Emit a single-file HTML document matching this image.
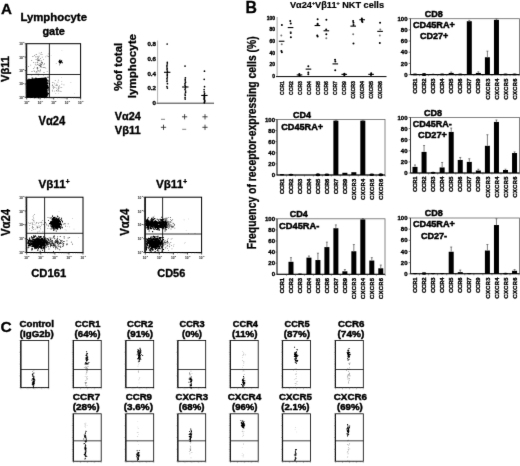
<!DOCTYPE html>
<html><head><meta charset="utf-8"><title>Figure</title>
<style>
html,body{margin:0;padding:0;background:#fff;}
body{width:520px;height:466px;overflow:hidden;font-family:"Liberation Sans",sans-serif;}
svg{display:block;}
svg text{font-family:"Liberation Sans",sans-serif;}
</style></head><body>
<svg width="520" height="466" viewBox="0 0 520 466">
<rect width="520" height="466" fill="#fff"/>
<defs><filter id="soft" x="0" y="0" width="520" height="466" filterUnits="userSpaceOnUse"><feConvolveMatrix order="3" kernelMatrix="0.0052 0.0619 0.0052 0.0619 0.7314 0.0619 0.0052 0.0619 0.0052" divisor="1" edgeMode="duplicate" preserveAlpha="false"/></filter></defs>
<g id="fig" filter="url(#soft)">
<text x="0.9" y="13.6" font-size="15.2"   fill="#000" font-weight="bold"  stroke="#000" stroke-width="0.3">A</text>
<text x="20.4" y="20.5" font-size="11"  textLength="66.6" lengthAdjust="spacingAndGlyphs" fill="#000" font-weight="bold"  stroke="#000" stroke-width="0.35">Lymphocyte</text>
<text x="42.4" y="34.5" font-size="11"  textLength="22.6" lengthAdjust="spacingAndGlyphs" fill="#000" font-weight="bold"  stroke="#000" stroke-width="0.35">gate</text>
<text transform="translate(9.3 82) rotate(-90)" font-size="11.2"  textLength="26" lengthAdjust="spacingAndGlyphs" fill="#000" font-weight="bold"  stroke="#000" stroke-width="0.35">Vβ11</text>
<text x="38.5" y="125.2" font-size="12.4"  textLength="26.8" lengthAdjust="spacingAndGlyphs" fill="#000" font-weight="bold"  stroke="#000" stroke-width="0.3">Vα24</text>
<rect x="26.70" y="43.70" width="53.90" height="53.70" fill="none" stroke="#000" stroke-width="1.0" />
<line x1="49.4" y1="43.7" x2="49.4" y2="97.4" stroke="#111" stroke-width="0.9" />
<line x1="26.7" y1="74.5" x2="80.6" y2="74.5" stroke="#111" stroke-width="0.9" />
<line x1="26.3" y1="43.7" x2="26.3" y2="97.4" stroke="#111" stroke-width="1.3" />
<line x1="24.7" y1="43.7" x2="26.7" y2="43.7" stroke="#222" stroke-width="0.8" />
<line x1="26.7" y1="97.4" x2="26.7" y2="99.4" stroke="#222" stroke-width="0.8" />
<text x="19.2" y="45.2" font-size="3.2"   fill="#444" font-weight="bold"  stroke="#444" stroke-width="0.1">10</text>
<text x="23.099999999999998" y="43.400000000000006" font-size="2.4"   fill="#444" font-weight="bold"  stroke="#444" stroke-width="0.1">4</text>
<text x="24.2" y="103.7" font-size="3.2"   fill="#444" font-weight="bold"  stroke="#444" stroke-width="0.1">10</text>
<text x="28.099999999999998" y="101.9" font-size="2.4"   fill="#444" font-weight="bold"  stroke="#444" stroke-width="0.1">0</text>
<line x1="24.7" y1="57.125" x2="26.7" y2="57.125" stroke="#222" stroke-width="0.8" />
<line x1="40.175" y1="97.4" x2="40.175" y2="99.4" stroke="#222" stroke-width="0.8" />
<text x="19.2" y="58.625" font-size="3.2"   fill="#444" font-weight="bold"  stroke="#444" stroke-width="0.1">10</text>
<text x="23.099999999999998" y="56.825" font-size="2.4"   fill="#444" font-weight="bold"  stroke="#444" stroke-width="0.1">3</text>
<text x="37.675" y="103.7" font-size="3.2"   fill="#444" font-weight="bold"  stroke="#444" stroke-width="0.1">10</text>
<text x="41.574999999999996" y="101.9" font-size="2.4"   fill="#444" font-weight="bold"  stroke="#444" stroke-width="0.1">1</text>
<line x1="24.7" y1="70.55000000000001" x2="26.7" y2="70.55000000000001" stroke="#222" stroke-width="0.8" />
<line x1="53.64999999999999" y1="97.4" x2="53.64999999999999" y2="99.4" stroke="#222" stroke-width="0.8" />
<text x="19.2" y="72.05000000000001" font-size="3.2"   fill="#444" font-weight="bold"  stroke="#444" stroke-width="0.1">10</text>
<text x="23.099999999999998" y="70.25000000000001" font-size="2.4"   fill="#444" font-weight="bold"  stroke="#444" stroke-width="0.1">2</text>
<text x="51.14999999999999" y="103.7" font-size="3.2"   fill="#444" font-weight="bold"  stroke="#444" stroke-width="0.1">10</text>
<text x="55.04999999999999" y="101.9" font-size="2.4"   fill="#444" font-weight="bold"  stroke="#444" stroke-width="0.1">2</text>
<line x1="24.7" y1="83.97500000000001" x2="26.7" y2="83.97500000000001" stroke="#222" stroke-width="0.8" />
<line x1="67.125" y1="97.4" x2="67.125" y2="99.4" stroke="#222" stroke-width="0.8" />
<text x="19.2" y="85.47500000000001" font-size="3.2"   fill="#444" font-weight="bold"  stroke="#444" stroke-width="0.1">10</text>
<text x="23.099999999999998" y="83.67500000000001" font-size="2.4"   fill="#444" font-weight="bold"  stroke="#444" stroke-width="0.1">1</text>
<text x="64.625" y="103.7" font-size="3.2"   fill="#444" font-weight="bold"  stroke="#444" stroke-width="0.1">10</text>
<text x="68.525" y="101.9" font-size="2.4"   fill="#444" font-weight="bold"  stroke="#444" stroke-width="0.1">3</text>
<line x1="24.7" y1="97.4" x2="26.7" y2="97.4" stroke="#222" stroke-width="0.8" />
<line x1="80.6" y1="97.4" x2="80.6" y2="99.4" stroke="#222" stroke-width="0.8" />
<text x="19.2" y="98.9" font-size="3.2"   fill="#444" font-weight="bold"  stroke="#444" stroke-width="0.1">10</text>
<text x="23.099999999999998" y="97.10000000000001" font-size="2.4"   fill="#444" font-weight="bold"  stroke="#444" stroke-width="0.1">0</text>
<text x="78.1" y="103.7" font-size="3.2"   fill="#444" font-weight="bold"  stroke="#444" stroke-width="0.1">10</text>
<text x="82.0" y="101.9" font-size="2.4"   fill="#444" font-weight="bold"  stroke="#444" stroke-width="0.1">4</text>
<line x1="25.5" y1="93.3725" x2="26.7" y2="93.3725" stroke="#444" stroke-width="0.4" />
<line x1="30.7425" y1="97.4" x2="30.7425" y2="98.60000000000001" stroke="#444" stroke-width="0.4" />
<line x1="25.5" y1="90.956" x2="26.7" y2="90.956" stroke="#444" stroke-width="0.4" />
<line x1="33.168" y1="97.4" x2="33.168" y2="98.60000000000001" stroke="#444" stroke-width="0.4" />
<line x1="25.5" y1="89.345" x2="26.7" y2="89.345" stroke="#444" stroke-width="0.4" />
<line x1="34.785" y1="97.4" x2="34.785" y2="98.60000000000001" stroke="#444" stroke-width="0.4" />
<line x1="25.5" y1="88.00250000000001" x2="26.7" y2="88.00250000000001" stroke="#444" stroke-width="0.4" />
<line x1="36.13249999999999" y1="97.4" x2="36.13249999999999" y2="98.60000000000001" stroke="#444" stroke-width="0.4" />
<line x1="25.5" y1="86.9285" x2="26.7" y2="86.9285" stroke="#444" stroke-width="0.4" />
<line x1="37.210499999999996" y1="97.4" x2="37.210499999999996" y2="98.60000000000001" stroke="#444" stroke-width="0.4" />
<line x1="25.5" y1="85.98875000000001" x2="26.7" y2="85.98875000000001" stroke="#444" stroke-width="0.4" />
<line x1="38.153749999999995" y1="97.4" x2="38.153749999999995" y2="98.60000000000001" stroke="#444" stroke-width="0.4" />
<line x1="25.5" y1="85.31750000000001" x2="26.7" y2="85.31750000000001" stroke="#444" stroke-width="0.4" />
<line x1="38.8275" y1="97.4" x2="38.8275" y2="98.60000000000001" stroke="#444" stroke-width="0.4" />
<line x1="25.5" y1="84.64625000000001" x2="26.7" y2="84.64625000000001" stroke="#444" stroke-width="0.4" />
<line x1="39.50125" y1="97.4" x2="39.50125" y2="98.60000000000001" stroke="#444" stroke-width="0.4" />
<line x1="25.5" y1="79.9475" x2="26.7" y2="79.9475" stroke="#444" stroke-width="0.4" />
<line x1="44.2175" y1="97.4" x2="44.2175" y2="98.60000000000001" stroke="#444" stroke-width="0.4" />
<line x1="25.5" y1="77.531" x2="26.7" y2="77.531" stroke="#444" stroke-width="0.4" />
<line x1="46.643" y1="97.4" x2="46.643" y2="98.60000000000001" stroke="#444" stroke-width="0.4" />
<line x1="25.5" y1="75.92" x2="26.7" y2="75.92" stroke="#444" stroke-width="0.4" />
<line x1="48.26" y1="97.4" x2="48.26" y2="98.60000000000001" stroke="#444" stroke-width="0.4" />
<line x1="25.5" y1="74.5775" x2="26.7" y2="74.5775" stroke="#444" stroke-width="0.4" />
<line x1="49.607499999999995" y1="97.4" x2="49.607499999999995" y2="98.60000000000001" stroke="#444" stroke-width="0.4" />
<line x1="25.5" y1="73.5035" x2="26.7" y2="73.5035" stroke="#444" stroke-width="0.4" />
<line x1="50.6855" y1="97.4" x2="50.6855" y2="98.60000000000001" stroke="#444" stroke-width="0.4" />
<line x1="25.5" y1="72.56375" x2="26.7" y2="72.56375" stroke="#444" stroke-width="0.4" />
<line x1="51.62875" y1="97.4" x2="51.62875" y2="98.60000000000001" stroke="#444" stroke-width="0.4" />
<line x1="25.5" y1="71.89250000000001" x2="26.7" y2="71.89250000000001" stroke="#444" stroke-width="0.4" />
<line x1="52.302499999999995" y1="97.4" x2="52.302499999999995" y2="98.60000000000001" stroke="#444" stroke-width="0.4" />
<line x1="25.5" y1="71.22125" x2="26.7" y2="71.22125" stroke="#444" stroke-width="0.4" />
<line x1="52.97624999999999" y1="97.4" x2="52.97624999999999" y2="98.60000000000001" stroke="#444" stroke-width="0.4" />
<line x1="25.5" y1="66.52250000000001" x2="26.7" y2="66.52250000000001" stroke="#444" stroke-width="0.4" />
<line x1="57.692499999999995" y1="97.4" x2="57.692499999999995" y2="98.60000000000001" stroke="#444" stroke-width="0.4" />
<line x1="25.5" y1="64.106" x2="26.7" y2="64.106" stroke="#444" stroke-width="0.4" />
<line x1="60.117999999999995" y1="97.4" x2="60.117999999999995" y2="98.60000000000001" stroke="#444" stroke-width="0.4" />
<line x1="25.5" y1="62.495000000000005" x2="26.7" y2="62.495000000000005" stroke="#444" stroke-width="0.4" />
<line x1="61.735" y1="97.4" x2="61.735" y2="98.60000000000001" stroke="#444" stroke-width="0.4" />
<line x1="25.5" y1="61.1525" x2="26.7" y2="61.1525" stroke="#444" stroke-width="0.4" />
<line x1="63.082499999999996" y1="97.4" x2="63.082499999999996" y2="98.60000000000001" stroke="#444" stroke-width="0.4" />
<line x1="25.5" y1="60.0785" x2="26.7" y2="60.0785" stroke="#444" stroke-width="0.4" />
<line x1="64.1605" y1="97.4" x2="64.1605" y2="98.60000000000001" stroke="#444" stroke-width="0.4" />
<line x1="25.5" y1="59.13875" x2="26.7" y2="59.13875" stroke="#444" stroke-width="0.4" />
<line x1="65.10374999999999" y1="97.4" x2="65.10374999999999" y2="98.60000000000001" stroke="#444" stroke-width="0.4" />
<line x1="25.5" y1="58.46750000000001" x2="26.7" y2="58.46750000000001" stroke="#444" stroke-width="0.4" />
<line x1="65.77749999999999" y1="97.4" x2="65.77749999999999" y2="98.60000000000001" stroke="#444" stroke-width="0.4" />
<line x1="25.5" y1="57.79625" x2="26.7" y2="57.79625" stroke="#444" stroke-width="0.4" />
<line x1="66.45125" y1="97.4" x2="66.45125" y2="98.60000000000001" stroke="#444" stroke-width="0.4" />
<line x1="25.5" y1="53.097500000000004" x2="26.7" y2="53.097500000000004" stroke="#444" stroke-width="0.4" />
<line x1="71.16749999999999" y1="97.4" x2="71.16749999999999" y2="98.60000000000001" stroke="#444" stroke-width="0.4" />
<line x1="25.5" y1="50.681000000000004" x2="26.7" y2="50.681000000000004" stroke="#444" stroke-width="0.4" />
<line x1="73.59299999999999" y1="97.4" x2="73.59299999999999" y2="98.60000000000001" stroke="#444" stroke-width="0.4" />
<line x1="25.5" y1="49.07" x2="26.7" y2="49.07" stroke="#444" stroke-width="0.4" />
<line x1="75.21" y1="97.4" x2="75.21" y2="98.60000000000001" stroke="#444" stroke-width="0.4" />
<line x1="25.5" y1="47.7275" x2="26.7" y2="47.7275" stroke="#444" stroke-width="0.4" />
<line x1="76.55749999999999" y1="97.4" x2="76.55749999999999" y2="98.60000000000001" stroke="#444" stroke-width="0.4" />
<line x1="25.5" y1="46.6535" x2="26.7" y2="46.6535" stroke="#444" stroke-width="0.4" />
<line x1="77.6355" y1="97.4" x2="77.6355" y2="98.60000000000001" stroke="#444" stroke-width="0.4" />
<line x1="25.5" y1="45.713750000000005" x2="26.7" y2="45.713750000000005" stroke="#444" stroke-width="0.4" />
<line x1="78.57874999999999" y1="97.4" x2="78.57874999999999" y2="98.60000000000001" stroke="#444" stroke-width="0.4" />
<line x1="25.5" y1="45.042500000000004" x2="26.7" y2="45.042500000000004" stroke="#444" stroke-width="0.4" />
<line x1="79.25249999999998" y1="97.4" x2="79.25249999999998" y2="98.60000000000001" stroke="#444" stroke-width="0.4" />
<line x1="25.5" y1="44.37125" x2="26.7" y2="44.37125" stroke="#444" stroke-width="0.4" />
<line x1="79.92625" y1="97.4" x2="79.92625" y2="98.60000000000001" stroke="#444" stroke-width="0.4" />
<path d="M26.7 79.6 L33 78.6 L42 77.8 L46.6 77.6 L47.2 81 L47.0 97 L26.7 97.3 Z" fill="#000"/>
<path d="M28.4 89.5h1.0v1.0h-1.0zM44.0 83.7h1.0v1.0h-1.0zM27.7 86.6h1.0v1.0h-1.0zM40.3 94.1h1.0v1.0h-1.0zM28.5 78.6h1.0v1.0h-1.0zM41.9 90.1h1.0v1.0h-1.0zM47.7 93.4h1.0v1.0h-1.0zM36.3 85.2h1.0v1.0h-1.0zM31.5 79.6h1.0v1.0h-1.0zM37.7 87.9h1.0v1.0h-1.0zM34.6 86.6h1.0v1.0h-1.0zM38.9 91.5h1.0v1.0h-1.0zM44.7 88.4h1.0v1.0h-1.0zM27.1 85.9h1.0v1.0h-1.0zM31.6 88.4h1.0v1.0h-1.0zM42.9 78.4h1.0v1.0h-1.0zM35.0 91.3h1.0v1.0h-1.0zM36.4 89.4h1.0v1.0h-1.0zM37.7 80.5h1.0v1.0h-1.0zM40.9 81.7h1.0v1.0h-1.0zM41.8 87.0h1.0v1.0h-1.0zM43.7 83.1h1.0v1.0h-1.0zM44.0 86.2h1.0v1.0h-1.0zM45.8 91.1h1.0v1.0h-1.0zM38.0 81.9h1.0v1.0h-1.0zM42.4 90.0h1.0v1.0h-1.0zM40.9 90.3h1.0v1.0h-1.0zM39.0 88.4h1.0v1.0h-1.0zM38.3 83.1h1.0v1.0h-1.0zM29.9 84.4h1.0v1.0h-1.0zM41.1 96.8h1.0v1.0h-1.0zM43.8 93.8h1.0v1.0h-1.0zM42.4 91.5h1.0v1.0h-1.0zM38.3 92.0h1.0v1.0h-1.0zM38.7 93.3h1.0v1.0h-1.0zM43.1 79.6h1.0v1.0h-1.0zM38.2 91.9h1.0v1.0h-1.0zM37.9 81.3h1.0v1.0h-1.0zM36.2 89.4h1.0v1.0h-1.0zM44.8 91.6h1.0v1.0h-1.0zM37.4 95.8h1.0v1.0h-1.0zM31.7 92.2h1.0v1.0h-1.0zM44.8 85.1h1.0v1.0h-1.0zM38.7 90.4h1.0v1.0h-1.0zM47.8 80.5h1.0v1.0h-1.0zM37.0 91.2h1.0v1.0h-1.0zM44.0 81.0h1.0v1.0h-1.0zM34.1 88.4h1.0v1.0h-1.0zM37.8 97.1h1.0v1.0h-1.0zM32.2 83.9h1.0v1.0h-1.0zM42.0 96.3h1.0v1.0h-1.0zM41.6 89.0h1.0v1.0h-1.0zM32.7 83.5h1.0v1.0h-1.0zM41.1 84.8h1.0v1.0h-1.0zM42.5 87.5h1.0v1.0h-1.0zM34.7 87.8h1.0v1.0h-1.0zM40.0 92.6h1.0v1.0h-1.0zM33.7 85.5h1.0v1.0h-1.0zM47.2 85.8h1.0v1.0h-1.0zM33.7 79.0h1.0v1.0h-1.0zM38.2 88.3h1.0v1.0h-1.0zM46.9 88.2h1.0v1.0h-1.0zM44.8 90.7h1.0v1.0h-1.0zM30.6 94.9h1.0v1.0h-1.0zM43.0 80.6h1.0v1.0h-1.0zM32.1 82.5h1.0v1.0h-1.0zM28.7 82.6h1.0v1.0h-1.0zM45.8 91.5h1.0v1.0h-1.0zM36.1 80.6h1.0v1.0h-1.0zM36.1 78.5h1.0v1.0h-1.0zM47.1 92.4h1.0v1.0h-1.0zM46.3 88.6h1.0v1.0h-1.0zM32.0 87.6h1.0v1.0h-1.0zM34.4 79.8h1.0v1.0h-1.0zM37.0 88.0h1.0v1.0h-1.0zM33.7 96.3h1.0v1.0h-1.0zM38.3 90.8h1.0v1.0h-1.0zM45.5 81.7h1.0v1.0h-1.0zM32.2 95.5h1.0v1.0h-1.0zM39.4 93.5h1.0v1.0h-1.0zM42.0 82.6h1.0v1.0h-1.0zM31.7 84.2h1.0v1.0h-1.0zM42.4 92.7h1.0v1.0h-1.0zM36.3 90.9h1.0v1.0h-1.0zM31.7 88.6h1.0v1.0h-1.0zM38.6 93.5h1.0v1.0h-1.0zM31.3 81.6h1.0v1.0h-1.0zM44.6 86.2h1.0v1.0h-1.0zM38.6 87.7h1.0v1.0h-1.0zM38.4 85.6h1.0v1.0h-1.0zM34.7 78.8h1.0v1.0h-1.0zM40.8 87.4h1.0v1.0h-1.0zM35.5 87.4h1.0v1.0h-1.0zM39.5 82.8h1.0v1.0h-1.0zM38.4 88.6h1.0v1.0h-1.0zM31.8 81.9h1.0v1.0h-1.0zM30.0 80.1h1.0v1.0h-1.0zM35.1 83.0h1.0v1.0h-1.0zM32.7 87.6h1.0v1.0h-1.0zM44.9 87.5h1.0v1.0h-1.0zM36.0 83.0h1.0v1.0h-1.0zM36.1 92.9h1.0v1.0h-1.0zM34.2 79.5h1.0v1.0h-1.0zM28.2 79.8h1.0v1.0h-1.0zM27.3 94.1h1.0v1.0h-1.0zM39.5 85.5h1.0v1.0h-1.0zM47.2 82.7h1.0v1.0h-1.0zM42.3 92.2h1.0v1.0h-1.0zM30.5 92.9h1.0v1.0h-1.0zM46.1 79.0h1.0v1.0h-1.0zM44.3 84.5h1.0v1.0h-1.0zM34.2 83.4h1.0v1.0h-1.0zM30.0 79.0h1.0v1.0h-1.0zM41.0 82.3h1.0v1.0h-1.0zM43.6 90.5h1.0v1.0h-1.0zM35.3 87.1h1.0v1.0h-1.0zM37.9 84.8h1.0v1.0h-1.0zM38.3 83.2h1.0v1.0h-1.0zM30.7 96.9h1.0v1.0h-1.0zM39.5 89.8h1.0v1.0h-1.0zM42.7 78.6h1.0v1.0h-1.0zM44.7 84.5h1.0v1.0h-1.0zM39.8 86.1h1.0v1.0h-1.0zM38.5 94.8h1.0v1.0h-1.0zM34.2 97.2h1.0v1.0h-1.0zM31.5 80.9h1.0v1.0h-1.0zM42.0 80.1h1.0v1.0h-1.0zM34.4 92.9h1.0v1.0h-1.0zM45.4 85.4h1.0v1.0h-1.0zM32.8 85.1h1.0v1.0h-1.0zM28.9 85.3h1.0v1.0h-1.0zM35.7 86.1h1.0v1.0h-1.0zM45.3 85.5h1.0v1.0h-1.0zM26.8 93.8h1.0v1.0h-1.0zM29.5 84.1h1.0v1.0h-1.0zM36.1 84.8h1.0v1.0h-1.0zM30.0 85.4h1.0v1.0h-1.0zM36.0 94.3h1.0v1.0h-1.0zM42.2 92.0h1.0v1.0h-1.0zM31.0 87.8h1.0v1.0h-1.0zM40.5 95.4h1.0v1.0h-1.0zM40.3 85.5h1.0v1.0h-1.0zM37.3 85.6h1.0v1.0h-1.0zM38.7 91.4h1.0v1.0h-1.0zM34.6 81.7h1.0v1.0h-1.0zM31.0 94.1h1.0v1.0h-1.0zM46.0 93.4h1.0v1.0h-1.0zM43.0 92.4h1.0v1.0h-1.0zM37.0 91.3h1.0v1.0h-1.0zM29.6 85.7h1.0v1.0h-1.0zM31.9 91.7h1.0v1.0h-1.0zM32.9 86.3h1.0v1.0h-1.0zM39.8 95.8h1.0v1.0h-1.0zM31.5 80.9h1.0v1.0h-1.0zM42.7 79.8h1.0v1.0h-1.0zM40.2 83.3h1.0v1.0h-1.0zM42.0 83.7h1.0v1.0h-1.0zM39.9 84.7h1.0v1.0h-1.0zM36.8 89.9h1.0v1.0h-1.0zM40.6 81.1h1.0v1.0h-1.0zM37.9 83.7h1.0v1.0h-1.0zM28.3 92.7h1.0v1.0h-1.0zM41.7 87.5h1.0v1.0h-1.0zM40.4 86.4h1.0v1.0h-1.0zM38.0 89.3h1.0v1.0h-1.0zM38.5 88.1h1.0v1.0h-1.0zM29.0 84.5h1.0v1.0h-1.0zM33.4 85.5h1.0v1.0h-1.0zM38.9 91.0h1.0v1.0h-1.0zM39.8 85.7h1.0v1.0h-1.0zM33.4 93.5h1.0v1.0h-1.0zM29.6 86.3h1.0v1.0h-1.0zM36.1 86.4h1.0v1.0h-1.0zM40.2 93.5h1.0v1.0h-1.0zM36.5 80.4h1.0v1.0h-1.0zM38.4 90.7h1.0v1.0h-1.0zM35.8 86.9h1.0v1.0h-1.0zM46.9 79.7h1.0v1.0h-1.0zM32.1 82.2h1.0v1.0h-1.0zM30.3 82.5h1.0v1.0h-1.0zM39.8 80.9h1.0v1.0h-1.0zM37.7 80.4h1.0v1.0h-1.0zM36.5 84.6h1.0v1.0h-1.0zM32.7 93.1h1.0v1.0h-1.0zM43.5 87.4h1.0v1.0h-1.0zM30.7 80.0h1.0v1.0h-1.0zM33.8 81.9h1.0v1.0h-1.0zM32.1 79.9h1.0v1.0h-1.0zM30.2 85.7h1.0v1.0h-1.0zM47.0 87.0h1.0v1.0h-1.0zM38.5 86.8h1.0v1.0h-1.0zM28.4 79.9h1.0v1.0h-1.0zM36.7 93.6h1.0v1.0h-1.0zM41.4 88.3h1.0v1.0h-1.0zM34.7 89.1h1.0v1.0h-1.0zM29.1 84.6h1.0v1.0h-1.0zM45.9 85.3h1.0v1.0h-1.0zM47.0 86.7h1.0v1.0h-1.0zM38.0 84.6h1.0v1.0h-1.0zM27.3 80.7h1.0v1.0h-1.0zM41.2 93.2h1.0v1.0h-1.0zM41.0 93.6h1.0v1.0h-1.0zM35.1 85.5h1.0v1.0h-1.0zM43.9 84.7h1.0v1.0h-1.0zM27.7 85.5h1.0v1.0h-1.0zM33.2 91.0h1.0v1.0h-1.0zM32.0 80.1h1.0v1.0h-1.0zM34.7 97.1h1.0v1.0h-1.0zM36.7 88.0h1.0v1.0h-1.0zM37.1 88.9h1.0v1.0h-1.0zM43.5 96.1h1.0v1.0h-1.0zM37.0 84.9h1.0v1.0h-1.0zM29.8 90.2h1.0v1.0h-1.0zM42.2 86.2h1.0v1.0h-1.0zM35.7 79.8h1.0v1.0h-1.0zM34.2 85.1h1.0v1.0h-1.0zM31.5 82.0h1.0v1.0h-1.0zM37.7 89.0h1.0v1.0h-1.0zM33.4 86.4h1.0v1.0h-1.0zM27.3 90.4h1.0v1.0h-1.0zM31.8 88.4h1.0v1.0h-1.0zM30.7 83.7h1.0v1.0h-1.0zM38.5 79.1h1.0v1.0h-1.0zM36.5 82.2h1.0v1.0h-1.0zM39.1 78.1h1.0v1.0h-1.0zM33.5 91.0h1.0v1.0h-1.0zM33.4 79.3h1.0v1.0h-1.0zM28.7 82.0h1.0v1.0h-1.0zM37.1 82.8h1.0v1.0h-1.0zM39.4 87.6h1.0v1.0h-1.0zM36.0 93.8h1.0v1.0h-1.0zM34.7 84.9h1.0v1.0h-1.0zM34.4 86.3h1.0v1.0h-1.0zM46.0 92.0h1.0v1.0h-1.0zM27.6 84.1h1.0v1.0h-1.0zM31.4 92.3h1.0v1.0h-1.0zM38.6 92.8h1.0v1.0h-1.0zM40.2 88.5h1.0v1.0h-1.0zM40.6 78.5h1.0v1.0h-1.0zM37.6 82.5h1.0v1.0h-1.0zM32.2 89.3h1.0v1.0h-1.0zM39.5 81.2h1.0v1.0h-1.0zM33.0 94.3h1.0v1.0h-1.0zM31.0 89.7h1.0v1.0h-1.0zM39.6 88.3h1.0v1.0h-1.0zM29.6 84.1h1.0v1.0h-1.0zM34.7 82.0h1.0v1.0h-1.0zM37.4 84.4h1.0v1.0h-1.0zM39.4 96.3h1.0v1.0h-1.0zM42.2 89.7h1.0v1.0h-1.0zM36.2 90.5h1.0v1.0h-1.0zM29.9 95.2h1.0v1.0h-1.0zM34.7 89.4h1.0v1.0h-1.0zM34.7 78.8h1.0v1.0h-1.0zM43.4 83.4h1.0v1.0h-1.0zM39.0 81.8h1.0v1.0h-1.0zM34.1 93.0h1.0v1.0h-1.0zM37.1 93.2h1.0v1.0h-1.0zM32.6 91.6h1.0v1.0h-1.0zM31.5 90.9h1.0v1.0h-1.0zM40.1 94.9h1.0v1.0h-1.0zM39.5 79.2h1.0v1.0h-1.0zM41.7 79.8h1.0v1.0h-1.0zM42.3 96.8h1.0v1.0h-1.0zM41.2 83.4h1.0v1.0h-1.0zM45.3 88.1h1.0v1.0h-1.0zM28.3 84.7h1.0v1.0h-1.0zM46.9 85.0h1.0v1.0h-1.0zM37.9 84.8h1.0v1.0h-1.0zM39.5 88.4h1.0v1.0h-1.0zM45.6 91.7h1.0v1.0h-1.0zM44.2 95.5h1.0v1.0h-1.0zM33.9 83.1h1.0v1.0h-1.0zM32.0 90.6h1.0v1.0h-1.0zM47.3 85.1h1.0v1.0h-1.0zM28.3 87.3h1.0v1.0h-1.0zM43.2 83.6h1.0v1.0h-1.0zM41.8 78.4h1.0v1.0h-1.0zM44.7 77.6h1.0v1.0h-1.0zM46.7 84.6h1.0v1.0h-1.0zM39.4 80.6h1.0v1.0h-1.0zM33.5 88.8h1.0v1.0h-1.0zM34.0 89.8h1.0v1.0h-1.0zM39.1 93.6h1.0v1.0h-1.0zM42.6 89.0h1.0v1.0h-1.0zM44.6 93.2h1.0v1.0h-1.0zM37.7 83.0h1.0v1.0h-1.0zM44.2 89.7h1.0v1.0h-1.0zM40.3 87.7h1.0v1.0h-1.0zM39.0 91.2h1.0v1.0h-1.0zM38.0 97.3h1.0v1.0h-1.0zM32.9 84.4h1.0v1.0h-1.0zM39.3 91.8h1.0v1.0h-1.0zM42.5 96.7h1.0v1.0h-1.0zM33.7 94.6h1.0v1.0h-1.0zM40.3 80.2h1.0v1.0h-1.0zM42.5 83.9h1.0v1.0h-1.0zM32.1 87.5h1.0v1.0h-1.0zM39.2 80.9h1.0v1.0h-1.0zM28.7 85.6h1.0v1.0h-1.0zM34.2 83.0h1.0v1.0h-1.0zM44.9 87.5h1.0v1.0h-1.0zM28.4 95.4h1.0v1.0h-1.0zM34.8 78.4h1.0v1.0h-1.0zM39.2 90.2h1.0v1.0h-1.0zM34.6 91.5h1.0v1.0h-1.0zM42.7 81.3h1.0v1.0h-1.0zM36.1 95.0h1.0v1.0h-1.0zM44.0 96.0h1.0v1.0h-1.0zM41.8 89.6h1.0v1.0h-1.0zM36.3 84.1h1.0v1.0h-1.0zM29.2 87.9h1.0v1.0h-1.0zM45.9 84.6h1.0v1.0h-1.0zM40.7 82.7h1.0v1.0h-1.0zM38.8 80.5h1.0v1.0h-1.0zM39.6 85.6h1.0v1.0h-1.0zM39.2 83.1h1.0v1.0h-1.0zM28.8 84.9h1.0v1.0h-1.0zM44.3 97.3h1.0v1.0h-1.0zM34.7 92.2h1.0v1.0h-1.0zM42.3 89.6h1.0v1.0h-1.0zM30.2 94.6h1.0v1.0h-1.0zM42.5 91.0h1.0v1.0h-1.0zM41.9 78.7h1.0v1.0h-1.0zM43.8 87.5h1.0v1.0h-1.0zM35.7 82.4h1.0v1.0h-1.0zM29.9 84.2h1.0v1.0h-1.0zM38.5 82.8h1.0v1.0h-1.0zM32.7 83.4h1.0v1.0h-1.0zM30.8 92.7h1.0v1.0h-1.0zM35.1 92.6h1.0v1.0h-1.0zM28.9 93.0h1.0v1.0h-1.0zM36.8 91.3h1.0v1.0h-1.0zM36.3 81.2h1.0v1.0h-1.0zM45.5 84.2h1.0v1.0h-1.0zM36.0 81.2h1.0v1.0h-1.0zM38.4 84.5h1.0v1.0h-1.0zM39.0 89.2h1.0v1.0h-1.0zM32.2 77.8h1.0v1.0h-1.0zM40.0 93.0h1.0v1.0h-1.0zM41.9 79.6h1.0v1.0h-1.0zM41.2 89.5h1.0v1.0h-1.0zM39.0 89.8h1.0v1.0h-1.0zM34.7 88.4h1.0v1.0h-1.0zM43.5 83.7h1.0v1.0h-1.0zM26.9 86.3h1.0v1.0h-1.0zM32.3 90.8h1.0v1.0h-1.0zM35.9 87.6h1.0v1.0h-1.0zM28.2 92.9h1.0v1.0h-1.0zM31.9 79.5h1.0v1.0h-1.0zM43.2 87.7h1.0v1.0h-1.0zM31.4 94.9h1.0v1.0h-1.0zM42.4 90.9h1.0v1.0h-1.0zM41.4 79.0h1.0v1.0h-1.0zM43.5 96.3h1.0v1.0h-1.0zM44.2 82.3h1.0v1.0h-1.0zM32.0 93.1h1.0v1.0h-1.0zM44.0 95.0h1.0v1.0h-1.0zM45.4 86.4h1.0v1.0h-1.0zM33.8 83.9h1.0v1.0h-1.0zM41.5 89.4h1.0v1.0h-1.0zM27.4 82.4h1.0v1.0h-1.0zM32.0 92.6h1.0v1.0h-1.0zM28.4 84.8h1.0v1.0h-1.0zM31.9 85.1h1.0v1.0h-1.0zM40.9 79.0h1.0v1.0h-1.0zM46.4 95.4h1.0v1.0h-1.0zM37.5 95.5h1.0v1.0h-1.0zM39.2 83.4h1.0v1.0h-1.0zM34.3 86.2h1.0v1.0h-1.0zM41.3 87.8h1.0v1.0h-1.0zM33.7 82.3h1.0v1.0h-1.0zM31.6 77.6h1.0v1.0h-1.0zM30.1 92.9h1.0v1.0h-1.0zM37.4 85.9h1.0v1.0h-1.0zM39.5 93.9h1.0v1.0h-1.0zM41.3 92.0h1.0v1.0h-1.0zM33.1 85.3h1.0v1.0h-1.0zM31.6 86.4h1.0v1.0h-1.0zM31.3 84.6h1.0v1.0h-1.0zM35.8 85.6h1.0v1.0h-1.0zM35.1 83.8h1.0v1.0h-1.0zM46.2 84.8h1.0v1.0h-1.0zM29.9 88.3h1.0v1.0h-1.0zM29.4 80.0h1.0v1.0h-1.0zM30.7 90.8h1.0v1.0h-1.0zM28.6 85.7h1.0v1.0h-1.0zM36.0 89.0h1.0v1.0h-1.0zM35.9 78.3h1.0v1.0h-1.0zM37.1 81.5h1.0v1.0h-1.0zM34.8 85.6h1.0v1.0h-1.0zM42.4 92.0h1.0v1.0h-1.0zM30.0 86.9h1.0v1.0h-1.0zM47.2 90.2h1.0v1.0h-1.0zM31.9 86.2h1.0v1.0h-1.0zM34.6 93.1h1.0v1.0h-1.0zM37.2 89.4h1.0v1.0h-1.0zM47.1 93.7h1.0v1.0h-1.0zM43.2 92.7h1.0v1.0h-1.0zM37.2 86.9h1.0v1.0h-1.0zM37.2 92.5h1.0v1.0h-1.0zM35.9 89.1h1.0v1.0h-1.0zM47.2 79.7h1.0v1.0h-1.0zM31.7 90.7h1.0v1.0h-1.0zM35.2 86.0h1.0v1.0h-1.0zM34.1 94.1h1.0v1.0h-1.0zM32.3 87.8h1.0v1.0h-1.0zM40.7 84.4h1.0v1.0h-1.0zM40.4 81.8h1.0v1.0h-1.0zM32.8 87.7h1.0v1.0h-1.0zM39.9 95.8h1.0v1.0h-1.0zM40.2 88.0h1.0v1.0h-1.0zM36.1 81.4h1.0v1.0h-1.0zM36.1 83.6h1.0v1.0h-1.0zM34.3 87.9h1.0v1.0h-1.0zM38.0 92.5h1.0v1.0h-1.0zM35.9 82.8h1.0v1.0h-1.0zM39.2 91.3h1.0v1.0h-1.0zM29.8 93.9h1.0v1.0h-1.0zM44.0 81.2h1.0v1.0h-1.0zM37.8 92.5h1.0v1.0h-1.0zM46.3 82.7h1.0v1.0h-1.0zM35.3 96.2h1.0v1.0h-1.0zM29.0 89.9h1.0v1.0h-1.0zM34.9 86.6h1.0v1.0h-1.0zM32.4 83.9h1.0v1.0h-1.0zM41.9 89.8h1.0v1.0h-1.0zM37.2 82.1h1.0v1.0h-1.0zM35.4 95.1h1.0v1.0h-1.0zM38.8 86.9h1.0v1.0h-1.0zM32.6 87.0h1.0v1.0h-1.0zM27.5 83.8h1.0v1.0h-1.0zM30.5 94.4h1.0v1.0h-1.0zM38.7 79.3h1.0v1.0h-1.0zM33.6 79.8h1.0v1.0h-1.0zM41.1 85.8h1.0v1.0h-1.0zM37.8 83.2h1.0v1.0h-1.0zM33.0 84.0h1.0v1.0h-1.0zM37.7 94.5h1.0v1.0h-1.0zM38.7 95.4h1.0v1.0h-1.0zM35.1 87.0h1.0v1.0h-1.0zM27.9 81.1h1.0v1.0h-1.0zM38.7 90.4h1.0v1.0h-1.0zM45.1 87.8h1.0v1.0h-1.0zM30.1 89.8h1.0v1.0h-1.0zM29.0 83.6h1.0v1.0h-1.0zM38.3 82.4h1.0v1.0h-1.0zM40.7 91.5h1.0v1.0h-1.0zM42.9 88.5h1.0v1.0h-1.0zM30.8 81.5h1.0v1.0h-1.0zM36.1 95.6h1.0v1.0h-1.0zM39.5 91.4h1.0v1.0h-1.0zM42.8 95.4h1.0v1.0h-1.0zM43.7 89.5h1.0v1.0h-1.0zM33.8 90.4h1.0v1.0h-1.0zM39.0 86.6h1.0v1.0h-1.0zM40.9 86.7h1.0v1.0h-1.0zM42.0 88.2h1.0v1.0h-1.0zM40.0 84.7h1.0v1.0h-1.0zM32.4 90.4h1.0v1.0h-1.0zM34.5 88.2h1.0v1.0h-1.0zM37.7 91.9h1.0v1.0h-1.0zM32.1 85.5h1.0v1.0h-1.0zM32.8 91.4h1.0v1.0h-1.0zM46.6 86.0h1.0v1.0h-1.0zM43.9 88.6h1.0v1.0h-1.0zM35.6 85.2h1.0v1.0h-1.0zM31.0 95.3h1.0v1.0h-1.0zM43.2 80.5h1.0v1.0h-1.0zM42.9 82.3h1.0v1.0h-1.0zM28.0 94.7h1.0v1.0h-1.0zM38.4 92.9h1.0v1.0h-1.0zM40.6 94.5h1.0v1.0h-1.0zM39.4 90.8h1.0v1.0h-1.0zM38.7 94.1h1.0v1.0h-1.0zM34.3 93.6h1.0v1.0h-1.0zM47.5 86.6h1.0v1.0h-1.0zM40.1 83.7h1.0v1.0h-1.0zM35.0 88.7h1.0v1.0h-1.0zM34.6 81.2h1.0v1.0h-1.0zM36.8 88.2h1.0v1.0h-1.0zM39.3 91.6h1.0v1.0h-1.0zM35.8 82.0h1.0v1.0h-1.0zM34.4 89.9h1.0v1.0h-1.0zM43.1 84.6h1.0v1.0h-1.0zM38.2 86.3h1.0v1.0h-1.0zM34.0 92.8h1.0v1.0h-1.0zM31.5 96.9h1.0v1.0h-1.0zM34.7 86.7h1.0v1.0h-1.0zM32.9 90.0h1.0v1.0h-1.0zM40.9 87.9h1.0v1.0h-1.0zM35.5 86.1h1.0v1.0h-1.0zM34.2 93.3h1.0v1.0h-1.0zM33.4 86.0h1.0v1.0h-1.0zM35.5 82.1h1.0v1.0h-1.0zM35.4 77.5h1.0v1.0h-1.0zM39.9 90.5h1.0v1.0h-1.0zM34.9 97.1h1.0v1.0h-1.0zM31.3 90.6h1.0v1.0h-1.0zM40.3 83.5h1.0v1.0h-1.0z" fill="#000" fill-opacity="1.0"/>
<path d="M45.6 92.8h0.9v0.9h-0.9zM46.1 88.8h0.9v0.9h-0.9zM48.2 88.4h0.9v0.9h-0.9zM43.3 82.2h0.9v0.9h-0.9zM47.3 86.2h0.9v0.9h-0.9zM46.5 96.7h0.9v0.9h-0.9zM46.8 83.5h0.9v0.9h-0.9zM45.5 84.9h0.9v0.9h-0.9zM44.6 89.8h0.9v0.9h-0.9zM47.5 89.4h0.9v0.9h-0.9zM45.1 93.7h0.9v0.9h-0.9zM45.8 90.8h0.9v0.9h-0.9zM44.5 91.2h0.9v0.9h-0.9zM47.2 95.3h0.9v0.9h-0.9zM46.0 89.9h0.9v0.9h-0.9zM45.1 92.7h0.9v0.9h-0.9zM47.2 94.0h0.9v0.9h-0.9zM45.4 79.1h0.9v0.9h-0.9zM45.9 85.7h0.9v0.9h-0.9zM44.8 90.9h0.9v0.9h-0.9zM47.5 89.5h0.9v0.9h-0.9zM47.8 89.6h0.9v0.9h-0.9zM44.5 83.2h0.9v0.9h-0.9zM45.4 91.4h0.9v0.9h-0.9zM47.5 87.9h0.9v0.9h-0.9zM47.6 81.7h0.9v0.9h-0.9zM45.8 96.6h0.9v0.9h-0.9zM46.7 93.7h0.9v0.9h-0.9zM44.6 93.5h0.9v0.9h-0.9zM48.6 83.0h0.9v0.9h-0.9zM44.4 80.5h0.9v0.9h-0.9zM44.6 90.6h0.9v0.9h-0.9zM47.1 82.6h0.9v0.9h-0.9zM46.4 86.0h0.9v0.9h-0.9zM47.3 92.8h0.9v0.9h-0.9zM45.5 92.7h0.9v0.9h-0.9zM46.9 86.5h0.9v0.9h-0.9zM46.4 91.4h0.9v0.9h-0.9zM45.5 82.7h0.9v0.9h-0.9zM48.0 87.0h0.9v0.9h-0.9zM45.1 90.0h0.9v0.9h-0.9zM43.7 87.4h0.9v0.9h-0.9zM43.9 84.3h0.9v0.9h-0.9zM43.2 82.4h0.9v0.9h-0.9zM47.4 85.9h0.9v0.9h-0.9zM45.0 96.5h0.9v0.9h-0.9zM45.2 77.7h0.9v0.9h-0.9zM48.9 84.3h0.9v0.9h-0.9zM47.2 94.6h0.9v0.9h-0.9zM43.9 87.5h0.9v0.9h-0.9zM45.1 90.9h0.9v0.9h-0.9zM46.0 79.0h0.9v0.9h-0.9zM46.1 91.9h0.9v0.9h-0.9zM45.5 90.6h0.9v0.9h-0.9zM45.2 86.7h0.9v0.9h-0.9zM46.6 87.9h0.9v0.9h-0.9zM48.0 93.1h0.9v0.9h-0.9zM47.3 91.6h0.9v0.9h-0.9zM46.3 79.6h0.9v0.9h-0.9zM46.4 85.4h0.9v0.9h-0.9zM46.0 94.7h0.9v0.9h-0.9zM46.5 80.8h0.9v0.9h-0.9zM45.7 82.2h0.9v0.9h-0.9zM45.7 81.4h0.9v0.9h-0.9zM44.6 96.5h0.9v0.9h-0.9zM47.7 76.8h0.9v0.9h-0.9zM44.5 84.2h0.9v0.9h-0.9zM45.4 78.3h0.9v0.9h-0.9zM47.4 76.8h0.9v0.9h-0.9zM47.1 91.5h0.9v0.9h-0.9z" fill="#000" fill-opacity="1.0"/>
<path d="M37.9 59.9h0.8v0.8h-0.8zM39.2 65.0h0.8v0.8h-0.8zM32.5 56.1h0.8v0.8h-0.8zM40.7 63.4h0.8v0.8h-0.8zM37.7 57.7h0.8v0.8h-0.8zM36.8 59.2h0.8v0.8h-0.8zM47.8 56.1h0.8v0.8h-0.8zM43.8 67.1h0.8v0.8h-0.8zM39.7 65.3h0.8v0.8h-0.8zM37.8 74.3h0.8v0.8h-0.8zM40.6 63.9h0.8v0.8h-0.8zM38.6 65.3h0.8v0.8h-0.8zM35.5 62.0h0.8v0.8h-0.8zM37.1 68.0h0.8v0.8h-0.8zM40.9 52.2h0.8v0.8h-0.8zM38.3 70.3h0.8v0.8h-0.8zM35.0 56.5h0.8v0.8h-0.8zM42.2 63.2h0.8v0.8h-0.8zM37.6 56.3h0.8v0.8h-0.8zM39.6 60.5h0.8v0.8h-0.8zM39.7 66.8h0.8v0.8h-0.8zM41.2 62.0h0.8v0.8h-0.8zM37.4 64.2h0.8v0.8h-0.8zM38.7 65.1h0.8v0.8h-0.8zM37.4 62.5h0.8v0.8h-0.8zM37.2 60.3h0.8v0.8h-0.8zM39.5 71.4h0.8v0.8h-0.8zM37.3 67.8h0.8v0.8h-0.8zM40.1 64.8h0.8v0.8h-0.8zM41.2 60.5h0.8v0.8h-0.8zM40.8 66.0h0.8v0.8h-0.8zM28.1 66.3h0.8v0.8h-0.8zM35.7 64.7h0.8v0.8h-0.8zM40.1 57.9h0.8v0.8h-0.8zM42.8 66.9h0.8v0.8h-0.8zM36.5 56.4h0.8v0.8h-0.8zM33.3 68.3h0.8v0.8h-0.8zM38.7 60.0h0.8v0.8h-0.8zM40.9 64.7h0.8v0.8h-0.8zM39.9 65.7h0.8v0.8h-0.8zM35.6 72.4h0.8v0.8h-0.8zM37.6 71.3h0.8v0.8h-0.8zM41.2 64.3h0.8v0.8h-0.8zM39.5 63.8h0.8v0.8h-0.8zM33.3 62.0h0.8v0.8h-0.8zM40.4 53.8h0.8v0.8h-0.8zM34.3 70.9h0.8v0.8h-0.8zM41.6 54.2h0.8v0.8h-0.8zM40.5 63.7h0.8v0.8h-0.8zM42.1 62.0h0.8v0.8h-0.8zM38.3 59.3h0.8v0.8h-0.8zM39.6 63.2h0.8v0.8h-0.8zM37.0 61.8h0.8v0.8h-0.8zM36.7 68.0h0.8v0.8h-0.8zM35.8 54.1h0.8v0.8h-0.8zM36.0 71.0h0.8v0.8h-0.8zM37.4 68.2h0.8v0.8h-0.8zM41.3 60.8h0.8v0.8h-0.8zM41.4 67.3h0.8v0.8h-0.8zM38.9 59.5h0.8v0.8h-0.8zM38.8 55.8h0.8v0.8h-0.8zM38.2 60.3h0.8v0.8h-0.8zM40.4 66.2h0.8v0.8h-0.8zM37.0 69.6h0.8v0.8h-0.8zM42.8 64.5h0.8v0.8h-0.8zM36.7 67.3h0.8v0.8h-0.8zM31.3 60.3h0.8v0.8h-0.8zM36.7 73.8h0.8v0.8h-0.8zM31.6 71.1h0.8v0.8h-0.8zM39.6 70.5h0.8v0.8h-0.8zM38.5 60.1h0.8v0.8h-0.8zM38.3 73.7h0.8v0.8h-0.8zM41.7 62.1h0.8v0.8h-0.8zM40.2 69.6h0.8v0.8h-0.8zM40.8 63.8h0.8v0.8h-0.8zM36.9 59.3h0.8v0.8h-0.8zM37.6 60.5h0.8v0.8h-0.8zM34.0 54.9h0.8v0.8h-0.8zM41.8 56.8h0.8v0.8h-0.8zM34.9 63.7h0.8v0.8h-0.8zM43.6 72.1h0.8v0.8h-0.8zM37.7 57.4h0.8v0.8h-0.8zM37.3 58.2h0.8v0.8h-0.8zM37.3 67.1h0.8v0.8h-0.8zM35.6 59.0h0.8v0.8h-0.8z" fill="#000" fill-opacity="0.6"/>
<path d="M38.8 52.7h0.7v0.7h-0.7zM40.9 62.3h0.7v0.7h-0.7zM40.3 65.7h0.7v0.7h-0.7zM46.7 55.5h0.7v0.7h-0.7zM37.9 74.8h0.7v0.7h-0.7zM43.0 59.2h0.7v0.7h-0.7zM43.0 74.8h0.7v0.7h-0.7zM36.6 72.0h0.7v0.7h-0.7zM31.4 74.8h0.7v0.7h-0.7zM38.3 57.4h0.7v0.7h-0.7zM45.0 66.9h0.7v0.7h-0.7zM46.8 71.1h0.7v0.7h-0.7zM44.2 63.8h0.7v0.7h-0.7zM47.9 53.5h0.7v0.7h-0.7zM45.5 68.4h0.7v0.7h-0.7zM33.8 70.6h0.7v0.7h-0.7zM37.6 64.3h0.7v0.7h-0.7zM45.4 56.5h0.7v0.7h-0.7zM34.3 66.8h0.7v0.7h-0.7zM30.4 64.8h0.7v0.7h-0.7zM44.0 63.3h0.7v0.7h-0.7zM33.6 70.4h0.7v0.7h-0.7z" fill="#000" fill-opacity="0.55"/>
<path d="M60.8 60.2h0.9v0.9h-0.9zM58.7 60.8h0.9v0.9h-0.9zM60.2 60.9h0.9v0.9h-0.9zM59.9 61.6h0.9v0.9h-0.9zM60.7 61.5h0.9v0.9h-0.9zM61.0 60.2h0.9v0.9h-0.9zM60.4 61.6h0.9v0.9h-0.9zM59.1 62.3h0.9v0.9h-0.9zM59.0 60.1h0.9v0.9h-0.9zM62.0 62.3h0.9v0.9h-0.9zM60.4 62.4h0.9v0.9h-0.9zM60.9 60.4h0.9v0.9h-0.9zM60.4 62.4h0.9v0.9h-0.9zM60.0 61.4h0.9v0.9h-0.9zM59.8 61.9h0.9v0.9h-0.9zM59.7 60.8h0.9v0.9h-0.9zM59.2 60.6h0.9v0.9h-0.9zM60.3 61.7h0.9v0.9h-0.9zM59.8 60.5h0.9v0.9h-0.9zM60.3 61.6h0.9v0.9h-0.9zM61.0 60.9h0.9v0.9h-0.9zM59.8 61.7h0.9v0.9h-0.9zM61.2 61.3h0.9v0.9h-0.9zM60.0 60.5h0.9v0.9h-0.9zM59.8 62.1h0.9v0.9h-0.9zM60.7 62.2h0.9v0.9h-0.9zM58.9 62.0h0.9v0.9h-0.9zM59.4 61.8h0.9v0.9h-0.9zM58.4 61.2h0.9v0.9h-0.9zM59.5 62.3h0.9v0.9h-0.9zM60.2 62.3h0.9v0.9h-0.9zM59.8 62.9h0.9v0.9h-0.9z" fill="#000" fill-opacity="1.0"/>
<path d="M59.3 64.7h0.7v0.7h-0.7zM59.2 59.5h0.7v0.7h-0.7zM61.7 60.6h0.7v0.7h-0.7zM60.0 58.9h0.7v0.7h-0.7zM59.5 61.5h0.7v0.7h-0.7zM58.8 62.0h0.7v0.7h-0.7zM55.9 62.9h0.7v0.7h-0.7zM59.4 64.0h0.7v0.7h-0.7zM59.5 60.1h0.7v0.7h-0.7zM59.3 61.8h0.7v0.7h-0.7z" fill="#000" fill-opacity="0.6"/>
<path d="M57.3 84.7h0.7v0.7h-0.7zM53.1 88.2h0.7v0.7h-0.7zM58.0 79.8h0.7v0.7h-0.7zM52.3 83.9h0.7v0.7h-0.7zM60.7 91.2h0.7v0.7h-0.7zM57.9 88.4h0.7v0.7h-0.7zM52.1 90.8h0.7v0.7h-0.7zM54.2 83.5h0.7v0.7h-0.7zM61.4 80.9h0.7v0.7h-0.7zM59.7 87.3h0.7v0.7h-0.7zM52.7 87.2h0.7v0.7h-0.7zM52.9 87.2h0.7v0.7h-0.7zM53.5 81.9h0.7v0.7h-0.7zM63.6 84.6h0.7v0.7h-0.7zM58.5 86.3h0.7v0.7h-0.7zM57.6 81.7h0.7v0.7h-0.7zM58.6 88.2h0.7v0.7h-0.7zM51.9 89.7h0.7v0.7h-0.7zM56.2 90.0h0.7v0.7h-0.7zM57.4 89.5h0.7v0.7h-0.7zM55.4 84.9h0.7v0.7h-0.7zM57.7 91.3h0.7v0.7h-0.7zM52.0 82.1h0.7v0.7h-0.7zM55.4 93.4h0.7v0.7h-0.7zM54.9 80.0h0.7v0.7h-0.7zM58.0 89.4h0.7v0.7h-0.7zM61.4 87.2h0.7v0.7h-0.7zM61.5 83.7h0.7v0.7h-0.7zM58.3 87.0h0.7v0.7h-0.7zM51.9 85.5h0.7v0.7h-0.7zM59.6 90.8h0.7v0.7h-0.7zM54.4 90.8h0.7v0.7h-0.7zM58.3 90.0h0.7v0.7h-0.7zM56.4 87.7h0.7v0.7h-0.7zM53.0 86.3h0.7v0.7h-0.7zM55.9 83.7h0.7v0.7h-0.7zM54.6 87.2h0.7v0.7h-0.7zM56.2 90.6h0.7v0.7h-0.7zM52.4 85.0h0.7v0.7h-0.7zM56.3 85.1h0.7v0.7h-0.7zM56.5 84.7h0.7v0.7h-0.7zM59.1 85.6h0.7v0.7h-0.7z" fill="#000" fill-opacity="0.6"/>
<path d="M61.4 77.5h0.6v0.6h-0.6zM74.2 93.4h0.6v0.6h-0.6zM61.6 50.5h0.6v0.6h-0.6zM54.3 86.8h0.6v0.6h-0.6zM70.6 82.1h0.6v0.6h-0.6zM54.4 73.9h0.6v0.6h-0.6zM50.8 55.0h0.6v0.6h-0.6zM58.4 93.5h0.6v0.6h-0.6z" fill="#000" fill-opacity="0.4"/>
<text transform="translate(122.0 91.0) rotate(-90)" font-size="11"  textLength="48.2" lengthAdjust="spacingAndGlyphs" fill="#000" font-weight="bold"  stroke="#000" stroke-width="0.3">%of total</text>
<text transform="translate(135.8 98.2) rotate(-90)" font-size="11"  textLength="64.2" lengthAdjust="spacingAndGlyphs" fill="#000" font-weight="bold"  stroke="#000" stroke-width="0.3">lymphocyte</text>
<text x="156" y="46.2" font-size="6.2" text-anchor="end"  fill="#000" font-weight="bold"  stroke="#000" stroke-width="0.35">0.8</text>
<text x="156" y="60.90000000000001" font-size="6.2" text-anchor="end"  fill="#000" font-weight="bold"  stroke="#000" stroke-width="0.35">0.6</text>
<text x="156" y="75.60000000000001" font-size="6.2" text-anchor="end"  fill="#000" font-weight="bold"  stroke="#000" stroke-width="0.35">0.4</text>
<text x="156" y="90.3" font-size="6.2" text-anchor="end"  fill="#000" font-weight="bold"  stroke="#000" stroke-width="0.35">0.2</text>
<text x="156" y="105.0" font-size="6.2" text-anchor="end"  fill="#000" font-weight="bold"  stroke="#000" stroke-width="0.35">0</text>
<line x1="156.5" y1="103.2" x2="214" y2="103.2" stroke="#222" stroke-width="0.9" />
<line x1="157.6" y1="40.5" x2="157.6" y2="103.5" stroke="#666" stroke-width="0.5" />
<circle cx="167.18" cy="44.00" r="0.85" fill="#000"/>
<circle cx="167.29" cy="62.37" r="0.85" fill="#000"/>
<circle cx="167.30" cy="63.84" r="0.85" fill="#000"/>
<circle cx="166.99" cy="65.31" r="0.85" fill="#000"/>
<circle cx="166.91" cy="66.78" r="0.85" fill="#000"/>
<circle cx="167.12" cy="68.25" r="0.85" fill="#000"/>
<circle cx="167.06" cy="69.72" r="0.85" fill="#000"/>
<circle cx="167.39" cy="71.19" r="0.85" fill="#000"/>
<circle cx="167.31" cy="72.67" r="0.85" fill="#000"/>
<circle cx="167.26" cy="74.14" r="0.85" fill="#000"/>
<circle cx="167.23" cy="75.60" r="0.85" fill="#000"/>
<circle cx="167.30" cy="77.08" r="0.85" fill="#000"/>
<circle cx="166.99" cy="78.55" r="0.85" fill="#000"/>
<circle cx="167.16" cy="80.02" r="0.85" fill="#000"/>
<circle cx="167.00" cy="81.48" r="0.85" fill="#000"/>
<circle cx="167.44" cy="83.69" r="0.85" fill="#000"/>
<circle cx="166.94" cy="86.63" r="0.85" fill="#000"/>
<circle cx="167.39" cy="88.10" r="0.85" fill="#000"/>
<line x1="164.0" y1="72.2975" x2="170.39999999999998" y2="72.2975" stroke="#000" stroke-width="1.1" />
<circle cx="185.04" cy="66.05" r="0.85" fill="#000"/>
<circle cx="185.41" cy="77.81" r="0.85" fill="#000"/>
<circle cx="185.20" cy="79.28" r="0.85" fill="#000"/>
<circle cx="185.24" cy="80.75" r="0.85" fill="#000"/>
<circle cx="185.51" cy="82.22" r="0.85" fill="#000"/>
<circle cx="185.01" cy="83.69" r="0.85" fill="#000"/>
<circle cx="185.04" cy="85.16" r="0.85" fill="#000"/>
<circle cx="185.55" cy="86.63" r="0.85" fill="#000"/>
<circle cx="185.31" cy="88.10" r="0.85" fill="#000"/>
<circle cx="185.05" cy="89.57" r="0.85" fill="#000"/>
<circle cx="185.59" cy="91.04" r="0.85" fill="#000"/>
<circle cx="185.57" cy="92.51" r="0.85" fill="#000"/>
<circle cx="185.07" cy="93.98" r="0.85" fill="#000"/>
<circle cx="185.25" cy="95.45" r="0.85" fill="#000"/>
<circle cx="185.08" cy="97.66" r="0.85" fill="#000"/>
<circle cx="185.19" cy="99.12" r="0.85" fill="#000"/>
<line x1="182.10000000000002" y1="86.9975" x2="188.5" y2="86.9975" stroke="#000" stroke-width="1.1" />
<circle cx="204.47" cy="71.19" r="0.85" fill="#000"/>
<circle cx="204.20" cy="79.28" r="0.85" fill="#000"/>
<circle cx="204.52" cy="86.63" r="0.85" fill="#000"/>
<circle cx="204.13" cy="89.57" r="0.85" fill="#000"/>
<circle cx="204.20" cy="91.78" r="0.85" fill="#000"/>
<circle cx="204.59" cy="93.25" r="0.85" fill="#000"/>
<circle cx="204.34" cy="94.72" r="0.85" fill="#000"/>
<circle cx="204.35" cy="96.19" r="0.85" fill="#000"/>
<circle cx="204.46" cy="96.92" r="0.85" fill="#000"/>
<circle cx="204.39" cy="97.66" r="0.85" fill="#000"/>
<circle cx="204.33" cy="98.39" r="0.85" fill="#000"/>
<circle cx="204.12" cy="99.12" r="0.85" fill="#000"/>
<circle cx="204.54" cy="99.86" r="0.85" fill="#000"/>
<circle cx="204.68" cy="100.59" r="0.85" fill="#000"/>
<circle cx="204.69" cy="101.33" r="0.85" fill="#000"/>
<circle cx="204.50" cy="102.06" r="0.85" fill="#000"/>
<circle cx="204.31" cy="102.80" r="0.85" fill="#000"/>
<line x1="201.20000000000002" y1="95.45" x2="207.6" y2="95.45" stroke="#000" stroke-width="1.1" />
<text x="114.8" y="119.9" font-size="11.5"  textLength="26" lengthAdjust="spacingAndGlyphs" fill="#000" font-weight="bold"  stroke="#000" stroke-width="0.35">Vα24</text>
<text x="114.8" y="133.5" font-size="11.5"  textLength="26" lengthAdjust="spacingAndGlyphs" fill="#000" font-weight="bold"  stroke="#000" stroke-width="0.35">Vβ11</text>
<line x1="161" y1="119.3" x2="165" y2="119.3" stroke="#666" stroke-width="0.8" />
<line x1="182.0" y1="116.8" x2="187.2" y2="116.8" stroke="#333" stroke-width="0.9" />
<line x1="184.6" y1="114.2" x2="184.6" y2="119.39999999999999" stroke="#333" stroke-width="0.9" />
<line x1="202.4" y1="116.8" x2="207.6" y2="116.8" stroke="#333" stroke-width="0.9" />
<line x1="205" y1="114.2" x2="205" y2="119.39999999999999" stroke="#333" stroke-width="0.9" />
<line x1="160.9" y1="127.3" x2="166.1" y2="127.3" stroke="#333" stroke-width="0.9" />
<line x1="163.5" y1="124.7" x2="163.5" y2="129.9" stroke="#333" stroke-width="0.9" />
<line x1="182.2" y1="129.3" x2="186.2" y2="129.3" stroke="#666" stroke-width="0.8" />
<line x1="202.4" y1="127.3" x2="207.6" y2="127.3" stroke="#333" stroke-width="0.9" />
<line x1="205" y1="124.7" x2="205" y2="129.9" stroke="#333" stroke-width="0.9" />
<text x="38.5" y="187.8" font-size="11.5" font-weight="bold" stroke="#000" stroke-width="0.3" textLength="31" lengthAdjust="spacingAndGlyphs">Vβ11<tspan font-size="6.5" dy="-4.2" stroke="#000" stroke-width="0.4">+</tspan></text>
<text x="156" y="187.8" font-size="11.5" font-weight="bold" stroke="#000" stroke-width="0.3" textLength="31" lengthAdjust="spacingAndGlyphs">Vβ11<tspan font-size="6.5" dy="-4.2" stroke="#000" stroke-width="0.4">+</tspan></text>
<rect x="26.70" y="197.20" width="56.30" height="55.30" fill="none" stroke="#000" stroke-width="1.0" />
<line x1="44.6" y1="197.2" x2="44.6" y2="252.5" stroke="#111" stroke-width="0.9" />
<line x1="26.7" y1="233.3" x2="83" y2="233.3" stroke="#111" stroke-width="0.9" />
<line x1="26.3" y1="197.2" x2="26.3" y2="252.5" stroke="#111" stroke-width="1.3" />
<line x1="24.7" y1="197.2" x2="26.7" y2="197.2" stroke="#222" stroke-width="0.8" />
<line x1="26.7" y1="252.5" x2="26.7" y2="254.5" stroke="#222" stroke-width="0.8" />
<text x="19.2" y="198.7" font-size="3.2"   fill="#444" font-weight="bold"  stroke="#444" stroke-width="0.1">10</text>
<text x="23.099999999999998" y="196.89999999999998" font-size="2.4"   fill="#444" font-weight="bold"  stroke="#444" stroke-width="0.1">4</text>
<text x="24.2" y="258.8" font-size="3.2"   fill="#444" font-weight="bold"  stroke="#444" stroke-width="0.1">10</text>
<text x="28.099999999999998" y="257.0" font-size="2.4"   fill="#444" font-weight="bold"  stroke="#444" stroke-width="0.1">0</text>
<line x1="24.7" y1="211.02499999999998" x2="26.7" y2="211.02499999999998" stroke="#222" stroke-width="0.8" />
<line x1="40.775" y1="252.5" x2="40.775" y2="254.5" stroke="#222" stroke-width="0.8" />
<text x="19.2" y="212.52499999999998" font-size="3.2"   fill="#444" font-weight="bold"  stroke="#444" stroke-width="0.1">10</text>
<text x="23.099999999999998" y="210.72499999999997" font-size="2.4"   fill="#444" font-weight="bold"  stroke="#444" stroke-width="0.1">3</text>
<text x="38.275" y="258.8" font-size="3.2"   fill="#444" font-weight="bold"  stroke="#444" stroke-width="0.1">10</text>
<text x="42.175" y="257.0" font-size="2.4"   fill="#444" font-weight="bold"  stroke="#444" stroke-width="0.1">1</text>
<line x1="24.7" y1="224.85" x2="26.7" y2="224.85" stroke="#222" stroke-width="0.8" />
<line x1="54.849999999999994" y1="252.5" x2="54.849999999999994" y2="254.5" stroke="#222" stroke-width="0.8" />
<text x="19.2" y="226.35" font-size="3.2"   fill="#444" font-weight="bold"  stroke="#444" stroke-width="0.1">10</text>
<text x="23.099999999999998" y="224.54999999999998" font-size="2.4"   fill="#444" font-weight="bold"  stroke="#444" stroke-width="0.1">2</text>
<text x="52.349999999999994" y="258.8" font-size="3.2"   fill="#444" font-weight="bold"  stroke="#444" stroke-width="0.1">10</text>
<text x="56.24999999999999" y="257.0" font-size="2.4"   fill="#444" font-weight="bold"  stroke="#444" stroke-width="0.1">2</text>
<line x1="24.7" y1="238.675" x2="26.7" y2="238.675" stroke="#222" stroke-width="0.8" />
<line x1="68.925" y1="252.5" x2="68.925" y2="254.5" stroke="#222" stroke-width="0.8" />
<text x="19.2" y="240.175" font-size="3.2"   fill="#444" font-weight="bold"  stroke="#444" stroke-width="0.1">10</text>
<text x="23.099999999999998" y="238.375" font-size="2.4"   fill="#444" font-weight="bold"  stroke="#444" stroke-width="0.1">1</text>
<text x="66.425" y="258.8" font-size="3.2"   fill="#444" font-weight="bold"  stroke="#444" stroke-width="0.1">10</text>
<text x="70.325" y="257.0" font-size="2.4"   fill="#444" font-weight="bold"  stroke="#444" stroke-width="0.1">3</text>
<line x1="24.7" y1="252.5" x2="26.7" y2="252.5" stroke="#222" stroke-width="0.8" />
<line x1="83.0" y1="252.5" x2="83.0" y2="254.5" stroke="#222" stroke-width="0.8" />
<text x="19.2" y="254.0" font-size="3.2"   fill="#444" font-weight="bold"  stroke="#444" stroke-width="0.1">10</text>
<text x="23.099999999999998" y="252.2" font-size="2.4"   fill="#444" font-weight="bold"  stroke="#444" stroke-width="0.1">0</text>
<text x="80.5" y="258.8" font-size="3.2"   fill="#444" font-weight="bold"  stroke="#444" stroke-width="0.1">10</text>
<text x="84.4" y="257.0" font-size="2.4"   fill="#444" font-weight="bold"  stroke="#444" stroke-width="0.1">4</text>
<line x1="25.5" y1="248.3525" x2="26.7" y2="248.3525" stroke="#444" stroke-width="0.4" />
<line x1="30.9225" y1="252.5" x2="30.9225" y2="253.7" stroke="#444" stroke-width="0.4" />
<line x1="25.5" y1="245.864" x2="26.7" y2="245.864" stroke="#444" stroke-width="0.4" />
<line x1="33.455999999999996" y1="252.5" x2="33.455999999999996" y2="253.7" stroke="#444" stroke-width="0.4" />
<line x1="25.5" y1="244.20499999999998" x2="26.7" y2="244.20499999999998" stroke="#444" stroke-width="0.4" />
<line x1="35.144999999999996" y1="252.5" x2="35.144999999999996" y2="253.7" stroke="#444" stroke-width="0.4" />
<line x1="25.5" y1="242.8225" x2="26.7" y2="242.8225" stroke="#444" stroke-width="0.4" />
<line x1="36.552499999999995" y1="252.5" x2="36.552499999999995" y2="253.7" stroke="#444" stroke-width="0.4" />
<line x1="25.5" y1="241.7165" x2="26.7" y2="241.7165" stroke="#444" stroke-width="0.4" />
<line x1="37.6785" y1="252.5" x2="37.6785" y2="253.7" stroke="#444" stroke-width="0.4" />
<line x1="25.5" y1="240.74875" x2="26.7" y2="240.74875" stroke="#444" stroke-width="0.4" />
<line x1="38.66375" y1="252.5" x2="38.66375" y2="253.7" stroke="#444" stroke-width="0.4" />
<line x1="25.5" y1="240.0575" x2="26.7" y2="240.0575" stroke="#444" stroke-width="0.4" />
<line x1="39.3675" y1="252.5" x2="39.3675" y2="253.7" stroke="#444" stroke-width="0.4" />
<line x1="25.5" y1="239.36625" x2="26.7" y2="239.36625" stroke="#444" stroke-width="0.4" />
<line x1="40.07125" y1="252.5" x2="40.07125" y2="253.7" stroke="#444" stroke-width="0.4" />
<line x1="25.5" y1="234.5275" x2="26.7" y2="234.5275" stroke="#444" stroke-width="0.4" />
<line x1="44.9975" y1="252.5" x2="44.9975" y2="253.7" stroke="#444" stroke-width="0.4" />
<line x1="25.5" y1="232.039" x2="26.7" y2="232.039" stroke="#444" stroke-width="0.4" />
<line x1="47.531" y1="252.5" x2="47.531" y2="253.7" stroke="#444" stroke-width="0.4" />
<line x1="25.5" y1="230.38" x2="26.7" y2="230.38" stroke="#444" stroke-width="0.4" />
<line x1="49.22" y1="252.5" x2="49.22" y2="253.7" stroke="#444" stroke-width="0.4" />
<line x1="25.5" y1="228.9975" x2="26.7" y2="228.9975" stroke="#444" stroke-width="0.4" />
<line x1="50.6275" y1="252.5" x2="50.6275" y2="253.7" stroke="#444" stroke-width="0.4" />
<line x1="25.5" y1="227.8915" x2="26.7" y2="227.8915" stroke="#444" stroke-width="0.4" />
<line x1="51.7535" y1="252.5" x2="51.7535" y2="253.7" stroke="#444" stroke-width="0.4" />
<line x1="25.5" y1="226.92374999999998" x2="26.7" y2="226.92374999999998" stroke="#444" stroke-width="0.4" />
<line x1="52.738749999999996" y1="252.5" x2="52.738749999999996" y2="253.7" stroke="#444" stroke-width="0.4" />
<line x1="25.5" y1="226.2325" x2="26.7" y2="226.2325" stroke="#444" stroke-width="0.4" />
<line x1="53.442499999999995" y1="252.5" x2="53.442499999999995" y2="253.7" stroke="#444" stroke-width="0.4" />
<line x1="25.5" y1="225.54125" x2="26.7" y2="225.54125" stroke="#444" stroke-width="0.4" />
<line x1="54.146249999999995" y1="252.5" x2="54.146249999999995" y2="253.7" stroke="#444" stroke-width="0.4" />
<line x1="25.5" y1="220.7025" x2="26.7" y2="220.7025" stroke="#444" stroke-width="0.4" />
<line x1="59.07249999999999" y1="252.5" x2="59.07249999999999" y2="253.7" stroke="#444" stroke-width="0.4" />
<line x1="25.5" y1="218.214" x2="26.7" y2="218.214" stroke="#444" stroke-width="0.4" />
<line x1="61.605999999999995" y1="252.5" x2="61.605999999999995" y2="253.7" stroke="#444" stroke-width="0.4" />
<line x1="25.5" y1="216.555" x2="26.7" y2="216.555" stroke="#444" stroke-width="0.4" />
<line x1="63.295" y1="252.5" x2="63.295" y2="253.7" stroke="#444" stroke-width="0.4" />
<line x1="25.5" y1="215.17249999999999" x2="26.7" y2="215.17249999999999" stroke="#444" stroke-width="0.4" />
<line x1="64.7025" y1="252.5" x2="64.7025" y2="253.7" stroke="#444" stroke-width="0.4" />
<line x1="25.5" y1="214.0665" x2="26.7" y2="214.0665" stroke="#444" stroke-width="0.4" />
<line x1="65.8285" y1="252.5" x2="65.8285" y2="253.7" stroke="#444" stroke-width="0.4" />
<line x1="25.5" y1="213.09875" x2="26.7" y2="213.09875" stroke="#444" stroke-width="0.4" />
<line x1="66.81375" y1="252.5" x2="66.81375" y2="253.7" stroke="#444" stroke-width="0.4" />
<line x1="25.5" y1="212.4075" x2="26.7" y2="212.4075" stroke="#444" stroke-width="0.4" />
<line x1="67.5175" y1="252.5" x2="67.5175" y2="253.7" stroke="#444" stroke-width="0.4" />
<line x1="25.5" y1="211.71625" x2="26.7" y2="211.71625" stroke="#444" stroke-width="0.4" />
<line x1="68.22125" y1="252.5" x2="68.22125" y2="253.7" stroke="#444" stroke-width="0.4" />
<line x1="25.5" y1="206.8775" x2="26.7" y2="206.8775" stroke="#444" stroke-width="0.4" />
<line x1="73.1475" y1="252.5" x2="73.1475" y2="253.7" stroke="#444" stroke-width="0.4" />
<line x1="25.5" y1="204.38899999999998" x2="26.7" y2="204.38899999999998" stroke="#444" stroke-width="0.4" />
<line x1="75.681" y1="252.5" x2="75.681" y2="253.7" stroke="#444" stroke-width="0.4" />
<line x1="25.5" y1="202.73" x2="26.7" y2="202.73" stroke="#444" stroke-width="0.4" />
<line x1="77.37" y1="252.5" x2="77.37" y2="253.7" stroke="#444" stroke-width="0.4" />
<line x1="25.5" y1="201.3475" x2="26.7" y2="201.3475" stroke="#444" stroke-width="0.4" />
<line x1="78.7775" y1="252.5" x2="78.7775" y2="253.7" stroke="#444" stroke-width="0.4" />
<line x1="25.5" y1="200.24149999999997" x2="26.7" y2="200.24149999999997" stroke="#444" stroke-width="0.4" />
<line x1="79.9035" y1="252.5" x2="79.9035" y2="253.7" stroke="#444" stroke-width="0.4" />
<line x1="25.5" y1="199.27374999999998" x2="26.7" y2="199.27374999999998" stroke="#444" stroke-width="0.4" />
<line x1="80.88875" y1="252.5" x2="80.88875" y2="253.7" stroke="#444" stroke-width="0.4" />
<line x1="25.5" y1="198.58249999999998" x2="26.7" y2="198.58249999999998" stroke="#444" stroke-width="0.4" />
<line x1="81.5925" y1="252.5" x2="81.5925" y2="253.7" stroke="#444" stroke-width="0.4" />
<line x1="25.5" y1="197.89124999999999" x2="26.7" y2="197.89124999999999" stroke="#444" stroke-width="0.4" />
<line x1="82.29625" y1="252.5" x2="82.29625" y2="253.7" stroke="#444" stroke-width="0.4" />
<path d="M55.4 226.8h1.05v1.05h-1.05zM53.6 218.5h1.05v1.05h-1.05zM56.3 224.7h1.05v1.05h-1.05zM56.7 224.4h1.05v1.05h-1.05zM55.5 221.7h1.05v1.05h-1.05zM53.9 222.7h1.05v1.05h-1.05zM54.9 225.6h1.05v1.05h-1.05zM57.4 220.1h1.05v1.05h-1.05zM57.6 223.2h1.05v1.05h-1.05zM58.7 227.0h1.05v1.05h-1.05zM57.3 218.8h1.05v1.05h-1.05zM57.5 219.3h1.05v1.05h-1.05zM59.8 221.6h1.05v1.05h-1.05zM55.4 227.9h1.05v1.05h-1.05zM51.4 223.3h1.05v1.05h-1.05zM53.2 222.0h1.05v1.05h-1.05zM53.9 225.0h1.05v1.05h-1.05zM55.1 224.2h1.05v1.05h-1.05zM57.5 218.9h1.05v1.05h-1.05zM59.4 222.7h1.05v1.05h-1.05zM51.7 221.6h1.05v1.05h-1.05zM58.1 225.8h1.05v1.05h-1.05zM54.1 223.5h1.05v1.05h-1.05zM56.5 225.9h1.05v1.05h-1.05zM55.5 225.8h1.05v1.05h-1.05zM53.6 221.5h1.05v1.05h-1.05zM57.6 225.1h1.05v1.05h-1.05zM55.8 224.8h1.05v1.05h-1.05zM56.4 225.2h1.05v1.05h-1.05zM58.9 224.6h1.05v1.05h-1.05zM58.0 222.3h1.05v1.05h-1.05zM54.5 217.3h1.05v1.05h-1.05zM56.9 223.4h1.05v1.05h-1.05zM57.2 218.5h1.05v1.05h-1.05zM54.7 221.9h1.05v1.05h-1.05zM51.3 225.6h1.05v1.05h-1.05zM59.0 220.0h1.05v1.05h-1.05zM57.0 227.7h1.05v1.05h-1.05zM52.8 225.8h1.05v1.05h-1.05zM59.9 228.1h1.05v1.05h-1.05zM52.4 220.6h1.05v1.05h-1.05zM56.4 226.4h1.05v1.05h-1.05zM52.7 221.4h1.05v1.05h-1.05zM53.0 226.1h1.05v1.05h-1.05zM54.5 224.8h1.05v1.05h-1.05zM57.5 226.3h1.05v1.05h-1.05zM57.0 224.2h1.05v1.05h-1.05zM58.9 224.5h1.05v1.05h-1.05zM52.7 221.9h1.05v1.05h-1.05zM58.2 223.6h1.05v1.05h-1.05zM55.0 223.9h1.05v1.05h-1.05zM64.4 223.2h1.05v1.05h-1.05zM57.1 224.5h1.05v1.05h-1.05zM55.2 226.3h1.05v1.05h-1.05zM58.1 224.3h1.05v1.05h-1.05zM52.4 226.5h1.05v1.05h-1.05zM57.9 223.1h1.05v1.05h-1.05zM49.0 223.1h1.05v1.05h-1.05zM52.8 222.7h1.05v1.05h-1.05zM54.6 221.2h1.05v1.05h-1.05zM58.5 223.6h1.05v1.05h-1.05zM59.1 220.8h1.05v1.05h-1.05zM55.4 226.8h1.05v1.05h-1.05zM56.7 221.4h1.05v1.05h-1.05zM53.6 221.8h1.05v1.05h-1.05zM55.7 225.1h1.05v1.05h-1.05zM56.3 225.2h1.05v1.05h-1.05zM58.0 223.6h1.05v1.05h-1.05zM59.2 225.2h1.05v1.05h-1.05zM55.4 222.9h1.05v1.05h-1.05zM55.8 221.4h1.05v1.05h-1.05zM52.4 223.4h1.05v1.05h-1.05zM54.6 224.8h1.05v1.05h-1.05zM54.4 223.5h1.05v1.05h-1.05zM56.4 222.1h1.05v1.05h-1.05zM56.4 221.4h1.05v1.05h-1.05zM54.8 225.3h1.05v1.05h-1.05zM56.9 223.3h1.05v1.05h-1.05zM53.9 225.1h1.05v1.05h-1.05zM61.0 217.7h1.05v1.05h-1.05zM58.6 223.8h1.05v1.05h-1.05zM58.7 226.3h1.05v1.05h-1.05zM53.3 227.7h1.05v1.05h-1.05zM54.4 222.6h1.05v1.05h-1.05zM57.5 223.1h1.05v1.05h-1.05zM56.6 222.0h1.05v1.05h-1.05zM53.2 223.3h1.05v1.05h-1.05zM53.1 226.7h1.05v1.05h-1.05zM56.5 226.9h1.05v1.05h-1.05zM52.7 217.9h1.05v1.05h-1.05zM50.0 222.3h1.05v1.05h-1.05zM52.6 224.2h1.05v1.05h-1.05zM52.1 219.7h1.05v1.05h-1.05zM56.6 222.3h1.05v1.05h-1.05zM57.6 225.3h1.05v1.05h-1.05zM56.8 220.1h1.05v1.05h-1.05zM53.6 229.1h1.05v1.05h-1.05zM55.3 224.0h1.05v1.05h-1.05zM56.2 223.2h1.05v1.05h-1.05zM55.4 221.8h1.05v1.05h-1.05zM54.5 218.1h1.05v1.05h-1.05zM60.1 223.0h1.05v1.05h-1.05zM52.5 224.6h1.05v1.05h-1.05zM57.6 219.6h1.05v1.05h-1.05zM54.5 227.1h1.05v1.05h-1.05zM57.3 224.4h1.05v1.05h-1.05zM58.4 222.9h1.05v1.05h-1.05zM55.1 227.4h1.05v1.05h-1.05zM55.4 223.1h1.05v1.05h-1.05zM57.5 223.4h1.05v1.05h-1.05zM52.7 228.1h1.05v1.05h-1.05zM55.7 227.9h1.05v1.05h-1.05zM57.2 220.9h1.05v1.05h-1.05zM59.8 222.8h1.05v1.05h-1.05zM53.7 223.2h1.05v1.05h-1.05zM50.4 224.3h1.05v1.05h-1.05zM54.0 222.6h1.05v1.05h-1.05zM53.6 225.0h1.05v1.05h-1.05zM56.8 226.0h1.05v1.05h-1.05zM60.1 224.0h1.05v1.05h-1.05zM56.1 224.1h1.05v1.05h-1.05zM53.8 221.9h1.05v1.05h-1.05zM57.8 221.1h1.05v1.05h-1.05zM50.9 222.4h1.05v1.05h-1.05zM56.5 227.0h1.05v1.05h-1.05zM54.0 220.9h1.05v1.05h-1.05zM56.1 222.9h1.05v1.05h-1.05zM56.5 221.9h1.05v1.05h-1.05zM56.4 221.8h1.05v1.05h-1.05zM58.4 224.0h1.05v1.05h-1.05zM57.3 222.1h1.05v1.05h-1.05zM52.2 223.3h1.05v1.05h-1.05zM55.7 226.1h1.05v1.05h-1.05zM58.3 223.2h1.05v1.05h-1.05zM55.7 220.7h1.05v1.05h-1.05zM55.7 223.8h1.05v1.05h-1.05zM54.8 220.5h1.05v1.05h-1.05zM59.1 220.9h1.05v1.05h-1.05zM60.1 226.3h1.05v1.05h-1.05zM59.8 221.1h1.05v1.05h-1.05zM57.4 219.7h1.05v1.05h-1.05zM54.9 219.4h1.05v1.05h-1.05zM54.0 222.0h1.05v1.05h-1.05zM58.3 226.0h1.05v1.05h-1.05zM54.9 222.5h1.05v1.05h-1.05zM53.4 220.3h1.05v1.05h-1.05zM51.3 222.7h1.05v1.05h-1.05zM57.3 221.3h1.05v1.05h-1.05zM56.8 220.3h1.05v1.05h-1.05zM53.3 221.9h1.05v1.05h-1.05zM58.1 221.9h1.05v1.05h-1.05zM57.8 222.3h1.05v1.05h-1.05zM53.0 218.1h1.05v1.05h-1.05zM54.6 220.8h1.05v1.05h-1.05zM58.1 224.3h1.05v1.05h-1.05zM51.7 225.4h1.05v1.05h-1.05zM57.2 215.9h1.05v1.05h-1.05zM53.2 223.8h1.05v1.05h-1.05zM51.8 221.4h1.05v1.05h-1.05zM57.1 223.8h1.05v1.05h-1.05zM56.9 224.8h1.05v1.05h-1.05zM53.6 229.2h1.05v1.05h-1.05zM57.1 228.6h1.05v1.05h-1.05zM55.1 224.6h1.05v1.05h-1.05zM56.7 222.8h1.05v1.05h-1.05zM56.6 223.9h1.05v1.05h-1.05zM57.9 224.0h1.05v1.05h-1.05zM55.9 224.4h1.05v1.05h-1.05zM59.5 223.4h1.05v1.05h-1.05zM57.3 223.6h1.05v1.05h-1.05zM50.8 220.9h1.05v1.05h-1.05zM53.5 219.7h1.05v1.05h-1.05zM54.2 218.7h1.05v1.05h-1.05zM56.5 221.8h1.05v1.05h-1.05zM58.9 224.2h1.05v1.05h-1.05zM52.6 222.6h1.05v1.05h-1.05zM55.9 221.5h1.05v1.05h-1.05zM54.9 220.5h1.05v1.05h-1.05zM53.9 223.9h1.05v1.05h-1.05zM55.0 226.2h1.05v1.05h-1.05zM50.5 221.2h1.05v1.05h-1.05zM54.9 226.9h1.05v1.05h-1.05zM58.6 225.1h1.05v1.05h-1.05zM58.2 227.2h1.05v1.05h-1.05zM57.5 222.6h1.05v1.05h-1.05zM56.2 221.4h1.05v1.05h-1.05zM55.2 224.1h1.05v1.05h-1.05zM54.5 223.4h1.05v1.05h-1.05zM54.7 219.9h1.05v1.05h-1.05zM52.2 224.9h1.05v1.05h-1.05zM55.8 225.2h1.05v1.05h-1.05zM55.5 223.1h1.05v1.05h-1.05zM56.4 222.3h1.05v1.05h-1.05zM59.2 225.7h1.05v1.05h-1.05zM56.7 220.5h1.05v1.05h-1.05zM54.4 223.6h1.05v1.05h-1.05zM58.6 223.0h1.05v1.05h-1.05zM55.7 224.4h1.05v1.05h-1.05zM56.0 222.7h1.05v1.05h-1.05zM52.9 226.2h1.05v1.05h-1.05zM55.6 221.8h1.05v1.05h-1.05zM55.4 219.8h1.05v1.05h-1.05zM51.5 218.6h1.05v1.05h-1.05zM56.6 219.8h1.05v1.05h-1.05zM56.0 220.1h1.05v1.05h-1.05zM51.2 221.5h1.05v1.05h-1.05zM53.8 221.3h1.05v1.05h-1.05zM60.0 223.6h1.05v1.05h-1.05zM54.2 225.2h1.05v1.05h-1.05zM54.9 226.1h1.05v1.05h-1.05zM51.8 225.8h1.05v1.05h-1.05zM52.9 221.2h1.05v1.05h-1.05zM56.2 220.4h1.05v1.05h-1.05zM51.5 222.1h1.05v1.05h-1.05zM54.9 218.9h1.05v1.05h-1.05zM58.1 221.0h1.05v1.05h-1.05zM54.1 222.5h1.05v1.05h-1.05zM55.7 225.7h1.05v1.05h-1.05zM50.2 223.0h1.05v1.05h-1.05zM57.8 223.6h1.05v1.05h-1.05zM55.4 220.2h1.05v1.05h-1.05zM56.5 221.8h1.05v1.05h-1.05zM56.0 220.4h1.05v1.05h-1.05zM54.8 222.6h1.05v1.05h-1.05zM51.9 225.6h1.05v1.05h-1.05zM55.3 219.8h1.05v1.05h-1.05zM55.0 223.3h1.05v1.05h-1.05zM54.7 220.4h1.05v1.05h-1.05zM55.0 219.6h1.05v1.05h-1.05zM51.4 225.9h1.05v1.05h-1.05zM59.9 227.7h1.05v1.05h-1.05zM61.3 226.4h1.05v1.05h-1.05zM53.3 221.6h1.05v1.05h-1.05zM58.4 221.8h1.05v1.05h-1.05zM54.7 223.0h1.05v1.05h-1.05zM56.7 219.6h1.05v1.05h-1.05zM55.7 224.2h1.05v1.05h-1.05zM50.5 225.8h1.05v1.05h-1.05zM57.5 221.0h1.05v1.05h-1.05zM60.2 224.0h1.05v1.05h-1.05zM56.8 226.9h1.05v1.05h-1.05zM49.2 223.0h1.05v1.05h-1.05zM58.3 226.6h1.05v1.05h-1.05zM55.5 222.5h1.05v1.05h-1.05zM53.7 222.2h1.05v1.05h-1.05zM53.5 217.0h1.05v1.05h-1.05zM54.1 220.5h1.05v1.05h-1.05zM54.1 221.9h1.05v1.05h-1.05zM54.4 223.3h1.05v1.05h-1.05zM55.4 222.1h1.05v1.05h-1.05zM54.0 222.7h1.05v1.05h-1.05zM54.8 222.7h1.05v1.05h-1.05zM59.0 223.6h1.05v1.05h-1.05zM54.6 217.9h1.05v1.05h-1.05zM52.0 215.6h1.05v1.05h-1.05zM57.8 225.7h1.05v1.05h-1.05zM54.6 221.8h1.05v1.05h-1.05zM56.8 224.4h1.05v1.05h-1.05zM51.2 222.4h1.05v1.05h-1.05zM54.8 219.8h1.05v1.05h-1.05zM59.1 224.9h1.05v1.05h-1.05zM54.1 222.9h1.05v1.05h-1.05zM54.2 221.7h1.05v1.05h-1.05zM54.6 225.6h1.05v1.05h-1.05zM55.6 221.8h1.05v1.05h-1.05zM53.9 223.6h1.05v1.05h-1.05zM53.4 219.0h1.05v1.05h-1.05zM55.2 227.0h1.05v1.05h-1.05zM53.9 223.4h1.05v1.05h-1.05zM55.1 226.1h1.05v1.05h-1.05zM56.8 219.8h1.05v1.05h-1.05zM60.0 223.0h1.05v1.05h-1.05zM53.3 221.7h1.05v1.05h-1.05zM55.8 225.7h1.05v1.05h-1.05zM54.9 221.1h1.05v1.05h-1.05zM58.9 226.9h1.05v1.05h-1.05zM54.7 223.3h1.05v1.05h-1.05zM56.5 222.2h1.05v1.05h-1.05zM53.3 225.6h1.05v1.05h-1.05zM52.9 218.4h1.05v1.05h-1.05zM57.1 225.9h1.05v1.05h-1.05zM57.6 221.1h1.05v1.05h-1.05zM55.0 220.3h1.05v1.05h-1.05zM54.3 216.8h1.05v1.05h-1.05zM53.4 226.5h1.05v1.05h-1.05zM52.7 227.3h1.05v1.05h-1.05zM56.0 218.1h1.05v1.05h-1.05zM58.0 220.6h1.05v1.05h-1.05zM57.0 222.6h1.05v1.05h-1.05zM54.7 222.6h1.05v1.05h-1.05zM52.3 221.1h1.05v1.05h-1.05zM54.6 227.5h1.05v1.05h-1.05zM54.2 223.8h1.05v1.05h-1.05zM56.7 226.1h1.05v1.05h-1.05zM55.0 223.5h1.05v1.05h-1.05zM53.3 229.4h1.05v1.05h-1.05zM51.9 223.7h1.05v1.05h-1.05zM54.7 223.4h1.05v1.05h-1.05zM54.3 221.9h1.05v1.05h-1.05zM58.1 225.4h1.05v1.05h-1.05zM55.4 222.7h1.05v1.05h-1.05zM56.1 222.8h1.05v1.05h-1.05zM56.7 224.9h1.05v1.05h-1.05zM56.8 219.1h1.05v1.05h-1.05zM55.5 220.4h1.05v1.05h-1.05zM56.7 222.3h1.05v1.05h-1.05zM56.4 222.8h1.05v1.05h-1.05zM58.0 226.4h1.05v1.05h-1.05zM56.1 219.3h1.05v1.05h-1.05zM55.6 228.0h1.05v1.05h-1.05zM53.9 222.8h1.05v1.05h-1.05zM61.8 227.3h1.05v1.05h-1.05zM57.3 223.6h1.05v1.05h-1.05zM52.3 227.2h1.05v1.05h-1.05zM57.9 218.8h1.05v1.05h-1.05zM55.3 222.7h1.05v1.05h-1.05zM55.5 221.4h1.05v1.05h-1.05zM61.9 220.8h1.05v1.05h-1.05zM59.3 224.6h1.05v1.05h-1.05zM55.7 224.2h1.05v1.05h-1.05zM57.5 221.1h1.05v1.05h-1.05zM54.7 226.1h1.05v1.05h-1.05zM58.0 224.0h1.05v1.05h-1.05zM52.6 219.0h1.05v1.05h-1.05zM59.4 226.7h1.05v1.05h-1.05zM56.9 224.0h1.05v1.05h-1.05zM54.8 224.3h1.05v1.05h-1.05zM58.7 225.0h1.05v1.05h-1.05zM54.3 224.0h1.05v1.05h-1.05zM54.3 222.9h1.05v1.05h-1.05zM52.9 217.1h1.05v1.05h-1.05zM53.0 223.5h1.05v1.05h-1.05zM53.7 224.4h1.05v1.05h-1.05zM54.3 223.8h1.05v1.05h-1.05zM54.5 226.7h1.05v1.05h-1.05zM54.7 223.1h1.05v1.05h-1.05zM58.5 226.8h1.05v1.05h-1.05zM52.8 226.8h1.05v1.05h-1.05zM53.0 220.6h1.05v1.05h-1.05zM53.6 225.6h1.05v1.05h-1.05zM53.0 224.5h1.05v1.05h-1.05zM56.7 222.6h1.05v1.05h-1.05zM56.8 228.3h1.05v1.05h-1.05zM59.7 221.0h1.05v1.05h-1.05zM56.3 222.1h1.05v1.05h-1.05zM55.3 221.7h1.05v1.05h-1.05zM57.0 221.0h1.05v1.05h-1.05zM52.6 223.2h1.05v1.05h-1.05zM56.5 226.1h1.05v1.05h-1.05zM57.4 220.9h1.05v1.05h-1.05zM53.4 223.9h1.05v1.05h-1.05zM56.3 224.9h1.05v1.05h-1.05zM59.0 217.5h1.05v1.05h-1.05zM54.1 224.5h1.05v1.05h-1.05zM53.0 227.3h1.05v1.05h-1.05zM55.5 224.6h1.05v1.05h-1.05zM55.2 224.0h1.05v1.05h-1.05zM56.7 224.4h1.05v1.05h-1.05zM52.3 218.3h1.05v1.05h-1.05zM55.5 225.1h1.05v1.05h-1.05zM55.1 222.7h1.05v1.05h-1.05zM58.4 224.7h1.05v1.05h-1.05zM53.3 223.5h1.05v1.05h-1.05zM55.2 223.3h1.05v1.05h-1.05zM55.5 224.6h1.05v1.05h-1.05zM55.7 223.9h1.05v1.05h-1.05zM55.8 222.6h1.05v1.05h-1.05zM54.3 223.8h1.05v1.05h-1.05zM56.8 227.0h1.05v1.05h-1.05zM61.9 221.4h1.05v1.05h-1.05zM54.1 225.7h1.05v1.05h-1.05zM54.7 223.4h1.05v1.05h-1.05zM52.6 224.6h1.05v1.05h-1.05zM52.1 225.6h1.05v1.05h-1.05zM53.6 223.7h1.05v1.05h-1.05zM58.2 221.0h1.05v1.05h-1.05zM55.4 228.4h1.05v1.05h-1.05zM52.2 223.4h1.05v1.05h-1.05zM50.8 224.0h1.05v1.05h-1.05zM55.3 220.3h1.05v1.05h-1.05zM52.7 226.2h1.05v1.05h-1.05zM57.4 220.1h1.05v1.05h-1.05zM57.7 220.8h1.05v1.05h-1.05zM53.7 224.1h1.05v1.05h-1.05zM55.4 224.4h1.05v1.05h-1.05zM58.4 221.5h1.05v1.05h-1.05zM57.1 223.9h1.05v1.05h-1.05zM51.6 225.1h1.05v1.05h-1.05zM58.2 219.7h1.05v1.05h-1.05zM54.9 225.5h1.05v1.05h-1.05zM57.9 222.2h1.05v1.05h-1.05zM55.1 222.4h1.05v1.05h-1.05zM52.7 223.4h1.05v1.05h-1.05zM61.0 219.6h1.05v1.05h-1.05zM55.6 220.8h1.05v1.05h-1.05zM59.5 219.0h1.05v1.05h-1.05zM57.9 224.2h1.05v1.05h-1.05zM53.6 222.3h1.05v1.05h-1.05zM55.9 227.4h1.05v1.05h-1.05zM56.4 226.1h1.05v1.05h-1.05zM58.4 223.3h1.05v1.05h-1.05zM55.8 223.0h1.05v1.05h-1.05zM59.8 226.4h1.05v1.05h-1.05zM58.2 221.5h1.05v1.05h-1.05zM55.0 225.0h1.05v1.05h-1.05zM55.3 219.7h1.05v1.05h-1.05zM52.0 224.3h1.05v1.05h-1.05zM57.6 224.4h1.05v1.05h-1.05zM59.6 219.2h1.05v1.05h-1.05zM51.3 223.4h1.05v1.05h-1.05zM57.9 221.0h1.05v1.05h-1.05zM56.3 223.9h1.05v1.05h-1.05zM54.5 221.0h1.05v1.05h-1.05zM54.9 222.9h1.05v1.05h-1.05zM57.5 222.3h1.05v1.05h-1.05zM53.3 220.4h1.05v1.05h-1.05zM54.5 224.3h1.05v1.05h-1.05zM53.5 222.2h1.05v1.05h-1.05zM57.0 223.7h1.05v1.05h-1.05zM60.8 224.3h1.05v1.05h-1.05z" fill="#000" fill-opacity="1.0"/>
<path d="M56.3 225.2h1.1v1.1h-1.1zM52.3 219.1h1.1v1.1h-1.1zM54.0 222.0h1.1v1.1h-1.1zM57.1 222.9h1.1v1.1h-1.1zM54.4 219.5h1.1v1.1h-1.1zM55.8 221.4h1.1v1.1h-1.1zM53.7 219.8h1.1v1.1h-1.1zM56.3 221.4h1.1v1.1h-1.1zM55.5 221.6h1.1v1.1h-1.1zM54.0 221.0h1.1v1.1h-1.1zM54.2 221.7h1.1v1.1h-1.1zM54.1 222.8h1.1v1.1h-1.1zM53.6 222.2h1.1v1.1h-1.1zM55.4 222.8h1.1v1.1h-1.1zM50.4 222.8h1.1v1.1h-1.1zM55.7 221.1h1.1v1.1h-1.1zM54.6 221.1h1.1v1.1h-1.1zM52.8 226.5h1.1v1.1h-1.1zM54.8 222.4h1.1v1.1h-1.1zM53.2 221.0h1.1v1.1h-1.1zM51.3 221.5h1.1v1.1h-1.1zM53.7 221.7h1.1v1.1h-1.1zM55.7 223.8h1.1v1.1h-1.1zM55.1 219.9h1.1v1.1h-1.1zM54.3 222.6h1.1v1.1h-1.1zM58.0 217.7h1.1v1.1h-1.1zM53.0 220.5h1.1v1.1h-1.1zM54.8 222.6h1.1v1.1h-1.1zM57.3 222.6h1.1v1.1h-1.1zM57.3 220.6h1.1v1.1h-1.1zM53.7 219.0h1.1v1.1h-1.1zM53.8 222.7h1.1v1.1h-1.1zM55.0 224.8h1.1v1.1h-1.1zM54.5 220.0h1.1v1.1h-1.1zM55.8 218.3h1.1v1.1h-1.1zM56.3 222.1h1.1v1.1h-1.1zM52.7 222.3h1.1v1.1h-1.1zM55.3 223.5h1.1v1.1h-1.1zM54.5 220.7h1.1v1.1h-1.1zM54.9 221.3h1.1v1.1h-1.1zM53.3 223.0h1.1v1.1h-1.1zM56.5 220.4h1.1v1.1h-1.1zM54.0 219.8h1.1v1.1h-1.1zM54.1 220.4h1.1v1.1h-1.1zM54.9 222.6h1.1v1.1h-1.1zM57.3 220.0h1.1v1.1h-1.1zM53.6 219.6h1.1v1.1h-1.1zM54.8 222.7h1.1v1.1h-1.1zM53.4 221.4h1.1v1.1h-1.1zM53.3 219.2h1.1v1.1h-1.1zM54.0 222.8h1.1v1.1h-1.1zM54.3 218.6h1.1v1.1h-1.1zM53.2 220.9h1.1v1.1h-1.1zM58.0 219.5h1.1v1.1h-1.1zM59.3 223.0h1.1v1.1h-1.1zM56.9 222.9h1.1v1.1h-1.1zM50.8 221.8h1.1v1.1h-1.1zM55.2 222.3h1.1v1.1h-1.1zM56.9 221.3h1.1v1.1h-1.1zM53.6 222.2h1.1v1.1h-1.1zM55.1 222.2h1.1v1.1h-1.1zM54.2 221.4h1.1v1.1h-1.1zM49.9 221.8h1.1v1.1h-1.1zM56.6 221.7h1.1v1.1h-1.1zM54.8 222.5h1.1v1.1h-1.1zM54.4 221.2h1.1v1.1h-1.1zM57.7 224.3h1.1v1.1h-1.1zM52.1 220.6h1.1v1.1h-1.1zM55.4 222.8h1.1v1.1h-1.1zM53.0 220.6h1.1v1.1h-1.1zM56.0 223.5h1.1v1.1h-1.1zM53.5 221.1h1.1v1.1h-1.1zM54.5 223.4h1.1v1.1h-1.1zM55.8 222.3h1.1v1.1h-1.1zM58.0 222.9h1.1v1.1h-1.1zM55.2 224.2h1.1v1.1h-1.1zM57.7 224.0h1.1v1.1h-1.1zM58.0 222.3h1.1v1.1h-1.1zM51.8 221.1h1.1v1.1h-1.1zM55.4 221.6h1.1v1.1h-1.1zM56.4 222.2h1.1v1.1h-1.1zM58.3 222.7h1.1v1.1h-1.1zM56.7 223.7h1.1v1.1h-1.1zM57.5 221.0h1.1v1.1h-1.1zM57.5 221.7h1.1v1.1h-1.1zM51.9 224.6h1.1v1.1h-1.1zM55.6 223.8h1.1v1.1h-1.1zM53.5 222.8h1.1v1.1h-1.1zM54.0 225.7h1.1v1.1h-1.1zM57.7 221.7h1.1v1.1h-1.1zM51.3 221.9h1.1v1.1h-1.1zM55.7 221.6h1.1v1.1h-1.1zM55.8 221.3h1.1v1.1h-1.1zM56.2 222.5h1.1v1.1h-1.1zM53.9 223.1h1.1v1.1h-1.1zM56.1 221.5h1.1v1.1h-1.1zM54.1 220.3h1.1v1.1h-1.1zM58.9 225.6h1.1v1.1h-1.1zM56.5 221.1h1.1v1.1h-1.1zM56.4 220.5h1.1v1.1h-1.1zM53.5 218.5h1.1v1.1h-1.1zM54.2 220.6h1.1v1.1h-1.1zM56.9 222.4h1.1v1.1h-1.1zM54.1 221.2h1.1v1.1h-1.1zM54.9 221.7h1.1v1.1h-1.1zM55.2 223.6h1.1v1.1h-1.1zM52.7 222.1h1.1v1.1h-1.1zM55.3 223.1h1.1v1.1h-1.1zM55.1 220.5h1.1v1.1h-1.1zM56.5 223.6h1.1v1.1h-1.1zM53.9 223.5h1.1v1.1h-1.1zM59.4 221.0h1.1v1.1h-1.1zM56.3 217.6h1.1v1.1h-1.1zM55.6 220.3h1.1v1.1h-1.1zM56.0 221.5h1.1v1.1h-1.1zM55.7 223.6h1.1v1.1h-1.1zM56.8 223.3h1.1v1.1h-1.1zM54.1 221.5h1.1v1.1h-1.1zM55.2 221.1h1.1v1.1h-1.1zM53.9 221.9h1.1v1.1h-1.1z" fill="#000" fill-opacity="1.0"/>
<path d="M57.9 222.6h0.8v0.8h-0.8zM51.2 227.5h0.8v0.8h-0.8zM53.3 230.1h0.8v0.8h-0.8zM57.0 224.4h0.8v0.8h-0.8zM60.9 223.8h0.8v0.8h-0.8zM50.9 224.0h0.8v0.8h-0.8zM47.7 224.8h0.8v0.8h-0.8zM56.3 225.5h0.8v0.8h-0.8zM55.9 230.6h0.8v0.8h-0.8zM56.5 221.7h0.8v0.8h-0.8zM67.8 223.5h0.8v0.8h-0.8zM59.0 222.8h0.8v0.8h-0.8zM54.6 223.2h0.8v0.8h-0.8zM53.3 223.3h0.8v0.8h-0.8zM54.8 221.4h0.8v0.8h-0.8zM52.5 222.1h0.8v0.8h-0.8zM46.1 224.5h0.8v0.8h-0.8zM45.1 221.9h0.8v0.8h-0.8zM55.3 220.7h0.8v0.8h-0.8zM55.7 230.4h0.8v0.8h-0.8zM56.2 221.3h0.8v0.8h-0.8zM57.0 220.4h0.8v0.8h-0.8zM48.1 220.1h0.8v0.8h-0.8zM58.0 222.2h0.8v0.8h-0.8zM57.8 225.7h0.8v0.8h-0.8zM47.6 217.3h0.8v0.8h-0.8zM51.9 218.1h0.8v0.8h-0.8zM57.8 219.5h0.8v0.8h-0.8zM50.7 228.2h0.8v0.8h-0.8zM49.8 218.0h0.8v0.8h-0.8zM60.3 223.3h0.8v0.8h-0.8zM54.6 225.1h0.8v0.8h-0.8zM52.8 221.7h0.8v0.8h-0.8zM53.9 227.5h0.8v0.8h-0.8zM55.0 217.7h0.8v0.8h-0.8zM50.2 224.8h0.8v0.8h-0.8zM49.7 217.3h0.8v0.8h-0.8zM52.6 216.7h0.8v0.8h-0.8zM56.2 230.8h0.8v0.8h-0.8zM63.1 223.7h0.8v0.8h-0.8zM61.3 223.9h0.8v0.8h-0.8zM55.4 225.6h0.8v0.8h-0.8zM55.7 221.3h0.8v0.8h-0.8zM55.1 222.0h0.8v0.8h-0.8zM56.8 227.1h0.8v0.8h-0.8zM50.5 221.0h0.8v0.8h-0.8zM50.7 229.3h0.8v0.8h-0.8zM58.4 223.8h0.8v0.8h-0.8zM51.5 226.7h0.8v0.8h-0.8zM51.1 216.9h0.8v0.8h-0.8zM52.4 227.8h0.8v0.8h-0.8zM54.9 221.3h0.8v0.8h-0.8zM52.9 226.4h0.8v0.8h-0.8zM51.8 220.7h0.8v0.8h-0.8zM57.5 225.4h0.8v0.8h-0.8zM55.0 224.8h0.8v0.8h-0.8zM56.9 215.4h0.8v0.8h-0.8zM55.5 220.7h0.8v0.8h-0.8zM54.9 222.9h0.8v0.8h-0.8zM56.5 226.2h0.8v0.8h-0.8zM51.5 220.5h0.8v0.8h-0.8zM53.5 222.8h0.8v0.8h-0.8zM49.2 223.3h0.8v0.8h-0.8zM58.5 220.8h0.8v0.8h-0.8zM48.1 225.8h0.8v0.8h-0.8zM61.0 224.9h0.8v0.8h-0.8zM61.6 227.5h0.8v0.8h-0.8zM55.1 222.1h0.8v0.8h-0.8zM65.0 225.8h0.8v0.8h-0.8zM54.0 228.1h0.8v0.8h-0.8z" fill="#000" fill-opacity="0.8"/>
<path d="M33.2 241.2h1.05v1.05h-1.05zM42.7 244.8h1.05v1.05h-1.05zM34.6 244.8h1.05v1.05h-1.05zM40.3 236.6h1.05v1.05h-1.05zM36.1 244.7h1.05v1.05h-1.05zM37.8 239.6h1.05v1.05h-1.05zM40.3 240.8h1.05v1.05h-1.05zM40.4 243.1h1.05v1.05h-1.05zM41.6 240.4h1.05v1.05h-1.05zM45.1 241.6h1.05v1.05h-1.05zM35.8 240.9h1.05v1.05h-1.05zM36.2 242.7h1.05v1.05h-1.05zM35.4 244.0h1.05v1.05h-1.05zM39.4 241.8h1.05v1.05h-1.05zM36.5 242.9h1.05v1.05h-1.05zM40.9 245.7h1.05v1.05h-1.05zM32.7 244.2h1.05v1.05h-1.05zM39.9 238.8h1.05v1.05h-1.05zM38.7 246.6h1.05v1.05h-1.05zM34.6 239.2h1.05v1.05h-1.05zM27.2 242.4h1.05v1.05h-1.05zM35.7 241.9h1.05v1.05h-1.05zM40.4 239.2h1.05v1.05h-1.05zM36.2 246.9h1.05v1.05h-1.05zM43.5 240.6h1.05v1.05h-1.05zM28.8 243.1h1.05v1.05h-1.05zM38.3 242.8h1.05v1.05h-1.05zM32.6 244.2h1.05v1.05h-1.05zM33.0 239.4h1.05v1.05h-1.05zM32.8 242.1h1.05v1.05h-1.05zM36.4 239.1h1.05v1.05h-1.05zM38.5 245.7h1.05v1.05h-1.05zM29.4 243.6h1.05v1.05h-1.05zM33.2 235.2h1.05v1.05h-1.05zM37.5 239.3h1.05v1.05h-1.05zM35.2 240.5h1.05v1.05h-1.05zM40.4 244.3h1.05v1.05h-1.05zM30.7 244.1h1.05v1.05h-1.05zM39.5 246.1h1.05v1.05h-1.05zM45.6 246.7h1.05v1.05h-1.05zM42.5 244.2h1.05v1.05h-1.05zM37.0 239.1h1.05v1.05h-1.05zM36.5 244.8h1.05v1.05h-1.05zM40.8 240.6h1.05v1.05h-1.05zM29.0 242.9h1.05v1.05h-1.05zM30.3 239.5h1.05v1.05h-1.05zM35.3 241.4h1.05v1.05h-1.05zM37.5 244.5h1.05v1.05h-1.05zM38.1 245.8h1.05v1.05h-1.05zM33.3 243.6h1.05v1.05h-1.05zM49.8 243.4h1.05v1.05h-1.05zM34.0 242.6h1.05v1.05h-1.05zM36.0 241.4h1.05v1.05h-1.05zM43.4 247.3h1.05v1.05h-1.05zM34.9 240.3h1.05v1.05h-1.05zM41.7 245.5h1.05v1.05h-1.05zM37.2 244.7h1.05v1.05h-1.05zM35.8 246.0h1.05v1.05h-1.05zM37.1 243.3h1.05v1.05h-1.05zM40.1 239.8h1.05v1.05h-1.05zM38.1 243.1h1.05v1.05h-1.05zM41.5 240.8h1.05v1.05h-1.05zM28.0 240.7h1.05v1.05h-1.05zM39.1 242.6h1.05v1.05h-1.05zM38.8 246.3h1.05v1.05h-1.05zM41.3 244.6h1.05v1.05h-1.05zM38.2 239.9h1.05v1.05h-1.05zM36.3 241.7h1.05v1.05h-1.05zM32.8 242.7h1.05v1.05h-1.05zM35.0 240.1h1.05v1.05h-1.05zM32.0 237.7h1.05v1.05h-1.05zM44.3 240.4h1.05v1.05h-1.05zM33.9 236.0h1.05v1.05h-1.05zM36.2 242.6h1.05v1.05h-1.05zM38.4 240.1h1.05v1.05h-1.05zM31.5 247.8h1.05v1.05h-1.05zM35.1 243.2h1.05v1.05h-1.05zM37.3 242.3h1.05v1.05h-1.05zM43.5 243.7h1.05v1.05h-1.05zM40.3 246.1h1.05v1.05h-1.05zM40.7 242.4h1.05v1.05h-1.05zM32.1 244.6h1.05v1.05h-1.05zM36.8 238.5h1.05v1.05h-1.05zM40.0 247.2h1.05v1.05h-1.05zM41.5 243.3h1.05v1.05h-1.05zM44.2 243.8h1.05v1.05h-1.05zM32.3 242.9h1.05v1.05h-1.05zM40.0 241.6h1.05v1.05h-1.05zM33.1 239.1h1.05v1.05h-1.05zM43.8 244.3h1.05v1.05h-1.05zM33.1 245.9h1.05v1.05h-1.05zM37.1 240.1h1.05v1.05h-1.05zM33.4 244.0h1.05v1.05h-1.05zM41.6 244.4h1.05v1.05h-1.05zM35.3 235.9h1.05v1.05h-1.05zM31.8 243.5h1.05v1.05h-1.05zM32.2 239.0h1.05v1.05h-1.05zM31.3 236.8h1.05v1.05h-1.05zM43.2 236.8h1.05v1.05h-1.05zM31.8 243.6h1.05v1.05h-1.05zM39.6 245.1h1.05v1.05h-1.05zM32.9 242.2h1.05v1.05h-1.05zM45.2 240.2h1.05v1.05h-1.05zM38.6 240.4h1.05v1.05h-1.05zM29.4 239.9h1.05v1.05h-1.05zM32.5 244.6h1.05v1.05h-1.05zM40.7 248.2h1.05v1.05h-1.05zM32.7 241.1h1.05v1.05h-1.05zM39.2 240.8h1.05v1.05h-1.05zM32.6 241.9h1.05v1.05h-1.05zM41.1 240.6h1.05v1.05h-1.05zM44.7 240.8h1.05v1.05h-1.05zM41.5 244.6h1.05v1.05h-1.05zM34.5 242.5h1.05v1.05h-1.05zM42.8 239.0h1.05v1.05h-1.05zM42.0 241.9h1.05v1.05h-1.05zM41.0 245.4h1.05v1.05h-1.05zM38.8 240.6h1.05v1.05h-1.05zM37.3 239.4h1.05v1.05h-1.05zM27.5 247.3h1.05v1.05h-1.05zM33.3 235.9h1.05v1.05h-1.05zM38.3 237.6h1.05v1.05h-1.05zM38.7 246.6h1.05v1.05h-1.05zM43.1 245.0h1.05v1.05h-1.05zM35.3 240.0h1.05v1.05h-1.05zM27.2 239.1h1.05v1.05h-1.05zM35.5 240.4h1.05v1.05h-1.05zM44.5 241.4h1.05v1.05h-1.05zM35.5 245.0h1.05v1.05h-1.05zM34.3 244.7h1.05v1.05h-1.05zM39.3 240.2h1.05v1.05h-1.05zM40.5 241.6h1.05v1.05h-1.05zM34.8 244.1h1.05v1.05h-1.05zM37.5 241.2h1.05v1.05h-1.05zM41.4 246.4h1.05v1.05h-1.05zM36.9 240.9h1.05v1.05h-1.05zM35.6 242.8h1.05v1.05h-1.05zM42.1 238.0h1.05v1.05h-1.05zM44.5 243.5h1.05v1.05h-1.05zM37.2 249.8h1.05v1.05h-1.05zM43.1 247.5h1.05v1.05h-1.05zM35.4 245.6h1.05v1.05h-1.05zM29.5 241.0h1.05v1.05h-1.05zM32.4 246.0h1.05v1.05h-1.05zM39.0 238.8h1.05v1.05h-1.05zM41.6 243.3h1.05v1.05h-1.05zM39.7 250.8h1.05v1.05h-1.05zM29.0 245.0h1.05v1.05h-1.05zM34.0 243.4h1.05v1.05h-1.05zM39.6 246.2h1.05v1.05h-1.05zM41.0 244.2h1.05v1.05h-1.05zM37.8 241.5h1.05v1.05h-1.05zM34.1 244.5h1.05v1.05h-1.05zM37.3 241.2h1.05v1.05h-1.05zM35.7 240.4h1.05v1.05h-1.05zM33.7 240.9h1.05v1.05h-1.05zM41.1 246.9h1.05v1.05h-1.05zM39.2 240.3h1.05v1.05h-1.05zM34.9 243.7h1.05v1.05h-1.05zM34.3 244.6h1.05v1.05h-1.05zM44.1 246.4h1.05v1.05h-1.05zM33.8 243.1h1.05v1.05h-1.05zM36.8 243.9h1.05v1.05h-1.05zM32.5 242.8h1.05v1.05h-1.05zM38.0 240.2h1.05v1.05h-1.05zM37.6 243.9h1.05v1.05h-1.05zM36.3 240.9h1.05v1.05h-1.05zM38.1 243.3h1.05v1.05h-1.05zM33.2 241.8h1.05v1.05h-1.05zM36.9 239.9h1.05v1.05h-1.05zM38.8 240.8h1.05v1.05h-1.05zM31.5 245.5h1.05v1.05h-1.05zM42.4 238.9h1.05v1.05h-1.05zM34.8 239.7h1.05v1.05h-1.05zM28.0 245.1h1.05v1.05h-1.05zM34.7 244.7h1.05v1.05h-1.05zM34.8 239.4h1.05v1.05h-1.05zM40.3 241.1h1.05v1.05h-1.05zM40.4 238.6h1.05v1.05h-1.05zM43.4 246.8h1.05v1.05h-1.05zM33.8 236.7h1.05v1.05h-1.05zM28.1 241.6h1.05v1.05h-1.05zM27.8 241.2h1.05v1.05h-1.05zM37.9 240.8h1.05v1.05h-1.05zM39.0 241.4h1.05v1.05h-1.05zM33.0 242.3h1.05v1.05h-1.05zM33.6 243.2h1.05v1.05h-1.05zM34.6 246.4h1.05v1.05h-1.05zM32.7 244.3h1.05v1.05h-1.05zM38.5 243.6h1.05v1.05h-1.05zM35.4 239.9h1.05v1.05h-1.05zM28.2 240.1h1.05v1.05h-1.05zM39.9 243.5h1.05v1.05h-1.05zM40.7 239.1h1.05v1.05h-1.05zM37.8 241.0h1.05v1.05h-1.05zM29.2 244.6h1.05v1.05h-1.05zM43.8 241.6h1.05v1.05h-1.05zM41.0 241.9h1.05v1.05h-1.05zM31.9 237.2h1.05v1.05h-1.05zM40.1 245.5h1.05v1.05h-1.05zM34.9 245.3h1.05v1.05h-1.05zM40.4 240.5h1.05v1.05h-1.05zM40.8 244.5h1.05v1.05h-1.05zM34.0 241.3h1.05v1.05h-1.05zM38.2 240.3h1.05v1.05h-1.05zM31.4 242.9h1.05v1.05h-1.05zM46.3 243.3h1.05v1.05h-1.05zM34.5 240.9h1.05v1.05h-1.05zM43.4 240.1h1.05v1.05h-1.05zM32.7 240.7h1.05v1.05h-1.05zM35.9 240.7h1.05v1.05h-1.05zM36.1 242.6h1.05v1.05h-1.05zM42.6 243.6h1.05v1.05h-1.05zM28.6 241.5h1.05v1.05h-1.05zM32.3 239.1h1.05v1.05h-1.05zM34.9 240.1h1.05v1.05h-1.05zM36.6 240.8h1.05v1.05h-1.05zM43.0 241.7h1.05v1.05h-1.05zM30.9 243.9h1.05v1.05h-1.05zM33.5 243.2h1.05v1.05h-1.05zM29.2 237.4h1.05v1.05h-1.05zM29.2 239.5h1.05v1.05h-1.05zM28.4 246.5h1.05v1.05h-1.05zM43.7 240.5h1.05v1.05h-1.05zM45.3 245.3h1.05v1.05h-1.05zM32.5 241.3h1.05v1.05h-1.05zM39.4 239.3h1.05v1.05h-1.05zM39.8 239.5h1.05v1.05h-1.05zM41.7 247.8h1.05v1.05h-1.05zM38.0 245.5h1.05v1.05h-1.05zM37.2 243.4h1.05v1.05h-1.05zM32.5 242.5h1.05v1.05h-1.05zM43.5 245.5h1.05v1.05h-1.05zM31.5 241.1h1.05v1.05h-1.05zM39.3 244.4h1.05v1.05h-1.05zM36.6 238.8h1.05v1.05h-1.05zM33.9 243.9h1.05v1.05h-1.05zM41.2 240.7h1.05v1.05h-1.05zM38.6 246.2h1.05v1.05h-1.05zM32.6 239.3h1.05v1.05h-1.05zM36.4 245.3h1.05v1.05h-1.05zM36.3 243.0h1.05v1.05h-1.05zM30.7 242.9h1.05v1.05h-1.05zM27.5 242.4h1.05v1.05h-1.05zM34.8 246.2h1.05v1.05h-1.05zM40.0 238.6h1.05v1.05h-1.05zM43.4 248.2h1.05v1.05h-1.05zM37.5 243.0h1.05v1.05h-1.05zM33.9 241.2h1.05v1.05h-1.05zM35.7 243.7h1.05v1.05h-1.05zM37.4 241.7h1.05v1.05h-1.05zM31.3 249.5h1.05v1.05h-1.05zM41.8 245.3h1.05v1.05h-1.05zM34.2 240.6h1.05v1.05h-1.05zM35.1 241.3h1.05v1.05h-1.05zM41.1 238.0h1.05v1.05h-1.05zM36.6 241.7h1.05v1.05h-1.05zM35.8 243.8h1.05v1.05h-1.05zM37.8 242.3h1.05v1.05h-1.05zM38.2 236.2h1.05v1.05h-1.05zM39.8 241.6h1.05v1.05h-1.05zM38.6 241.5h1.05v1.05h-1.05zM30.3 244.2h1.05v1.05h-1.05zM34.0 243.1h1.05v1.05h-1.05zM33.6 240.7h1.05v1.05h-1.05zM41.6 238.4h1.05v1.05h-1.05zM44.1 244.8h1.05v1.05h-1.05zM37.7 244.2h1.05v1.05h-1.05zM47.6 241.9h1.05v1.05h-1.05zM28.8 240.0h1.05v1.05h-1.05zM34.2 241.3h1.05v1.05h-1.05zM30.5 242.1h1.05v1.05h-1.05zM40.0 243.9h1.05v1.05h-1.05zM37.5 238.7h1.05v1.05h-1.05zM39.1 243.0h1.05v1.05h-1.05zM39.3 242.2h1.05v1.05h-1.05zM42.3 239.5h1.05v1.05h-1.05zM36.1 244.4h1.05v1.05h-1.05zM35.3 243.3h1.05v1.05h-1.05zM42.0 249.7h1.05v1.05h-1.05zM28.6 242.5h1.05v1.05h-1.05zM37.9 240.7h1.05v1.05h-1.05zM36.8 237.7h1.05v1.05h-1.05zM40.6 243.6h1.05v1.05h-1.05zM32.7 244.5h1.05v1.05h-1.05zM32.5 241.3h1.05v1.05h-1.05zM46.7 238.0h1.05v1.05h-1.05zM27.9 243.3h1.05v1.05h-1.05zM37.8 248.1h1.05v1.05h-1.05zM43.8 243.6h1.05v1.05h-1.05zM31.2 240.3h1.05v1.05h-1.05zM35.2 246.0h1.05v1.05h-1.05zM34.0 242.9h1.05v1.05h-1.05zM31.0 243.9h1.05v1.05h-1.05zM45.9 242.1h1.05v1.05h-1.05zM35.3 239.6h1.05v1.05h-1.05zM35.9 240.6h1.05v1.05h-1.05zM31.5 246.0h1.05v1.05h-1.05zM36.3 243.2h1.05v1.05h-1.05zM38.1 242.6h1.05v1.05h-1.05zM36.7 241.5h1.05v1.05h-1.05zM39.0 239.8h1.05v1.05h-1.05zM32.8 242.2h1.05v1.05h-1.05zM36.9 238.2h1.05v1.05h-1.05zM33.9 239.7h1.05v1.05h-1.05zM36.3 245.7h1.05v1.05h-1.05zM32.1 243.5h1.05v1.05h-1.05zM42.5 241.8h1.05v1.05h-1.05zM39.0 239.7h1.05v1.05h-1.05zM29.0 244.7h1.05v1.05h-1.05zM37.3 246.8h1.05v1.05h-1.05zM36.5 240.5h1.05v1.05h-1.05zM41.0 247.1h1.05v1.05h-1.05zM41.0 240.8h1.05v1.05h-1.05zM38.2 244.0h1.05v1.05h-1.05zM34.1 241.7h1.05v1.05h-1.05zM43.0 243.7h1.05v1.05h-1.05zM38.3 241.7h1.05v1.05h-1.05zM38.1 242.1h1.05v1.05h-1.05zM37.7 243.7h1.05v1.05h-1.05zM33.4 242.9h1.05v1.05h-1.05zM33.9 242.6h1.05v1.05h-1.05zM30.1 242.1h1.05v1.05h-1.05zM35.0 243.7h1.05v1.05h-1.05zM35.2 238.5h1.05v1.05h-1.05zM33.5 245.2h1.05v1.05h-1.05zM33.1 241.0h1.05v1.05h-1.05zM32.5 243.3h1.05v1.05h-1.05zM33.3 244.1h1.05v1.05h-1.05zM38.5 238.8h1.05v1.05h-1.05zM44.4 239.0h1.05v1.05h-1.05zM35.7 244.2h1.05v1.05h-1.05zM27.5 241.5h1.05v1.05h-1.05zM39.8 244.3h1.05v1.05h-1.05zM35.0 242.4h1.05v1.05h-1.05zM42.8 238.6h1.05v1.05h-1.05zM33.6 246.5h1.05v1.05h-1.05zM37.5 243.6h1.05v1.05h-1.05zM34.5 240.6h1.05v1.05h-1.05zM31.3 245.8h1.05v1.05h-1.05zM37.2 238.7h1.05v1.05h-1.05zM39.6 240.7h1.05v1.05h-1.05zM41.7 238.5h1.05v1.05h-1.05zM33.9 241.6h1.05v1.05h-1.05zM29.7 243.6h1.05v1.05h-1.05zM40.5 241.5h1.05v1.05h-1.05zM31.5 237.8h1.05v1.05h-1.05zM39.5 241.8h1.05v1.05h-1.05zM34.2 242.6h1.05v1.05h-1.05zM38.2 238.0h1.05v1.05h-1.05zM41.2 241.3h1.05v1.05h-1.05zM36.8 241.8h1.05v1.05h-1.05zM37.9 245.3h1.05v1.05h-1.05zM31.9 241.6h1.05v1.05h-1.05zM31.8 241.1h1.05v1.05h-1.05zM36.3 241.7h1.05v1.05h-1.05zM37.4 241.7h1.05v1.05h-1.05zM42.9 242.7h1.05v1.05h-1.05zM44.3 242.4h1.05v1.05h-1.05zM33.1 244.7h1.05v1.05h-1.05zM42.2 240.2h1.05v1.05h-1.05zM37.4 240.6h1.05v1.05h-1.05zM33.2 243.6h1.05v1.05h-1.05zM37.9 245.2h1.05v1.05h-1.05zM34.3 244.4h1.05v1.05h-1.05zM42.2 242.8h1.05v1.05h-1.05zM34.7 243.8h1.05v1.05h-1.05zM41.2 239.3h1.05v1.05h-1.05zM37.9 247.6h1.05v1.05h-1.05zM37.5 241.5h1.05v1.05h-1.05zM38.5 242.9h1.05v1.05h-1.05zM43.1 240.3h1.05v1.05h-1.05zM31.1 241.2h1.05v1.05h-1.05zM42.2 241.9h1.05v1.05h-1.05zM39.9 242.8h1.05v1.05h-1.05zM37.2 246.0h1.05v1.05h-1.05zM36.1 246.1h1.05v1.05h-1.05zM44.0 243.8h1.05v1.05h-1.05zM38.8 243.5h1.05v1.05h-1.05zM37.0 242.0h1.05v1.05h-1.05zM41.7 244.6h1.05v1.05h-1.05zM37.2 242.3h1.05v1.05h-1.05zM40.9 245.1h1.05v1.05h-1.05zM34.8 246.8h1.05v1.05h-1.05zM35.5 244.3h1.05v1.05h-1.05zM36.4 241.9h1.05v1.05h-1.05zM39.2 241.4h1.05v1.05h-1.05zM36.2 237.4h1.05v1.05h-1.05zM40.2 239.4h1.05v1.05h-1.05zM40.7 244.0h1.05v1.05h-1.05zM39.7 246.2h1.05v1.05h-1.05zM39.7 242.5h1.05v1.05h-1.05zM34.8 239.0h1.05v1.05h-1.05zM41.4 238.8h1.05v1.05h-1.05zM40.6 240.0h1.05v1.05h-1.05zM29.7 245.2h1.05v1.05h-1.05zM37.8 243.0h1.05v1.05h-1.05zM35.7 247.9h1.05v1.05h-1.05zM34.3 243.9h1.05v1.05h-1.05zM40.3 246.3h1.05v1.05h-1.05zM37.0 244.1h1.05v1.05h-1.05zM35.2 238.4h1.05v1.05h-1.05zM35.2 246.8h1.05v1.05h-1.05zM34.6 239.9h1.05v1.05h-1.05zM42.8 240.7h1.05v1.05h-1.05zM38.0 242.7h1.05v1.05h-1.05zM35.5 238.9h1.05v1.05h-1.05zM43.9 245.7h1.05v1.05h-1.05zM38.8 243.4h1.05v1.05h-1.05zM35.7 246.0h1.05v1.05h-1.05zM33.2 236.9h1.05v1.05h-1.05zM36.9 243.1h1.05v1.05h-1.05zM38.1 243.9h1.05v1.05h-1.05zM39.6 240.2h1.05v1.05h-1.05zM32.5 244.0h1.05v1.05h-1.05zM38.7 241.7h1.05v1.05h-1.05zM34.8 243.6h1.05v1.05h-1.05zM37.8 248.1h1.05v1.05h-1.05zM40.3 243.9h1.05v1.05h-1.05zM44.1 238.3h1.05v1.05h-1.05zM35.5 239.9h1.05v1.05h-1.05zM30.4 242.5h1.05v1.05h-1.05zM46.8 242.4h1.05v1.05h-1.05zM28.9 238.4h1.05v1.05h-1.05zM32.6 243.8h1.05v1.05h-1.05zM42.3 238.3h1.05v1.05h-1.05zM39.4 239.2h1.05v1.05h-1.05zM42.1 243.4h1.05v1.05h-1.05zM37.5 239.5h1.05v1.05h-1.05zM30.4 239.6h1.05v1.05h-1.05zM36.7 245.6h1.05v1.05h-1.05zM45.1 237.5h1.05v1.05h-1.05zM37.6 242.1h1.05v1.05h-1.05zM32.1 239.7h1.05v1.05h-1.05zM41.4 237.7h1.05v1.05h-1.05zM32.5 242.7h1.05v1.05h-1.05zM43.9 245.1h1.05v1.05h-1.05zM36.9 237.2h1.05v1.05h-1.05zM34.9 244.0h1.05v1.05h-1.05zM33.7 245.7h1.05v1.05h-1.05zM37.0 242.5h1.05v1.05h-1.05zM33.3 243.3h1.05v1.05h-1.05zM32.3 241.1h1.05v1.05h-1.05zM39.4 242.3h1.05v1.05h-1.05zM48.0 238.7h1.05v1.05h-1.05zM34.2 239.8h1.05v1.05h-1.05zM31.9 248.4h1.05v1.05h-1.05zM27.5 242.9h1.05v1.05h-1.05zM35.4 241.5h1.05v1.05h-1.05zM32.8 242.6h1.05v1.05h-1.05zM35.2 243.2h1.05v1.05h-1.05zM33.5 243.1h1.05v1.05h-1.05zM36.9 247.1h1.05v1.05h-1.05zM35.2 245.0h1.05v1.05h-1.05zM38.7 243.5h1.05v1.05h-1.05zM38.3 242.2h1.05v1.05h-1.05zM35.0 241.4h1.05v1.05h-1.05zM29.8 241.0h1.05v1.05h-1.05zM31.2 240.2h1.05v1.05h-1.05zM33.7 243.1h1.05v1.05h-1.05zM34.2 247.8h1.05v1.05h-1.05zM35.6 238.2h1.05v1.05h-1.05zM33.7 239.1h1.05v1.05h-1.05zM35.1 247.8h1.05v1.05h-1.05zM40.7 239.4h1.05v1.05h-1.05zM44.3 241.6h1.05v1.05h-1.05zM42.8 247.2h1.05v1.05h-1.05zM33.4 237.4h1.05v1.05h-1.05zM36.0 242.5h1.05v1.05h-1.05zM34.5 245.8h1.05v1.05h-1.05zM37.8 243.0h1.05v1.05h-1.05zM40.6 241.7h1.05v1.05h-1.05zM35.3 240.9h1.05v1.05h-1.05zM39.2 246.9h1.05v1.05h-1.05zM37.4 245.7h1.05v1.05h-1.05zM33.3 243.1h1.05v1.05h-1.05zM43.4 236.0h1.05v1.05h-1.05zM33.8 241.0h1.05v1.05h-1.05zM44.0 244.3h1.05v1.05h-1.05zM47.4 239.3h1.05v1.05h-1.05zM43.7 244.0h1.05v1.05h-1.05zM39.3 244.2h1.05v1.05h-1.05zM38.1 238.1h1.05v1.05h-1.05zM39.0 245.8h1.05v1.05h-1.05zM33.4 241.6h1.05v1.05h-1.05zM43.5 240.4h1.05v1.05h-1.05zM38.3 242.9h1.05v1.05h-1.05zM33.8 241.0h1.05v1.05h-1.05zM30.6 240.1h1.05v1.05h-1.05zM30.6 242.3h1.05v1.05h-1.05zM43.7 240.6h1.05v1.05h-1.05zM30.5 243.9h1.05v1.05h-1.05zM42.1 242.2h1.05v1.05h-1.05zM38.3 239.3h1.05v1.05h-1.05zM43.1 244.5h1.05v1.05h-1.05zM43.0 247.0h1.05v1.05h-1.05zM40.5 239.2h1.05v1.05h-1.05zM38.2 242.2h1.05v1.05h-1.05zM39.3 236.6h1.05v1.05h-1.05zM36.1 244.9h1.05v1.05h-1.05zM43.6 243.9h1.05v1.05h-1.05zM43.3 242.8h1.05v1.05h-1.05zM30.5 241.8h1.05v1.05h-1.05zM34.8 235.3h1.05v1.05h-1.05zM33.0 237.5h1.05v1.05h-1.05zM41.5 244.0h1.05v1.05h-1.05zM31.0 236.3h1.05v1.05h-1.05zM35.1 247.6h1.05v1.05h-1.05zM28.0 240.2h1.05v1.05h-1.05zM34.4 244.1h1.05v1.05h-1.05zM40.7 239.6h1.05v1.05h-1.05zM33.5 239.5h1.05v1.05h-1.05zM38.8 240.2h1.05v1.05h-1.05zM45.4 244.4h1.05v1.05h-1.05zM35.8 241.7h1.05v1.05h-1.05zM46.7 240.9h1.05v1.05h-1.05zM33.4 241.7h1.05v1.05h-1.05zM36.8 237.7h1.05v1.05h-1.05zM40.4 239.6h1.05v1.05h-1.05zM39.7 236.0h1.05v1.05h-1.05zM35.7 239.8h1.05v1.05h-1.05zM39.1 244.0h1.05v1.05h-1.05zM41.7 244.7h1.05v1.05h-1.05zM39.6 240.4h1.05v1.05h-1.05zM30.1 244.2h1.05v1.05h-1.05zM36.7 242.6h1.05v1.05h-1.05zM36.3 243.1h1.05v1.05h-1.05zM41.3 241.4h1.05v1.05h-1.05zM38.7 241.4h1.05v1.05h-1.05zM32.7 245.5h1.05v1.05h-1.05zM40.2 244.4h1.05v1.05h-1.05zM36.2 242.6h1.05v1.05h-1.05zM31.5 248.6h1.05v1.05h-1.05zM35.4 242.7h1.05v1.05h-1.05zM35.4 240.2h1.05v1.05h-1.05zM28.4 243.6h1.05v1.05h-1.05zM37.9 243.5h1.05v1.05h-1.05zM33.5 244.7h1.05v1.05h-1.05zM32.3 242.4h1.05v1.05h-1.05zM42.8 239.5h1.05v1.05h-1.05zM38.5 238.2h1.05v1.05h-1.05zM33.4 244.6h1.05v1.05h-1.05zM33.0 243.4h1.05v1.05h-1.05zM37.3 240.1h1.05v1.05h-1.05zM35.1 243.1h1.05v1.05h-1.05zM38.0 245.0h1.05v1.05h-1.05zM39.5 241.1h1.05v1.05h-1.05zM33.8 239.9h1.05v1.05h-1.05zM38.1 242.5h1.05v1.05h-1.05zM33.8 245.8h1.05v1.05h-1.05zM38.7 243.4h1.05v1.05h-1.05zM37.7 245.2h1.05v1.05h-1.05zM43.9 244.3h1.05v1.05h-1.05zM29.1 244.4h1.05v1.05h-1.05zM40.6 236.1h1.05v1.05h-1.05zM44.1 245.6h1.05v1.05h-1.05zM32.2 243.1h1.05v1.05h-1.05zM37.2 241.9h1.05v1.05h-1.05zM34.0 246.8h1.05v1.05h-1.05zM44.6 243.0h1.05v1.05h-1.05z" fill="#000" fill-opacity="1.0"/>
<path d="M48.9 242.2h0.85v0.85h-0.85zM56.9 243.4h0.85v0.85h-0.85zM39.7 236.6h0.85v0.85h-0.85zM50.0 241.5h0.85v0.85h-0.85zM42.0 239.8h0.85v0.85h-0.85zM42.2 243.1h0.85v0.85h-0.85zM56.8 238.7h0.85v0.85h-0.85zM55.6 241.9h0.85v0.85h-0.85zM46.8 243.6h0.85v0.85h-0.85zM50.7 244.1h0.85v0.85h-0.85zM45.5 240.1h0.85v0.85h-0.85zM54.4 238.3h0.85v0.85h-0.85zM54.9 244.7h0.85v0.85h-0.85zM57.2 237.9h0.85v0.85h-0.85zM72.0 243.7h0.85v0.85h-0.85zM30.2 245.4h0.85v0.85h-0.85zM38.8 239.5h0.85v0.85h-0.85zM47.6 243.9h0.85v0.85h-0.85zM49.8 239.3h0.85v0.85h-0.85zM37.9 243.5h0.85v0.85h-0.85zM53.8 241.4h0.85v0.85h-0.85zM53.3 235.9h0.85v0.85h-0.85zM53.4 243.3h0.85v0.85h-0.85zM67.7 237.6h0.85v0.85h-0.85zM38.5 238.6h0.85v0.85h-0.85zM60.1 243.2h0.85v0.85h-0.85zM54.7 241.8h0.85v0.85h-0.85zM45.8 243.1h0.85v0.85h-0.85zM49.4 242.5h0.85v0.85h-0.85zM52.1 240.5h0.85v0.85h-0.85zM55.9 241.8h0.85v0.85h-0.85zM41.9 242.1h0.85v0.85h-0.85zM48.1 243.5h0.85v0.85h-0.85zM46.1 241.1h0.85v0.85h-0.85zM57.2 242.0h0.85v0.85h-0.85zM43.5 240.3h0.85v0.85h-0.85zM51.7 245.4h0.85v0.85h-0.85zM58.4 243.9h0.85v0.85h-0.85zM58.9 243.1h0.85v0.85h-0.85zM61.9 245.9h0.85v0.85h-0.85zM49.7 243.6h0.85v0.85h-0.85zM63.8 237.7h0.85v0.85h-0.85zM46.8 242.6h0.85v0.85h-0.85zM47.8 241.8h0.85v0.85h-0.85zM59.3 249.3h0.85v0.85h-0.85zM39.4 242.7h0.85v0.85h-0.85zM38.9 241.1h0.85v0.85h-0.85zM43.1 240.2h0.85v0.85h-0.85zM58.9 242.7h0.85v0.85h-0.85zM40.5 246.6h0.85v0.85h-0.85zM34.5 248.5h0.85v0.85h-0.85zM56.8 245.4h0.85v0.85h-0.85zM62.8 241.0h0.85v0.85h-0.85zM59.6 242.6h0.85v0.85h-0.85zM55.0 241.3h0.85v0.85h-0.85zM48.6 248.4h0.85v0.85h-0.85zM51.9 239.9h0.85v0.85h-0.85zM45.6 239.1h0.85v0.85h-0.85zM51.7 241.7h0.85v0.85h-0.85zM66.3 244.3h0.85v0.85h-0.85zM56.1 239.7h0.85v0.85h-0.85zM49.0 241.8h0.85v0.85h-0.85zM46.1 243.8h0.85v0.85h-0.85zM53.9 245.6h0.85v0.85h-0.85zM52.1 241.4h0.85v0.85h-0.85zM48.8 240.6h0.85v0.85h-0.85zM42.1 239.4h0.85v0.85h-0.85zM47.7 242.7h0.85v0.85h-0.85zM35.4 245.8h0.85v0.85h-0.85zM56.1 246.6h0.85v0.85h-0.85zM55.2 240.1h0.85v0.85h-0.85zM56.7 243.5h0.85v0.85h-0.85zM45.5 238.8h0.85v0.85h-0.85zM45.8 241.3h0.85v0.85h-0.85zM41.4 246.0h0.85v0.85h-0.85zM45.3 239.9h0.85v0.85h-0.85zM49.3 243.1h0.85v0.85h-0.85zM54.2 245.6h0.85v0.85h-0.85zM47.9 244.2h0.85v0.85h-0.85zM57.1 240.2h0.85v0.85h-0.85zM51.6 244.9h0.85v0.85h-0.85zM56.9 240.8h0.85v0.85h-0.85zM59.1 242.4h0.85v0.85h-0.85zM43.2 240.0h0.85v0.85h-0.85zM52.8 245.7h0.85v0.85h-0.85zM46.5 244.5h0.85v0.85h-0.85zM54.6 243.5h0.85v0.85h-0.85zM58.6 246.1h0.85v0.85h-0.85zM43.3 246.2h0.85v0.85h-0.85zM66.6 243.3h0.85v0.85h-0.85zM44.9 245.5h0.85v0.85h-0.85zM50.4 237.6h0.85v0.85h-0.85zM58.1 242.2h0.85v0.85h-0.85zM36.8 243.6h0.85v0.85h-0.85zM55.0 247.0h0.85v0.85h-0.85zM57.4 240.0h0.85v0.85h-0.85zM52.9 245.1h0.85v0.85h-0.85zM46.2 240.1h0.85v0.85h-0.85zM50.6 240.5h0.85v0.85h-0.85zM46.8 245.7h0.85v0.85h-0.85zM44.0 240.1h0.85v0.85h-0.85zM50.4 238.5h0.85v0.85h-0.85zM51.2 241.4h0.85v0.85h-0.85zM41.2 242.9h0.85v0.85h-0.85zM36.7 246.0h0.85v0.85h-0.85zM46.5 240.3h0.85v0.85h-0.85zM44.5 241.4h0.85v0.85h-0.85zM55.3 242.1h0.85v0.85h-0.85zM52.3 243.2h0.85v0.85h-0.85zM53.1 244.2h0.85v0.85h-0.85zM60.7 243.1h0.85v0.85h-0.85zM55.2 248.4h0.85v0.85h-0.85zM45.2 242.1h0.85v0.85h-0.85zM34.4 246.3h0.85v0.85h-0.85zM60.9 241.3h0.85v0.85h-0.85zM59.3 239.0h0.85v0.85h-0.85zM69.2 236.9h0.85v0.85h-0.85zM45.1 242.0h0.85v0.85h-0.85zM47.5 244.5h0.85v0.85h-0.85zM48.8 237.5h0.85v0.85h-0.85zM50.5 239.5h0.85v0.85h-0.85zM44.4 245.6h0.85v0.85h-0.85zM47.6 241.4h0.85v0.85h-0.85zM59.8 236.1h0.85v0.85h-0.85zM54.6 244.6h0.85v0.85h-0.85zM36.4 244.3h0.85v0.85h-0.85zM57.0 238.9h0.85v0.85h-0.85zM48.5 248.7h0.85v0.85h-0.85zM51.4 241.4h0.85v0.85h-0.85zM60.3 240.7h0.85v0.85h-0.85zM45.1 240.3h0.85v0.85h-0.85zM28.6 244.6h0.85v0.85h-0.85zM50.0 238.9h0.85v0.85h-0.85zM57.5 248.5h0.85v0.85h-0.85zM63.7 236.3h0.85v0.85h-0.85zM58.4 245.9h0.85v0.85h-0.85zM60.1 242.1h0.85v0.85h-0.85zM60.2 240.0h0.85v0.85h-0.85zM45.6 239.3h0.85v0.85h-0.85zM34.1 243.1h0.85v0.85h-0.85zM38.2 238.4h0.85v0.85h-0.85zM50.8 243.8h0.85v0.85h-0.85zM52.0 241.7h0.85v0.85h-0.85zM54.3 245.3h0.85v0.85h-0.85zM50.9 241.4h0.85v0.85h-0.85zM48.1 246.3h0.85v0.85h-0.85zM57.8 241.1h0.85v0.85h-0.85zM54.8 245.2h0.85v0.85h-0.85zM51.3 245.1h0.85v0.85h-0.85zM56.9 241.4h0.85v0.85h-0.85zM51.8 242.5h0.85v0.85h-0.85zM46.0 242.7h0.85v0.85h-0.85zM52.5 237.7h0.85v0.85h-0.85zM33.6 240.8h0.85v0.85h-0.85zM43.1 241.8h0.85v0.85h-0.85zM41.8 238.7h0.85v0.85h-0.85zM53.4 235.7h0.85v0.85h-0.85zM52.8 243.6h0.85v0.85h-0.85zM49.2 243.1h0.85v0.85h-0.85zM36.1 243.4h0.85v0.85h-0.85zM50.5 241.5h0.85v0.85h-0.85zM57.3 240.8h0.85v0.85h-0.85zM56.0 240.8h0.85v0.85h-0.85zM47.5 244.5h0.85v0.85h-0.85zM49.2 242.6h0.85v0.85h-0.85zM58.3 244.6h0.85v0.85h-0.85zM48.2 240.1h0.85v0.85h-0.85zM57.3 242.3h0.85v0.85h-0.85zM53.1 251.1h0.85v0.85h-0.85zM48.6 240.0h0.85v0.85h-0.85zM52.0 241.7h0.85v0.85h-0.85zM54.7 242.3h0.85v0.85h-0.85zM39.5 245.4h0.85v0.85h-0.85zM41.4 240.7h0.85v0.85h-0.85zM54.1 238.2h0.85v0.85h-0.85zM62.6 243.9h0.85v0.85h-0.85zM62.5 243.5h0.85v0.85h-0.85zM39.6 243.5h0.85v0.85h-0.85zM39.3 241.1h0.85v0.85h-0.85zM53.6 244.9h0.85v0.85h-0.85zM49.5 242.9h0.85v0.85h-0.85zM38.8 237.7h0.85v0.85h-0.85zM51.8 240.3h0.85v0.85h-0.85zM38.5 239.0h0.85v0.85h-0.85zM44.6 241.6h0.85v0.85h-0.85zM47.8 241.7h0.85v0.85h-0.85zM39.1 240.3h0.85v0.85h-0.85zM55.4 246.8h0.85v0.85h-0.85zM61.2 239.9h0.85v0.85h-0.85zM57.0 243.1h0.85v0.85h-0.85zM44.2 242.3h0.85v0.85h-0.85zM38.1 235.8h0.85v0.85h-0.85zM53.2 247.0h0.85v0.85h-0.85zM44.6 238.6h0.85v0.85h-0.85zM63.9 240.9h0.85v0.85h-0.85zM40.8 247.5h0.85v0.85h-0.85zM43.5 243.8h0.85v0.85h-0.85zM54.1 235.6h0.85v0.85h-0.85zM66.5 240.5h0.85v0.85h-0.85zM47.4 244.0h0.85v0.85h-0.85zM60.0 245.8h0.85v0.85h-0.85zM40.3 241.7h0.85v0.85h-0.85zM42.3 241.6h0.85v0.85h-0.85zM43.8 239.0h0.85v0.85h-0.85zM61.7 239.9h0.85v0.85h-0.85zM41.5 240.0h0.85v0.85h-0.85zM50.1 245.1h0.85v0.85h-0.85zM49.4 243.3h0.85v0.85h-0.85zM44.3 248.3h0.85v0.85h-0.85zM47.3 244.7h0.85v0.85h-0.85zM53.7 243.8h0.85v0.85h-0.85zM46.8 241.4h0.85v0.85h-0.85zM63.2 244.7h0.85v0.85h-0.85zM39.4 241.1h0.85v0.85h-0.85zM46.9 244.5h0.85v0.85h-0.85zM51.7 243.5h0.85v0.85h-0.85zM44.7 240.2h0.85v0.85h-0.85zM37.4 249.4h0.85v0.85h-0.85zM50.3 243.9h0.85v0.85h-0.85zM53.7 236.7h0.85v0.85h-0.85zM52.0 243.5h0.85v0.85h-0.85zM51.3 242.8h0.85v0.85h-0.85zM49.9 246.0h0.85v0.85h-0.85zM57.1 236.4h0.85v0.85h-0.85zM57.6 242.8h0.85v0.85h-0.85zM42.5 245.4h0.85v0.85h-0.85zM56.6 239.0h0.85v0.85h-0.85zM42.1 241.6h0.85v0.85h-0.85zM50.4 241.2h0.85v0.85h-0.85zM41.8 239.0h0.85v0.85h-0.85zM52.7 242.7h0.85v0.85h-0.85zM56.8 247.6h0.85v0.85h-0.85zM46.1 241.7h0.85v0.85h-0.85zM55.8 241.1h0.85v0.85h-0.85zM66.8 244.0h0.85v0.85h-0.85zM56.5 241.9h0.85v0.85h-0.85zM53.3 236.8h0.85v0.85h-0.85zM70.9 241.7h0.85v0.85h-0.85zM57.3 243.2h0.85v0.85h-0.85zM50.5 244.0h0.85v0.85h-0.85zM62.2 242.2h0.85v0.85h-0.85zM50.6 244.3h0.85v0.85h-0.85zM62.7 245.6h0.85v0.85h-0.85zM50.7 240.3h0.85v0.85h-0.85zM50.4 245.1h0.85v0.85h-0.85zM55.0 246.3h0.85v0.85h-0.85zM38.5 243.4h0.85v0.85h-0.85zM56.4 241.6h0.85v0.85h-0.85zM53.8 245.3h0.85v0.85h-0.85zM45.9 239.8h0.85v0.85h-0.85zM42.8 240.7h0.85v0.85h-0.85zM47.1 242.4h0.85v0.85h-0.85zM39.0 241.6h0.85v0.85h-0.85zM63.3 243.1h0.85v0.85h-0.85zM55.5 242.0h0.85v0.85h-0.85zM49.9 246.4h0.85v0.85h-0.85zM63.4 241.0h0.85v0.85h-0.85zM41.5 242.8h0.85v0.85h-0.85zM39.2 241.7h0.85v0.85h-0.85zM60.3 247.1h0.85v0.85h-0.85z" fill="#000" fill-opacity="0.85"/>
<path d="M38.7 222.2h0.7v0.7h-0.7zM34.3 214.0h0.7v0.7h-0.7zM33.6 220.6h0.7v0.7h-0.7zM36.3 222.1h0.7v0.7h-0.7zM36.6 227.6h0.7v0.7h-0.7zM29.4 225.0h0.7v0.7h-0.7zM35.8 223.1h0.7v0.7h-0.7zM29.4 223.3h0.7v0.7h-0.7zM32.3 228.2h0.7v0.7h-0.7zM43.7 224.0h0.7v0.7h-0.7zM38.7 225.5h0.7v0.7h-0.7zM41.2 225.4h0.7v0.7h-0.7zM30.7 221.9h0.7v0.7h-0.7zM41.6 222.6h0.7v0.7h-0.7zM32.7 224.3h0.7v0.7h-0.7zM34.8 228.7h0.7v0.7h-0.7zM33.4 218.5h0.7v0.7h-0.7zM39.4 230.8h0.7v0.7h-0.7zM41.5 224.1h0.7v0.7h-0.7zM37.3 227.5h0.7v0.7h-0.7zM37.0 226.8h0.7v0.7h-0.7zM31.9 219.1h0.7v0.7h-0.7zM40.1 228.6h0.7v0.7h-0.7zM43.2 224.0h0.7v0.7h-0.7zM49.7 227.9h0.7v0.7h-0.7zM32.9 220.1h0.7v0.7h-0.7zM39.9 225.9h0.7v0.7h-0.7zM38.8 227.0h0.7v0.7h-0.7zM37.2 232.5h0.7v0.7h-0.7zM29.0 228.6h0.7v0.7h-0.7zM30.4 223.1h0.7v0.7h-0.7zM41.2 221.7h0.7v0.7h-0.7zM37.6 231.4h0.7v0.7h-0.7zM31.9 223.7h0.7v0.7h-0.7zM28.2 222.5h0.7v0.7h-0.7zM39.8 232.9h0.7v0.7h-0.7zM33.2 216.7h0.7v0.7h-0.7zM37.4 226.5h0.7v0.7h-0.7zM34.6 224.6h0.7v0.7h-0.7zM47.5 228.1h0.7v0.7h-0.7zM33.0 215.4h0.7v0.7h-0.7zM42.4 220.0h0.7v0.7h-0.7zM42.5 231.5h0.7v0.7h-0.7zM32.2 226.5h0.7v0.7h-0.7zM33.8 221.7h0.7v0.7h-0.7zM32.2 222.7h0.7v0.7h-0.7zM40.4 222.1h0.7v0.7h-0.7zM31.8 227.3h0.7v0.7h-0.7zM32.0 225.7h0.7v0.7h-0.7zM38.6 227.4h0.7v0.7h-0.7zM38.2 223.1h0.7v0.7h-0.7zM36.5 225.8h0.7v0.7h-0.7zM51.3 220.8h0.7v0.7h-0.7zM31.5 230.1h0.7v0.7h-0.7zM33.1 229.0h0.7v0.7h-0.7zM45.7 223.2h0.7v0.7h-0.7zM36.6 222.4h0.7v0.7h-0.7zM37.0 227.1h0.7v0.7h-0.7zM39.8 226.5h0.7v0.7h-0.7zM33.0 227.1h0.7v0.7h-0.7z" fill="#000" fill-opacity="0.6"/>
<path d="M58.7 210.9h0.6v0.6h-0.6zM35.0 246.4h0.6v0.6h-0.6zM32.0 215.9h0.6v0.6h-0.6zM62.7 243.9h0.6v0.6h-0.6zM72.0 218.3h0.6v0.6h-0.6zM69.2 226.6h0.6v0.6h-0.6zM73.7 228.8h0.6v0.6h-0.6zM34.6 245.2h0.6v0.6h-0.6zM65.8 229.8h0.6v0.6h-0.6zM44.6 222.3h0.6v0.6h-0.6zM35.0 233.1h0.6v0.6h-0.6zM32.3 222.0h0.6v0.6h-0.6zM32.0 240.5h0.6v0.6h-0.6zM39.9 237.6h0.6v0.6h-0.6zM67.0 226.0h0.6v0.6h-0.6zM64.7 229.2h0.6v0.6h-0.6zM53.4 221.6h0.6v0.6h-0.6zM45.1 226.7h0.6v0.6h-0.6zM55.0 248.8h0.6v0.6h-0.6zM78.2 237.4h0.6v0.6h-0.6z" fill="#000" fill-opacity="0.4"/>
<text transform="translate(10 236.0) rotate(-90)" font-size="12.3"  textLength="27" lengthAdjust="spacingAndGlyphs" fill="#000" font-weight="bold"  stroke="#000" stroke-width="0.3">Vα24</text>
<text x="31.2" y="277.0" font-size="11.7"  textLength="35.0" lengthAdjust="spacingAndGlyphs" fill="#000" font-weight="bold"  stroke="#000" stroke-width="0.35">CD161</text>
<rect x="145.30" y="197.20" width="56.30" height="55.30" fill="none" stroke="#000" stroke-width="1.0" />
<line x1="162.6" y1="197.2" x2="162.6" y2="252.5" stroke="#111" stroke-width="0.9" />
<line x1="145.3" y1="234.0" x2="201.6" y2="234.0" stroke="#111" stroke-width="0.9" />
<line x1="144.9" y1="197.2" x2="144.9" y2="252.5" stroke="#111" stroke-width="1.3" />
<line x1="143.3" y1="197.2" x2="145.3" y2="197.2" stroke="#222" stroke-width="0.8" />
<line x1="145.3" y1="252.5" x2="145.3" y2="254.5" stroke="#222" stroke-width="0.8" />
<text x="137.8" y="198.7" font-size="3.2"   fill="#444" font-weight="bold"  stroke="#444" stroke-width="0.1">10</text>
<text x="141.70000000000002" y="196.89999999999998" font-size="2.4"   fill="#444" font-weight="bold"  stroke="#444" stroke-width="0.1">4</text>
<text x="142.8" y="258.8" font-size="3.2"   fill="#444" font-weight="bold"  stroke="#444" stroke-width="0.1">10</text>
<text x="146.70000000000002" y="257.0" font-size="2.4"   fill="#444" font-weight="bold"  stroke="#444" stroke-width="0.1">0</text>
<line x1="143.3" y1="211.02499999999998" x2="145.3" y2="211.02499999999998" stroke="#222" stroke-width="0.8" />
<line x1="159.375" y1="252.5" x2="159.375" y2="254.5" stroke="#222" stroke-width="0.8" />
<text x="137.8" y="212.52499999999998" font-size="3.2"   fill="#444" font-weight="bold"  stroke="#444" stroke-width="0.1">10</text>
<text x="141.70000000000002" y="210.72499999999997" font-size="2.4"   fill="#444" font-weight="bold"  stroke="#444" stroke-width="0.1">3</text>
<text x="156.875" y="258.8" font-size="3.2"   fill="#444" font-weight="bold"  stroke="#444" stroke-width="0.1">10</text>
<text x="160.775" y="257.0" font-size="2.4"   fill="#444" font-weight="bold"  stroke="#444" stroke-width="0.1">1</text>
<line x1="143.3" y1="224.85" x2="145.3" y2="224.85" stroke="#222" stroke-width="0.8" />
<line x1="173.45" y1="252.5" x2="173.45" y2="254.5" stroke="#222" stroke-width="0.8" />
<text x="137.8" y="226.35" font-size="3.2"   fill="#444" font-weight="bold"  stroke="#444" stroke-width="0.1">10</text>
<text x="141.70000000000002" y="224.54999999999998" font-size="2.4"   fill="#444" font-weight="bold"  stroke="#444" stroke-width="0.1">2</text>
<text x="170.95" y="258.8" font-size="3.2"   fill="#444" font-weight="bold"  stroke="#444" stroke-width="0.1">10</text>
<text x="174.85" y="257.0" font-size="2.4"   fill="#444" font-weight="bold"  stroke="#444" stroke-width="0.1">2</text>
<line x1="143.3" y1="238.675" x2="145.3" y2="238.675" stroke="#222" stroke-width="0.8" />
<line x1="187.525" y1="252.5" x2="187.525" y2="254.5" stroke="#222" stroke-width="0.8" />
<text x="137.8" y="240.175" font-size="3.2"   fill="#444" font-weight="bold"  stroke="#444" stroke-width="0.1">10</text>
<text x="141.70000000000002" y="238.375" font-size="2.4"   fill="#444" font-weight="bold"  stroke="#444" stroke-width="0.1">1</text>
<text x="185.025" y="258.8" font-size="3.2"   fill="#444" font-weight="bold"  stroke="#444" stroke-width="0.1">10</text>
<text x="188.925" y="257.0" font-size="2.4"   fill="#444" font-weight="bold"  stroke="#444" stroke-width="0.1">3</text>
<line x1="143.3" y1="252.5" x2="145.3" y2="252.5" stroke="#222" stroke-width="0.8" />
<line x1="201.6" y1="252.5" x2="201.6" y2="254.5" stroke="#222" stroke-width="0.8" />
<text x="137.8" y="254.0" font-size="3.2"   fill="#444" font-weight="bold"  stroke="#444" stroke-width="0.1">10</text>
<text x="141.70000000000002" y="252.2" font-size="2.4"   fill="#444" font-weight="bold"  stroke="#444" stroke-width="0.1">0</text>
<text x="199.1" y="258.8" font-size="3.2"   fill="#444" font-weight="bold"  stroke="#444" stroke-width="0.1">10</text>
<text x="203.0" y="257.0" font-size="2.4"   fill="#444" font-weight="bold"  stroke="#444" stroke-width="0.1">4</text>
<line x1="144.10000000000002" y1="248.3525" x2="145.3" y2="248.3525" stroke="#444" stroke-width="0.4" />
<line x1="149.5225" y1="252.5" x2="149.5225" y2="253.7" stroke="#444" stroke-width="0.4" />
<line x1="144.10000000000002" y1="245.864" x2="145.3" y2="245.864" stroke="#444" stroke-width="0.4" />
<line x1="152.056" y1="252.5" x2="152.056" y2="253.7" stroke="#444" stroke-width="0.4" />
<line x1="144.10000000000002" y1="244.20499999999998" x2="145.3" y2="244.20499999999998" stroke="#444" stroke-width="0.4" />
<line x1="153.745" y1="252.5" x2="153.745" y2="253.7" stroke="#444" stroke-width="0.4" />
<line x1="144.10000000000002" y1="242.8225" x2="145.3" y2="242.8225" stroke="#444" stroke-width="0.4" />
<line x1="155.1525" y1="252.5" x2="155.1525" y2="253.7" stroke="#444" stroke-width="0.4" />
<line x1="144.10000000000002" y1="241.7165" x2="145.3" y2="241.7165" stroke="#444" stroke-width="0.4" />
<line x1="156.2785" y1="252.5" x2="156.2785" y2="253.7" stroke="#444" stroke-width="0.4" />
<line x1="144.10000000000002" y1="240.74875" x2="145.3" y2="240.74875" stroke="#444" stroke-width="0.4" />
<line x1="157.26375000000002" y1="252.5" x2="157.26375000000002" y2="253.7" stroke="#444" stroke-width="0.4" />
<line x1="144.10000000000002" y1="240.0575" x2="145.3" y2="240.0575" stroke="#444" stroke-width="0.4" />
<line x1="157.9675" y1="252.5" x2="157.9675" y2="253.7" stroke="#444" stroke-width="0.4" />
<line x1="144.10000000000002" y1="239.36625" x2="145.3" y2="239.36625" stroke="#444" stroke-width="0.4" />
<line x1="158.67125000000001" y1="252.5" x2="158.67125000000001" y2="253.7" stroke="#444" stroke-width="0.4" />
<line x1="144.10000000000002" y1="234.5275" x2="145.3" y2="234.5275" stroke="#444" stroke-width="0.4" />
<line x1="163.5975" y1="252.5" x2="163.5975" y2="253.7" stroke="#444" stroke-width="0.4" />
<line x1="144.10000000000002" y1="232.039" x2="145.3" y2="232.039" stroke="#444" stroke-width="0.4" />
<line x1="166.131" y1="252.5" x2="166.131" y2="253.7" stroke="#444" stroke-width="0.4" />
<line x1="144.10000000000002" y1="230.38" x2="145.3" y2="230.38" stroke="#444" stroke-width="0.4" />
<line x1="167.82" y1="252.5" x2="167.82" y2="253.7" stroke="#444" stroke-width="0.4" />
<line x1="144.10000000000002" y1="228.9975" x2="145.3" y2="228.9975" stroke="#444" stroke-width="0.4" />
<line x1="169.2275" y1="252.5" x2="169.2275" y2="253.7" stroke="#444" stroke-width="0.4" />
<line x1="144.10000000000002" y1="227.8915" x2="145.3" y2="227.8915" stroke="#444" stroke-width="0.4" />
<line x1="170.3535" y1="252.5" x2="170.3535" y2="253.7" stroke="#444" stroke-width="0.4" />
<line x1="144.10000000000002" y1="226.92374999999998" x2="145.3" y2="226.92374999999998" stroke="#444" stroke-width="0.4" />
<line x1="171.33875" y1="252.5" x2="171.33875" y2="253.7" stroke="#444" stroke-width="0.4" />
<line x1="144.10000000000002" y1="226.2325" x2="145.3" y2="226.2325" stroke="#444" stroke-width="0.4" />
<line x1="172.0425" y1="252.5" x2="172.0425" y2="253.7" stroke="#444" stroke-width="0.4" />
<line x1="144.10000000000002" y1="225.54125" x2="145.3" y2="225.54125" stroke="#444" stroke-width="0.4" />
<line x1="172.74625" y1="252.5" x2="172.74625" y2="253.7" stroke="#444" stroke-width="0.4" />
<line x1="144.10000000000002" y1="220.7025" x2="145.3" y2="220.7025" stroke="#444" stroke-width="0.4" />
<line x1="177.6725" y1="252.5" x2="177.6725" y2="253.7" stroke="#444" stroke-width="0.4" />
<line x1="144.10000000000002" y1="218.214" x2="145.3" y2="218.214" stroke="#444" stroke-width="0.4" />
<line x1="180.20600000000002" y1="252.5" x2="180.20600000000002" y2="253.7" stroke="#444" stroke-width="0.4" />
<line x1="144.10000000000002" y1="216.555" x2="145.3" y2="216.555" stroke="#444" stroke-width="0.4" />
<line x1="181.895" y1="252.5" x2="181.895" y2="253.7" stroke="#444" stroke-width="0.4" />
<line x1="144.10000000000002" y1="215.17249999999999" x2="145.3" y2="215.17249999999999" stroke="#444" stroke-width="0.4" />
<line x1="183.3025" y1="252.5" x2="183.3025" y2="253.7" stroke="#444" stroke-width="0.4" />
<line x1="144.10000000000002" y1="214.0665" x2="145.3" y2="214.0665" stroke="#444" stroke-width="0.4" />
<line x1="184.42849999999999" y1="252.5" x2="184.42849999999999" y2="253.7" stroke="#444" stroke-width="0.4" />
<line x1="144.10000000000002" y1="213.09875" x2="145.3" y2="213.09875" stroke="#444" stroke-width="0.4" />
<line x1="185.41375" y1="252.5" x2="185.41375" y2="253.7" stroke="#444" stroke-width="0.4" />
<line x1="144.10000000000002" y1="212.4075" x2="145.3" y2="212.4075" stroke="#444" stroke-width="0.4" />
<line x1="186.1175" y1="252.5" x2="186.1175" y2="253.7" stroke="#444" stroke-width="0.4" />
<line x1="144.10000000000002" y1="211.71625" x2="145.3" y2="211.71625" stroke="#444" stroke-width="0.4" />
<line x1="186.82125" y1="252.5" x2="186.82125" y2="253.7" stroke="#444" stroke-width="0.4" />
<line x1="144.10000000000002" y1="206.8775" x2="145.3" y2="206.8775" stroke="#444" stroke-width="0.4" />
<line x1="191.7475" y1="252.5" x2="191.7475" y2="253.7" stroke="#444" stroke-width="0.4" />
<line x1="144.10000000000002" y1="204.38899999999998" x2="145.3" y2="204.38899999999998" stroke="#444" stroke-width="0.4" />
<line x1="194.281" y1="252.5" x2="194.281" y2="253.7" stroke="#444" stroke-width="0.4" />
<line x1="144.10000000000002" y1="202.73" x2="145.3" y2="202.73" stroke="#444" stroke-width="0.4" />
<line x1="195.97" y1="252.5" x2="195.97" y2="253.7" stroke="#444" stroke-width="0.4" />
<line x1="144.10000000000002" y1="201.3475" x2="145.3" y2="201.3475" stroke="#444" stroke-width="0.4" />
<line x1="197.3775" y1="252.5" x2="197.3775" y2="253.7" stroke="#444" stroke-width="0.4" />
<line x1="144.10000000000002" y1="200.24149999999997" x2="145.3" y2="200.24149999999997" stroke="#444" stroke-width="0.4" />
<line x1="198.5035" y1="252.5" x2="198.5035" y2="253.7" stroke="#444" stroke-width="0.4" />
<line x1="144.10000000000002" y1="199.27374999999998" x2="145.3" y2="199.27374999999998" stroke="#444" stroke-width="0.4" />
<line x1="199.48874999999998" y1="252.5" x2="199.48874999999998" y2="253.7" stroke="#444" stroke-width="0.4" />
<line x1="144.10000000000002" y1="198.58249999999998" x2="145.3" y2="198.58249999999998" stroke="#444" stroke-width="0.4" />
<line x1="200.1925" y1="252.5" x2="200.1925" y2="253.7" stroke="#444" stroke-width="0.4" />
<line x1="144.10000000000002" y1="197.89124999999999" x2="145.3" y2="197.89124999999999" stroke="#444" stroke-width="0.4" />
<line x1="200.89625" y1="252.5" x2="200.89625" y2="253.7" stroke="#444" stroke-width="0.4" />
<path d="M147.9 222.6h1.05v1.05h-1.05zM164.8 220.4h1.05v1.05h-1.05zM151.2 223.5h1.05v1.05h-1.05zM159.1 227.3h1.05v1.05h-1.05zM151.9 222.7h1.05v1.05h-1.05zM161.5 221.5h1.05v1.05h-1.05zM148.1 224.4h1.05v1.05h-1.05zM153.0 228.5h1.05v1.05h-1.05zM151.0 224.7h1.05v1.05h-1.05zM148.7 220.5h1.05v1.05h-1.05zM156.9 222.9h1.05v1.05h-1.05zM158.9 222.4h1.05v1.05h-1.05zM148.2 223.1h1.05v1.05h-1.05zM149.8 224.4h1.05v1.05h-1.05zM165.6 217.8h1.05v1.05h-1.05zM154.6 227.6h1.05v1.05h-1.05zM158.0 226.0h1.05v1.05h-1.05zM148.0 221.1h1.05v1.05h-1.05zM157.7 222.6h1.05v1.05h-1.05zM147.6 222.5h1.05v1.05h-1.05zM163.5 222.1h1.05v1.05h-1.05zM154.9 223.5h1.05v1.05h-1.05zM150.1 224.4h1.05v1.05h-1.05zM147.8 221.0h1.05v1.05h-1.05zM162.3 225.2h1.05v1.05h-1.05zM146.3 224.6h1.05v1.05h-1.05zM160.7 225.7h1.05v1.05h-1.05zM147.6 225.4h1.05v1.05h-1.05zM155.5 222.5h1.05v1.05h-1.05zM154.9 221.0h1.05v1.05h-1.05zM155.5 220.7h1.05v1.05h-1.05zM147.6 224.8h1.05v1.05h-1.05zM155.3 224.0h1.05v1.05h-1.05zM164.8 228.2h1.05v1.05h-1.05zM147.0 225.8h1.05v1.05h-1.05zM157.3 226.4h1.05v1.05h-1.05zM146.1 222.1h1.05v1.05h-1.05zM154.3 218.3h1.05v1.05h-1.05zM152.8 218.7h1.05v1.05h-1.05zM151.0 221.3h1.05v1.05h-1.05zM151.8 224.8h1.05v1.05h-1.05zM155.2 226.6h1.05v1.05h-1.05zM150.9 223.1h1.05v1.05h-1.05zM152.0 224.0h1.05v1.05h-1.05zM165.7 222.0h1.05v1.05h-1.05zM164.7 222.6h1.05v1.05h-1.05zM153.0 223.6h1.05v1.05h-1.05zM148.7 224.2h1.05v1.05h-1.05zM149.7 224.2h1.05v1.05h-1.05zM151.1 228.2h1.05v1.05h-1.05zM150.7 219.5h1.05v1.05h-1.05zM151.6 220.5h1.05v1.05h-1.05zM161.2 221.6h1.05v1.05h-1.05zM157.8 225.8h1.05v1.05h-1.05zM164.8 223.7h1.05v1.05h-1.05zM162.8 220.9h1.05v1.05h-1.05zM153.1 219.2h1.05v1.05h-1.05zM156.8 227.5h1.05v1.05h-1.05zM161.4 221.6h1.05v1.05h-1.05zM158.1 228.3h1.05v1.05h-1.05zM150.7 226.0h1.05v1.05h-1.05zM152.6 222.6h1.05v1.05h-1.05zM151.0 224.8h1.05v1.05h-1.05zM159.8 224.5h1.05v1.05h-1.05zM148.6 223.5h1.05v1.05h-1.05zM156.8 226.1h1.05v1.05h-1.05zM153.4 224.0h1.05v1.05h-1.05zM153.2 221.9h1.05v1.05h-1.05zM154.3 224.7h1.05v1.05h-1.05zM148.7 224.8h1.05v1.05h-1.05zM160.4 225.7h1.05v1.05h-1.05zM150.2 226.3h1.05v1.05h-1.05zM158.8 222.4h1.05v1.05h-1.05zM164.6 221.8h1.05v1.05h-1.05zM159.0 222.9h1.05v1.05h-1.05zM154.0 223.4h1.05v1.05h-1.05zM151.1 218.3h1.05v1.05h-1.05zM163.2 224.6h1.05v1.05h-1.05zM147.0 221.3h1.05v1.05h-1.05zM156.7 218.7h1.05v1.05h-1.05zM147.7 225.2h1.05v1.05h-1.05zM165.6 221.8h1.05v1.05h-1.05zM163.5 226.1h1.05v1.05h-1.05zM147.1 218.9h1.05v1.05h-1.05zM161.8 223.2h1.05v1.05h-1.05zM153.4 224.8h1.05v1.05h-1.05zM157.7 226.1h1.05v1.05h-1.05zM161.6 223.7h1.05v1.05h-1.05zM155.8 221.7h1.05v1.05h-1.05zM165.4 223.3h1.05v1.05h-1.05zM150.7 222.2h1.05v1.05h-1.05zM145.7 220.6h1.05v1.05h-1.05zM165.9 224.2h1.05v1.05h-1.05zM164.5 230.5h1.05v1.05h-1.05zM164.0 225.0h1.05v1.05h-1.05zM154.7 221.8h1.05v1.05h-1.05zM152.7 224.1h1.05v1.05h-1.05zM148.5 223.4h1.05v1.05h-1.05zM165.1 224.9h1.05v1.05h-1.05zM165.3 220.2h1.05v1.05h-1.05zM156.3 224.9h1.05v1.05h-1.05zM164.0 221.5h1.05v1.05h-1.05zM147.1 220.8h1.05v1.05h-1.05zM161.8 224.7h1.05v1.05h-1.05zM154.3 221.1h1.05v1.05h-1.05zM154.2 218.1h1.05v1.05h-1.05zM149.8 228.1h1.05v1.05h-1.05zM155.4 224.5h1.05v1.05h-1.05zM153.6 222.4h1.05v1.05h-1.05zM150.2 223.5h1.05v1.05h-1.05zM150.5 223.5h1.05v1.05h-1.05zM150.7 228.2h1.05v1.05h-1.05zM147.5 225.6h1.05v1.05h-1.05zM146.3 221.4h1.05v1.05h-1.05zM159.4 222.3h1.05v1.05h-1.05zM161.4 220.5h1.05v1.05h-1.05zM154.3 224.2h1.05v1.05h-1.05zM158.4 227.4h1.05v1.05h-1.05zM160.0 224.5h1.05v1.05h-1.05zM159.7 225.6h1.05v1.05h-1.05zM153.5 221.5h1.05v1.05h-1.05zM161.0 222.0h1.05v1.05h-1.05zM152.8 219.3h1.05v1.05h-1.05zM152.0 223.7h1.05v1.05h-1.05zM149.3 222.8h1.05v1.05h-1.05zM163.1 222.7h1.05v1.05h-1.05zM151.3 225.9h1.05v1.05h-1.05zM148.8 222.0h1.05v1.05h-1.05zM156.3 222.5h1.05v1.05h-1.05zM158.6 221.2h1.05v1.05h-1.05zM153.2 225.0h1.05v1.05h-1.05zM161.9 223.2h1.05v1.05h-1.05zM146.2 222.7h1.05v1.05h-1.05zM148.4 223.6h1.05v1.05h-1.05zM157.6 225.2h1.05v1.05h-1.05zM153.9 222.5h1.05v1.05h-1.05zM155.4 221.9h1.05v1.05h-1.05zM152.8 222.3h1.05v1.05h-1.05zM163.0 221.6h1.05v1.05h-1.05zM162.3 222.9h1.05v1.05h-1.05zM166.0 223.2h1.05v1.05h-1.05zM151.9 223.8h1.05v1.05h-1.05zM163.9 224.3h1.05v1.05h-1.05zM161.8 225.0h1.05v1.05h-1.05zM148.0 224.6h1.05v1.05h-1.05zM153.6 222.3h1.05v1.05h-1.05zM157.8 226.6h1.05v1.05h-1.05zM154.6 226.2h1.05v1.05h-1.05zM161.3 223.7h1.05v1.05h-1.05zM162.4 222.7h1.05v1.05h-1.05zM162.4 223.8h1.05v1.05h-1.05zM149.9 226.7h1.05v1.05h-1.05zM156.6 223.6h1.05v1.05h-1.05zM156.5 221.4h1.05v1.05h-1.05zM148.4 225.7h1.05v1.05h-1.05zM162.6 221.2h1.05v1.05h-1.05zM147.3 223.6h1.05v1.05h-1.05zM157.0 222.6h1.05v1.05h-1.05zM150.4 224.5h1.05v1.05h-1.05zM155.3 223.0h1.05v1.05h-1.05zM155.3 223.0h1.05v1.05h-1.05zM159.2 224.2h1.05v1.05h-1.05zM165.4 220.4h1.05v1.05h-1.05zM152.6 227.4h1.05v1.05h-1.05zM151.2 217.7h1.05v1.05h-1.05zM161.5 225.3h1.05v1.05h-1.05zM158.5 226.0h1.05v1.05h-1.05zM146.0 224.2h1.05v1.05h-1.05zM147.0 222.4h1.05v1.05h-1.05zM147.8 224.8h1.05v1.05h-1.05zM156.1 224.7h1.05v1.05h-1.05zM164.3 218.5h1.05v1.05h-1.05zM154.3 226.2h1.05v1.05h-1.05zM154.3 228.9h1.05v1.05h-1.05zM152.7 224.9h1.05v1.05h-1.05zM165.0 221.0h1.05v1.05h-1.05zM159.9 224.9h1.05v1.05h-1.05zM164.8 223.2h1.05v1.05h-1.05zM156.7 223.0h1.05v1.05h-1.05zM150.7 221.8h1.05v1.05h-1.05zM151.7 226.4h1.05v1.05h-1.05zM148.1 228.7h1.05v1.05h-1.05zM150.6 222.6h1.05v1.05h-1.05zM150.0 222.4h1.05v1.05h-1.05zM150.8 223.6h1.05v1.05h-1.05zM160.7 223.9h1.05v1.05h-1.05zM159.1 221.8h1.05v1.05h-1.05zM157.1 228.2h1.05v1.05h-1.05zM150.2 225.2h1.05v1.05h-1.05zM162.1 223.2h1.05v1.05h-1.05zM162.3 228.1h1.05v1.05h-1.05zM154.2 223.7h1.05v1.05h-1.05zM155.9 226.0h1.05v1.05h-1.05zM150.6 222.8h1.05v1.05h-1.05zM146.7 225.5h1.05v1.05h-1.05zM160.1 221.9h1.05v1.05h-1.05zM158.7 229.0h1.05v1.05h-1.05zM164.7 222.9h1.05v1.05h-1.05zM155.9 225.3h1.05v1.05h-1.05zM148.2 222.5h1.05v1.05h-1.05zM158.7 229.7h1.05v1.05h-1.05zM152.3 224.7h1.05v1.05h-1.05zM154.3 223.1h1.05v1.05h-1.05zM156.6 225.6h1.05v1.05h-1.05zM162.0 225.7h1.05v1.05h-1.05zM150.7 223.8h1.05v1.05h-1.05zM165.2 221.3h1.05v1.05h-1.05zM164.7 224.5h1.05v1.05h-1.05zM153.6 221.9h1.05v1.05h-1.05zM150.5 225.1h1.05v1.05h-1.05zM160.0 223.0h1.05v1.05h-1.05zM157.3 226.3h1.05v1.05h-1.05zM161.3 223.4h1.05v1.05h-1.05zM165.0 221.0h1.05v1.05h-1.05zM164.9 227.0h1.05v1.05h-1.05zM154.9 222.2h1.05v1.05h-1.05zM153.0 225.3h1.05v1.05h-1.05zM160.9 221.6h1.05v1.05h-1.05zM153.6 223.3h1.05v1.05h-1.05zM160.5 223.9h1.05v1.05h-1.05zM151.6 219.9h1.05v1.05h-1.05zM162.6 223.7h1.05v1.05h-1.05zM164.9 222.7h1.05v1.05h-1.05zM164.6 222.2h1.05v1.05h-1.05zM146.8 219.1h1.05v1.05h-1.05zM162.9 226.3h1.05v1.05h-1.05zM157.8 224.6h1.05v1.05h-1.05zM146.5 222.5h1.05v1.05h-1.05zM151.7 224.2h1.05v1.05h-1.05zM152.3 223.3h1.05v1.05h-1.05zM156.0 224.9h1.05v1.05h-1.05zM147.9 228.1h1.05v1.05h-1.05zM147.4 224.0h1.05v1.05h-1.05zM150.2 223.6h1.05v1.05h-1.05zM154.0 225.1h1.05v1.05h-1.05zM157.3 222.2h1.05v1.05h-1.05zM162.0 220.4h1.05v1.05h-1.05zM146.0 220.7h1.05v1.05h-1.05zM156.7 228.1h1.05v1.05h-1.05zM146.2 224.2h1.05v1.05h-1.05zM147.6 220.7h1.05v1.05h-1.05zM146.0 225.0h1.05v1.05h-1.05zM158.7 225.2h1.05v1.05h-1.05zM146.6 224.8h1.05v1.05h-1.05zM160.5 225.5h1.05v1.05h-1.05zM152.2 220.2h1.05v1.05h-1.05zM150.8 227.7h1.05v1.05h-1.05zM165.4 222.6h1.05v1.05h-1.05zM154.1 226.1h1.05v1.05h-1.05zM161.7 221.2h1.05v1.05h-1.05zM156.1 224.2h1.05v1.05h-1.05zM151.2 221.0h1.05v1.05h-1.05zM155.4 226.9h1.05v1.05h-1.05zM152.5 224.5h1.05v1.05h-1.05zM149.4 224.3h1.05v1.05h-1.05zM152.1 220.9h1.05v1.05h-1.05zM164.4 225.8h1.05v1.05h-1.05zM156.8 222.7h1.05v1.05h-1.05zM145.7 219.4h1.05v1.05h-1.05zM156.1 228.9h1.05v1.05h-1.05zM165.9 224.0h1.05v1.05h-1.05zM146.9 223.7h1.05v1.05h-1.05zM147.2 223.8h1.05v1.05h-1.05zM161.2 216.8h1.05v1.05h-1.05zM158.0 221.9h1.05v1.05h-1.05zM148.3 225.1h1.05v1.05h-1.05zM153.8 226.6h1.05v1.05h-1.05zM156.6 226.5h1.05v1.05h-1.05zM153.4 224.8h1.05v1.05h-1.05zM163.4 222.0h1.05v1.05h-1.05zM160.3 221.5h1.05v1.05h-1.05zM158.5 221.4h1.05v1.05h-1.05zM164.0 226.5h1.05v1.05h-1.05zM165.2 223.5h1.05v1.05h-1.05zM150.7 227.9h1.05v1.05h-1.05zM158.6 221.5h1.05v1.05h-1.05zM147.9 225.3h1.05v1.05h-1.05zM152.5 222.1h1.05v1.05h-1.05zM165.0 226.4h1.05v1.05h-1.05zM150.3 225.3h1.05v1.05h-1.05zM163.3 223.8h1.05v1.05h-1.05zM155.6 224.7h1.05v1.05h-1.05zM155.0 223.6h1.05v1.05h-1.05zM151.6 221.7h1.05v1.05h-1.05zM151.7 222.4h1.05v1.05h-1.05zM157.1 223.2h1.05v1.05h-1.05zM162.4 222.9h1.05v1.05h-1.05zM155.5 222.0h1.05v1.05h-1.05zM147.6 219.8h1.05v1.05h-1.05zM145.7 224.3h1.05v1.05h-1.05zM158.8 225.2h1.05v1.05h-1.05zM152.2 222.7h1.05v1.05h-1.05zM159.5 224.6h1.05v1.05h-1.05zM158.2 225.1h1.05v1.05h-1.05zM156.2 224.4h1.05v1.05h-1.05zM155.7 224.9h1.05v1.05h-1.05zM163.3 224.7h1.05v1.05h-1.05zM156.5 226.9h1.05v1.05h-1.05zM151.3 219.9h1.05v1.05h-1.05zM147.8 225.8h1.05v1.05h-1.05zM156.8 222.5h1.05v1.05h-1.05zM154.1 223.7h1.05v1.05h-1.05zM149.2 223.1h1.05v1.05h-1.05zM157.2 223.9h1.05v1.05h-1.05zM162.0 227.4h1.05v1.05h-1.05zM150.8 219.8h1.05v1.05h-1.05zM161.9 221.3h1.05v1.05h-1.05zM155.3 226.4h1.05v1.05h-1.05zM160.8 218.9h1.05v1.05h-1.05zM155.2 227.0h1.05v1.05h-1.05zM161.9 225.2h1.05v1.05h-1.05zM150.0 227.0h1.05v1.05h-1.05zM154.0 221.1h1.05v1.05h-1.05zM157.4 225.9h1.05v1.05h-1.05zM151.3 224.2h1.05v1.05h-1.05zM155.4 223.3h1.05v1.05h-1.05zM148.3 224.9h1.05v1.05h-1.05zM164.9 224.6h1.05v1.05h-1.05zM146.1 223.0h1.05v1.05h-1.05zM162.7 220.6h1.05v1.05h-1.05zM163.0 227.3h1.05v1.05h-1.05zM148.6 227.2h1.05v1.05h-1.05zM148.1 223.9h1.05v1.05h-1.05zM157.4 227.2h1.05v1.05h-1.05zM159.7 224.2h1.05v1.05h-1.05zM152.3 226.1h1.05v1.05h-1.05zM165.2 220.4h1.05v1.05h-1.05zM154.8 222.1h1.05v1.05h-1.05zM148.1 225.0h1.05v1.05h-1.05zM160.7 224.5h1.05v1.05h-1.05zM149.8 221.5h1.05v1.05h-1.05zM148.4 223.9h1.05v1.05h-1.05zM153.2 218.5h1.05v1.05h-1.05zM161.5 223.9h1.05v1.05h-1.05zM154.5 223.1h1.05v1.05h-1.05zM152.8 225.2h1.05v1.05h-1.05zM156.5 224.5h1.05v1.05h-1.05zM149.6 223.4h1.05v1.05h-1.05zM153.8 222.8h1.05v1.05h-1.05zM146.1 223.3h1.05v1.05h-1.05zM156.9 227.9h1.05v1.05h-1.05zM159.3 224.1h1.05v1.05h-1.05zM155.2 226.2h1.05v1.05h-1.05zM164.9 223.6h1.05v1.05h-1.05zM150.1 225.7h1.05v1.05h-1.05zM156.5 224.7h1.05v1.05h-1.05zM159.2 226.1h1.05v1.05h-1.05zM151.6 226.2h1.05v1.05h-1.05zM164.9 224.8h1.05v1.05h-1.05zM146.6 219.8h1.05v1.05h-1.05zM146.9 226.0h1.05v1.05h-1.05zM146.4 224.1h1.05v1.05h-1.05zM148.6 230.5h1.05v1.05h-1.05zM155.2 226.2h1.05v1.05h-1.05zM151.0 224.7h1.05v1.05h-1.05zM147.9 225.1h1.05v1.05h-1.05zM161.9 227.4h1.05v1.05h-1.05zM147.2 221.7h1.05v1.05h-1.05zM158.0 225.0h1.05v1.05h-1.05zM161.5 221.8h1.05v1.05h-1.05zM146.0 219.8h1.05v1.05h-1.05zM154.4 223.2h1.05v1.05h-1.05zM147.7 227.7h1.05v1.05h-1.05zM151.5 222.8h1.05v1.05h-1.05zM160.5 225.2h1.05v1.05h-1.05zM160.1 226.4h1.05v1.05h-1.05zM157.9 219.6h1.05v1.05h-1.05zM154.1 225.2h1.05v1.05h-1.05zM147.1 224.3h1.05v1.05h-1.05zM161.5 224.7h1.05v1.05h-1.05zM147.0 226.5h1.05v1.05h-1.05zM147.1 223.0h1.05v1.05h-1.05zM164.9 225.3h1.05v1.05h-1.05zM157.1 223.5h1.05v1.05h-1.05zM150.4 224.2h1.05v1.05h-1.05zM163.7 224.3h1.05v1.05h-1.05zM150.2 224.0h1.05v1.05h-1.05zM151.5 225.0h1.05v1.05h-1.05zM164.9 224.0h1.05v1.05h-1.05zM146.9 225.0h1.05v1.05h-1.05zM160.1 227.0h1.05v1.05h-1.05zM164.8 226.2h1.05v1.05h-1.05zM151.3 219.5h1.05v1.05h-1.05zM155.6 224.4h1.05v1.05h-1.05zM152.1 231.1h1.05v1.05h-1.05zM150.5 219.2h1.05v1.05h-1.05zM162.8 227.8h1.05v1.05h-1.05zM152.7 224.6h1.05v1.05h-1.05zM165.7 225.2h1.05v1.05h-1.05zM153.9 223.9h1.05v1.05h-1.05zM155.9 223.8h1.05v1.05h-1.05zM146.9 222.4h1.05v1.05h-1.05zM150.6 228.1h1.05v1.05h-1.05zM156.2 226.9h1.05v1.05h-1.05zM149.8 222.8h1.05v1.05h-1.05zM154.9 225.2h1.05v1.05h-1.05zM152.2 222.5h1.05v1.05h-1.05zM159.6 222.5h1.05v1.05h-1.05zM164.3 223.6h1.05v1.05h-1.05zM155.5 222.7h1.05v1.05h-1.05zM162.3 228.5h1.05v1.05h-1.05zM147.9 225.9h1.05v1.05h-1.05zM147.9 228.1h1.05v1.05h-1.05zM146.3 223.8h1.05v1.05h-1.05zM155.2 221.4h1.05v1.05h-1.05zM165.9 222.2h1.05v1.05h-1.05zM157.8 225.9h1.05v1.05h-1.05zM148.9 223.7h1.05v1.05h-1.05zM163.8 224.1h1.05v1.05h-1.05zM154.7 227.0h1.05v1.05h-1.05zM154.6 221.9h1.05v1.05h-1.05zM158.8 223.2h1.05v1.05h-1.05zM157.9 225.2h1.05v1.05h-1.05zM147.7 219.7h1.05v1.05h-1.05zM162.3 220.9h1.05v1.05h-1.05zM157.3 229.2h1.05v1.05h-1.05zM149.7 220.7h1.05v1.05h-1.05zM156.1 223.2h1.05v1.05h-1.05zM153.5 221.1h1.05v1.05h-1.05zM161.9 222.1h1.05v1.05h-1.05zM152.7 223.3h1.05v1.05h-1.05zM160.8 223.7h1.05v1.05h-1.05zM146.9 225.6h1.05v1.05h-1.05zM157.3 221.6h1.05v1.05h-1.05zM153.6 222.6h1.05v1.05h-1.05zM148.9 223.3h1.05v1.05h-1.05zM156.6 222.8h1.05v1.05h-1.05zM155.7 226.2h1.05v1.05h-1.05zM165.6 223.3h1.05v1.05h-1.05zM159.2 223.2h1.05v1.05h-1.05zM152.2 224.5h1.05v1.05h-1.05zM163.9 225.6h1.05v1.05h-1.05zM161.8 219.2h1.05v1.05h-1.05zM156.2 224.8h1.05v1.05h-1.05zM148.7 222.4h1.05v1.05h-1.05zM159.5 219.2h1.05v1.05h-1.05zM151.7 222.4h1.05v1.05h-1.05zM150.7 223.8h1.05v1.05h-1.05zM147.0 227.2h1.05v1.05h-1.05zM155.5 222.8h1.05v1.05h-1.05zM159.6 222.7h1.05v1.05h-1.05zM150.8 221.2h1.05v1.05h-1.05zM155.7 221.4h1.05v1.05h-1.05zM150.3 223.0h1.05v1.05h-1.05zM157.5 222.6h1.05v1.05h-1.05zM148.3 222.3h1.05v1.05h-1.05zM161.0 227.3h1.05v1.05h-1.05zM162.4 223.3h1.05v1.05h-1.05zM160.4 221.3h1.05v1.05h-1.05zM155.0 225.5h1.05v1.05h-1.05zM165.5 229.3h1.05v1.05h-1.05zM148.3 228.4h1.05v1.05h-1.05zM151.9 218.6h1.05v1.05h-1.05zM163.6 221.2h1.05v1.05h-1.05zM161.1 221.2h1.05v1.05h-1.05zM151.9 220.6h1.05v1.05h-1.05zM146.6 222.2h1.05v1.05h-1.05zM154.9 222.7h1.05v1.05h-1.05zM161.3 224.8h1.05v1.05h-1.05zM164.4 223.4h1.05v1.05h-1.05zM150.4 219.5h1.05v1.05h-1.05zM159.5 223.2h1.05v1.05h-1.05zM153.4 224.7h1.05v1.05h-1.05zM162.4 222.7h1.05v1.05h-1.05zM165.7 224.2h1.05v1.05h-1.05zM153.6 222.6h1.05v1.05h-1.05zM147.7 222.3h1.05v1.05h-1.05zM148.9 225.5h1.05v1.05h-1.05zM155.1 225.3h1.05v1.05h-1.05zM151.8 220.7h1.05v1.05h-1.05zM148.1 226.8h1.05v1.05h-1.05zM151.0 226.3h1.05v1.05h-1.05zM157.0 224.8h1.05v1.05h-1.05zM147.4 226.9h1.05v1.05h-1.05zM155.3 221.0h1.05v1.05h-1.05zM150.0 224.6h1.05v1.05h-1.05zM159.6 225.1h1.05v1.05h-1.05zM147.2 223.2h1.05v1.05h-1.05zM151.3 221.2h1.05v1.05h-1.05zM146.4 227.5h1.05v1.05h-1.05zM146.6 221.1h1.05v1.05h-1.05zM150.0 223.1h1.05v1.05h-1.05zM159.6 218.8h1.05v1.05h-1.05zM150.1 227.3h1.05v1.05h-1.05zM156.4 224.3h1.05v1.05h-1.05zM165.1 224.4h1.05v1.05h-1.05zM163.7 223.5h1.05v1.05h-1.05zM159.3 220.9h1.05v1.05h-1.05zM150.3 224.3h1.05v1.05h-1.05zM151.1 225.1h1.05v1.05h-1.05zM153.8 221.8h1.05v1.05h-1.05zM152.8 223.6h1.05v1.05h-1.05zM161.9 224.1h1.05v1.05h-1.05zM157.1 221.9h1.05v1.05h-1.05zM147.9 221.4h1.05v1.05h-1.05zM149.3 221.3h1.05v1.05h-1.05zM162.8 219.0h1.05v1.05h-1.05zM151.1 219.7h1.05v1.05h-1.05zM148.8 224.3h1.05v1.05h-1.05zM150.4 219.8h1.05v1.05h-1.05zM154.7 224.8h1.05v1.05h-1.05zM165.6 225.9h1.05v1.05h-1.05zM151.1 220.7h1.05v1.05h-1.05zM165.7 227.2h1.05v1.05h-1.05zM156.1 221.0h1.05v1.05h-1.05zM160.0 222.7h1.05v1.05h-1.05zM164.2 226.2h1.05v1.05h-1.05zM155.1 222.1h1.05v1.05h-1.05zM163.0 220.4h1.05v1.05h-1.05zM147.8 217.3h1.05v1.05h-1.05zM160.7 224.3h1.05v1.05h-1.05zM145.9 221.6h1.05v1.05h-1.05zM152.5 227.4h1.05v1.05h-1.05zM152.6 222.9h1.05v1.05h-1.05zM163.0 226.8h1.05v1.05h-1.05zM156.9 225.5h1.05v1.05h-1.05zM165.7 223.0h1.05v1.05h-1.05zM152.9 225.6h1.05v1.05h-1.05zM154.6 222.1h1.05v1.05h-1.05zM154.8 224.0h1.05v1.05h-1.05zM146.8 220.5h1.05v1.05h-1.05zM152.3 220.5h1.05v1.05h-1.05zM154.8 227.9h1.05v1.05h-1.05zM159.7 222.7h1.05v1.05h-1.05zM157.4 226.1h1.05v1.05h-1.05zM158.3 223.0h1.05v1.05h-1.05zM163.6 222.1h1.05v1.05h-1.05zM159.1 225.5h1.05v1.05h-1.05zM160.2 222.9h1.05v1.05h-1.05zM151.4 221.4h1.05v1.05h-1.05zM161.3 223.1h1.05v1.05h-1.05zM150.9 220.9h1.05v1.05h-1.05zM147.1 218.6h1.05v1.05h-1.05zM163.3 223.1h1.05v1.05h-1.05zM160.8 219.5h1.05v1.05h-1.05zM163.6 225.7h1.05v1.05h-1.05zM151.9 221.5h1.05v1.05h-1.05zM149.6 223.1h1.05v1.05h-1.05zM155.6 224.5h1.05v1.05h-1.05zM165.6 229.1h1.05v1.05h-1.05zM150.9 224.4h1.05v1.05h-1.05zM164.3 224.9h1.05v1.05h-1.05zM152.4 227.0h1.05v1.05h-1.05zM152.7 216.8h1.05v1.05h-1.05zM162.8 224.1h1.05v1.05h-1.05zM159.4 224.0h1.05v1.05h-1.05zM152.0 223.9h1.05v1.05h-1.05zM161.8 226.3h1.05v1.05h-1.05zM154.7 219.9h1.05v1.05h-1.05zM147.6 222.4h1.05v1.05h-1.05zM156.0 225.1h1.05v1.05h-1.05zM148.2 224.0h1.05v1.05h-1.05zM149.3 224.0h1.05v1.05h-1.05zM155.5 223.4h1.05v1.05h-1.05zM147.2 228.8h1.05v1.05h-1.05zM155.9 223.9h1.05v1.05h-1.05zM163.1 221.5h1.05v1.05h-1.05zM161.3 221.4h1.05v1.05h-1.05zM145.8 224.5h1.05v1.05h-1.05zM165.9 227.0h1.05v1.05h-1.05zM149.6 220.8h1.05v1.05h-1.05zM157.3 225.7h1.05v1.05h-1.05zM160.6 225.2h1.05v1.05h-1.05zM159.4 224.1h1.05v1.05h-1.05zM160.8 221.4h1.05v1.05h-1.05zM162.0 220.0h1.05v1.05h-1.05zM145.7 223.3h1.05v1.05h-1.05zM148.2 224.4h1.05v1.05h-1.05zM160.4 220.0h1.05v1.05h-1.05zM146.3 226.7h1.05v1.05h-1.05zM154.9 225.8h1.05v1.05h-1.05zM159.6 223.3h1.05v1.05h-1.05zM163.3 224.3h1.05v1.05h-1.05zM154.8 221.7h1.05v1.05h-1.05zM161.4 221.2h1.05v1.05h-1.05zM164.9 223.1h1.05v1.05h-1.05zM150.9 222.9h1.05v1.05h-1.05zM158.4 221.6h1.05v1.05h-1.05zM161.1 226.8h1.05v1.05h-1.05zM155.9 220.9h1.05v1.05h-1.05z" fill="#000" fill-opacity="1.0"/>
<path d="M167.2 217.7h0.8v0.8h-0.8zM167.9 223.7h0.8v0.8h-0.8zM172.5 222.7h0.8v0.8h-0.8zM169.8 224.8h0.8v0.8h-0.8zM169.2 225.3h0.8v0.8h-0.8zM171.1 226.8h0.8v0.8h-0.8zM169.6 225.9h0.8v0.8h-0.8zM170.8 224.5h0.8v0.8h-0.8zM166.7 226.8h0.8v0.8h-0.8zM166.7 225.4h0.8v0.8h-0.8zM169.3 223.5h0.8v0.8h-0.8zM166.9 222.7h0.8v0.8h-0.8zM164.3 227.8h0.8v0.8h-0.8zM166.1 219.6h0.8v0.8h-0.8zM172.6 224.8h0.8v0.8h-0.8zM164.5 221.7h0.8v0.8h-0.8zM168.9 225.2h0.8v0.8h-0.8zM167.6 222.5h0.8v0.8h-0.8zM167.0 221.1h0.8v0.8h-0.8zM165.9 221.9h0.8v0.8h-0.8zM166.2 227.3h0.8v0.8h-0.8zM170.7 225.6h0.8v0.8h-0.8zM166.6 222.9h0.8v0.8h-0.8zM174.0 224.9h0.8v0.8h-0.8zM170.0 217.1h0.8v0.8h-0.8zM172.9 226.8h0.8v0.8h-0.8zM168.6 225.8h0.8v0.8h-0.8zM167.3 224.1h0.8v0.8h-0.8zM166.5 222.5h0.8v0.8h-0.8zM173.0 226.0h0.8v0.8h-0.8zM167.9 222.5h0.8v0.8h-0.8zM164.8 224.1h0.8v0.8h-0.8zM164.6 226.0h0.8v0.8h-0.8zM166.2 225.9h0.8v0.8h-0.8zM167.7 225.1h0.8v0.8h-0.8zM163.8 224.1h0.8v0.8h-0.8zM167.2 225.1h0.8v0.8h-0.8zM170.0 219.3h0.8v0.8h-0.8zM171.3 226.1h0.8v0.8h-0.8zM165.6 223.9h0.8v0.8h-0.8zM170.8 225.5h0.8v0.8h-0.8zM165.0 219.5h0.8v0.8h-0.8zM166.6 222.6h0.8v0.8h-0.8zM165.6 224.5h0.8v0.8h-0.8zM165.7 219.1h0.8v0.8h-0.8zM167.6 227.0h0.8v0.8h-0.8zM167.0 226.1h0.8v0.8h-0.8zM168.4 225.7h0.8v0.8h-0.8zM167.4 224.0h0.8v0.8h-0.8zM164.6 223.9h0.8v0.8h-0.8zM166.9 224.8h0.8v0.8h-0.8zM165.1 222.7h0.8v0.8h-0.8zM166.5 223.1h0.8v0.8h-0.8zM166.6 221.7h0.8v0.8h-0.8zM169.3 226.0h0.8v0.8h-0.8zM168.3 228.1h0.8v0.8h-0.8zM164.5 221.2h0.8v0.8h-0.8zM164.6 221.4h0.8v0.8h-0.8zM168.3 217.2h0.8v0.8h-0.8zM168.5 223.7h0.8v0.8h-0.8zM174.4 227.8h0.8v0.8h-0.8zM163.7 225.8h0.8v0.8h-0.8zM164.3 220.4h0.8v0.8h-0.8zM168.2 226.5h0.8v0.8h-0.8zM169.6 221.3h0.8v0.8h-0.8zM163.8 224.1h0.8v0.8h-0.8zM163.7 225.0h0.8v0.8h-0.8zM169.1 226.9h0.8v0.8h-0.8zM169.7 224.4h0.8v0.8h-0.8zM174.2 224.1h0.8v0.8h-0.8zM163.5 224.7h0.8v0.8h-0.8zM171.5 220.4h0.8v0.8h-0.8zM167.1 227.3h0.8v0.8h-0.8zM166.4 226.0h0.8v0.8h-0.8zM170.9 225.4h0.8v0.8h-0.8zM165.0 222.1h0.8v0.8h-0.8zM165.1 225.1h0.8v0.8h-0.8zM163.3 218.2h0.8v0.8h-0.8zM171.2 220.1h0.8v0.8h-0.8zM168.3 221.1h0.8v0.8h-0.8zM163.9 228.7h0.8v0.8h-0.8zM173.3 223.0h0.8v0.8h-0.8zM167.0 224.5h0.8v0.8h-0.8zM166.0 222.8h0.8v0.8h-0.8zM168.5 222.3h0.8v0.8h-0.8zM166.7 224.8h0.8v0.8h-0.8zM167.4 222.0h0.8v0.8h-0.8zM168.8 225.7h0.8v0.8h-0.8zM168.1 224.3h0.8v0.8h-0.8zM170.6 222.3h0.8v0.8h-0.8zM167.0 225.2h0.8v0.8h-0.8zM166.9 222.9h0.8v0.8h-0.8zM163.4 223.0h0.8v0.8h-0.8zM168.2 223.2h0.8v0.8h-0.8zM167.1 222.1h0.8v0.8h-0.8zM168.7 224.0h0.8v0.8h-0.8zM166.3 226.6h0.8v0.8h-0.8zM167.2 225.2h0.8v0.8h-0.8zM171.9 227.1h0.8v0.8h-0.8zM169.7 222.3h0.8v0.8h-0.8zM167.4 219.8h0.8v0.8h-0.8zM172.3 218.9h0.8v0.8h-0.8zM164.4 222.7h0.8v0.8h-0.8zM163.1 225.4h0.8v0.8h-0.8zM170.1 224.5h0.8v0.8h-0.8zM172.1 226.1h0.8v0.8h-0.8zM167.2 225.1h0.8v0.8h-0.8zM165.9 227.1h0.8v0.8h-0.8zM165.8 221.2h0.8v0.8h-0.8zM166.2 224.1h0.8v0.8h-0.8zM170.1 221.3h0.8v0.8h-0.8zM168.5 222.4h0.8v0.8h-0.8zM170.6 228.6h0.8v0.8h-0.8zM165.2 225.8h0.8v0.8h-0.8zM170.9 225.9h0.8v0.8h-0.8zM166.7 222.6h0.8v0.8h-0.8zM166.7 224.4h0.8v0.8h-0.8zM164.4 224.5h0.8v0.8h-0.8zM172.9 223.0h0.8v0.8h-0.8zM172.6 226.3h0.8v0.8h-0.8z" fill="#000" fill-opacity="0.65"/>
<path d="M156.6 245.7h1.05v1.05h-1.05zM161.2 242.2h1.05v1.05h-1.05zM158.5 237.3h1.05v1.05h-1.05zM157.8 239.6h1.05v1.05h-1.05zM160.2 244.7h1.05v1.05h-1.05zM151.7 243.0h1.05v1.05h-1.05zM160.2 248.2h1.05v1.05h-1.05zM156.6 243.1h1.05v1.05h-1.05zM157.5 235.7h1.05v1.05h-1.05zM154.6 251.0h1.05v1.05h-1.05zM149.8 240.9h1.05v1.05h-1.05zM148.6 243.1h1.05v1.05h-1.05zM151.4 242.4h1.05v1.05h-1.05zM155.4 240.3h1.05v1.05h-1.05zM151.6 244.5h1.05v1.05h-1.05zM155.5 246.8h1.05v1.05h-1.05zM155.9 242.1h1.05v1.05h-1.05zM153.5 237.0h1.05v1.05h-1.05zM158.6 240.5h1.05v1.05h-1.05zM154.3 239.8h1.05v1.05h-1.05zM156.9 245.2h1.05v1.05h-1.05zM150.3 243.5h1.05v1.05h-1.05zM154.6 246.0h1.05v1.05h-1.05zM166.9 240.8h1.05v1.05h-1.05zM157.7 248.0h1.05v1.05h-1.05zM152.3 245.9h1.05v1.05h-1.05zM158.4 240.0h1.05v1.05h-1.05zM154.9 242.0h1.05v1.05h-1.05zM150.4 243.2h1.05v1.05h-1.05zM153.4 242.2h1.05v1.05h-1.05zM147.2 245.0h1.05v1.05h-1.05zM150.2 239.7h1.05v1.05h-1.05zM156.3 243.0h1.05v1.05h-1.05zM150.8 242.4h1.05v1.05h-1.05zM152.4 247.2h1.05v1.05h-1.05zM149.6 241.3h1.05v1.05h-1.05zM157.7 244.8h1.05v1.05h-1.05zM147.5 241.5h1.05v1.05h-1.05zM151.0 241.3h1.05v1.05h-1.05zM147.8 240.8h1.05v1.05h-1.05zM151.0 248.5h1.05v1.05h-1.05zM161.4 250.6h1.05v1.05h-1.05zM158.0 243.2h1.05v1.05h-1.05zM159.4 245.6h1.05v1.05h-1.05zM147.4 240.6h1.05v1.05h-1.05zM153.4 242.5h1.05v1.05h-1.05zM160.0 237.1h1.05v1.05h-1.05zM150.8 241.4h1.05v1.05h-1.05zM158.7 241.8h1.05v1.05h-1.05zM158.5 240.6h1.05v1.05h-1.05zM158.9 242.6h1.05v1.05h-1.05zM153.5 243.5h1.05v1.05h-1.05zM156.0 244.5h1.05v1.05h-1.05zM150.4 249.3h1.05v1.05h-1.05zM155.9 244.8h1.05v1.05h-1.05zM149.0 241.5h1.05v1.05h-1.05zM152.5 243.2h1.05v1.05h-1.05zM156.0 244.8h1.05v1.05h-1.05zM157.5 239.7h1.05v1.05h-1.05zM154.0 241.3h1.05v1.05h-1.05zM161.6 241.9h1.05v1.05h-1.05zM149.6 243.4h1.05v1.05h-1.05zM153.1 241.3h1.05v1.05h-1.05zM152.7 241.2h1.05v1.05h-1.05zM159.1 241.1h1.05v1.05h-1.05zM159.8 238.4h1.05v1.05h-1.05zM150.7 239.5h1.05v1.05h-1.05zM154.7 248.1h1.05v1.05h-1.05zM155.3 240.0h1.05v1.05h-1.05zM157.0 243.4h1.05v1.05h-1.05zM148.2 240.6h1.05v1.05h-1.05zM153.9 242.6h1.05v1.05h-1.05zM151.5 241.0h1.05v1.05h-1.05zM151.7 247.8h1.05v1.05h-1.05zM149.2 244.6h1.05v1.05h-1.05zM148.9 238.1h1.05v1.05h-1.05zM157.3 242.4h1.05v1.05h-1.05zM151.2 243.3h1.05v1.05h-1.05zM152.2 246.9h1.05v1.05h-1.05zM149.7 243.5h1.05v1.05h-1.05zM148.5 238.3h1.05v1.05h-1.05zM151.9 245.8h1.05v1.05h-1.05zM151.3 241.7h1.05v1.05h-1.05zM150.5 244.1h1.05v1.05h-1.05zM149.2 245.4h1.05v1.05h-1.05zM150.4 244.4h1.05v1.05h-1.05zM154.6 244.9h1.05v1.05h-1.05zM151.3 243.0h1.05v1.05h-1.05zM154.9 248.9h1.05v1.05h-1.05zM157.5 248.3h1.05v1.05h-1.05zM149.9 242.1h1.05v1.05h-1.05zM151.7 244.1h1.05v1.05h-1.05zM154.2 240.7h1.05v1.05h-1.05zM149.8 241.4h1.05v1.05h-1.05zM150.0 237.6h1.05v1.05h-1.05zM148.7 242.8h1.05v1.05h-1.05zM151.3 242.3h1.05v1.05h-1.05zM154.7 239.1h1.05v1.05h-1.05zM154.9 244.5h1.05v1.05h-1.05zM157.0 236.4h1.05v1.05h-1.05zM153.0 243.3h1.05v1.05h-1.05zM154.8 242.8h1.05v1.05h-1.05zM158.7 242.4h1.05v1.05h-1.05zM155.8 241.7h1.05v1.05h-1.05zM148.0 242.2h1.05v1.05h-1.05zM162.7 236.9h1.05v1.05h-1.05zM158.3 246.5h1.05v1.05h-1.05zM161.5 246.6h1.05v1.05h-1.05zM158.3 242.4h1.05v1.05h-1.05zM149.3 243.1h1.05v1.05h-1.05zM149.9 242.2h1.05v1.05h-1.05zM152.5 244.5h1.05v1.05h-1.05zM153.4 242.1h1.05v1.05h-1.05zM154.8 243.7h1.05v1.05h-1.05zM152.0 242.4h1.05v1.05h-1.05zM156.7 246.3h1.05v1.05h-1.05zM156.2 238.0h1.05v1.05h-1.05zM155.4 237.8h1.05v1.05h-1.05zM157.2 240.2h1.05v1.05h-1.05zM151.7 241.8h1.05v1.05h-1.05zM161.5 244.2h1.05v1.05h-1.05zM146.9 243.6h1.05v1.05h-1.05zM154.0 240.6h1.05v1.05h-1.05zM153.3 241.2h1.05v1.05h-1.05zM160.9 242.0h1.05v1.05h-1.05zM155.3 244.1h1.05v1.05h-1.05zM150.9 240.9h1.05v1.05h-1.05zM155.5 238.7h1.05v1.05h-1.05zM156.3 242.2h1.05v1.05h-1.05zM161.7 245.7h1.05v1.05h-1.05zM151.0 241.3h1.05v1.05h-1.05zM152.8 244.5h1.05v1.05h-1.05zM150.2 241.0h1.05v1.05h-1.05zM152.5 246.7h1.05v1.05h-1.05zM150.8 240.2h1.05v1.05h-1.05zM147.8 247.7h1.05v1.05h-1.05zM147.9 239.7h1.05v1.05h-1.05zM153.2 242.0h1.05v1.05h-1.05zM155.4 241.2h1.05v1.05h-1.05zM147.2 242.2h1.05v1.05h-1.05zM160.8 242.8h1.05v1.05h-1.05zM151.2 241.8h1.05v1.05h-1.05zM152.2 247.0h1.05v1.05h-1.05zM147.1 238.9h1.05v1.05h-1.05zM159.1 236.9h1.05v1.05h-1.05zM150.5 236.4h1.05v1.05h-1.05zM155.0 240.2h1.05v1.05h-1.05zM148.4 240.3h1.05v1.05h-1.05zM152.6 239.1h1.05v1.05h-1.05zM155.8 246.6h1.05v1.05h-1.05zM152.9 244.7h1.05v1.05h-1.05zM154.7 240.3h1.05v1.05h-1.05zM161.9 240.6h1.05v1.05h-1.05zM152.9 241.3h1.05v1.05h-1.05zM153.7 243.5h1.05v1.05h-1.05zM159.7 242.3h1.05v1.05h-1.05zM151.0 246.7h1.05v1.05h-1.05zM156.2 238.1h1.05v1.05h-1.05zM152.0 238.3h1.05v1.05h-1.05zM154.7 243.6h1.05v1.05h-1.05zM157.0 245.5h1.05v1.05h-1.05zM155.3 246.8h1.05v1.05h-1.05zM153.7 240.9h1.05v1.05h-1.05zM156.5 245.3h1.05v1.05h-1.05zM153.7 242.1h1.05v1.05h-1.05zM152.0 243.2h1.05v1.05h-1.05zM152.2 242.6h1.05v1.05h-1.05zM152.4 243.2h1.05v1.05h-1.05zM147.2 240.1h1.05v1.05h-1.05zM153.2 245.4h1.05v1.05h-1.05zM149.0 243.0h1.05v1.05h-1.05zM154.2 244.4h1.05v1.05h-1.05zM146.0 248.6h1.05v1.05h-1.05zM151.4 246.0h1.05v1.05h-1.05zM156.9 246.7h1.05v1.05h-1.05zM154.2 236.1h1.05v1.05h-1.05zM154.6 244.8h1.05v1.05h-1.05zM153.8 244.2h1.05v1.05h-1.05zM151.3 239.9h1.05v1.05h-1.05zM155.9 242.6h1.05v1.05h-1.05zM152.3 244.6h1.05v1.05h-1.05zM151.9 243.6h1.05v1.05h-1.05zM150.2 245.5h1.05v1.05h-1.05zM157.7 243.7h1.05v1.05h-1.05zM153.8 244.3h1.05v1.05h-1.05zM151.9 245.1h1.05v1.05h-1.05zM157.7 240.5h1.05v1.05h-1.05zM156.4 242.2h1.05v1.05h-1.05zM158.6 243.5h1.05v1.05h-1.05zM150.1 242.1h1.05v1.05h-1.05zM153.8 243.3h1.05v1.05h-1.05zM149.5 238.8h1.05v1.05h-1.05zM159.9 244.4h1.05v1.05h-1.05zM156.4 241.2h1.05v1.05h-1.05zM163.7 241.6h1.05v1.05h-1.05zM155.1 241.1h1.05v1.05h-1.05zM157.5 244.2h1.05v1.05h-1.05zM161.4 247.1h1.05v1.05h-1.05zM149.0 242.4h1.05v1.05h-1.05zM152.3 243.2h1.05v1.05h-1.05zM156.0 238.5h1.05v1.05h-1.05zM156.7 244.2h1.05v1.05h-1.05zM160.2 237.3h1.05v1.05h-1.05zM158.9 240.3h1.05v1.05h-1.05zM149.7 244.9h1.05v1.05h-1.05zM160.9 246.4h1.05v1.05h-1.05zM145.7 246.1h1.05v1.05h-1.05zM155.4 240.7h1.05v1.05h-1.05zM148.2 241.7h1.05v1.05h-1.05zM156.2 245.7h1.05v1.05h-1.05zM150.9 248.2h1.05v1.05h-1.05zM152.3 244.7h1.05v1.05h-1.05zM162.9 238.9h1.05v1.05h-1.05zM155.0 241.5h1.05v1.05h-1.05zM153.5 244.2h1.05v1.05h-1.05zM149.6 248.7h1.05v1.05h-1.05zM153.6 240.3h1.05v1.05h-1.05zM159.6 237.9h1.05v1.05h-1.05zM155.0 243.5h1.05v1.05h-1.05zM160.7 241.4h1.05v1.05h-1.05zM156.3 242.5h1.05v1.05h-1.05zM155.9 238.0h1.05v1.05h-1.05zM146.7 242.2h1.05v1.05h-1.05zM156.4 243.6h1.05v1.05h-1.05zM154.9 244.6h1.05v1.05h-1.05zM153.3 240.3h1.05v1.05h-1.05zM157.2 238.0h1.05v1.05h-1.05zM154.0 246.1h1.05v1.05h-1.05zM155.7 243.9h1.05v1.05h-1.05zM153.7 247.5h1.05v1.05h-1.05zM160.6 243.1h1.05v1.05h-1.05zM157.6 247.8h1.05v1.05h-1.05zM161.6 242.3h1.05v1.05h-1.05zM147.5 238.8h1.05v1.05h-1.05zM149.7 244.3h1.05v1.05h-1.05zM150.5 246.2h1.05v1.05h-1.05zM152.7 243.2h1.05v1.05h-1.05zM152.2 241.5h1.05v1.05h-1.05zM153.4 241.7h1.05v1.05h-1.05zM153.5 242.6h1.05v1.05h-1.05zM155.3 244.2h1.05v1.05h-1.05zM152.1 239.6h1.05v1.05h-1.05zM156.0 247.9h1.05v1.05h-1.05zM155.2 245.6h1.05v1.05h-1.05zM150.6 240.8h1.05v1.05h-1.05zM148.2 240.7h1.05v1.05h-1.05zM155.2 241.8h1.05v1.05h-1.05zM149.2 244.3h1.05v1.05h-1.05zM157.3 241.7h1.05v1.05h-1.05zM156.3 243.0h1.05v1.05h-1.05zM158.9 248.0h1.05v1.05h-1.05zM158.0 238.4h1.05v1.05h-1.05zM151.4 245.5h1.05v1.05h-1.05zM151.5 248.4h1.05v1.05h-1.05zM157.4 244.8h1.05v1.05h-1.05zM155.1 239.5h1.05v1.05h-1.05zM153.0 243.2h1.05v1.05h-1.05zM146.8 242.2h1.05v1.05h-1.05zM149.6 244.0h1.05v1.05h-1.05zM163.0 248.9h1.05v1.05h-1.05zM156.8 250.1h1.05v1.05h-1.05zM150.8 245.6h1.05v1.05h-1.05zM159.3 241.7h1.05v1.05h-1.05zM159.4 246.2h1.05v1.05h-1.05zM154.2 243.9h1.05v1.05h-1.05zM152.2 245.2h1.05v1.05h-1.05zM157.7 239.2h1.05v1.05h-1.05zM158.3 243.0h1.05v1.05h-1.05zM158.8 241.3h1.05v1.05h-1.05zM155.6 243.4h1.05v1.05h-1.05zM159.0 237.9h1.05v1.05h-1.05zM155.6 243.1h1.05v1.05h-1.05zM154.6 239.6h1.05v1.05h-1.05zM153.4 243.9h1.05v1.05h-1.05zM149.1 241.1h1.05v1.05h-1.05zM150.9 241.9h1.05v1.05h-1.05zM160.5 242.4h1.05v1.05h-1.05zM156.7 243.6h1.05v1.05h-1.05zM153.7 243.6h1.05v1.05h-1.05zM146.4 241.6h1.05v1.05h-1.05zM149.8 244.7h1.05v1.05h-1.05zM150.9 246.3h1.05v1.05h-1.05zM151.4 240.2h1.05v1.05h-1.05zM156.8 241.0h1.05v1.05h-1.05zM152.9 241.3h1.05v1.05h-1.05zM151.0 247.7h1.05v1.05h-1.05zM160.9 240.9h1.05v1.05h-1.05zM159.5 244.1h1.05v1.05h-1.05zM151.9 244.2h1.05v1.05h-1.05zM147.4 240.0h1.05v1.05h-1.05zM149.5 243.2h1.05v1.05h-1.05zM150.9 241.9h1.05v1.05h-1.05zM152.0 247.8h1.05v1.05h-1.05zM154.9 240.5h1.05v1.05h-1.05zM153.3 240.2h1.05v1.05h-1.05zM153.3 245.6h1.05v1.05h-1.05zM148.9 243.0h1.05v1.05h-1.05zM156.4 243.2h1.05v1.05h-1.05zM159.6 244.7h1.05v1.05h-1.05zM157.8 241.6h1.05v1.05h-1.05zM155.8 239.5h1.05v1.05h-1.05zM146.5 243.7h1.05v1.05h-1.05zM150.8 244.2h1.05v1.05h-1.05zM152.5 242.4h1.05v1.05h-1.05zM159.3 244.0h1.05v1.05h-1.05zM152.7 245.0h1.05v1.05h-1.05zM156.1 241.2h1.05v1.05h-1.05zM150.1 240.5h1.05v1.05h-1.05zM150.0 240.1h1.05v1.05h-1.05zM154.1 243.5h1.05v1.05h-1.05zM155.5 241.6h1.05v1.05h-1.05zM149.8 240.5h1.05v1.05h-1.05zM155.7 241.6h1.05v1.05h-1.05zM155.7 236.2h1.05v1.05h-1.05zM157.4 241.2h1.05v1.05h-1.05zM147.9 240.5h1.05v1.05h-1.05zM154.2 243.4h1.05v1.05h-1.05zM161.1 246.5h1.05v1.05h-1.05zM151.3 241.3h1.05v1.05h-1.05zM152.1 246.4h1.05v1.05h-1.05zM151.6 236.6h1.05v1.05h-1.05zM155.1 244.8h1.05v1.05h-1.05zM157.0 242.6h1.05v1.05h-1.05zM157.9 245.0h1.05v1.05h-1.05zM149.1 245.1h1.05v1.05h-1.05zM152.2 245.0h1.05v1.05h-1.05zM153.0 235.7h1.05v1.05h-1.05zM150.8 243.0h1.05v1.05h-1.05zM148.8 238.0h1.05v1.05h-1.05zM158.6 242.3h1.05v1.05h-1.05zM153.8 238.6h1.05v1.05h-1.05zM159.0 243.3h1.05v1.05h-1.05zM157.6 244.5h1.05v1.05h-1.05zM150.4 244.0h1.05v1.05h-1.05zM150.2 237.9h1.05v1.05h-1.05zM149.9 250.1h1.05v1.05h-1.05zM149.5 243.4h1.05v1.05h-1.05zM150.7 238.8h1.05v1.05h-1.05zM150.3 243.1h1.05v1.05h-1.05zM152.6 249.1h1.05v1.05h-1.05zM149.6 238.3h1.05v1.05h-1.05zM155.0 238.6h1.05v1.05h-1.05zM153.9 244.6h1.05v1.05h-1.05zM148.1 242.6h1.05v1.05h-1.05zM153.7 240.3h1.05v1.05h-1.05zM151.9 245.9h1.05v1.05h-1.05zM155.1 245.4h1.05v1.05h-1.05zM151.0 242.3h1.05v1.05h-1.05zM151.1 245.4h1.05v1.05h-1.05zM148.7 241.6h1.05v1.05h-1.05zM148.0 237.8h1.05v1.05h-1.05zM151.3 245.5h1.05v1.05h-1.05zM158.0 241.9h1.05v1.05h-1.05zM159.8 243.4h1.05v1.05h-1.05zM152.1 242.8h1.05v1.05h-1.05zM152.8 242.9h1.05v1.05h-1.05zM157.7 239.4h1.05v1.05h-1.05zM150.5 241.2h1.05v1.05h-1.05zM157.2 243.8h1.05v1.05h-1.05zM146.6 242.3h1.05v1.05h-1.05zM149.1 239.7h1.05v1.05h-1.05zM161.5 243.4h1.05v1.05h-1.05zM151.4 246.3h1.05v1.05h-1.05zM151.0 246.0h1.05v1.05h-1.05zM150.8 245.2h1.05v1.05h-1.05zM145.9 241.3h1.05v1.05h-1.05zM151.8 243.8h1.05v1.05h-1.05zM149.1 243.9h1.05v1.05h-1.05zM155.0 243.4h1.05v1.05h-1.05zM152.7 244.7h1.05v1.05h-1.05zM152.7 244.6h1.05v1.05h-1.05zM149.0 246.7h1.05v1.05h-1.05zM153.4 239.0h1.05v1.05h-1.05zM150.3 242.8h1.05v1.05h-1.05zM157.5 242.4h1.05v1.05h-1.05zM146.8 239.8h1.05v1.05h-1.05zM152.8 241.1h1.05v1.05h-1.05zM153.8 247.3h1.05v1.05h-1.05zM153.2 242.5h1.05v1.05h-1.05zM153.3 240.2h1.05v1.05h-1.05zM154.3 243.2h1.05v1.05h-1.05zM153.2 244.4h1.05v1.05h-1.05zM158.2 250.4h1.05v1.05h-1.05zM159.8 243.6h1.05v1.05h-1.05zM155.7 239.9h1.05v1.05h-1.05zM156.3 241.7h1.05v1.05h-1.05zM150.5 242.3h1.05v1.05h-1.05zM148.8 245.6h1.05v1.05h-1.05zM155.5 241.9h1.05v1.05h-1.05zM158.0 240.4h1.05v1.05h-1.05zM156.0 243.3h1.05v1.05h-1.05zM149.1 243.3h1.05v1.05h-1.05zM146.3 238.3h1.05v1.05h-1.05zM146.5 238.8h1.05v1.05h-1.05zM155.2 239.0h1.05v1.05h-1.05zM160.4 239.5h1.05v1.05h-1.05zM150.2 247.7h1.05v1.05h-1.05zM154.3 240.9h1.05v1.05h-1.05zM146.9 241.9h1.05v1.05h-1.05zM158.8 242.4h1.05v1.05h-1.05zM157.5 248.4h1.05v1.05h-1.05zM159.4 242.9h1.05v1.05h-1.05zM159.1 242.8h1.05v1.05h-1.05zM154.2 242.7h1.05v1.05h-1.05zM155.2 240.3h1.05v1.05h-1.05zM162.6 243.8h1.05v1.05h-1.05zM149.4 243.1h1.05v1.05h-1.05zM154.8 240.8h1.05v1.05h-1.05zM154.1 238.9h1.05v1.05h-1.05zM150.9 244.7h1.05v1.05h-1.05zM153.5 241.4h1.05v1.05h-1.05zM149.7 244.8h1.05v1.05h-1.05zM158.6 248.3h1.05v1.05h-1.05zM162.6 245.2h1.05v1.05h-1.05zM155.0 247.5h1.05v1.05h-1.05zM153.3 241.1h1.05v1.05h-1.05zM150.5 242.7h1.05v1.05h-1.05zM156.2 242.5h1.05v1.05h-1.05zM152.7 244.4h1.05v1.05h-1.05zM158.4 241.7h1.05v1.05h-1.05zM152.3 249.7h1.05v1.05h-1.05zM152.3 244.1h1.05v1.05h-1.05zM156.1 239.3h1.05v1.05h-1.05zM154.5 241.7h1.05v1.05h-1.05zM159.2 246.0h1.05v1.05h-1.05zM154.8 244.3h1.05v1.05h-1.05zM153.0 242.5h1.05v1.05h-1.05zM154.8 239.1h1.05v1.05h-1.05zM149.1 246.0h1.05v1.05h-1.05zM147.5 246.5h1.05v1.05h-1.05zM152.8 243.8h1.05v1.05h-1.05zM151.9 241.5h1.05v1.05h-1.05zM150.3 239.8h1.05v1.05h-1.05zM153.3 243.9h1.05v1.05h-1.05zM156.3 241.5h1.05v1.05h-1.05zM149.9 245.6h1.05v1.05h-1.05zM158.3 245.6h1.05v1.05h-1.05zM153.2 243.9h1.05v1.05h-1.05zM158.4 242.0h1.05v1.05h-1.05zM159.7 244.5h1.05v1.05h-1.05zM149.5 242.4h1.05v1.05h-1.05zM151.1 240.3h1.05v1.05h-1.05zM159.5 237.3h1.05v1.05h-1.05zM154.4 247.3h1.05v1.05h-1.05zM153.0 244.2h1.05v1.05h-1.05zM147.8 239.5h1.05v1.05h-1.05zM152.0 239.1h1.05v1.05h-1.05zM151.2 239.3h1.05v1.05h-1.05zM151.7 241.7h1.05v1.05h-1.05zM151.4 238.4h1.05v1.05h-1.05zM151.9 249.5h1.05v1.05h-1.05zM145.9 247.1h1.05v1.05h-1.05zM149.9 243.1h1.05v1.05h-1.05zM153.4 247.2h1.05v1.05h-1.05zM155.6 239.5h1.05v1.05h-1.05zM156.0 244.7h1.05v1.05h-1.05zM159.4 239.6h1.05v1.05h-1.05zM158.8 247.0h1.05v1.05h-1.05zM154.8 244.8h1.05v1.05h-1.05zM156.8 238.6h1.05v1.05h-1.05zM153.4 244.7h1.05v1.05h-1.05zM151.8 246.1h1.05v1.05h-1.05zM162.6 242.9h1.05v1.05h-1.05zM149.6 244.1h1.05v1.05h-1.05zM145.8 247.8h1.05v1.05h-1.05zM162.2 239.8h1.05v1.05h-1.05zM146.2 246.8h1.05v1.05h-1.05zM156.6 241.8h1.05v1.05h-1.05zM148.6 242.3h1.05v1.05h-1.05zM154.4 245.4h1.05v1.05h-1.05zM149.7 243.5h1.05v1.05h-1.05zM157.8 239.0h1.05v1.05h-1.05zM151.2 239.6h1.05v1.05h-1.05zM149.3 242.5h1.05v1.05h-1.05zM157.6 242.7h1.05v1.05h-1.05zM150.7 250.8h1.05v1.05h-1.05zM159.4 238.6h1.05v1.05h-1.05zM150.3 242.8h1.05v1.05h-1.05zM155.5 246.1h1.05v1.05h-1.05zM149.3 241.4h1.05v1.05h-1.05zM149.6 250.5h1.05v1.05h-1.05zM157.2 244.2h1.05v1.05h-1.05zM155.4 239.2h1.05v1.05h-1.05zM158.8 237.2h1.05v1.05h-1.05zM151.3 240.7h1.05v1.05h-1.05zM151.0 238.3h1.05v1.05h-1.05zM154.2 237.4h1.05v1.05h-1.05zM158.1 240.2h1.05v1.05h-1.05zM150.5 240.9h1.05v1.05h-1.05zM147.8 247.3h1.05v1.05h-1.05zM145.6 240.5h1.05v1.05h-1.05zM149.7 245.1h1.05v1.05h-1.05zM154.4 246.1h1.05v1.05h-1.05zM152.2 238.9h1.05v1.05h-1.05zM145.7 243.0h1.05v1.05h-1.05zM154.7 239.8h1.05v1.05h-1.05zM153.0 243.7h1.05v1.05h-1.05zM155.0 244.0h1.05v1.05h-1.05zM146.0 244.2h1.05v1.05h-1.05zM157.8 240.9h1.05v1.05h-1.05zM152.6 249.3h1.05v1.05h-1.05zM154.6 240.1h1.05v1.05h-1.05zM150.7 243.0h1.05v1.05h-1.05zM145.7 246.0h1.05v1.05h-1.05zM156.9 242.1h1.05v1.05h-1.05zM161.3 237.3h1.05v1.05h-1.05zM159.1 242.9h1.05v1.05h-1.05zM150.2 241.6h1.05v1.05h-1.05zM151.1 243.2h1.05v1.05h-1.05zM157.9 242.4h1.05v1.05h-1.05zM154.0 242.3h1.05v1.05h-1.05zM151.7 247.1h1.05v1.05h-1.05zM151.0 244.0h1.05v1.05h-1.05zM154.6 244.5h1.05v1.05h-1.05zM152.2 239.2h1.05v1.05h-1.05zM158.5 237.3h1.05v1.05h-1.05zM156.1 245.1h1.05v1.05h-1.05zM160.6 242.1h1.05v1.05h-1.05zM147.3 242.8h1.05v1.05h-1.05zM149.0 243.8h1.05v1.05h-1.05zM152.2 244.3h1.05v1.05h-1.05zM153.7 236.6h1.05v1.05h-1.05zM155.7 239.1h1.05v1.05h-1.05zM153.8 241.4h1.05v1.05h-1.05zM149.4 242.9h1.05v1.05h-1.05zM146.6 243.5h1.05v1.05h-1.05zM156.7 242.1h1.05v1.05h-1.05zM152.2 240.8h1.05v1.05h-1.05zM151.1 247.4h1.05v1.05h-1.05zM153.6 242.2h1.05v1.05h-1.05zM157.1 238.7h1.05v1.05h-1.05zM148.6 243.1h1.05v1.05h-1.05zM154.9 245.9h1.05v1.05h-1.05zM150.8 240.7h1.05v1.05h-1.05zM157.2 244.4h1.05v1.05h-1.05zM150.7 245.2h1.05v1.05h-1.05zM157.9 246.3h1.05v1.05h-1.05zM146.4 239.1h1.05v1.05h-1.05zM155.3 243.0h1.05v1.05h-1.05zM154.3 244.1h1.05v1.05h-1.05zM156.0 239.6h1.05v1.05h-1.05zM150.0 243.4h1.05v1.05h-1.05zM157.2 239.5h1.05v1.05h-1.05zM152.6 242.8h1.05v1.05h-1.05zM156.6 244.0h1.05v1.05h-1.05zM152.1 240.4h1.05v1.05h-1.05zM146.2 238.7h1.05v1.05h-1.05zM151.0 247.1h1.05v1.05h-1.05zM150.9 239.1h1.05v1.05h-1.05zM155.9 245.3h1.05v1.05h-1.05zM148.7 245.7h1.05v1.05h-1.05zM160.4 244.5h1.05v1.05h-1.05zM151.9 242.1h1.05v1.05h-1.05zM155.0 240.1h1.05v1.05h-1.05zM149.2 238.8h1.05v1.05h-1.05zM159.1 243.2h1.05v1.05h-1.05zM153.1 246.5h1.05v1.05h-1.05zM156.5 245.1h1.05v1.05h-1.05zM148.0 240.9h1.05v1.05h-1.05zM150.8 245.7h1.05v1.05h-1.05zM160.3 241.3h1.05v1.05h-1.05zM156.6 246.4h1.05v1.05h-1.05zM153.0 238.1h1.05v1.05h-1.05zM161.5 246.3h1.05v1.05h-1.05zM147.5 242.9h1.05v1.05h-1.05zM152.2 246.2h1.05v1.05h-1.05zM151.8 241.8h1.05v1.05h-1.05zM153.1 238.7h1.05v1.05h-1.05zM156.0 238.5h1.05v1.05h-1.05zM151.0 245.9h1.05v1.05h-1.05zM150.0 243.2h1.05v1.05h-1.05zM154.6 244.5h1.05v1.05h-1.05zM153.0 243.8h1.05v1.05h-1.05zM147.5 239.2h1.05v1.05h-1.05zM156.5 240.6h1.05v1.05h-1.05zM151.9 242.4h1.05v1.05h-1.05zM148.7 240.5h1.05v1.05h-1.05zM148.8 242.4h1.05v1.05h-1.05zM159.9 242.6h1.05v1.05h-1.05zM147.6 239.9h1.05v1.05h-1.05zM155.4 241.4h1.05v1.05h-1.05zM156.4 240.6h1.05v1.05h-1.05zM151.3 241.5h1.05v1.05h-1.05zM148.8 241.8h1.05v1.05h-1.05zM156.2 243.2h1.05v1.05h-1.05zM158.1 240.3h1.05v1.05h-1.05zM156.5 241.5h1.05v1.05h-1.05zM153.2 246.4h1.05v1.05h-1.05zM152.4 242.1h1.05v1.05h-1.05zM155.1 241.5h1.05v1.05h-1.05zM152.9 247.2h1.05v1.05h-1.05zM149.7 244.2h1.05v1.05h-1.05zM157.3 245.7h1.05v1.05h-1.05zM155.7 247.6h1.05v1.05h-1.05zM150.4 241.3h1.05v1.05h-1.05zM155.7 240.9h1.05v1.05h-1.05zM155.4 245.5h1.05v1.05h-1.05zM154.3 236.6h1.05v1.05h-1.05zM150.8 247.9h1.05v1.05h-1.05zM158.1 243.9h1.05v1.05h-1.05zM157.1 248.8h1.05v1.05h-1.05zM154.7 246.3h1.05v1.05h-1.05zM146.0 249.5h1.05v1.05h-1.05zM149.8 245.1h1.05v1.05h-1.05zM152.9 235.9h1.05v1.05h-1.05zM159.0 245.7h1.05v1.05h-1.05zM152.6 246.2h1.05v1.05h-1.05zM147.4 244.6h1.05v1.05h-1.05zM160.8 240.3h1.05v1.05h-1.05zM146.1 244.7h1.05v1.05h-1.05zM165.3 242.2h1.05v1.05h-1.05zM157.7 243.4h1.05v1.05h-1.05zM149.5 248.2h1.05v1.05h-1.05zM160.3 241.8h1.05v1.05h-1.05zM148.8 249.4h1.05v1.05h-1.05zM157.2 244.9h1.05v1.05h-1.05zM149.9 241.8h1.05v1.05h-1.05zM146.7 244.7h1.05v1.05h-1.05zM152.7 245.3h1.05v1.05h-1.05zM150.6 245.9h1.05v1.05h-1.05z" fill="#000" fill-opacity="1.0"/>
<path d="M162.4 241.4h0.7v0.7h-0.7zM170.3 242.0h0.7v0.7h-0.7zM164.6 242.7h0.7v0.7h-0.7zM164.5 240.9h0.7v0.7h-0.7zM162.2 248.7h0.7v0.7h-0.7zM167.1 245.9h0.7v0.7h-0.7zM165.6 243.7h0.7v0.7h-0.7zM166.7 241.0h0.7v0.7h-0.7zM161.3 246.2h0.7v0.7h-0.7zM165.2 247.7h0.7v0.7h-0.7zM167.4 242.2h0.7v0.7h-0.7zM168.0 242.3h0.7v0.7h-0.7zM171.3 245.2h0.7v0.7h-0.7zM165.3 240.3h0.7v0.7h-0.7zM159.8 242.9h0.7v0.7h-0.7zM167.2 242.9h0.7v0.7h-0.7zM159.2 242.5h0.7v0.7h-0.7zM161.6 248.7h0.7v0.7h-0.7zM169.0 243.4h0.7v0.7h-0.7zM163.5 238.7h0.7v0.7h-0.7zM167.3 240.8h0.7v0.7h-0.7zM159.6 243.8h0.7v0.7h-0.7zM169.4 244.3h0.7v0.7h-0.7zM167.8 238.0h0.7v0.7h-0.7zM171.8 238.4h0.7v0.7h-0.7zM163.7 240.2h0.7v0.7h-0.7zM161.6 241.5h0.7v0.7h-0.7zM164.2 244.5h0.7v0.7h-0.7zM171.6 248.6h0.7v0.7h-0.7zM168.2 250.1h0.7v0.7h-0.7zM164.4 243.1h0.7v0.7h-0.7zM164.8 244.3h0.7v0.7h-0.7zM163.5 242.3h0.7v0.7h-0.7zM165.8 246.6h0.7v0.7h-0.7zM169.2 246.5h0.7v0.7h-0.7zM165.8 241.8h0.7v0.7h-0.7zM173.6 243.9h0.7v0.7h-0.7zM164.6 242.4h0.7v0.7h-0.7zM166.8 242.4h0.7v0.7h-0.7zM168.9 245.8h0.7v0.7h-0.7zM167.1 239.1h0.7v0.7h-0.7zM167.6 243.5h0.7v0.7h-0.7zM166.6 242.4h0.7v0.7h-0.7zM170.8 238.7h0.7v0.7h-0.7zM173.2 245.8h0.7v0.7h-0.7zM167.3 245.2h0.7v0.7h-0.7zM164.8 246.9h0.7v0.7h-0.7zM167.0 248.2h0.7v0.7h-0.7zM165.3 241.9h0.7v0.7h-0.7zM166.9 245.2h0.7v0.7h-0.7z" fill="#000" fill-opacity="0.6"/>
<path d="M157.5 236.8h0.6v0.6h-0.6zM194.7 233.2h0.6v0.6h-0.6zM150.0 219.3h0.6v0.6h-0.6zM162.1 225.8h0.6v0.6h-0.6zM185.9 230.0h0.6v0.6h-0.6zM153.5 224.2h0.6v0.6h-0.6zM184.1 243.2h0.6v0.6h-0.6zM184.8 242.3h0.6v0.6h-0.6zM152.7 243.4h0.6v0.6h-0.6zM164.5 219.2h0.6v0.6h-0.6zM188.1 233.5h0.6v0.6h-0.6zM188.2 218.7h0.6v0.6h-0.6zM170.9 241.9h0.6v0.6h-0.6zM183.8 219.6h0.6v0.6h-0.6zM154.2 215.8h0.6v0.6h-0.6z" fill="#000" fill-opacity="0.4"/>
<text transform="translate(129.2 235.8) rotate(-90)" font-size="12.3"  textLength="27" lengthAdjust="spacingAndGlyphs" fill="#000" font-weight="bold"  stroke="#000" stroke-width="0.3">Vα24</text>
<text x="157.3" y="277.0" font-size="11.7"  textLength="28" lengthAdjust="spacingAndGlyphs" fill="#000" font-weight="bold"  stroke="#000" stroke-width="0.35">CD56</text>
<text x="245.5" y="12.9" font-size="15.8"   fill="#000" font-weight="bold"  stroke="#000" stroke-width="0.3">B</text>
<text x="290" y="8.0" font-size="9.5" stroke="#000" stroke-width="0.2" font-weight="bold" textLength="94" lengthAdjust="spacingAndGlyphs">Vα24<tspan font-size="5.5" dy="-3">+</tspan><tspan dy="3">Vβ11</tspan><tspan font-size="5.5" dy="-3">+</tspan><tspan dy="3"> NKT cells</tspan></text>
<text transform="translate(255.6 249.3) rotate(-90)" font-size="13"  textLength="213" lengthAdjust="spacingAndGlyphs" fill="#000" font-weight="bold"  stroke="#000" stroke-width="0.3">Frequency of receptor-expressing cells (%)</text>
<text x="275" y="19.8" font-size="5" text-anchor="end"  fill="#000" font-weight="bold"  stroke="#000" stroke-width="0.35">100</text>
<text x="275" y="31.419999999999998" font-size="5" text-anchor="end"  fill="#000" font-weight="bold"  stroke="#000" stroke-width="0.35">80</text>
<text x="275" y="43.04" font-size="5" text-anchor="end"  fill="#000" font-weight="bold"  stroke="#000" stroke-width="0.35">60</text>
<text x="275" y="54.66" font-size="5" text-anchor="end"  fill="#000" font-weight="bold"  stroke="#000" stroke-width="0.35">40</text>
<text x="275" y="66.27999999999999" font-size="5" text-anchor="end"  fill="#000" font-weight="bold"  stroke="#000" stroke-width="0.35">20</text>
<text x="275" y="77.89999999999999" font-size="5" text-anchor="end"  fill="#000" font-weight="bold"  stroke="#000" stroke-width="0.35">0</text>
<line x1="277.1" y1="17.0" x2="277.1" y2="76.6" stroke="#666" stroke-width="0.6" />
<line x1="276" y1="76.6" x2="386.5" y2="76.6" stroke="#000" stroke-width="1.0" />
<circle cx="281.88" cy="24.97" r="1.0" fill="#000"/>
<circle cx="281.31" cy="35.43" r="1.0" fill="#777"/>
<circle cx="281.74" cy="44.14" r="1.0" fill="#777"/>
<circle cx="281.39" cy="51.12" r="1.0" fill="#000"/>
<circle cx="281.89" cy="52.28" r="1.0" fill="#000"/>
<line x1="278.8" y1="41.24" x2="284.40000000000003" y2="41.24" stroke="#000" stroke-width="1.1" />
<circle cx="290.26" cy="20.91" r="1.0" fill="#000"/>
<circle cx="290.78" cy="23.52" r="1.0" fill="#000"/>
<circle cx="290.66" cy="31.94" r="1.0" fill="#777"/>
<circle cx="290.76" cy="33.11" r="1.0" fill="#000"/>
<circle cx="290.85" cy="37.17" r="1.0" fill="#000"/>
<line x1="287.75" y1="27.5865" x2="293.35" y2="27.5865" stroke="#000" stroke-width="1.1" />
<circle cx="299.34" cy="74.07" r="1.0" fill="#000"/>
<circle cx="299.40" cy="74.94" r="1.0" fill="#000"/>
<circle cx="299.62" cy="75.64" r="1.0" fill="#000"/>
<line x1="296.7" y1="74.93799999999999" x2="302.3" y2="74.93799999999999" stroke="#000" stroke-width="1.1" />
<circle cx="308.32" cy="66.22" r="1.0" fill="#000"/>
<circle cx="308.31" cy="72.61" r="1.0" fill="#000"/>
<circle cx="308.29" cy="74.36" r="1.0" fill="#000"/>
<line x1="305.65000000000003" y1="69.128" x2="311.25000000000006" y2="69.128" stroke="#000" stroke-width="1.1" />
<circle cx="317.61" cy="19.16" r="1.0" fill="#000"/>
<circle cx="317.62" cy="23.81" r="1.0" fill="#000"/>
<circle cx="317.58" cy="24.68" r="1.0" fill="#000"/>
<circle cx="317.23" cy="35.43" r="1.0" fill="#000"/>
<circle cx="317.65" cy="36.59" r="1.0" fill="#000"/>
<line x1="314.6" y1="25.552999999999997" x2="320.20000000000005" y2="25.552999999999997" stroke="#000" stroke-width="1.1" />
<circle cx="326.36" cy="19.74" r="1.0" fill="#000"/>
<circle cx="326.19" cy="29.62" r="1.0" fill="#000"/>
<circle cx="326.32" cy="34.27" r="1.0" fill="#000"/>
<circle cx="326.30" cy="38.34" r="1.0" fill="#777"/>
<line x1="323.55" y1="30.782000000000004" x2="329.15000000000003" y2="30.782000000000004" stroke="#000" stroke-width="1.1" />
<circle cx="335.05" cy="59.83" r="1.0" fill="#000"/>
<circle cx="335.34" cy="61.57" r="1.0" fill="#000"/>
<circle cx="335.22" cy="70.29" r="1.0" fill="#000"/>
<line x1="332.5" y1="63.898999999999994" x2="338.1" y2="63.898999999999994" stroke="#000" stroke-width="1.1" />
<circle cx="344.29" cy="73.66" r="1.0" fill="#000"/>
<circle cx="344.51" cy="74.36" r="1.0" fill="#000"/>
<circle cx="344.34" cy="75.23" r="1.0" fill="#000"/>
<line x1="341.45" y1="74.357" x2="347.05" y2="74.357" stroke="#000" stroke-width="1.1" />
<circle cx="353.14" cy="20.91" r="1.0" fill="#000"/>
<circle cx="353.42" cy="22.65" r="1.0" fill="#000"/>
<circle cx="353.50" cy="24.97" r="1.0" fill="#000"/>
<circle cx="353.19" cy="34.27" r="1.0" fill="#777"/>
<circle cx="353.47" cy="43.56" r="1.0" fill="#000"/>
<line x1="350.40000000000003" y1="26.134" x2="356.00000000000006" y2="26.134" stroke="#000" stroke-width="1.1" />
<circle cx="361.86" cy="18.58" r="1.0" fill="#000"/>
<circle cx="361.93" cy="19.74" r="1.0" fill="#000"/>
<circle cx="361.95" cy="20.91" r="1.0" fill="#000"/>
<circle cx="362.41" cy="22.07" r="1.0" fill="#000"/>
<line x1="359.35" y1="19.742999999999995" x2="364.95000000000005" y2="19.742999999999995" stroke="#000" stroke-width="1.1" />
<circle cx="371.21" cy="73.31" r="1.0" fill="#000"/>
<circle cx="371.23" cy="74.24" r="1.0" fill="#000"/>
<circle cx="370.97" cy="74.94" r="1.0" fill="#000"/>
<line x1="368.3" y1="74.357" x2="373.90000000000003" y2="74.357" stroke="#000" stroke-width="1.1" />
<circle cx="380.05" cy="22.65" r="1.0" fill="#000"/>
<circle cx="380.28" cy="29.62" r="1.0" fill="#777"/>
<circle cx="379.81" cy="35.43" r="1.0" fill="#777"/>
<circle cx="379.82" cy="42.98" r="1.0" fill="#000"/>
<line x1="377.25" y1="31.363" x2="382.85" y2="31.363" stroke="#000" stroke-width="1.1" />
<text transform="translate(283.70000000000005 94.89999999999999) rotate(-90)" font-size="6.0"  textLength="13.8" lengthAdjust="spacingAndGlyphs" fill="#000" font-weight="bold"  stroke="#000" stroke-width="0.35">CCR1</text>
<text transform="translate(292.65000000000003 94.89999999999999) rotate(-90)" font-size="6.0"  textLength="13.8" lengthAdjust="spacingAndGlyphs" fill="#000" font-weight="bold"  stroke="#000" stroke-width="0.35">CCR2</text>
<text transform="translate(301.6 94.89999999999999) rotate(-90)" font-size="6.0"  textLength="13.8" lengthAdjust="spacingAndGlyphs" fill="#000" font-weight="bold"  stroke="#000" stroke-width="0.35">CCR3</text>
<text transform="translate(310.55000000000007 94.89999999999999) rotate(-90)" font-size="6.0"  textLength="13.8" lengthAdjust="spacingAndGlyphs" fill="#000" font-weight="bold"  stroke="#000" stroke-width="0.35">CCR4</text>
<text transform="translate(319.50000000000006 94.89999999999999) rotate(-90)" font-size="6.0"  textLength="13.8" lengthAdjust="spacingAndGlyphs" fill="#000" font-weight="bold"  stroke="#000" stroke-width="0.35">CCR5</text>
<text transform="translate(328.45000000000005 94.89999999999999) rotate(-90)" font-size="6.0"  textLength="13.8" lengthAdjust="spacingAndGlyphs" fill="#000" font-weight="bold"  stroke="#000" stroke-width="0.35">CCR6</text>
<text transform="translate(337.40000000000003 94.89999999999999) rotate(-90)" font-size="6.0"  textLength="13.8" lengthAdjust="spacingAndGlyphs" fill="#000" font-weight="bold"  stroke="#000" stroke-width="0.35">CCR7</text>
<text transform="translate(346.35 94.89999999999999) rotate(-90)" font-size="6.0"  textLength="13.8" lengthAdjust="spacingAndGlyphs" fill="#000" font-weight="bold"  stroke="#000" stroke-width="0.35">CCR9</text>
<text transform="translate(355.30000000000007 98.8) rotate(-90)" font-size="6.0"  textLength="17.7" lengthAdjust="spacingAndGlyphs" fill="#000" font-weight="bold"  stroke="#000" stroke-width="0.35">CXCR3</text>
<text transform="translate(364.25000000000006 98.8) rotate(-90)" font-size="6.0"  textLength="17.7" lengthAdjust="spacingAndGlyphs" fill="#000" font-weight="bold"  stroke="#000" stroke-width="0.35">CXCR4</text>
<text transform="translate(373.20000000000005 98.8) rotate(-90)" font-size="6.0"  textLength="17.7" lengthAdjust="spacingAndGlyphs" fill="#000" font-weight="bold"  stroke="#000" stroke-width="0.35">CXCR5</text>
<text transform="translate(382.15000000000003 98.8) rotate(-90)" font-size="6.0"  textLength="17.7" lengthAdjust="spacingAndGlyphs" fill="#000" font-weight="bold"  stroke="#000" stroke-width="0.35">CXCR6</text>
<rect x="410.50" y="18.70" width="109.10" height="55.90" fill="none" stroke="#666" stroke-width="0.8" />
<line x1="410.5" y1="18.7" x2="410.5" y2="74.6" stroke="#222" stroke-width="0.8" />
<line x1="410.5" y1="74.6" x2="519.6" y2="74.6" stroke="#000" stroke-width="1.1" />
<text x="407.5" y="20.860000000000003" font-size="6" text-anchor="end"  fill="#000" font-weight="bold"  stroke="#000" stroke-width="0.35">100</text>
<text x="407.5" y="32.040000000000006" font-size="6" text-anchor="end"  fill="#000" font-weight="bold"  stroke="#000" stroke-width="0.35">80</text>
<text x="407.5" y="43.22" font-size="6" text-anchor="end"  fill="#000" font-weight="bold"  stroke="#000" stroke-width="0.35">60</text>
<text x="407.5" y="54.39999999999999" font-size="6" text-anchor="end"  fill="#000" font-weight="bold"  stroke="#000" stroke-width="0.35">40</text>
<text x="407.5" y="65.58" font-size="6" text-anchor="end"  fill="#000" font-weight="bold"  stroke="#000" stroke-width="0.35">20</text>
<text x="407.5" y="76.75999999999999" font-size="6" text-anchor="end"  fill="#000" font-weight="bold"  stroke="#000" stroke-width="0.35">0</text>
<line x1="408.7" y1="18.700000000000003" x2="410.5" y2="18.700000000000003" stroke="#333" stroke-width="0.6" />
<line x1="408.7" y1="29.880000000000003" x2="410.5" y2="29.880000000000003" stroke="#333" stroke-width="0.6" />
<line x1="408.7" y1="41.06" x2="410.5" y2="41.06" stroke="#333" stroke-width="0.6" />
<line x1="408.7" y1="52.239999999999995" x2="410.5" y2="52.239999999999995" stroke="#333" stroke-width="0.6" />
<line x1="408.7" y1="63.419999999999995" x2="410.5" y2="63.419999999999995" stroke="#333" stroke-width="0.6" />
<line x1="408.7" y1="74.6" x2="410.5" y2="74.6" stroke="#333" stroke-width="0.6" />
<ellipse cx="415.00" cy="74.40" rx="2.4" ry="0.96" fill="#000"/>
<line x1="419.525" y1="74.6" x2="419.525" y2="76.1" stroke="#333" stroke-width="0.5" />
<ellipse cx="424.05" cy="74.40" rx="2.4" ry="1.52" fill="#000"/>
<line x1="428.575" y1="74.6" x2="428.575" y2="76.1" stroke="#333" stroke-width="0.5" />
<ellipse cx="433.10" cy="74.40" rx="2.4" ry="0.68" fill="#000"/>
<line x1="437.625" y1="74.6" x2="437.625" y2="76.1" stroke="#333" stroke-width="0.5" />
<ellipse cx="442.15" cy="74.40" rx="2.4" ry="0.96" fill="#000"/>
<line x1="446.67499999999995" y1="74.6" x2="446.67499999999995" y2="76.1" stroke="#333" stroke-width="0.5" />
<rect x="448.70" y="72.92" width="5.00" height="1.68" fill="#000"  />
<line x1="451.2" y1="72.92299999999999" x2="451.2" y2="72.08449999999999" stroke="#555" stroke-width="0.75" />
<line x1="450.2" y1="72.08449999999999" x2="452.2" y2="72.08449999999999" stroke="#555" stroke-width="0.7" />
<line x1="455.72499999999997" y1="74.6" x2="455.72499999999997" y2="76.1" stroke="#333" stroke-width="0.5" />
<ellipse cx="460.25" cy="74.40" rx="2.4" ry="0.96" fill="#000"/>
<line x1="464.775" y1="74.6" x2="464.775" y2="76.1" stroke="#333" stroke-width="0.5" />
<rect x="466.80" y="21.22" width="5.00" height="53.38" fill="#000"  />
<line x1="469.3" y1="21.215500000000006" x2="469.3" y2="20.377000000000002" stroke="#555" stroke-width="0.75" />
<line x1="468.3" y1="20.377000000000002" x2="470.3" y2="20.377000000000002" stroke="#555" stroke-width="0.7" />
<line x1="473.825" y1="74.6" x2="473.825" y2="76.1" stroke="#333" stroke-width="0.5" />
<rect x="475.85" y="72.92" width="5.00" height="1.68" fill="#000"  />
<line x1="478.35" y1="72.92299999999999" x2="478.35" y2="71.80499999999999" stroke="#555" stroke-width="0.75" />
<line x1="477.35" y1="71.80499999999999" x2="479.35" y2="71.80499999999999" stroke="#555" stroke-width="0.7" />
<line x1="482.875" y1="74.6" x2="482.875" y2="76.1" stroke="#333" stroke-width="0.5" />
<rect x="484.90" y="57.27" width="5.00" height="17.33" fill="#000"  />
<line x1="487.4" y1="57.271" x2="487.4" y2="51.122" stroke="#555" stroke-width="0.75" />
<line x1="486.4" y1="51.122" x2="488.4" y2="51.122" stroke="#555" stroke-width="0.7" />
<line x1="491.92499999999995" y1="74.6" x2="491.92499999999995" y2="76.1" stroke="#333" stroke-width="0.5" />
<rect x="493.95" y="19.82" width="5.00" height="54.78" fill="#000"  />
<line x1="496.45" y1="19.818000000000005" x2="496.45" y2="18.9795" stroke="#555" stroke-width="0.75" />
<line x1="495.45" y1="18.9795" x2="497.45" y2="18.9795" stroke="#555" stroke-width="0.7" />
<line x1="500.97499999999997" y1="74.6" x2="500.97499999999997" y2="76.1" stroke="#333" stroke-width="0.5" />
<ellipse cx="505.50" cy="74.40" rx="2.4" ry="0.96" fill="#000"/>
<line x1="510.025" y1="74.6" x2="510.025" y2="76.1" stroke="#333" stroke-width="0.5" />
<ellipse cx="514.55" cy="74.40" rx="2.4" ry="0.96" fill="#000"/>
<line x1="519.0749999999999" y1="74.6" x2="519.0749999999999" y2="76.1" stroke="#333" stroke-width="0.5" />
<text x="424.8" y="16.7" font-size="9.9"  textLength="18" lengthAdjust="spacingAndGlyphs" fill="#000" font-weight="bold"  stroke="#000" stroke-width="0.5">CD8</text>
<text x="413" y="27.8" font-size="9.9"  textLength="41.8" lengthAdjust="spacingAndGlyphs" fill="#000" font-weight="bold"  stroke="#000" stroke-width="0.5">CD45RA+</text>
<text x="420" y="39" font-size="9.9"  textLength="28.3" lengthAdjust="spacingAndGlyphs" fill="#000" font-weight="bold"  stroke="#000" stroke-width="0.5">CD27+</text>
<text transform="translate(417.1 93.60000000000001) rotate(-90)" font-size="5.8"  textLength="15.2" lengthAdjust="spacing" fill="#000" font-weight="bold"  stroke="#000" stroke-width="0.35">CCR1</text>
<text transform="translate(426.15000000000003 93.60000000000001) rotate(-90)" font-size="5.8"  textLength="15.2" lengthAdjust="spacing" fill="#000" font-weight="bold"  stroke="#000" stroke-width="0.35">CCR2</text>
<text transform="translate(435.20000000000005 93.60000000000001) rotate(-90)" font-size="5.8"  textLength="15.2" lengthAdjust="spacing" fill="#000" font-weight="bold"  stroke="#000" stroke-width="0.35">CCR3</text>
<text transform="translate(444.25 93.60000000000001) rotate(-90)" font-size="5.8"  textLength="15.2" lengthAdjust="spacing" fill="#000" font-weight="bold"  stroke="#000" stroke-width="0.35">CCR4</text>
<text transform="translate(453.3 93.60000000000001) rotate(-90)" font-size="5.8"  textLength="15.2" lengthAdjust="spacing" fill="#000" font-weight="bold"  stroke="#000" stroke-width="0.35">CCR5</text>
<text transform="translate(462.35 93.60000000000001) rotate(-90)" font-size="5.8"  textLength="15.2" lengthAdjust="spacing" fill="#000" font-weight="bold"  stroke="#000" stroke-width="0.35">CCR6</text>
<text transform="translate(471.40000000000003 93.60000000000001) rotate(-90)" font-size="5.8"  textLength="15.2" lengthAdjust="spacing" fill="#000" font-weight="bold"  stroke="#000" stroke-width="0.35">CCR7</text>
<text transform="translate(480.45000000000005 93.60000000000001) rotate(-90)" font-size="5.8"  textLength="15.2" lengthAdjust="spacing" fill="#000" font-weight="bold"  stroke="#000" stroke-width="0.35">CCR9</text>
<text transform="translate(489.5 99.4) rotate(-90)" font-size="5.8"  textLength="21.0" lengthAdjust="spacing" fill="#000" font-weight="bold"  stroke="#000" stroke-width="0.35">CXCR3</text>
<text transform="translate(498.55 99.4) rotate(-90)" font-size="5.8"  textLength="21.0" lengthAdjust="spacing" fill="#000" font-weight="bold"  stroke="#000" stroke-width="0.35">CXCR4</text>
<text transform="translate(507.6 99.4) rotate(-90)" font-size="5.8"  textLength="21.0" lengthAdjust="spacing" fill="#000" font-weight="bold"  stroke="#000" stroke-width="0.35">CXCR5</text>
<text transform="translate(516.65 99.4) rotate(-90)" font-size="5.8"  textLength="21.0" lengthAdjust="spacing" fill="#000" font-weight="bold"  stroke="#000" stroke-width="0.35">CXCR6</text>
<rect x="277.00" y="119.50" width="108.00" height="55.50" fill="none" stroke="#666" stroke-width="0.8" />
<line x1="277" y1="119.5" x2="277" y2="175" stroke="#222" stroke-width="0.8" />
<line x1="277" y1="175" x2="385" y2="175" stroke="#000" stroke-width="1.1" />
<text x="275" y="121.66" font-size="6" text-anchor="end"  fill="#000" font-weight="bold"  stroke="#000" stroke-width="0.35">100</text>
<text x="275" y="132.76" font-size="6" text-anchor="end"  fill="#000" font-weight="bold"  stroke="#000" stroke-width="0.35">80</text>
<text x="275" y="143.85999999999999" font-size="6" text-anchor="end"  fill="#000" font-weight="bold"  stroke="#000" stroke-width="0.35">60</text>
<text x="275" y="154.96" font-size="6" text-anchor="end"  fill="#000" font-weight="bold"  stroke="#000" stroke-width="0.35">40</text>
<text x="275" y="166.06" font-size="6" text-anchor="end"  fill="#000" font-weight="bold"  stroke="#000" stroke-width="0.35">20</text>
<text x="275" y="177.16" font-size="6" text-anchor="end"  fill="#000" font-weight="bold"  stroke="#000" stroke-width="0.35">0</text>
<line x1="275.2" y1="119.5" x2="277" y2="119.5" stroke="#333" stroke-width="0.6" />
<line x1="275.2" y1="130.6" x2="277" y2="130.6" stroke="#333" stroke-width="0.6" />
<line x1="275.2" y1="141.7" x2="277" y2="141.7" stroke="#333" stroke-width="0.6" />
<line x1="275.2" y1="152.8" x2="277" y2="152.8" stroke="#333" stroke-width="0.6" />
<line x1="275.2" y1="163.9" x2="277" y2="163.9" stroke="#333" stroke-width="0.6" />
<line x1="275.2" y1="175.0" x2="277" y2="175.0" stroke="#333" stroke-width="0.6" />
<ellipse cx="282.00" cy="174.80" rx="2.4" ry="0.68" fill="#000"/>
<line x1="286.49" y1="175" x2="286.49" y2="176.5" stroke="#333" stroke-width="0.5" />
<ellipse cx="290.98" cy="174.80" rx="2.4" ry="0.96" fill="#000"/>
<line x1="295.47" y1="175" x2="295.47" y2="176.5" stroke="#333" stroke-width="0.5" />
<line x1="304.45" y1="175" x2="304.45" y2="176.5" stroke="#333" stroke-width="0.5" />
<line x1="313.43" y1="175" x2="313.43" y2="176.5" stroke="#333" stroke-width="0.5" />
<ellipse cx="317.92" cy="174.80" rx="2.4" ry="1.51" fill="#000"/>
<line x1="322.41" y1="175" x2="322.41" y2="176.5" stroke="#333" stroke-width="0.5" />
<ellipse cx="326.90" cy="174.80" rx="2.4" ry="1.23" fill="#000"/>
<line x1="331.39" y1="175" x2="331.39" y2="176.5" stroke="#333" stroke-width="0.5" />
<rect x="333.38" y="120.61" width="5.00" height="54.39" fill="#000"  />
<line x1="335.88" y1="120.61" x2="335.88" y2="120.33250000000001" stroke="#555" stroke-width="0.75" />
<line x1="334.88" y1="120.33250000000001" x2="336.88" y2="120.33250000000001" stroke="#555" stroke-width="0.7" />
<line x1="340.37" y1="175" x2="340.37" y2="176.5" stroke="#333" stroke-width="0.5" />
<rect x="342.36" y="172.78" width="5.00" height="2.22" fill="#000"  />
<line x1="349.35" y1="175" x2="349.35" y2="176.5" stroke="#333" stroke-width="0.5" />
<rect x="351.34" y="172.22" width="5.00" height="2.77" fill="#000"  />
<line x1="358.33000000000004" y1="175" x2="358.33000000000004" y2="176.5" stroke="#333" stroke-width="0.5" />
<rect x="360.32" y="120.61" width="5.00" height="54.39" fill="#000"  />
<line x1="362.82" y1="120.61" x2="362.82" y2="120.33250000000001" stroke="#555" stroke-width="0.75" />
<line x1="361.82" y1="120.33250000000001" x2="363.82" y2="120.33250000000001" stroke="#555" stroke-width="0.7" />
<line x1="367.31" y1="175" x2="367.31" y2="176.5" stroke="#333" stroke-width="0.5" />
<ellipse cx="371.80" cy="174.80" rx="2.4" ry="1.23" fill="#000"/>
<line x1="376.29" y1="175" x2="376.29" y2="176.5" stroke="#333" stroke-width="0.5" />
<ellipse cx="380.78" cy="174.80" rx="2.4" ry="1.51" fill="#000"/>
<line x1="385.27" y1="175" x2="385.27" y2="176.5" stroke="#333" stroke-width="0.5" />
<text x="293.1" y="118.1" font-size="9.9"  textLength="17.9" lengthAdjust="spacingAndGlyphs" fill="#000" font-weight="bold"  stroke="#000" stroke-width="0.5">CD4</text>
<text x="281.2" y="129.5" font-size="9.9"  textLength="41.9" lengthAdjust="spacingAndGlyphs" fill="#000" font-weight="bold"  stroke="#000" stroke-width="0.5">CD45RA+</text>
<text transform="translate(284.1 193.89999999999998) rotate(-90)" font-size="5.8"  textLength="15.2" lengthAdjust="spacing" fill="#000" font-weight="bold"  stroke="#000" stroke-width="0.35">CCR1</text>
<text transform="translate(293.08000000000004 193.89999999999998) rotate(-90)" font-size="5.8"  textLength="15.2" lengthAdjust="spacing" fill="#000" font-weight="bold"  stroke="#000" stroke-width="0.35">CCR2</text>
<text transform="translate(302.06 193.89999999999998) rotate(-90)" font-size="5.8"  textLength="15.2" lengthAdjust="spacing" fill="#000" font-weight="bold"  stroke="#000" stroke-width="0.35">CCR3</text>
<text transform="translate(311.04 193.89999999999998) rotate(-90)" font-size="5.8"  textLength="15.2" lengthAdjust="spacing" fill="#000" font-weight="bold"  stroke="#000" stroke-width="0.35">CCR4</text>
<text transform="translate(320.02000000000004 193.89999999999998) rotate(-90)" font-size="5.8"  textLength="15.2" lengthAdjust="spacing" fill="#000" font-weight="bold"  stroke="#000" stroke-width="0.35">CCR5</text>
<text transform="translate(329.0 193.89999999999998) rotate(-90)" font-size="5.8"  textLength="15.2" lengthAdjust="spacing" fill="#000" font-weight="bold"  stroke="#000" stroke-width="0.35">CCR6</text>
<text transform="translate(337.98 193.89999999999998) rotate(-90)" font-size="5.8"  textLength="15.2" lengthAdjust="spacing" fill="#000" font-weight="bold"  stroke="#000" stroke-width="0.35">CCR7</text>
<text transform="translate(346.96000000000004 193.89999999999998) rotate(-90)" font-size="5.8"  textLength="15.2" lengthAdjust="spacing" fill="#000" font-weight="bold"  stroke="#000" stroke-width="0.35">CCR9</text>
<text transform="translate(355.94000000000005 199.7) rotate(-90)" font-size="5.8"  textLength="21.0" lengthAdjust="spacing" fill="#000" font-weight="bold"  stroke="#000" stroke-width="0.35">CXCR3</text>
<text transform="translate(364.92 199.7) rotate(-90)" font-size="5.8"  textLength="21.0" lengthAdjust="spacing" fill="#000" font-weight="bold"  stroke="#000" stroke-width="0.35">CXCR4</text>
<text transform="translate(373.90000000000003 199.7) rotate(-90)" font-size="5.8"  textLength="21.0" lengthAdjust="spacing" fill="#000" font-weight="bold"  stroke="#000" stroke-width="0.35">CXCR5</text>
<text transform="translate(382.88 199.7) rotate(-90)" font-size="5.8"  textLength="21.0" lengthAdjust="spacing" fill="#000" font-weight="bold"  stroke="#000" stroke-width="0.35">CXCR6</text>
<rect x="410.50" y="117.50" width="109.10" height="55.50" fill="none" stroke="#666" stroke-width="0.8" />
<line x1="410.5" y1="117.5" x2="410.5" y2="173" stroke="#222" stroke-width="0.8" />
<line x1="410.5" y1="173" x2="519.6" y2="173" stroke="#000" stroke-width="1.1" />
<text x="407.5" y="119.66" font-size="6" text-anchor="end"  fill="#000" font-weight="bold"  stroke="#000" stroke-width="0.35">100</text>
<text x="407.5" y="130.76" font-size="6" text-anchor="end"  fill="#000" font-weight="bold"  stroke="#000" stroke-width="0.35">80</text>
<text x="407.5" y="141.85999999999999" font-size="6" text-anchor="end"  fill="#000" font-weight="bold"  stroke="#000" stroke-width="0.35">60</text>
<text x="407.5" y="152.96" font-size="6" text-anchor="end"  fill="#000" font-weight="bold"  stroke="#000" stroke-width="0.35">40</text>
<text x="407.5" y="164.06" font-size="6" text-anchor="end"  fill="#000" font-weight="bold"  stroke="#000" stroke-width="0.35">20</text>
<text x="407.5" y="175.16" font-size="6" text-anchor="end"  fill="#000" font-weight="bold"  stroke="#000" stroke-width="0.35">0</text>
<line x1="408.7" y1="117.5" x2="410.5" y2="117.5" stroke="#333" stroke-width="0.6" />
<line x1="408.7" y1="128.6" x2="410.5" y2="128.6" stroke="#333" stroke-width="0.6" />
<line x1="408.7" y1="139.7" x2="410.5" y2="139.7" stroke="#333" stroke-width="0.6" />
<line x1="408.7" y1="150.8" x2="410.5" y2="150.8" stroke="#333" stroke-width="0.6" />
<line x1="408.7" y1="161.9" x2="410.5" y2="161.9" stroke="#333" stroke-width="0.6" />
<line x1="408.7" y1="173.0" x2="410.5" y2="173.0" stroke="#333" stroke-width="0.6" />
<rect x="412.50" y="166.90" width="5.00" height="6.11" fill="#000"  />
<line x1="415.0" y1="166.895" x2="415.0" y2="164.9525" stroke="#555" stroke-width="0.75" />
<line x1="414.0" y1="164.9525" x2="416.0" y2="164.9525" stroke="#555" stroke-width="0.7" />
<line x1="419.525" y1="173" x2="419.525" y2="174.5" stroke="#333" stroke-width="0.5" />
<rect x="421.55" y="151.91" width="5.00" height="21.09" fill="#000"  />
<line x1="424.05" y1="151.91" x2="424.05" y2="145.5275" stroke="#555" stroke-width="0.75" />
<line x1="423.05" y1="145.5275" x2="425.05" y2="145.5275" stroke="#555" stroke-width="0.7" />
<line x1="428.575" y1="173" x2="428.575" y2="174.5" stroke="#333" stroke-width="0.5" />
<ellipse cx="433.10" cy="172.80" rx="2.4" ry="0.96" fill="#000"/>
<line x1="437.625" y1="173" x2="437.625" y2="174.5" stroke="#333" stroke-width="0.5" />
<rect x="439.65" y="167.45" width="5.00" height="5.55" fill="#000"  />
<line x1="442.15" y1="167.45" x2="442.15" y2="162.455" stroke="#555" stroke-width="0.75" />
<line x1="441.15" y1="162.455" x2="443.15" y2="162.455" stroke="#555" stroke-width="0.7" />
<line x1="446.67499999999995" y1="173" x2="446.67499999999995" y2="174.5" stroke="#333" stroke-width="0.5" />
<rect x="448.70" y="131.93" width="5.00" height="41.07" fill="#000"  />
<line x1="451.2" y1="131.93" x2="451.2" y2="128.04500000000002" stroke="#555" stroke-width="0.75" />
<line x1="450.2" y1="128.04500000000002" x2="452.2" y2="128.04500000000002" stroke="#555" stroke-width="0.7" />
<line x1="455.72499999999997" y1="173" x2="455.72499999999997" y2="174.5" stroke="#333" stroke-width="0.5" />
<rect x="457.75" y="159.96" width="5.00" height="13.04" fill="#000"  />
<line x1="460.25" y1="159.9575" x2="460.25" y2="157.46" stroke="#555" stroke-width="0.75" />
<line x1="459.25" y1="157.46" x2="461.25" y2="157.46" stroke="#555" stroke-width="0.7" />
<line x1="464.775" y1="173" x2="464.775" y2="174.5" stroke="#333" stroke-width="0.5" />
<rect x="466.80" y="161.90" width="5.00" height="11.10" fill="#000"  />
<line x1="469.3" y1="161.9" x2="469.3" y2="158.7365" stroke="#555" stroke-width="0.75" />
<line x1="468.3" y1="158.7365" x2="470.3" y2="158.7365" stroke="#555" stroke-width="0.7" />
<line x1="473.825" y1="173" x2="473.825" y2="174.5" stroke="#333" stroke-width="0.5" />
<rect x="475.85" y="170.50" width="5.00" height="2.50" fill="#000"  />
<line x1="478.35" y1="170.5025" x2="478.35" y2="169.226" stroke="#555" stroke-width="0.75" />
<line x1="477.35" y1="169.226" x2="479.35" y2="169.226" stroke="#555" stroke-width="0.7" />
<line x1="482.875" y1="173" x2="482.875" y2="174.5" stroke="#333" stroke-width="0.5" />
<rect x="484.90" y="145.81" width="5.00" height="27.20" fill="#000"  />
<line x1="487.4" y1="145.805" x2="487.4" y2="134.70499999999998" stroke="#555" stroke-width="0.75" />
<line x1="486.4" y1="134.70499999999998" x2="488.4" y2="134.70499999999998" stroke="#555" stroke-width="0.7" />
<line x1="491.92499999999995" y1="173" x2="491.92499999999995" y2="174.5" stroke="#333" stroke-width="0.5" />
<rect x="493.95" y="121.94" width="5.00" height="51.06" fill="#000"  />
<line x1="496.45" y1="121.94" x2="496.45" y2="119.9975" stroke="#555" stroke-width="0.75" />
<line x1="495.45" y1="119.9975" x2="497.45" y2="119.9975" stroke="#555" stroke-width="0.7" />
<line x1="500.97499999999997" y1="173" x2="500.97499999999997" y2="174.5" stroke="#333" stroke-width="0.5" />
<rect x="503.00" y="170.00" width="5.00" height="3.00" fill="#000"  />
<line x1="505.5" y1="170.003" x2="505.5" y2="169.226" stroke="#555" stroke-width="0.75" />
<line x1="504.5" y1="169.226" x2="506.5" y2="169.226" stroke="#555" stroke-width="0.7" />
<line x1="510.025" y1="173" x2="510.025" y2="174.5" stroke="#333" stroke-width="0.5" />
<rect x="512.05" y="153.02" width="5.00" height="19.98" fill="#000"  />
<line x1="514.55" y1="153.02" x2="514.55" y2="151.91" stroke="#555" stroke-width="0.75" />
<line x1="513.55" y1="151.91" x2="515.55" y2="151.91" stroke="#555" stroke-width="0.7" />
<line x1="519.0749999999999" y1="173" x2="519.0749999999999" y2="174.5" stroke="#333" stroke-width="0.5" />
<text x="424" y="115.9" font-size="9.9"  textLength="18" lengthAdjust="spacingAndGlyphs" fill="#000" font-weight="bold"  stroke="#000" stroke-width="0.5">CD8</text>
<text x="412.8" y="127.2" font-size="9.9"  textLength="39" lengthAdjust="spacingAndGlyphs" fill="#000" font-weight="bold"  stroke="#000" stroke-width="0.5">CD45RA-</text>
<text x="418" y="138.2" font-size="9.9"  textLength="29" lengthAdjust="spacingAndGlyphs" fill="#000" font-weight="bold"  stroke="#000" stroke-width="0.5">CD27+</text>
<text transform="translate(417.1 191.7) rotate(-90)" font-size="5.8"  textLength="15.2" lengthAdjust="spacing" fill="#000" font-weight="bold"  stroke="#000" stroke-width="0.35">CCR1</text>
<text transform="translate(426.15000000000003 191.7) rotate(-90)" font-size="5.8"  textLength="15.2" lengthAdjust="spacing" fill="#000" font-weight="bold"  stroke="#000" stroke-width="0.35">CCR2</text>
<text transform="translate(435.20000000000005 191.7) rotate(-90)" font-size="5.8"  textLength="15.2" lengthAdjust="spacing" fill="#000" font-weight="bold"  stroke="#000" stroke-width="0.35">CCR3</text>
<text transform="translate(444.25 191.7) rotate(-90)" font-size="5.8"  textLength="15.2" lengthAdjust="spacing" fill="#000" font-weight="bold"  stroke="#000" stroke-width="0.35">CCR4</text>
<text transform="translate(453.3 191.7) rotate(-90)" font-size="5.8"  textLength="15.2" lengthAdjust="spacing" fill="#000" font-weight="bold"  stroke="#000" stroke-width="0.35">CCR5</text>
<text transform="translate(462.35 191.7) rotate(-90)" font-size="5.8"  textLength="15.2" lengthAdjust="spacing" fill="#000" font-weight="bold"  stroke="#000" stroke-width="0.35">CCR6</text>
<text transform="translate(471.40000000000003 191.7) rotate(-90)" font-size="5.8"  textLength="15.2" lengthAdjust="spacing" fill="#000" font-weight="bold"  stroke="#000" stroke-width="0.35">CCR7</text>
<text transform="translate(480.45000000000005 191.7) rotate(-90)" font-size="5.8"  textLength="15.2" lengthAdjust="spacing" fill="#000" font-weight="bold"  stroke="#000" stroke-width="0.35">CCR9</text>
<text transform="translate(489.5 197.5) rotate(-90)" font-size="5.8"  textLength="21.0" lengthAdjust="spacing" fill="#000" font-weight="bold"  stroke="#000" stroke-width="0.35">CXCR3</text>
<text transform="translate(498.55 197.5) rotate(-90)" font-size="5.8"  textLength="21.0" lengthAdjust="spacing" fill="#000" font-weight="bold"  stroke="#000" stroke-width="0.35">CXCR4</text>
<text transform="translate(507.6 197.5) rotate(-90)" font-size="5.8"  textLength="21.0" lengthAdjust="spacing" fill="#000" font-weight="bold"  stroke="#000" stroke-width="0.35">CXCR5</text>
<text transform="translate(516.65 197.5) rotate(-90)" font-size="5.8"  textLength="21.0" lengthAdjust="spacing" fill="#000" font-weight="bold"  stroke="#000" stroke-width="0.35">CXCR6</text>
<rect x="277.00" y="218.80" width="108.00" height="55.50" fill="none" stroke="#666" stroke-width="0.8" />
<line x1="277" y1="218.8" x2="277" y2="274.3" stroke="#222" stroke-width="0.8" />
<line x1="277" y1="274.3" x2="385" y2="274.3" stroke="#000" stroke-width="1.1" />
<text x="275" y="220.96" font-size="6" text-anchor="end"  fill="#000" font-weight="bold"  stroke="#000" stroke-width="0.35">100</text>
<text x="275" y="232.06" font-size="6" text-anchor="end"  fill="#000" font-weight="bold"  stroke="#000" stroke-width="0.35">80</text>
<text x="275" y="243.16" font-size="6" text-anchor="end"  fill="#000" font-weight="bold"  stroke="#000" stroke-width="0.35">60</text>
<text x="275" y="254.26000000000002" font-size="6" text-anchor="end"  fill="#000" font-weight="bold"  stroke="#000" stroke-width="0.35">40</text>
<text x="275" y="265.36" font-size="6" text-anchor="end"  fill="#000" font-weight="bold"  stroke="#000" stroke-width="0.35">20</text>
<text x="275" y="276.46000000000004" font-size="6" text-anchor="end"  fill="#000" font-weight="bold"  stroke="#000" stroke-width="0.35">0</text>
<line x1="275.2" y1="218.8" x2="277" y2="218.8" stroke="#333" stroke-width="0.6" />
<line x1="275.2" y1="229.9" x2="277" y2="229.9" stroke="#333" stroke-width="0.6" />
<line x1="275.2" y1="241.0" x2="277" y2="241.0" stroke="#333" stroke-width="0.6" />
<line x1="275.2" y1="252.10000000000002" x2="277" y2="252.10000000000002" stroke="#333" stroke-width="0.6" />
<line x1="275.2" y1="263.2" x2="277" y2="263.2" stroke="#333" stroke-width="0.6" />
<line x1="275.2" y1="274.3" x2="277" y2="274.3" stroke="#333" stroke-width="0.6" />
<line x1="286.49" y1="274.3" x2="286.49" y2="275.8" stroke="#333" stroke-width="0.5" />
<rect x="288.48" y="261.81" width="5.00" height="12.49" fill="#000"  />
<line x1="290.98" y1="261.8125" x2="290.98" y2="257.65000000000003" stroke="#555" stroke-width="0.75" />
<line x1="289.98" y1="257.65000000000003" x2="291.98" y2="257.65000000000003" stroke="#555" stroke-width="0.7" />
<line x1="295.47" y1="274.3" x2="295.47" y2="275.8" stroke="#333" stroke-width="0.5" />
<ellipse cx="299.96" cy="274.10" rx="2.4" ry="0.68" fill="#000"/>
<line x1="304.45" y1="274.3" x2="304.45" y2="275.8" stroke="#333" stroke-width="0.5" />
<rect x="306.44" y="257.65" width="5.00" height="16.65" fill="#000"  />
<line x1="308.94" y1="257.65000000000003" x2="308.94" y2="255.985" stroke="#555" stroke-width="0.75" />
<line x1="307.94" y1="255.985" x2="309.94" y2="255.985" stroke="#555" stroke-width="0.7" />
<line x1="313.43" y1="274.3" x2="313.43" y2="275.8" stroke="#333" stroke-width="0.5" />
<rect x="315.42" y="260.04" width="5.00" height="14.26" fill="#000"  />
<line x1="317.92" y1="260.0365" x2="317.92" y2="253.21" stroke="#555" stroke-width="0.75" />
<line x1="316.92" y1="253.21" x2="318.92" y2="253.21" stroke="#555" stroke-width="0.7" />
<line x1="322.41" y1="274.3" x2="322.41" y2="275.8" stroke="#333" stroke-width="0.5" />
<rect x="324.40" y="247.11" width="5.00" height="27.20" fill="#000"  />
<line x1="326.9" y1="247.10500000000002" x2="326.9" y2="242.11" stroke="#555" stroke-width="0.75" />
<line x1="325.9" y1="242.11" x2="327.9" y2="242.11" stroke="#555" stroke-width="0.7" />
<line x1="331.39" y1="274.3" x2="331.39" y2="275.8" stroke="#333" stroke-width="0.5" />
<rect x="333.38" y="228.24" width="5.00" height="46.06" fill="#000"  />
<line x1="335.88" y1="228.235" x2="335.88" y2="224.905" stroke="#555" stroke-width="0.75" />
<line x1="334.88" y1="224.905" x2="336.88" y2="224.905" stroke="#555" stroke-width="0.7" />
<line x1="340.37" y1="274.3" x2="340.37" y2="275.8" stroke="#333" stroke-width="0.5" />
<rect x="342.36" y="271.30" width="5.00" height="3.00" fill="#000"  />
<line x1="344.86" y1="271.303" x2="344.86" y2="269.58250000000004" stroke="#555" stroke-width="0.75" />
<line x1="343.86" y1="269.58250000000004" x2="345.86" y2="269.58250000000004" stroke="#555" stroke-width="0.7" />
<line x1="349.35" y1="274.3" x2="349.35" y2="275.8" stroke="#333" stroke-width="0.5" />
<rect x="351.34" y="251.27" width="5.00" height="23.03" fill="#000"  />
<line x1="353.84000000000003" y1="251.2675" x2="353.84000000000003" y2="244.55200000000002" stroke="#555" stroke-width="0.75" />
<line x1="352.84000000000003" y1="244.55200000000002" x2="354.84000000000003" y2="244.55200000000002" stroke="#555" stroke-width="0.7" />
<line x1="358.33000000000004" y1="274.3" x2="358.33000000000004" y2="275.8" stroke="#333" stroke-width="0.5" />
<rect x="360.32" y="219.36" width="5.00" height="54.95" fill="#000"  />
<line x1="362.82" y1="219.35500000000002" x2="362.82" y2="218.5225" stroke="#555" stroke-width="0.75" />
<line x1="361.82" y1="218.5225" x2="363.82" y2="218.5225" stroke="#555" stroke-width="0.7" />
<line x1="367.31" y1="274.3" x2="367.31" y2="275.8" stroke="#333" stroke-width="0.5" />
<rect x="369.30" y="260.54" width="5.00" height="13.76" fill="#000"  />
<line x1="371.8" y1="260.536" x2="371.8" y2="257.65000000000003" stroke="#555" stroke-width="0.75" />
<line x1="370.8" y1="257.65000000000003" x2="372.8" y2="257.65000000000003" stroke="#555" stroke-width="0.7" />
<line x1="376.29" y1="274.3" x2="376.29" y2="275.8" stroke="#333" stroke-width="0.5" />
<rect x="378.28" y="268.31" width="5.00" height="5.99" fill="#000"  />
<line x1="380.78" y1="268.306" x2="380.78" y2="265.0315" stroke="#555" stroke-width="0.75" />
<line x1="379.78" y1="265.0315" x2="381.78" y2="265.0315" stroke="#555" stroke-width="0.7" />
<line x1="385.27" y1="274.3" x2="385.27" y2="275.8" stroke="#333" stroke-width="0.5" />
<text x="289.8" y="217.4" font-size="9.9"  textLength="18" lengthAdjust="spacingAndGlyphs" fill="#000" font-weight="bold"  stroke="#000" stroke-width="0.5">CD4</text>
<text x="279" y="228.7" font-size="9.9"  textLength="40.4" lengthAdjust="spacingAndGlyphs" fill="#000" font-weight="bold"  stroke="#000" stroke-width="0.5">CD45RA-</text>
<text transform="translate(284.1 293.2) rotate(-90)" font-size="5.8"  textLength="15.2" lengthAdjust="spacing" fill="#000" font-weight="bold"  stroke="#000" stroke-width="0.35">CCR1</text>
<text transform="translate(293.08000000000004 293.2) rotate(-90)" font-size="5.8"  textLength="15.2" lengthAdjust="spacing" fill="#000" font-weight="bold"  stroke="#000" stroke-width="0.35">CCR2</text>
<text transform="translate(302.06 293.2) rotate(-90)" font-size="5.8"  textLength="15.2" lengthAdjust="spacing" fill="#000" font-weight="bold"  stroke="#000" stroke-width="0.35">CCR3</text>
<text transform="translate(311.04 293.2) rotate(-90)" font-size="5.8"  textLength="15.2" lengthAdjust="spacing" fill="#000" font-weight="bold"  stroke="#000" stroke-width="0.35">CCR4</text>
<text transform="translate(320.02000000000004 293.2) rotate(-90)" font-size="5.8"  textLength="15.2" lengthAdjust="spacing" fill="#000" font-weight="bold"  stroke="#000" stroke-width="0.35">CCR5</text>
<text transform="translate(329.0 293.2) rotate(-90)" font-size="5.8"  textLength="15.2" lengthAdjust="spacing" fill="#000" font-weight="bold"  stroke="#000" stroke-width="0.35">CCR6</text>
<text transform="translate(337.98 293.2) rotate(-90)" font-size="5.8"  textLength="15.2" lengthAdjust="spacing" fill="#000" font-weight="bold"  stroke="#000" stroke-width="0.35">CCR7</text>
<text transform="translate(346.96000000000004 293.2) rotate(-90)" font-size="5.8"  textLength="15.2" lengthAdjust="spacing" fill="#000" font-weight="bold"  stroke="#000" stroke-width="0.35">CCR9</text>
<text transform="translate(355.94000000000005 299.0) rotate(-90)" font-size="5.8"  textLength="21.0" lengthAdjust="spacing" fill="#000" font-weight="bold"  stroke="#000" stroke-width="0.35">CXCR3</text>
<text transform="translate(364.92 299.0) rotate(-90)" font-size="5.8"  textLength="21.0" lengthAdjust="spacing" fill="#000" font-weight="bold"  stroke="#000" stroke-width="0.35">CXCR4</text>
<text transform="translate(373.90000000000003 299.0) rotate(-90)" font-size="5.8"  textLength="21.0" lengthAdjust="spacing" fill="#000" font-weight="bold"  stroke="#000" stroke-width="0.35">CXCR5</text>
<text transform="translate(382.88 299.0) rotate(-90)" font-size="5.8"  textLength="21.0" lengthAdjust="spacing" fill="#000" font-weight="bold"  stroke="#000" stroke-width="0.35">CXCR6</text>
<rect x="410.50" y="218.00" width="109.10" height="55.80" fill="none" stroke="#666" stroke-width="0.8" />
<line x1="410.5" y1="218" x2="410.5" y2="273.8" stroke="#222" stroke-width="0.8" />
<line x1="410.5" y1="273.8" x2="519.6" y2="273.8" stroke="#000" stroke-width="1.1" />
<text x="407.5" y="220.16" font-size="6" text-anchor="end"  fill="#000" font-weight="bold"  stroke="#000" stroke-width="0.35">100</text>
<text x="407.5" y="231.32" font-size="6" text-anchor="end"  fill="#000" font-weight="bold"  stroke="#000" stroke-width="0.35">80</text>
<text x="407.5" y="242.48" font-size="6" text-anchor="end"  fill="#000" font-weight="bold"  stroke="#000" stroke-width="0.35">60</text>
<text x="407.5" y="253.64000000000001" font-size="6" text-anchor="end"  fill="#000" font-weight="bold"  stroke="#000" stroke-width="0.35">40</text>
<text x="407.5" y="264.8" font-size="6" text-anchor="end"  fill="#000" font-weight="bold"  stroke="#000" stroke-width="0.35">20</text>
<text x="407.5" y="275.96000000000004" font-size="6" text-anchor="end"  fill="#000" font-weight="bold"  stroke="#000" stroke-width="0.35">0</text>
<line x1="408.7" y1="218.0" x2="410.5" y2="218.0" stroke="#333" stroke-width="0.6" />
<line x1="408.7" y1="229.16" x2="410.5" y2="229.16" stroke="#333" stroke-width="0.6" />
<line x1="408.7" y1="240.32" x2="410.5" y2="240.32" stroke="#333" stroke-width="0.6" />
<line x1="408.7" y1="251.48000000000002" x2="410.5" y2="251.48000000000002" stroke="#333" stroke-width="0.6" />
<line x1="408.7" y1="262.64" x2="410.5" y2="262.64" stroke="#333" stroke-width="0.6" />
<line x1="408.7" y1="273.8" x2="410.5" y2="273.8" stroke="#333" stroke-width="0.6" />
<ellipse cx="415.00" cy="273.60" rx="2.4" ry="0.68" fill="#000"/>
<line x1="419.525" y1="273.8" x2="419.525" y2="275.3" stroke="#333" stroke-width="0.5" />
<ellipse cx="424.05" cy="273.60" rx="2.4" ry="1.24" fill="#000"/>
<line x1="428.575" y1="273.8" x2="428.575" y2="275.3" stroke="#333" stroke-width="0.5" />
<ellipse cx="433.10" cy="273.60" rx="2.4" ry="0.68" fill="#000"/>
<line x1="437.625" y1="273.8" x2="437.625" y2="275.3" stroke="#333" stroke-width="0.5" />
<ellipse cx="442.15" cy="273.60" rx="2.4" ry="0.68" fill="#000"/>
<line x1="446.67499999999995" y1="273.8" x2="446.67499999999995" y2="275.3" stroke="#333" stroke-width="0.5" />
<rect x="448.70" y="251.76" width="5.00" height="22.04" fill="#000"  />
<line x1="451.2" y1="251.75900000000001" x2="451.2" y2="247.01600000000002" stroke="#555" stroke-width="0.75" />
<line x1="450.2" y1="247.01600000000002" x2="452.2" y2="247.01600000000002" stroke="#555" stroke-width="0.7" />
<line x1="455.72499999999997" y1="273.8" x2="455.72499999999997" y2="275.3" stroke="#333" stroke-width="0.5" />
<rect x="457.75" y="272.13" width="5.00" height="1.67" fill="#000"  />
<line x1="460.25" y1="272.12600000000003" x2="460.25" y2="270.0614" stroke="#555" stroke-width="0.75" />
<line x1="459.25" y1="270.0614" x2="461.25" y2="270.0614" stroke="#555" stroke-width="0.7" />
<line x1="464.775" y1="273.8" x2="464.775" y2="275.3" stroke="#333" stroke-width="0.5" />
<ellipse cx="469.30" cy="273.60" rx="2.4" ry="0.68" fill="#000"/>
<line x1="473.825" y1="273.8" x2="473.825" y2="275.3" stroke="#333" stroke-width="0.5" />
<line x1="482.875" y1="273.8" x2="482.875" y2="275.3" stroke="#333" stroke-width="0.5" />
<rect x="484.90" y="250.53" width="5.00" height="23.27" fill="#000"  />
<line x1="487.4" y1="250.53140000000002" x2="487.4" y2="244.505" stroke="#555" stroke-width="0.75" />
<line x1="486.4" y1="244.505" x2="488.4" y2="244.505" stroke="#555" stroke-width="0.7" />
<line x1="491.92499999999995" y1="273.8" x2="491.92499999999995" y2="275.3" stroke="#333" stroke-width="0.5" />
<rect x="493.95" y="225.03" width="5.00" height="48.77" fill="#000"  />
<line x1="496.45" y1="225.0308" x2="496.45" y2="218.7254" stroke="#555" stroke-width="0.75" />
<line x1="495.45" y1="218.7254" x2="497.45" y2="218.7254" stroke="#555" stroke-width="0.7" />
<line x1="500.97499999999997" y1="273.8" x2="500.97499999999997" y2="275.3" stroke="#333" stroke-width="0.5" />
<ellipse cx="505.50" cy="273.60" rx="2.4" ry="0.96" fill="#000"/>
<line x1="510.025" y1="273.8" x2="510.025" y2="275.3" stroke="#333" stroke-width="0.5" />
<rect x="512.05" y="270.79" width="5.00" height="3.01" fill="#000"  />
<line x1="514.55" y1="270.7868" x2="514.55" y2="269.55920000000003" stroke="#555" stroke-width="0.75" />
<line x1="513.55" y1="269.55920000000003" x2="515.55" y2="269.55920000000003" stroke="#555" stroke-width="0.7" />
<line x1="519.0749999999999" y1="273.8" x2="519.0749999999999" y2="275.3" stroke="#333" stroke-width="0.5" />
<text x="424.8" y="216.3" font-size="9.9"  textLength="18" lengthAdjust="spacingAndGlyphs" fill="#000" font-weight="bold"  stroke="#000" stroke-width="0.5">CD8</text>
<text x="413" y="227.2" font-size="9.9"  textLength="41.8" lengthAdjust="spacingAndGlyphs" fill="#000" font-weight="bold"  stroke="#000" stroke-width="0.5">CD45RA+</text>
<text x="420.9" y="238.8" font-size="9.9"  textLength="26.2" lengthAdjust="spacingAndGlyphs" fill="#000" font-weight="bold"  stroke="#000" stroke-width="0.5">CD27-</text>
<text transform="translate(417.1 292.7) rotate(-90)" font-size="5.8"  textLength="15.2" lengthAdjust="spacing" fill="#000" font-weight="bold"  stroke="#000" stroke-width="0.35">CCR1</text>
<text transform="translate(426.15000000000003 292.7) rotate(-90)" font-size="5.8"  textLength="15.2" lengthAdjust="spacing" fill="#000" font-weight="bold"  stroke="#000" stroke-width="0.35">CCR2</text>
<text transform="translate(435.20000000000005 292.7) rotate(-90)" font-size="5.8"  textLength="15.2" lengthAdjust="spacing" fill="#000" font-weight="bold"  stroke="#000" stroke-width="0.35">CCR3</text>
<text transform="translate(444.25 292.7) rotate(-90)" font-size="5.8"  textLength="15.2" lengthAdjust="spacing" fill="#000" font-weight="bold"  stroke="#000" stroke-width="0.35">CCR4</text>
<text transform="translate(453.3 292.7) rotate(-90)" font-size="5.8"  textLength="15.2" lengthAdjust="spacing" fill="#000" font-weight="bold"  stroke="#000" stroke-width="0.35">CCR5</text>
<text transform="translate(462.35 292.7) rotate(-90)" font-size="5.8"  textLength="15.2" lengthAdjust="spacing" fill="#000" font-weight="bold"  stroke="#000" stroke-width="0.35">CCR6</text>
<text transform="translate(471.40000000000003 292.7) rotate(-90)" font-size="5.8"  textLength="15.2" lengthAdjust="spacing" fill="#000" font-weight="bold"  stroke="#000" stroke-width="0.35">CCR7</text>
<text transform="translate(480.45000000000005 292.7) rotate(-90)" font-size="5.8"  textLength="15.2" lengthAdjust="spacing" fill="#000" font-weight="bold"  stroke="#000" stroke-width="0.35">CCR9</text>
<text transform="translate(489.5 298.5) rotate(-90)" font-size="5.8"  textLength="21.0" lengthAdjust="spacing" fill="#000" font-weight="bold"  stroke="#000" stroke-width="0.35">CXCR3</text>
<text transform="translate(498.55 298.5) rotate(-90)" font-size="5.8"  textLength="21.0" lengthAdjust="spacing" fill="#000" font-weight="bold"  stroke="#000" stroke-width="0.35">CXCR4</text>
<text transform="translate(507.6 298.5) rotate(-90)" font-size="5.8"  textLength="21.0" lengthAdjust="spacing" fill="#000" font-weight="bold"  stroke="#000" stroke-width="0.35">CXCR5</text>
<text transform="translate(516.65 298.5) rotate(-90)" font-size="5.8"  textLength="21.0" lengthAdjust="spacing" fill="#000" font-weight="bold"  stroke="#000" stroke-width="0.35">CXCR6</text>
<text x="0.6" y="332.3" font-size="15.5"   fill="#000" font-weight="bold"  stroke="#000" stroke-width="0.3">C</text>
<rect x="21.00" y="340.50" width="27.70" height="47.10" fill="none" stroke="#000" stroke-width="0.8" />
<line x1="21" y1="369.5" x2="48.7" y2="369.5" stroke="#111" stroke-width="0.8" />
<line x1="20.7" y1="340.5" x2="20.7" y2="387.6" stroke="#111" stroke-width="1.0" />
<line x1="19.4" y1="340.5" x2="21" y2="340.5" stroke="#333" stroke-width="0.4" />
<line x1="21.0" y1="387.6" x2="21.0" y2="389.20000000000005" stroke="#333" stroke-width="0.4" />
<line x1="19.9" y1="342.855" x2="21" y2="342.855" stroke="#333" stroke-width="0.4" />
<line x1="22.385" y1="387.6" x2="22.385" y2="388.6" stroke="#333" stroke-width="0.4" />
<line x1="19.9" y1="345.21" x2="21" y2="345.21" stroke="#333" stroke-width="0.4" />
<line x1="23.77" y1="387.6" x2="23.77" y2="388.6" stroke="#333" stroke-width="0.4" />
<line x1="19.9" y1="347.565" x2="21" y2="347.565" stroke="#333" stroke-width="0.4" />
<line x1="25.155" y1="387.6" x2="25.155" y2="388.6" stroke="#333" stroke-width="0.4" />
<line x1="19.9" y1="349.92" x2="21" y2="349.92" stroke="#333" stroke-width="0.4" />
<line x1="26.54" y1="387.6" x2="26.54" y2="388.6" stroke="#333" stroke-width="0.4" />
<line x1="19.4" y1="352.275" x2="21" y2="352.275" stroke="#333" stroke-width="0.4" />
<line x1="27.925" y1="387.6" x2="27.925" y2="389.20000000000005" stroke="#333" stroke-width="0.4" />
<line x1="19.9" y1="354.63" x2="21" y2="354.63" stroke="#333" stroke-width="0.4" />
<line x1="29.31" y1="387.6" x2="29.31" y2="388.6" stroke="#333" stroke-width="0.4" />
<line x1="19.9" y1="356.985" x2="21" y2="356.985" stroke="#333" stroke-width="0.4" />
<line x1="30.695" y1="387.6" x2="30.695" y2="388.6" stroke="#333" stroke-width="0.4" />
<line x1="19.9" y1="359.34000000000003" x2="21" y2="359.34000000000003" stroke="#333" stroke-width="0.4" />
<line x1="32.08" y1="387.6" x2="32.08" y2="388.6" stroke="#333" stroke-width="0.4" />
<line x1="19.9" y1="361.695" x2="21" y2="361.695" stroke="#333" stroke-width="0.4" />
<line x1="33.465" y1="387.6" x2="33.465" y2="388.6" stroke="#333" stroke-width="0.4" />
<line x1="19.4" y1="364.05" x2="21" y2="364.05" stroke="#333" stroke-width="0.4" />
<line x1="34.85" y1="387.6" x2="34.85" y2="389.20000000000005" stroke="#333" stroke-width="0.4" />
<line x1="19.9" y1="366.40500000000003" x2="21" y2="366.40500000000003" stroke="#333" stroke-width="0.4" />
<line x1="36.235" y1="387.6" x2="36.235" y2="388.6" stroke="#333" stroke-width="0.4" />
<line x1="19.9" y1="368.76" x2="21" y2="368.76" stroke="#333" stroke-width="0.4" />
<line x1="37.62" y1="387.6" x2="37.62" y2="388.6" stroke="#333" stroke-width="0.4" />
<line x1="19.9" y1="371.115" x2="21" y2="371.115" stroke="#333" stroke-width="0.4" />
<line x1="39.004999999999995" y1="387.6" x2="39.004999999999995" y2="388.6" stroke="#333" stroke-width="0.4" />
<line x1="19.9" y1="373.47" x2="21" y2="373.47" stroke="#333" stroke-width="0.4" />
<line x1="40.39" y1="387.6" x2="40.39" y2="388.6" stroke="#333" stroke-width="0.4" />
<line x1="19.4" y1="375.82500000000005" x2="21" y2="375.82500000000005" stroke="#333" stroke-width="0.4" />
<line x1="41.775" y1="387.6" x2="41.775" y2="389.20000000000005" stroke="#333" stroke-width="0.4" />
<line x1="19.9" y1="378.18" x2="21" y2="378.18" stroke="#333" stroke-width="0.4" />
<line x1="43.16" y1="387.6" x2="43.16" y2="388.6" stroke="#333" stroke-width="0.4" />
<line x1="19.9" y1="380.535" x2="21" y2="380.535" stroke="#333" stroke-width="0.4" />
<line x1="44.545" y1="387.6" x2="44.545" y2="388.6" stroke="#333" stroke-width="0.4" />
<line x1="19.9" y1="382.89000000000004" x2="21" y2="382.89000000000004" stroke="#333" stroke-width="0.4" />
<line x1="45.93" y1="387.6" x2="45.93" y2="388.6" stroke="#333" stroke-width="0.4" />
<line x1="19.9" y1="385.245" x2="21" y2="385.245" stroke="#333" stroke-width="0.4" />
<line x1="47.315" y1="387.6" x2="47.315" y2="388.6" stroke="#333" stroke-width="0.4" />
<line x1="19.4" y1="387.6" x2="21" y2="387.6" stroke="#333" stroke-width="0.4" />
<line x1="48.7" y1="387.6" x2="48.7" y2="389.20000000000005" stroke="#333" stroke-width="0.4" />
<text x="19.5" y="327.1" font-size="9.3"  textLength="34.5" lengthAdjust="spacingAndGlyphs" fill="#000" font-weight="bold"  stroke="#000" stroke-width="0.45">Control</text>
<text x="19.8" y="336.5" font-size="9.3"  textLength="34.0" lengthAdjust="spacingAndGlyphs" fill="#000" font-weight="bold"  stroke="#000" stroke-width="0.45">(IgG2b)</text>
<rect x="73.50" y="340.50" width="27.70" height="47.10" fill="none" stroke="#000" stroke-width="0.8" />
<line x1="73.5" y1="369.5" x2="101.2" y2="369.5" stroke="#111" stroke-width="0.8" />
<line x1="73.2" y1="340.5" x2="73.2" y2="387.6" stroke="#111" stroke-width="1.0" />
<line x1="71.9" y1="340.5" x2="73.5" y2="340.5" stroke="#333" stroke-width="0.4" />
<line x1="73.5" y1="387.6" x2="73.5" y2="389.20000000000005" stroke="#333" stroke-width="0.4" />
<line x1="72.4" y1="342.855" x2="73.5" y2="342.855" stroke="#333" stroke-width="0.4" />
<line x1="74.885" y1="387.6" x2="74.885" y2="388.6" stroke="#333" stroke-width="0.4" />
<line x1="72.4" y1="345.21" x2="73.5" y2="345.21" stroke="#333" stroke-width="0.4" />
<line x1="76.27" y1="387.6" x2="76.27" y2="388.6" stroke="#333" stroke-width="0.4" />
<line x1="72.4" y1="347.565" x2="73.5" y2="347.565" stroke="#333" stroke-width="0.4" />
<line x1="77.655" y1="387.6" x2="77.655" y2="388.6" stroke="#333" stroke-width="0.4" />
<line x1="72.4" y1="349.92" x2="73.5" y2="349.92" stroke="#333" stroke-width="0.4" />
<line x1="79.04" y1="387.6" x2="79.04" y2="388.6" stroke="#333" stroke-width="0.4" />
<line x1="71.9" y1="352.275" x2="73.5" y2="352.275" stroke="#333" stroke-width="0.4" />
<line x1="80.425" y1="387.6" x2="80.425" y2="389.20000000000005" stroke="#333" stroke-width="0.4" />
<line x1="72.4" y1="354.63" x2="73.5" y2="354.63" stroke="#333" stroke-width="0.4" />
<line x1="81.81" y1="387.6" x2="81.81" y2="388.6" stroke="#333" stroke-width="0.4" />
<line x1="72.4" y1="356.985" x2="73.5" y2="356.985" stroke="#333" stroke-width="0.4" />
<line x1="83.195" y1="387.6" x2="83.195" y2="388.6" stroke="#333" stroke-width="0.4" />
<line x1="72.4" y1="359.34000000000003" x2="73.5" y2="359.34000000000003" stroke="#333" stroke-width="0.4" />
<line x1="84.58" y1="387.6" x2="84.58" y2="388.6" stroke="#333" stroke-width="0.4" />
<line x1="72.4" y1="361.695" x2="73.5" y2="361.695" stroke="#333" stroke-width="0.4" />
<line x1="85.965" y1="387.6" x2="85.965" y2="388.6" stroke="#333" stroke-width="0.4" />
<line x1="71.9" y1="364.05" x2="73.5" y2="364.05" stroke="#333" stroke-width="0.4" />
<line x1="87.35" y1="387.6" x2="87.35" y2="389.20000000000005" stroke="#333" stroke-width="0.4" />
<line x1="72.4" y1="366.40500000000003" x2="73.5" y2="366.40500000000003" stroke="#333" stroke-width="0.4" />
<line x1="88.735" y1="387.6" x2="88.735" y2="388.6" stroke="#333" stroke-width="0.4" />
<line x1="72.4" y1="368.76" x2="73.5" y2="368.76" stroke="#333" stroke-width="0.4" />
<line x1="90.12" y1="387.6" x2="90.12" y2="388.6" stroke="#333" stroke-width="0.4" />
<line x1="72.4" y1="371.115" x2="73.5" y2="371.115" stroke="#333" stroke-width="0.4" />
<line x1="91.505" y1="387.6" x2="91.505" y2="388.6" stroke="#333" stroke-width="0.4" />
<line x1="72.4" y1="373.47" x2="73.5" y2="373.47" stroke="#333" stroke-width="0.4" />
<line x1="92.89" y1="387.6" x2="92.89" y2="388.6" stroke="#333" stroke-width="0.4" />
<line x1="71.9" y1="375.82500000000005" x2="73.5" y2="375.82500000000005" stroke="#333" stroke-width="0.4" />
<line x1="94.275" y1="387.6" x2="94.275" y2="389.20000000000005" stroke="#333" stroke-width="0.4" />
<line x1="72.4" y1="378.18" x2="73.5" y2="378.18" stroke="#333" stroke-width="0.4" />
<line x1="95.66" y1="387.6" x2="95.66" y2="388.6" stroke="#333" stroke-width="0.4" />
<line x1="72.4" y1="380.535" x2="73.5" y2="380.535" stroke="#333" stroke-width="0.4" />
<line x1="97.045" y1="387.6" x2="97.045" y2="388.6" stroke="#333" stroke-width="0.4" />
<line x1="72.4" y1="382.89000000000004" x2="73.5" y2="382.89000000000004" stroke="#333" stroke-width="0.4" />
<line x1="98.43" y1="387.6" x2="98.43" y2="388.6" stroke="#333" stroke-width="0.4" />
<line x1="72.4" y1="385.245" x2="73.5" y2="385.245" stroke="#333" stroke-width="0.4" />
<line x1="99.815" y1="387.6" x2="99.815" y2="388.6" stroke="#333" stroke-width="0.4" />
<line x1="71.9" y1="387.6" x2="73.5" y2="387.6" stroke="#333" stroke-width="0.4" />
<line x1="101.2" y1="387.6" x2="101.2" y2="389.20000000000005" stroke="#333" stroke-width="0.4" />
<text x="75" y="327.1" font-size="9.3"  textLength="25.299999999999997" lengthAdjust="spacingAndGlyphs" fill="#000" font-weight="bold"  stroke="#000" stroke-width="0.45">CCR1</text>
<text x="74.5" y="336.5" font-size="9.3"  textLength="26.0" lengthAdjust="spacingAndGlyphs" fill="#000" font-weight="bold"  stroke="#000" stroke-width="0.45">(64%)</text>
<rect x="126.00" y="340.50" width="27.70" height="47.10" fill="none" stroke="#000" stroke-width="0.8" />
<line x1="126" y1="369.5" x2="153.7" y2="369.5" stroke="#111" stroke-width="0.8" />
<line x1="125.7" y1="340.5" x2="125.7" y2="387.6" stroke="#111" stroke-width="1.0" />
<line x1="124.4" y1="340.5" x2="126" y2="340.5" stroke="#333" stroke-width="0.4" />
<line x1="126.0" y1="387.6" x2="126.0" y2="389.20000000000005" stroke="#333" stroke-width="0.4" />
<line x1="124.9" y1="342.855" x2="126" y2="342.855" stroke="#333" stroke-width="0.4" />
<line x1="127.385" y1="387.6" x2="127.385" y2="388.6" stroke="#333" stroke-width="0.4" />
<line x1="124.9" y1="345.21" x2="126" y2="345.21" stroke="#333" stroke-width="0.4" />
<line x1="128.77" y1="387.6" x2="128.77" y2="388.6" stroke="#333" stroke-width="0.4" />
<line x1="124.9" y1="347.565" x2="126" y2="347.565" stroke="#333" stroke-width="0.4" />
<line x1="130.155" y1="387.6" x2="130.155" y2="388.6" stroke="#333" stroke-width="0.4" />
<line x1="124.9" y1="349.92" x2="126" y2="349.92" stroke="#333" stroke-width="0.4" />
<line x1="131.54" y1="387.6" x2="131.54" y2="388.6" stroke="#333" stroke-width="0.4" />
<line x1="124.4" y1="352.275" x2="126" y2="352.275" stroke="#333" stroke-width="0.4" />
<line x1="132.925" y1="387.6" x2="132.925" y2="389.20000000000005" stroke="#333" stroke-width="0.4" />
<line x1="124.9" y1="354.63" x2="126" y2="354.63" stroke="#333" stroke-width="0.4" />
<line x1="134.31" y1="387.6" x2="134.31" y2="388.6" stroke="#333" stroke-width="0.4" />
<line x1="124.9" y1="356.985" x2="126" y2="356.985" stroke="#333" stroke-width="0.4" />
<line x1="135.695" y1="387.6" x2="135.695" y2="388.6" stroke="#333" stroke-width="0.4" />
<line x1="124.9" y1="359.34000000000003" x2="126" y2="359.34000000000003" stroke="#333" stroke-width="0.4" />
<line x1="137.08" y1="387.6" x2="137.08" y2="388.6" stroke="#333" stroke-width="0.4" />
<line x1="124.9" y1="361.695" x2="126" y2="361.695" stroke="#333" stroke-width="0.4" />
<line x1="138.465" y1="387.6" x2="138.465" y2="388.6" stroke="#333" stroke-width="0.4" />
<line x1="124.4" y1="364.05" x2="126" y2="364.05" stroke="#333" stroke-width="0.4" />
<line x1="139.85" y1="387.6" x2="139.85" y2="389.20000000000005" stroke="#333" stroke-width="0.4" />
<line x1="124.9" y1="366.40500000000003" x2="126" y2="366.40500000000003" stroke="#333" stroke-width="0.4" />
<line x1="141.235" y1="387.6" x2="141.235" y2="388.6" stroke="#333" stroke-width="0.4" />
<line x1="124.9" y1="368.76" x2="126" y2="368.76" stroke="#333" stroke-width="0.4" />
<line x1="142.62" y1="387.6" x2="142.62" y2="388.6" stroke="#333" stroke-width="0.4" />
<line x1="124.9" y1="371.115" x2="126" y2="371.115" stroke="#333" stroke-width="0.4" />
<line x1="144.005" y1="387.6" x2="144.005" y2="388.6" stroke="#333" stroke-width="0.4" />
<line x1="124.9" y1="373.47" x2="126" y2="373.47" stroke="#333" stroke-width="0.4" />
<line x1="145.39" y1="387.6" x2="145.39" y2="388.6" stroke="#333" stroke-width="0.4" />
<line x1="124.4" y1="375.82500000000005" x2="126" y2="375.82500000000005" stroke="#333" stroke-width="0.4" />
<line x1="146.775" y1="387.6" x2="146.775" y2="389.20000000000005" stroke="#333" stroke-width="0.4" />
<line x1="124.9" y1="378.18" x2="126" y2="378.18" stroke="#333" stroke-width="0.4" />
<line x1="148.16" y1="387.6" x2="148.16" y2="388.6" stroke="#333" stroke-width="0.4" />
<line x1="124.9" y1="380.535" x2="126" y2="380.535" stroke="#333" stroke-width="0.4" />
<line x1="149.545" y1="387.6" x2="149.545" y2="388.6" stroke="#333" stroke-width="0.4" />
<line x1="124.9" y1="382.89000000000004" x2="126" y2="382.89000000000004" stroke="#333" stroke-width="0.4" />
<line x1="150.93" y1="387.6" x2="150.93" y2="388.6" stroke="#333" stroke-width="0.4" />
<line x1="124.9" y1="385.245" x2="126" y2="385.245" stroke="#333" stroke-width="0.4" />
<line x1="152.315" y1="387.6" x2="152.315" y2="388.6" stroke="#333" stroke-width="0.4" />
<line x1="124.4" y1="387.6" x2="126" y2="387.6" stroke="#333" stroke-width="0.4" />
<line x1="153.7" y1="387.6" x2="153.7" y2="389.20000000000005" stroke="#333" stroke-width="0.4" />
<text x="127" y="327.1" font-size="9.3"  textLength="26" lengthAdjust="spacingAndGlyphs" fill="#000" font-weight="bold"  stroke="#000" stroke-width="0.45">CCR2</text>
<text x="127" y="336.5" font-size="9.3"  textLength="26" lengthAdjust="spacingAndGlyphs" fill="#000" font-weight="bold"  stroke="#000" stroke-width="0.45">(91%)</text>
<rect x="178.00" y="340.50" width="27.70" height="47.10" fill="none" stroke="#000" stroke-width="0.8" />
<line x1="178" y1="369.5" x2="205.7" y2="369.5" stroke="#111" stroke-width="0.8" />
<line x1="177.7" y1="340.5" x2="177.7" y2="387.6" stroke="#111" stroke-width="1.0" />
<line x1="176.4" y1="340.5" x2="178" y2="340.5" stroke="#333" stroke-width="0.4" />
<line x1="178.0" y1="387.6" x2="178.0" y2="389.20000000000005" stroke="#333" stroke-width="0.4" />
<line x1="176.9" y1="342.855" x2="178" y2="342.855" stroke="#333" stroke-width="0.4" />
<line x1="179.385" y1="387.6" x2="179.385" y2="388.6" stroke="#333" stroke-width="0.4" />
<line x1="176.9" y1="345.21" x2="178" y2="345.21" stroke="#333" stroke-width="0.4" />
<line x1="180.77" y1="387.6" x2="180.77" y2="388.6" stroke="#333" stroke-width="0.4" />
<line x1="176.9" y1="347.565" x2="178" y2="347.565" stroke="#333" stroke-width="0.4" />
<line x1="182.155" y1="387.6" x2="182.155" y2="388.6" stroke="#333" stroke-width="0.4" />
<line x1="176.9" y1="349.92" x2="178" y2="349.92" stroke="#333" stroke-width="0.4" />
<line x1="183.54" y1="387.6" x2="183.54" y2="388.6" stroke="#333" stroke-width="0.4" />
<line x1="176.4" y1="352.275" x2="178" y2="352.275" stroke="#333" stroke-width="0.4" />
<line x1="184.925" y1="387.6" x2="184.925" y2="389.20000000000005" stroke="#333" stroke-width="0.4" />
<line x1="176.9" y1="354.63" x2="178" y2="354.63" stroke="#333" stroke-width="0.4" />
<line x1="186.31" y1="387.6" x2="186.31" y2="388.6" stroke="#333" stroke-width="0.4" />
<line x1="176.9" y1="356.985" x2="178" y2="356.985" stroke="#333" stroke-width="0.4" />
<line x1="187.695" y1="387.6" x2="187.695" y2="388.6" stroke="#333" stroke-width="0.4" />
<line x1="176.9" y1="359.34000000000003" x2="178" y2="359.34000000000003" stroke="#333" stroke-width="0.4" />
<line x1="189.08" y1="387.6" x2="189.08" y2="388.6" stroke="#333" stroke-width="0.4" />
<line x1="176.9" y1="361.695" x2="178" y2="361.695" stroke="#333" stroke-width="0.4" />
<line x1="190.465" y1="387.6" x2="190.465" y2="388.6" stroke="#333" stroke-width="0.4" />
<line x1="176.4" y1="364.05" x2="178" y2="364.05" stroke="#333" stroke-width="0.4" />
<line x1="191.85" y1="387.6" x2="191.85" y2="389.20000000000005" stroke="#333" stroke-width="0.4" />
<line x1="176.9" y1="366.40500000000003" x2="178" y2="366.40500000000003" stroke="#333" stroke-width="0.4" />
<line x1="193.235" y1="387.6" x2="193.235" y2="388.6" stroke="#333" stroke-width="0.4" />
<line x1="176.9" y1="368.76" x2="178" y2="368.76" stroke="#333" stroke-width="0.4" />
<line x1="194.62" y1="387.6" x2="194.62" y2="388.6" stroke="#333" stroke-width="0.4" />
<line x1="176.9" y1="371.115" x2="178" y2="371.115" stroke="#333" stroke-width="0.4" />
<line x1="196.005" y1="387.6" x2="196.005" y2="388.6" stroke="#333" stroke-width="0.4" />
<line x1="176.9" y1="373.47" x2="178" y2="373.47" stroke="#333" stroke-width="0.4" />
<line x1="197.39" y1="387.6" x2="197.39" y2="388.6" stroke="#333" stroke-width="0.4" />
<line x1="176.4" y1="375.82500000000005" x2="178" y2="375.82500000000005" stroke="#333" stroke-width="0.4" />
<line x1="198.775" y1="387.6" x2="198.775" y2="389.20000000000005" stroke="#333" stroke-width="0.4" />
<line x1="176.9" y1="378.18" x2="178" y2="378.18" stroke="#333" stroke-width="0.4" />
<line x1="200.16" y1="387.6" x2="200.16" y2="388.6" stroke="#333" stroke-width="0.4" />
<line x1="176.9" y1="380.535" x2="178" y2="380.535" stroke="#333" stroke-width="0.4" />
<line x1="201.545" y1="387.6" x2="201.545" y2="388.6" stroke="#333" stroke-width="0.4" />
<line x1="176.9" y1="382.89000000000004" x2="178" y2="382.89000000000004" stroke="#333" stroke-width="0.4" />
<line x1="202.93" y1="387.6" x2="202.93" y2="388.6" stroke="#333" stroke-width="0.4" />
<line x1="176.9" y1="385.245" x2="178" y2="385.245" stroke="#333" stroke-width="0.4" />
<line x1="204.315" y1="387.6" x2="204.315" y2="388.6" stroke="#333" stroke-width="0.4" />
<line x1="176.4" y1="387.6" x2="178" y2="387.6" stroke="#333" stroke-width="0.4" />
<line x1="205.7" y1="387.6" x2="205.7" y2="389.20000000000005" stroke="#333" stroke-width="0.4" />
<text x="179.5" y="327.1" font-size="9.3"  textLength="25.19999999999999" lengthAdjust="spacingAndGlyphs" fill="#000" font-weight="bold"  stroke="#000" stroke-width="0.45">CCR3</text>
<text x="182" y="336.5" font-size="9.3"  textLength="20" lengthAdjust="spacingAndGlyphs" fill="#000" font-weight="bold"  stroke="#000" stroke-width="0.45">(0%)</text>
<rect x="230.50" y="340.50" width="27.70" height="47.10" fill="none" stroke="#000" stroke-width="0.8" />
<line x1="230.5" y1="369.5" x2="258.2" y2="369.5" stroke="#111" stroke-width="0.8" />
<line x1="230.2" y1="340.5" x2="230.2" y2="387.6" stroke="#111" stroke-width="1.0" />
<line x1="228.9" y1="340.5" x2="230.5" y2="340.5" stroke="#333" stroke-width="0.4" />
<line x1="230.5" y1="387.6" x2="230.5" y2="389.20000000000005" stroke="#333" stroke-width="0.4" />
<line x1="229.4" y1="342.855" x2="230.5" y2="342.855" stroke="#333" stroke-width="0.4" />
<line x1="231.885" y1="387.6" x2="231.885" y2="388.6" stroke="#333" stroke-width="0.4" />
<line x1="229.4" y1="345.21" x2="230.5" y2="345.21" stroke="#333" stroke-width="0.4" />
<line x1="233.27" y1="387.6" x2="233.27" y2="388.6" stroke="#333" stroke-width="0.4" />
<line x1="229.4" y1="347.565" x2="230.5" y2="347.565" stroke="#333" stroke-width="0.4" />
<line x1="234.655" y1="387.6" x2="234.655" y2="388.6" stroke="#333" stroke-width="0.4" />
<line x1="229.4" y1="349.92" x2="230.5" y2="349.92" stroke="#333" stroke-width="0.4" />
<line x1="236.04" y1="387.6" x2="236.04" y2="388.6" stroke="#333" stroke-width="0.4" />
<line x1="228.9" y1="352.275" x2="230.5" y2="352.275" stroke="#333" stroke-width="0.4" />
<line x1="237.425" y1="387.6" x2="237.425" y2="389.20000000000005" stroke="#333" stroke-width="0.4" />
<line x1="229.4" y1="354.63" x2="230.5" y2="354.63" stroke="#333" stroke-width="0.4" />
<line x1="238.81" y1="387.6" x2="238.81" y2="388.6" stroke="#333" stroke-width="0.4" />
<line x1="229.4" y1="356.985" x2="230.5" y2="356.985" stroke="#333" stroke-width="0.4" />
<line x1="240.195" y1="387.6" x2="240.195" y2="388.6" stroke="#333" stroke-width="0.4" />
<line x1="229.4" y1="359.34000000000003" x2="230.5" y2="359.34000000000003" stroke="#333" stroke-width="0.4" />
<line x1="241.58" y1="387.6" x2="241.58" y2="388.6" stroke="#333" stroke-width="0.4" />
<line x1="229.4" y1="361.695" x2="230.5" y2="361.695" stroke="#333" stroke-width="0.4" />
<line x1="242.965" y1="387.6" x2="242.965" y2="388.6" stroke="#333" stroke-width="0.4" />
<line x1="228.9" y1="364.05" x2="230.5" y2="364.05" stroke="#333" stroke-width="0.4" />
<line x1="244.35" y1="387.6" x2="244.35" y2="389.20000000000005" stroke="#333" stroke-width="0.4" />
<line x1="229.4" y1="366.40500000000003" x2="230.5" y2="366.40500000000003" stroke="#333" stroke-width="0.4" />
<line x1="245.735" y1="387.6" x2="245.735" y2="388.6" stroke="#333" stroke-width="0.4" />
<line x1="229.4" y1="368.76" x2="230.5" y2="368.76" stroke="#333" stroke-width="0.4" />
<line x1="247.12" y1="387.6" x2="247.12" y2="388.6" stroke="#333" stroke-width="0.4" />
<line x1="229.4" y1="371.115" x2="230.5" y2="371.115" stroke="#333" stroke-width="0.4" />
<line x1="248.505" y1="387.6" x2="248.505" y2="388.6" stroke="#333" stroke-width="0.4" />
<line x1="229.4" y1="373.47" x2="230.5" y2="373.47" stroke="#333" stroke-width="0.4" />
<line x1="249.89" y1="387.6" x2="249.89" y2="388.6" stroke="#333" stroke-width="0.4" />
<line x1="228.9" y1="375.82500000000005" x2="230.5" y2="375.82500000000005" stroke="#333" stroke-width="0.4" />
<line x1="251.275" y1="387.6" x2="251.275" y2="389.20000000000005" stroke="#333" stroke-width="0.4" />
<line x1="229.4" y1="378.18" x2="230.5" y2="378.18" stroke="#333" stroke-width="0.4" />
<line x1="252.66" y1="387.6" x2="252.66" y2="388.6" stroke="#333" stroke-width="0.4" />
<line x1="229.4" y1="380.535" x2="230.5" y2="380.535" stroke="#333" stroke-width="0.4" />
<line x1="254.045" y1="387.6" x2="254.045" y2="388.6" stroke="#333" stroke-width="0.4" />
<line x1="229.4" y1="382.89000000000004" x2="230.5" y2="382.89000000000004" stroke="#333" stroke-width="0.4" />
<line x1="255.43" y1="387.6" x2="255.43" y2="388.6" stroke="#333" stroke-width="0.4" />
<line x1="229.4" y1="385.245" x2="230.5" y2="385.245" stroke="#333" stroke-width="0.4" />
<line x1="256.815" y1="387.6" x2="256.815" y2="388.6" stroke="#333" stroke-width="0.4" />
<line x1="228.9" y1="387.6" x2="230.5" y2="387.6" stroke="#333" stroke-width="0.4" />
<line x1="258.2" y1="387.6" x2="258.2" y2="389.20000000000005" stroke="#333" stroke-width="0.4" />
<text x="232.8" y="327.1" font-size="9.3"  textLength="25.19999999999999" lengthAdjust="spacingAndGlyphs" fill="#000" font-weight="bold"  stroke="#000" stroke-width="0.45">CCR4</text>
<text x="232" y="336.5" font-size="9.3"  textLength="25.5" lengthAdjust="spacingAndGlyphs" fill="#000" font-weight="bold"  stroke="#000" stroke-width="0.45">(11%)</text>
<rect x="282.70" y="340.50" width="27.70" height="47.10" fill="none" stroke="#000" stroke-width="0.8" />
<line x1="282.7" y1="369.5" x2="310.4" y2="369.5" stroke="#111" stroke-width="0.8" />
<line x1="282.4" y1="340.5" x2="282.4" y2="387.6" stroke="#111" stroke-width="1.0" />
<line x1="281.09999999999997" y1="340.5" x2="282.7" y2="340.5" stroke="#333" stroke-width="0.4" />
<line x1="282.7" y1="387.6" x2="282.7" y2="389.20000000000005" stroke="#333" stroke-width="0.4" />
<line x1="281.59999999999997" y1="342.855" x2="282.7" y2="342.855" stroke="#333" stroke-width="0.4" />
<line x1="284.085" y1="387.6" x2="284.085" y2="388.6" stroke="#333" stroke-width="0.4" />
<line x1="281.59999999999997" y1="345.21" x2="282.7" y2="345.21" stroke="#333" stroke-width="0.4" />
<line x1="285.46999999999997" y1="387.6" x2="285.46999999999997" y2="388.6" stroke="#333" stroke-width="0.4" />
<line x1="281.59999999999997" y1="347.565" x2="282.7" y2="347.565" stroke="#333" stroke-width="0.4" />
<line x1="286.85499999999996" y1="387.6" x2="286.85499999999996" y2="388.6" stroke="#333" stroke-width="0.4" />
<line x1="281.59999999999997" y1="349.92" x2="282.7" y2="349.92" stroke="#333" stroke-width="0.4" />
<line x1="288.24" y1="387.6" x2="288.24" y2="388.6" stroke="#333" stroke-width="0.4" />
<line x1="281.09999999999997" y1="352.275" x2="282.7" y2="352.275" stroke="#333" stroke-width="0.4" />
<line x1="289.625" y1="387.6" x2="289.625" y2="389.20000000000005" stroke="#333" stroke-width="0.4" />
<line x1="281.59999999999997" y1="354.63" x2="282.7" y2="354.63" stroke="#333" stroke-width="0.4" />
<line x1="291.01" y1="387.6" x2="291.01" y2="388.6" stroke="#333" stroke-width="0.4" />
<line x1="281.59999999999997" y1="356.985" x2="282.7" y2="356.985" stroke="#333" stroke-width="0.4" />
<line x1="292.395" y1="387.6" x2="292.395" y2="388.6" stroke="#333" stroke-width="0.4" />
<line x1="281.59999999999997" y1="359.34000000000003" x2="282.7" y2="359.34000000000003" stroke="#333" stroke-width="0.4" />
<line x1="293.78" y1="387.6" x2="293.78" y2="388.6" stroke="#333" stroke-width="0.4" />
<line x1="281.59999999999997" y1="361.695" x2="282.7" y2="361.695" stroke="#333" stroke-width="0.4" />
<line x1="295.16499999999996" y1="387.6" x2="295.16499999999996" y2="388.6" stroke="#333" stroke-width="0.4" />
<line x1="281.09999999999997" y1="364.05" x2="282.7" y2="364.05" stroke="#333" stroke-width="0.4" />
<line x1="296.55" y1="387.6" x2="296.55" y2="389.20000000000005" stroke="#333" stroke-width="0.4" />
<line x1="281.59999999999997" y1="366.40500000000003" x2="282.7" y2="366.40500000000003" stroke="#333" stroke-width="0.4" />
<line x1="297.935" y1="387.6" x2="297.935" y2="388.6" stroke="#333" stroke-width="0.4" />
<line x1="281.59999999999997" y1="368.76" x2="282.7" y2="368.76" stroke="#333" stroke-width="0.4" />
<line x1="299.32" y1="387.6" x2="299.32" y2="388.6" stroke="#333" stroke-width="0.4" />
<line x1="281.59999999999997" y1="371.115" x2="282.7" y2="371.115" stroke="#333" stroke-width="0.4" />
<line x1="300.705" y1="387.6" x2="300.705" y2="388.6" stroke="#333" stroke-width="0.4" />
<line x1="281.59999999999997" y1="373.47" x2="282.7" y2="373.47" stroke="#333" stroke-width="0.4" />
<line x1="302.09" y1="387.6" x2="302.09" y2="388.6" stroke="#333" stroke-width="0.4" />
<line x1="281.09999999999997" y1="375.82500000000005" x2="282.7" y2="375.82500000000005" stroke="#333" stroke-width="0.4" />
<line x1="303.47499999999997" y1="387.6" x2="303.47499999999997" y2="389.20000000000005" stroke="#333" stroke-width="0.4" />
<line x1="281.59999999999997" y1="378.18" x2="282.7" y2="378.18" stroke="#333" stroke-width="0.4" />
<line x1="304.86" y1="387.6" x2="304.86" y2="388.6" stroke="#333" stroke-width="0.4" />
<line x1="281.59999999999997" y1="380.535" x2="282.7" y2="380.535" stroke="#333" stroke-width="0.4" />
<line x1="306.245" y1="387.6" x2="306.245" y2="388.6" stroke="#333" stroke-width="0.4" />
<line x1="281.59999999999997" y1="382.89000000000004" x2="282.7" y2="382.89000000000004" stroke="#333" stroke-width="0.4" />
<line x1="307.63" y1="387.6" x2="307.63" y2="388.6" stroke="#333" stroke-width="0.4" />
<line x1="281.59999999999997" y1="385.245" x2="282.7" y2="385.245" stroke="#333" stroke-width="0.4" />
<line x1="309.015" y1="387.6" x2="309.015" y2="388.6" stroke="#333" stroke-width="0.4" />
<line x1="281.09999999999997" y1="387.6" x2="282.7" y2="387.6" stroke="#333" stroke-width="0.4" />
<line x1="310.4" y1="387.6" x2="310.4" y2="389.20000000000005" stroke="#333" stroke-width="0.4" />
<text x="284.5" y="327.1" font-size="9.3"  textLength="25.19999999999999" lengthAdjust="spacingAndGlyphs" fill="#000" font-weight="bold"  stroke="#000" stroke-width="0.45">CCR5</text>
<text x="283.8" y="336.5" font-size="9.3"  textLength="26.19999999999999" lengthAdjust="spacingAndGlyphs" fill="#000" font-weight="bold"  stroke="#000" stroke-width="0.45">(87%)</text>
<rect x="335.60" y="340.50" width="27.70" height="47.10" fill="none" stroke="#000" stroke-width="0.8" />
<line x1="335.6" y1="369.5" x2="363.3" y2="369.5" stroke="#111" stroke-width="0.8" />
<line x1="335.3" y1="340.5" x2="335.3" y2="387.6" stroke="#111" stroke-width="1.0" />
<line x1="334.0" y1="340.5" x2="335.6" y2="340.5" stroke="#333" stroke-width="0.4" />
<line x1="335.6" y1="387.6" x2="335.6" y2="389.20000000000005" stroke="#333" stroke-width="0.4" />
<line x1="334.5" y1="342.855" x2="335.6" y2="342.855" stroke="#333" stroke-width="0.4" />
<line x1="336.985" y1="387.6" x2="336.985" y2="388.6" stroke="#333" stroke-width="0.4" />
<line x1="334.5" y1="345.21" x2="335.6" y2="345.21" stroke="#333" stroke-width="0.4" />
<line x1="338.37" y1="387.6" x2="338.37" y2="388.6" stroke="#333" stroke-width="0.4" />
<line x1="334.5" y1="347.565" x2="335.6" y2="347.565" stroke="#333" stroke-width="0.4" />
<line x1="339.755" y1="387.6" x2="339.755" y2="388.6" stroke="#333" stroke-width="0.4" />
<line x1="334.5" y1="349.92" x2="335.6" y2="349.92" stroke="#333" stroke-width="0.4" />
<line x1="341.14000000000004" y1="387.6" x2="341.14000000000004" y2="388.6" stroke="#333" stroke-width="0.4" />
<line x1="334.0" y1="352.275" x2="335.6" y2="352.275" stroke="#333" stroke-width="0.4" />
<line x1="342.52500000000003" y1="387.6" x2="342.52500000000003" y2="389.20000000000005" stroke="#333" stroke-width="0.4" />
<line x1="334.5" y1="354.63" x2="335.6" y2="354.63" stroke="#333" stroke-width="0.4" />
<line x1="343.91" y1="387.6" x2="343.91" y2="388.6" stroke="#333" stroke-width="0.4" />
<line x1="334.5" y1="356.985" x2="335.6" y2="356.985" stroke="#333" stroke-width="0.4" />
<line x1="345.295" y1="387.6" x2="345.295" y2="388.6" stroke="#333" stroke-width="0.4" />
<line x1="334.5" y1="359.34000000000003" x2="335.6" y2="359.34000000000003" stroke="#333" stroke-width="0.4" />
<line x1="346.68" y1="387.6" x2="346.68" y2="388.6" stroke="#333" stroke-width="0.4" />
<line x1="334.5" y1="361.695" x2="335.6" y2="361.695" stroke="#333" stroke-width="0.4" />
<line x1="348.065" y1="387.6" x2="348.065" y2="388.6" stroke="#333" stroke-width="0.4" />
<line x1="334.0" y1="364.05" x2="335.6" y2="364.05" stroke="#333" stroke-width="0.4" />
<line x1="349.45000000000005" y1="387.6" x2="349.45000000000005" y2="389.20000000000005" stroke="#333" stroke-width="0.4" />
<line x1="334.5" y1="366.40500000000003" x2="335.6" y2="366.40500000000003" stroke="#333" stroke-width="0.4" />
<line x1="350.83500000000004" y1="387.6" x2="350.83500000000004" y2="388.6" stroke="#333" stroke-width="0.4" />
<line x1="334.5" y1="368.76" x2="335.6" y2="368.76" stroke="#333" stroke-width="0.4" />
<line x1="352.22" y1="387.6" x2="352.22" y2="388.6" stroke="#333" stroke-width="0.4" />
<line x1="334.5" y1="371.115" x2="335.6" y2="371.115" stroke="#333" stroke-width="0.4" />
<line x1="353.605" y1="387.6" x2="353.605" y2="388.6" stroke="#333" stroke-width="0.4" />
<line x1="334.5" y1="373.47" x2="335.6" y2="373.47" stroke="#333" stroke-width="0.4" />
<line x1="354.99" y1="387.6" x2="354.99" y2="388.6" stroke="#333" stroke-width="0.4" />
<line x1="334.0" y1="375.82500000000005" x2="335.6" y2="375.82500000000005" stroke="#333" stroke-width="0.4" />
<line x1="356.375" y1="387.6" x2="356.375" y2="389.20000000000005" stroke="#333" stroke-width="0.4" />
<line x1="334.5" y1="378.18" x2="335.6" y2="378.18" stroke="#333" stroke-width="0.4" />
<line x1="357.76000000000005" y1="387.6" x2="357.76000000000005" y2="388.6" stroke="#333" stroke-width="0.4" />
<line x1="334.5" y1="380.535" x2="335.6" y2="380.535" stroke="#333" stroke-width="0.4" />
<line x1="359.14500000000004" y1="387.6" x2="359.14500000000004" y2="388.6" stroke="#333" stroke-width="0.4" />
<line x1="334.5" y1="382.89000000000004" x2="335.6" y2="382.89000000000004" stroke="#333" stroke-width="0.4" />
<line x1="360.53000000000003" y1="387.6" x2="360.53000000000003" y2="388.6" stroke="#333" stroke-width="0.4" />
<line x1="334.5" y1="385.245" x2="335.6" y2="385.245" stroke="#333" stroke-width="0.4" />
<line x1="361.915" y1="387.6" x2="361.915" y2="388.6" stroke="#333" stroke-width="0.4" />
<line x1="334.0" y1="387.6" x2="335.6" y2="387.6" stroke="#333" stroke-width="0.4" />
<line x1="363.3" y1="387.6" x2="363.3" y2="389.20000000000005" stroke="#333" stroke-width="0.4" />
<text x="338" y="327.1" font-size="9.3"  textLength="26.5" lengthAdjust="spacingAndGlyphs" fill="#000" font-weight="bold"  stroke="#000" stroke-width="0.45">CCR6</text>
<text x="337.5" y="336.5" font-size="9.3"  textLength="26.80000000000001" lengthAdjust="spacingAndGlyphs" fill="#000" font-weight="bold"  stroke="#000" stroke-width="0.45">(74%)</text>
<rect x="73.50" y="413.80" width="27.70" height="47.40" fill="none" stroke="#000" stroke-width="0.8" />
<line x1="73.5" y1="440.8" x2="101.2" y2="440.8" stroke="#111" stroke-width="0.8" />
<line x1="73.2" y1="413.8" x2="73.2" y2="461.2" stroke="#111" stroke-width="1.0" />
<line x1="71.9" y1="413.8" x2="73.5" y2="413.8" stroke="#333" stroke-width="0.4" />
<line x1="73.5" y1="461.2" x2="73.5" y2="462.8" stroke="#333" stroke-width="0.4" />
<line x1="72.4" y1="416.17" x2="73.5" y2="416.17" stroke="#333" stroke-width="0.4" />
<line x1="74.885" y1="461.2" x2="74.885" y2="462.2" stroke="#333" stroke-width="0.4" />
<line x1="72.4" y1="418.54" x2="73.5" y2="418.54" stroke="#333" stroke-width="0.4" />
<line x1="76.27" y1="461.2" x2="76.27" y2="462.2" stroke="#333" stroke-width="0.4" />
<line x1="72.4" y1="420.91" x2="73.5" y2="420.91" stroke="#333" stroke-width="0.4" />
<line x1="77.655" y1="461.2" x2="77.655" y2="462.2" stroke="#333" stroke-width="0.4" />
<line x1="72.4" y1="423.28000000000003" x2="73.5" y2="423.28000000000003" stroke="#333" stroke-width="0.4" />
<line x1="79.04" y1="461.2" x2="79.04" y2="462.2" stroke="#333" stroke-width="0.4" />
<line x1="71.9" y1="425.65" x2="73.5" y2="425.65" stroke="#333" stroke-width="0.4" />
<line x1="80.425" y1="461.2" x2="80.425" y2="462.8" stroke="#333" stroke-width="0.4" />
<line x1="72.4" y1="428.02" x2="73.5" y2="428.02" stroke="#333" stroke-width="0.4" />
<line x1="81.81" y1="461.2" x2="81.81" y2="462.2" stroke="#333" stroke-width="0.4" />
<line x1="72.4" y1="430.39" x2="73.5" y2="430.39" stroke="#333" stroke-width="0.4" />
<line x1="83.195" y1="461.2" x2="83.195" y2="462.2" stroke="#333" stroke-width="0.4" />
<line x1="72.4" y1="432.76" x2="73.5" y2="432.76" stroke="#333" stroke-width="0.4" />
<line x1="84.58" y1="461.2" x2="84.58" y2="462.2" stroke="#333" stroke-width="0.4" />
<line x1="72.4" y1="435.13" x2="73.5" y2="435.13" stroke="#333" stroke-width="0.4" />
<line x1="85.965" y1="461.2" x2="85.965" y2="462.2" stroke="#333" stroke-width="0.4" />
<line x1="71.9" y1="437.5" x2="73.5" y2="437.5" stroke="#333" stroke-width="0.4" />
<line x1="87.35" y1="461.2" x2="87.35" y2="462.8" stroke="#333" stroke-width="0.4" />
<line x1="72.4" y1="439.87" x2="73.5" y2="439.87" stroke="#333" stroke-width="0.4" />
<line x1="88.735" y1="461.2" x2="88.735" y2="462.2" stroke="#333" stroke-width="0.4" />
<line x1="72.4" y1="442.24" x2="73.5" y2="442.24" stroke="#333" stroke-width="0.4" />
<line x1="90.12" y1="461.2" x2="90.12" y2="462.2" stroke="#333" stroke-width="0.4" />
<line x1="72.4" y1="444.61" x2="73.5" y2="444.61" stroke="#333" stroke-width="0.4" />
<line x1="91.505" y1="461.2" x2="91.505" y2="462.2" stroke="#333" stroke-width="0.4" />
<line x1="72.4" y1="446.98" x2="73.5" y2="446.98" stroke="#333" stroke-width="0.4" />
<line x1="92.89" y1="461.2" x2="92.89" y2="462.2" stroke="#333" stroke-width="0.4" />
<line x1="71.9" y1="449.35" x2="73.5" y2="449.35" stroke="#333" stroke-width="0.4" />
<line x1="94.275" y1="461.2" x2="94.275" y2="462.8" stroke="#333" stroke-width="0.4" />
<line x1="72.4" y1="451.71999999999997" x2="73.5" y2="451.71999999999997" stroke="#333" stroke-width="0.4" />
<line x1="95.66" y1="461.2" x2="95.66" y2="462.2" stroke="#333" stroke-width="0.4" />
<line x1="72.4" y1="454.09" x2="73.5" y2="454.09" stroke="#333" stroke-width="0.4" />
<line x1="97.045" y1="461.2" x2="97.045" y2="462.2" stroke="#333" stroke-width="0.4" />
<line x1="72.4" y1="456.46" x2="73.5" y2="456.46" stroke="#333" stroke-width="0.4" />
<line x1="98.43" y1="461.2" x2="98.43" y2="462.2" stroke="#333" stroke-width="0.4" />
<line x1="72.4" y1="458.83" x2="73.5" y2="458.83" stroke="#333" stroke-width="0.4" />
<line x1="99.815" y1="461.2" x2="99.815" y2="462.2" stroke="#333" stroke-width="0.4" />
<line x1="71.9" y1="461.2" x2="73.5" y2="461.2" stroke="#333" stroke-width="0.4" />
<line x1="101.2" y1="461.2" x2="101.2" y2="462.8" stroke="#333" stroke-width="0.4" />
<text x="72.7" y="400.40000000000003" font-size="9.3"  textLength="27.299999999999997" lengthAdjust="spacingAndGlyphs" fill="#000" font-weight="bold"  stroke="#000" stroke-width="0.45">CCR7</text>
<text x="72.7" y="409.8" font-size="9.3"  textLength="26.799999999999997" lengthAdjust="spacingAndGlyphs" fill="#000" font-weight="bold"  stroke="#000" stroke-width="0.45">(28%)</text>
<rect x="126.00" y="413.80" width="27.70" height="47.40" fill="none" stroke="#000" stroke-width="0.8" />
<line x1="126" y1="440.8" x2="153.7" y2="440.8" stroke="#111" stroke-width="0.8" />
<line x1="125.7" y1="413.8" x2="125.7" y2="461.2" stroke="#111" stroke-width="1.0" />
<line x1="124.4" y1="413.8" x2="126" y2="413.8" stroke="#333" stroke-width="0.4" />
<line x1="126.0" y1="461.2" x2="126.0" y2="462.8" stroke="#333" stroke-width="0.4" />
<line x1="124.9" y1="416.17" x2="126" y2="416.17" stroke="#333" stroke-width="0.4" />
<line x1="127.385" y1="461.2" x2="127.385" y2="462.2" stroke="#333" stroke-width="0.4" />
<line x1="124.9" y1="418.54" x2="126" y2="418.54" stroke="#333" stroke-width="0.4" />
<line x1="128.77" y1="461.2" x2="128.77" y2="462.2" stroke="#333" stroke-width="0.4" />
<line x1="124.9" y1="420.91" x2="126" y2="420.91" stroke="#333" stroke-width="0.4" />
<line x1="130.155" y1="461.2" x2="130.155" y2="462.2" stroke="#333" stroke-width="0.4" />
<line x1="124.9" y1="423.28000000000003" x2="126" y2="423.28000000000003" stroke="#333" stroke-width="0.4" />
<line x1="131.54" y1="461.2" x2="131.54" y2="462.2" stroke="#333" stroke-width="0.4" />
<line x1="124.4" y1="425.65" x2="126" y2="425.65" stroke="#333" stroke-width="0.4" />
<line x1="132.925" y1="461.2" x2="132.925" y2="462.8" stroke="#333" stroke-width="0.4" />
<line x1="124.9" y1="428.02" x2="126" y2="428.02" stroke="#333" stroke-width="0.4" />
<line x1="134.31" y1="461.2" x2="134.31" y2="462.2" stroke="#333" stroke-width="0.4" />
<line x1="124.9" y1="430.39" x2="126" y2="430.39" stroke="#333" stroke-width="0.4" />
<line x1="135.695" y1="461.2" x2="135.695" y2="462.2" stroke="#333" stroke-width="0.4" />
<line x1="124.9" y1="432.76" x2="126" y2="432.76" stroke="#333" stroke-width="0.4" />
<line x1="137.08" y1="461.2" x2="137.08" y2="462.2" stroke="#333" stroke-width="0.4" />
<line x1="124.9" y1="435.13" x2="126" y2="435.13" stroke="#333" stroke-width="0.4" />
<line x1="138.465" y1="461.2" x2="138.465" y2="462.2" stroke="#333" stroke-width="0.4" />
<line x1="124.4" y1="437.5" x2="126" y2="437.5" stroke="#333" stroke-width="0.4" />
<line x1="139.85" y1="461.2" x2="139.85" y2="462.8" stroke="#333" stroke-width="0.4" />
<line x1="124.9" y1="439.87" x2="126" y2="439.87" stroke="#333" stroke-width="0.4" />
<line x1="141.235" y1="461.2" x2="141.235" y2="462.2" stroke="#333" stroke-width="0.4" />
<line x1="124.9" y1="442.24" x2="126" y2="442.24" stroke="#333" stroke-width="0.4" />
<line x1="142.62" y1="461.2" x2="142.62" y2="462.2" stroke="#333" stroke-width="0.4" />
<line x1="124.9" y1="444.61" x2="126" y2="444.61" stroke="#333" stroke-width="0.4" />
<line x1="144.005" y1="461.2" x2="144.005" y2="462.2" stroke="#333" stroke-width="0.4" />
<line x1="124.9" y1="446.98" x2="126" y2="446.98" stroke="#333" stroke-width="0.4" />
<line x1="145.39" y1="461.2" x2="145.39" y2="462.2" stroke="#333" stroke-width="0.4" />
<line x1="124.4" y1="449.35" x2="126" y2="449.35" stroke="#333" stroke-width="0.4" />
<line x1="146.775" y1="461.2" x2="146.775" y2="462.8" stroke="#333" stroke-width="0.4" />
<line x1="124.9" y1="451.71999999999997" x2="126" y2="451.71999999999997" stroke="#333" stroke-width="0.4" />
<line x1="148.16" y1="461.2" x2="148.16" y2="462.2" stroke="#333" stroke-width="0.4" />
<line x1="124.9" y1="454.09" x2="126" y2="454.09" stroke="#333" stroke-width="0.4" />
<line x1="149.545" y1="461.2" x2="149.545" y2="462.2" stroke="#333" stroke-width="0.4" />
<line x1="124.9" y1="456.46" x2="126" y2="456.46" stroke="#333" stroke-width="0.4" />
<line x1="150.93" y1="461.2" x2="150.93" y2="462.2" stroke="#333" stroke-width="0.4" />
<line x1="124.9" y1="458.83" x2="126" y2="458.83" stroke="#333" stroke-width="0.4" />
<line x1="152.315" y1="461.2" x2="152.315" y2="462.2" stroke="#333" stroke-width="0.4" />
<line x1="124.4" y1="461.2" x2="126" y2="461.2" stroke="#333" stroke-width="0.4" />
<line x1="153.7" y1="461.2" x2="153.7" y2="462.8" stroke="#333" stroke-width="0.4" />
<text x="125.7" y="400.40000000000003" font-size="9.3"  textLength="26.299999999999997" lengthAdjust="spacingAndGlyphs" fill="#000" font-weight="bold"  stroke="#000" stroke-width="0.45">CCR9</text>
<text x="123.8" y="409.8" font-size="9.3"  textLength="29.200000000000003" lengthAdjust="spacingAndGlyphs" fill="#000" font-weight="bold"  stroke="#000" stroke-width="0.45">(3.6%)</text>
<rect x="178.00" y="413.80" width="27.70" height="47.40" fill="none" stroke="#000" stroke-width="0.8" />
<line x1="178" y1="440.8" x2="205.7" y2="440.8" stroke="#111" stroke-width="0.8" />
<line x1="177.7" y1="413.8" x2="177.7" y2="461.2" stroke="#111" stroke-width="1.0" />
<line x1="176.4" y1="413.8" x2="178" y2="413.8" stroke="#333" stroke-width="0.4" />
<line x1="178.0" y1="461.2" x2="178.0" y2="462.8" stroke="#333" stroke-width="0.4" />
<line x1="176.9" y1="416.17" x2="178" y2="416.17" stroke="#333" stroke-width="0.4" />
<line x1="179.385" y1="461.2" x2="179.385" y2="462.2" stroke="#333" stroke-width="0.4" />
<line x1="176.9" y1="418.54" x2="178" y2="418.54" stroke="#333" stroke-width="0.4" />
<line x1="180.77" y1="461.2" x2="180.77" y2="462.2" stroke="#333" stroke-width="0.4" />
<line x1="176.9" y1="420.91" x2="178" y2="420.91" stroke="#333" stroke-width="0.4" />
<line x1="182.155" y1="461.2" x2="182.155" y2="462.2" stroke="#333" stroke-width="0.4" />
<line x1="176.9" y1="423.28000000000003" x2="178" y2="423.28000000000003" stroke="#333" stroke-width="0.4" />
<line x1="183.54" y1="461.2" x2="183.54" y2="462.2" stroke="#333" stroke-width="0.4" />
<line x1="176.4" y1="425.65" x2="178" y2="425.65" stroke="#333" stroke-width="0.4" />
<line x1="184.925" y1="461.2" x2="184.925" y2="462.8" stroke="#333" stroke-width="0.4" />
<line x1="176.9" y1="428.02" x2="178" y2="428.02" stroke="#333" stroke-width="0.4" />
<line x1="186.31" y1="461.2" x2="186.31" y2="462.2" stroke="#333" stroke-width="0.4" />
<line x1="176.9" y1="430.39" x2="178" y2="430.39" stroke="#333" stroke-width="0.4" />
<line x1="187.695" y1="461.2" x2="187.695" y2="462.2" stroke="#333" stroke-width="0.4" />
<line x1="176.9" y1="432.76" x2="178" y2="432.76" stroke="#333" stroke-width="0.4" />
<line x1="189.08" y1="461.2" x2="189.08" y2="462.2" stroke="#333" stroke-width="0.4" />
<line x1="176.9" y1="435.13" x2="178" y2="435.13" stroke="#333" stroke-width="0.4" />
<line x1="190.465" y1="461.2" x2="190.465" y2="462.2" stroke="#333" stroke-width="0.4" />
<line x1="176.4" y1="437.5" x2="178" y2="437.5" stroke="#333" stroke-width="0.4" />
<line x1="191.85" y1="461.2" x2="191.85" y2="462.8" stroke="#333" stroke-width="0.4" />
<line x1="176.9" y1="439.87" x2="178" y2="439.87" stroke="#333" stroke-width="0.4" />
<line x1="193.235" y1="461.2" x2="193.235" y2="462.2" stroke="#333" stroke-width="0.4" />
<line x1="176.9" y1="442.24" x2="178" y2="442.24" stroke="#333" stroke-width="0.4" />
<line x1="194.62" y1="461.2" x2="194.62" y2="462.2" stroke="#333" stroke-width="0.4" />
<line x1="176.9" y1="444.61" x2="178" y2="444.61" stroke="#333" stroke-width="0.4" />
<line x1="196.005" y1="461.2" x2="196.005" y2="462.2" stroke="#333" stroke-width="0.4" />
<line x1="176.9" y1="446.98" x2="178" y2="446.98" stroke="#333" stroke-width="0.4" />
<line x1="197.39" y1="461.2" x2="197.39" y2="462.2" stroke="#333" stroke-width="0.4" />
<line x1="176.4" y1="449.35" x2="178" y2="449.35" stroke="#333" stroke-width="0.4" />
<line x1="198.775" y1="461.2" x2="198.775" y2="462.8" stroke="#333" stroke-width="0.4" />
<line x1="176.9" y1="451.71999999999997" x2="178" y2="451.71999999999997" stroke="#333" stroke-width="0.4" />
<line x1="200.16" y1="461.2" x2="200.16" y2="462.2" stroke="#333" stroke-width="0.4" />
<line x1="176.9" y1="454.09" x2="178" y2="454.09" stroke="#333" stroke-width="0.4" />
<line x1="201.545" y1="461.2" x2="201.545" y2="462.2" stroke="#333" stroke-width="0.4" />
<line x1="176.9" y1="456.46" x2="178" y2="456.46" stroke="#333" stroke-width="0.4" />
<line x1="202.93" y1="461.2" x2="202.93" y2="462.2" stroke="#333" stroke-width="0.4" />
<line x1="176.9" y1="458.83" x2="178" y2="458.83" stroke="#333" stroke-width="0.4" />
<line x1="204.315" y1="461.2" x2="204.315" y2="462.2" stroke="#333" stroke-width="0.4" />
<line x1="176.4" y1="461.2" x2="178" y2="461.2" stroke="#333" stroke-width="0.4" />
<line x1="205.7" y1="461.2" x2="205.7" y2="462.8" stroke="#333" stroke-width="0.4" />
<text x="175.5" y="400.40000000000003" font-size="9.3"  textLength="32.5" lengthAdjust="spacingAndGlyphs" fill="#000" font-weight="bold"  stroke="#000" stroke-width="0.45">CXCR3</text>
<text x="178.8" y="409.8" font-size="9.3"  textLength="25.69999999999999" lengthAdjust="spacingAndGlyphs" fill="#000" font-weight="bold"  stroke="#000" stroke-width="0.45">(68%)</text>
<rect x="230.50" y="413.80" width="27.70" height="47.40" fill="none" stroke="#000" stroke-width="0.8" />
<line x1="230.5" y1="440.8" x2="258.2" y2="440.8" stroke="#111" stroke-width="0.8" />
<line x1="230.2" y1="413.8" x2="230.2" y2="461.2" stroke="#111" stroke-width="1.0" />
<line x1="228.9" y1="413.8" x2="230.5" y2="413.8" stroke="#333" stroke-width="0.4" />
<line x1="230.5" y1="461.2" x2="230.5" y2="462.8" stroke="#333" stroke-width="0.4" />
<line x1="229.4" y1="416.17" x2="230.5" y2="416.17" stroke="#333" stroke-width="0.4" />
<line x1="231.885" y1="461.2" x2="231.885" y2="462.2" stroke="#333" stroke-width="0.4" />
<line x1="229.4" y1="418.54" x2="230.5" y2="418.54" stroke="#333" stroke-width="0.4" />
<line x1="233.27" y1="461.2" x2="233.27" y2="462.2" stroke="#333" stroke-width="0.4" />
<line x1="229.4" y1="420.91" x2="230.5" y2="420.91" stroke="#333" stroke-width="0.4" />
<line x1="234.655" y1="461.2" x2="234.655" y2="462.2" stroke="#333" stroke-width="0.4" />
<line x1="229.4" y1="423.28000000000003" x2="230.5" y2="423.28000000000003" stroke="#333" stroke-width="0.4" />
<line x1="236.04" y1="461.2" x2="236.04" y2="462.2" stroke="#333" stroke-width="0.4" />
<line x1="228.9" y1="425.65" x2="230.5" y2="425.65" stroke="#333" stroke-width="0.4" />
<line x1="237.425" y1="461.2" x2="237.425" y2="462.8" stroke="#333" stroke-width="0.4" />
<line x1="229.4" y1="428.02" x2="230.5" y2="428.02" stroke="#333" stroke-width="0.4" />
<line x1="238.81" y1="461.2" x2="238.81" y2="462.2" stroke="#333" stroke-width="0.4" />
<line x1="229.4" y1="430.39" x2="230.5" y2="430.39" stroke="#333" stroke-width="0.4" />
<line x1="240.195" y1="461.2" x2="240.195" y2="462.2" stroke="#333" stroke-width="0.4" />
<line x1="229.4" y1="432.76" x2="230.5" y2="432.76" stroke="#333" stroke-width="0.4" />
<line x1="241.58" y1="461.2" x2="241.58" y2="462.2" stroke="#333" stroke-width="0.4" />
<line x1="229.4" y1="435.13" x2="230.5" y2="435.13" stroke="#333" stroke-width="0.4" />
<line x1="242.965" y1="461.2" x2="242.965" y2="462.2" stroke="#333" stroke-width="0.4" />
<line x1="228.9" y1="437.5" x2="230.5" y2="437.5" stroke="#333" stroke-width="0.4" />
<line x1="244.35" y1="461.2" x2="244.35" y2="462.8" stroke="#333" stroke-width="0.4" />
<line x1="229.4" y1="439.87" x2="230.5" y2="439.87" stroke="#333" stroke-width="0.4" />
<line x1="245.735" y1="461.2" x2="245.735" y2="462.2" stroke="#333" stroke-width="0.4" />
<line x1="229.4" y1="442.24" x2="230.5" y2="442.24" stroke="#333" stroke-width="0.4" />
<line x1="247.12" y1="461.2" x2="247.12" y2="462.2" stroke="#333" stroke-width="0.4" />
<line x1="229.4" y1="444.61" x2="230.5" y2="444.61" stroke="#333" stroke-width="0.4" />
<line x1="248.505" y1="461.2" x2="248.505" y2="462.2" stroke="#333" stroke-width="0.4" />
<line x1="229.4" y1="446.98" x2="230.5" y2="446.98" stroke="#333" stroke-width="0.4" />
<line x1="249.89" y1="461.2" x2="249.89" y2="462.2" stroke="#333" stroke-width="0.4" />
<line x1="228.9" y1="449.35" x2="230.5" y2="449.35" stroke="#333" stroke-width="0.4" />
<line x1="251.275" y1="461.2" x2="251.275" y2="462.8" stroke="#333" stroke-width="0.4" />
<line x1="229.4" y1="451.71999999999997" x2="230.5" y2="451.71999999999997" stroke="#333" stroke-width="0.4" />
<line x1="252.66" y1="461.2" x2="252.66" y2="462.2" stroke="#333" stroke-width="0.4" />
<line x1="229.4" y1="454.09" x2="230.5" y2="454.09" stroke="#333" stroke-width="0.4" />
<line x1="254.045" y1="461.2" x2="254.045" y2="462.2" stroke="#333" stroke-width="0.4" />
<line x1="229.4" y1="456.46" x2="230.5" y2="456.46" stroke="#333" stroke-width="0.4" />
<line x1="255.43" y1="461.2" x2="255.43" y2="462.2" stroke="#333" stroke-width="0.4" />
<line x1="229.4" y1="458.83" x2="230.5" y2="458.83" stroke="#333" stroke-width="0.4" />
<line x1="256.815" y1="461.2" x2="256.815" y2="462.2" stroke="#333" stroke-width="0.4" />
<line x1="228.9" y1="461.2" x2="230.5" y2="461.2" stroke="#333" stroke-width="0.4" />
<line x1="258.2" y1="461.2" x2="258.2" y2="462.8" stroke="#333" stroke-width="0.4" />
<text x="227.7" y="400.40000000000003" font-size="9.3"  textLength="33.5" lengthAdjust="spacingAndGlyphs" fill="#000" font-weight="bold"  stroke="#000" stroke-width="0.45">CXCR4</text>
<text x="232" y="409.8" font-size="9.3"  textLength="25.5" lengthAdjust="spacingAndGlyphs" fill="#000" font-weight="bold"  stroke="#000" stroke-width="0.45">(96%)</text>
<rect x="282.70" y="413.80" width="27.70" height="47.40" fill="none" stroke="#000" stroke-width="0.8" />
<line x1="282.7" y1="440.8" x2="310.4" y2="440.8" stroke="#111" stroke-width="0.8" />
<line x1="282.4" y1="413.8" x2="282.4" y2="461.2" stroke="#111" stroke-width="1.0" />
<line x1="281.09999999999997" y1="413.8" x2="282.7" y2="413.8" stroke="#333" stroke-width="0.4" />
<line x1="282.7" y1="461.2" x2="282.7" y2="462.8" stroke="#333" stroke-width="0.4" />
<line x1="281.59999999999997" y1="416.17" x2="282.7" y2="416.17" stroke="#333" stroke-width="0.4" />
<line x1="284.085" y1="461.2" x2="284.085" y2="462.2" stroke="#333" stroke-width="0.4" />
<line x1="281.59999999999997" y1="418.54" x2="282.7" y2="418.54" stroke="#333" stroke-width="0.4" />
<line x1="285.46999999999997" y1="461.2" x2="285.46999999999997" y2="462.2" stroke="#333" stroke-width="0.4" />
<line x1="281.59999999999997" y1="420.91" x2="282.7" y2="420.91" stroke="#333" stroke-width="0.4" />
<line x1="286.85499999999996" y1="461.2" x2="286.85499999999996" y2="462.2" stroke="#333" stroke-width="0.4" />
<line x1="281.59999999999997" y1="423.28000000000003" x2="282.7" y2="423.28000000000003" stroke="#333" stroke-width="0.4" />
<line x1="288.24" y1="461.2" x2="288.24" y2="462.2" stroke="#333" stroke-width="0.4" />
<line x1="281.09999999999997" y1="425.65" x2="282.7" y2="425.65" stroke="#333" stroke-width="0.4" />
<line x1="289.625" y1="461.2" x2="289.625" y2="462.8" stroke="#333" stroke-width="0.4" />
<line x1="281.59999999999997" y1="428.02" x2="282.7" y2="428.02" stroke="#333" stroke-width="0.4" />
<line x1="291.01" y1="461.2" x2="291.01" y2="462.2" stroke="#333" stroke-width="0.4" />
<line x1="281.59999999999997" y1="430.39" x2="282.7" y2="430.39" stroke="#333" stroke-width="0.4" />
<line x1="292.395" y1="461.2" x2="292.395" y2="462.2" stroke="#333" stroke-width="0.4" />
<line x1="281.59999999999997" y1="432.76" x2="282.7" y2="432.76" stroke="#333" stroke-width="0.4" />
<line x1="293.78" y1="461.2" x2="293.78" y2="462.2" stroke="#333" stroke-width="0.4" />
<line x1="281.59999999999997" y1="435.13" x2="282.7" y2="435.13" stroke="#333" stroke-width="0.4" />
<line x1="295.16499999999996" y1="461.2" x2="295.16499999999996" y2="462.2" stroke="#333" stroke-width="0.4" />
<line x1="281.09999999999997" y1="437.5" x2="282.7" y2="437.5" stroke="#333" stroke-width="0.4" />
<line x1="296.55" y1="461.2" x2="296.55" y2="462.8" stroke="#333" stroke-width="0.4" />
<line x1="281.59999999999997" y1="439.87" x2="282.7" y2="439.87" stroke="#333" stroke-width="0.4" />
<line x1="297.935" y1="461.2" x2="297.935" y2="462.2" stroke="#333" stroke-width="0.4" />
<line x1="281.59999999999997" y1="442.24" x2="282.7" y2="442.24" stroke="#333" stroke-width="0.4" />
<line x1="299.32" y1="461.2" x2="299.32" y2="462.2" stroke="#333" stroke-width="0.4" />
<line x1="281.59999999999997" y1="444.61" x2="282.7" y2="444.61" stroke="#333" stroke-width="0.4" />
<line x1="300.705" y1="461.2" x2="300.705" y2="462.2" stroke="#333" stroke-width="0.4" />
<line x1="281.59999999999997" y1="446.98" x2="282.7" y2="446.98" stroke="#333" stroke-width="0.4" />
<line x1="302.09" y1="461.2" x2="302.09" y2="462.2" stroke="#333" stroke-width="0.4" />
<line x1="281.09999999999997" y1="449.35" x2="282.7" y2="449.35" stroke="#333" stroke-width="0.4" />
<line x1="303.47499999999997" y1="461.2" x2="303.47499999999997" y2="462.8" stroke="#333" stroke-width="0.4" />
<line x1="281.59999999999997" y1="451.71999999999997" x2="282.7" y2="451.71999999999997" stroke="#333" stroke-width="0.4" />
<line x1="304.86" y1="461.2" x2="304.86" y2="462.2" stroke="#333" stroke-width="0.4" />
<line x1="281.59999999999997" y1="454.09" x2="282.7" y2="454.09" stroke="#333" stroke-width="0.4" />
<line x1="306.245" y1="461.2" x2="306.245" y2="462.2" stroke="#333" stroke-width="0.4" />
<line x1="281.59999999999997" y1="456.46" x2="282.7" y2="456.46" stroke="#333" stroke-width="0.4" />
<line x1="307.63" y1="461.2" x2="307.63" y2="462.2" stroke="#333" stroke-width="0.4" />
<line x1="281.59999999999997" y1="458.83" x2="282.7" y2="458.83" stroke="#333" stroke-width="0.4" />
<line x1="309.015" y1="461.2" x2="309.015" y2="462.2" stroke="#333" stroke-width="0.4" />
<line x1="281.09999999999997" y1="461.2" x2="282.7" y2="461.2" stroke="#333" stroke-width="0.4" />
<line x1="310.4" y1="461.2" x2="310.4" y2="462.8" stroke="#333" stroke-width="0.4" />
<text x="279" y="400.40000000000003" font-size="9.3"  textLength="33" lengthAdjust="spacingAndGlyphs" fill="#000" font-weight="bold"  stroke="#000" stroke-width="0.45">CXCR5</text>
<text x="281.3" y="409.8" font-size="9.3"  textLength="28.19999999999999" lengthAdjust="spacingAndGlyphs" fill="#000" font-weight="bold"  stroke="#000" stroke-width="0.45">(2.1%)</text>
<rect x="335.60" y="413.80" width="27.70" height="47.40" fill="none" stroke="#000" stroke-width="0.8" />
<line x1="335.6" y1="440.8" x2="363.3" y2="440.8" stroke="#111" stroke-width="0.8" />
<line x1="335.3" y1="413.8" x2="335.3" y2="461.2" stroke="#111" stroke-width="1.0" />
<line x1="334.0" y1="413.8" x2="335.6" y2="413.8" stroke="#333" stroke-width="0.4" />
<line x1="335.6" y1="461.2" x2="335.6" y2="462.8" stroke="#333" stroke-width="0.4" />
<line x1="334.5" y1="416.17" x2="335.6" y2="416.17" stroke="#333" stroke-width="0.4" />
<line x1="336.985" y1="461.2" x2="336.985" y2="462.2" stroke="#333" stroke-width="0.4" />
<line x1="334.5" y1="418.54" x2="335.6" y2="418.54" stroke="#333" stroke-width="0.4" />
<line x1="338.37" y1="461.2" x2="338.37" y2="462.2" stroke="#333" stroke-width="0.4" />
<line x1="334.5" y1="420.91" x2="335.6" y2="420.91" stroke="#333" stroke-width="0.4" />
<line x1="339.755" y1="461.2" x2="339.755" y2="462.2" stroke="#333" stroke-width="0.4" />
<line x1="334.5" y1="423.28000000000003" x2="335.6" y2="423.28000000000003" stroke="#333" stroke-width="0.4" />
<line x1="341.14000000000004" y1="461.2" x2="341.14000000000004" y2="462.2" stroke="#333" stroke-width="0.4" />
<line x1="334.0" y1="425.65" x2="335.6" y2="425.65" stroke="#333" stroke-width="0.4" />
<line x1="342.52500000000003" y1="461.2" x2="342.52500000000003" y2="462.8" stroke="#333" stroke-width="0.4" />
<line x1="334.5" y1="428.02" x2="335.6" y2="428.02" stroke="#333" stroke-width="0.4" />
<line x1="343.91" y1="461.2" x2="343.91" y2="462.2" stroke="#333" stroke-width="0.4" />
<line x1="334.5" y1="430.39" x2="335.6" y2="430.39" stroke="#333" stroke-width="0.4" />
<line x1="345.295" y1="461.2" x2="345.295" y2="462.2" stroke="#333" stroke-width="0.4" />
<line x1="334.5" y1="432.76" x2="335.6" y2="432.76" stroke="#333" stroke-width="0.4" />
<line x1="346.68" y1="461.2" x2="346.68" y2="462.2" stroke="#333" stroke-width="0.4" />
<line x1="334.5" y1="435.13" x2="335.6" y2="435.13" stroke="#333" stroke-width="0.4" />
<line x1="348.065" y1="461.2" x2="348.065" y2="462.2" stroke="#333" stroke-width="0.4" />
<line x1="334.0" y1="437.5" x2="335.6" y2="437.5" stroke="#333" stroke-width="0.4" />
<line x1="349.45000000000005" y1="461.2" x2="349.45000000000005" y2="462.8" stroke="#333" stroke-width="0.4" />
<line x1="334.5" y1="439.87" x2="335.6" y2="439.87" stroke="#333" stroke-width="0.4" />
<line x1="350.83500000000004" y1="461.2" x2="350.83500000000004" y2="462.2" stroke="#333" stroke-width="0.4" />
<line x1="334.5" y1="442.24" x2="335.6" y2="442.24" stroke="#333" stroke-width="0.4" />
<line x1="352.22" y1="461.2" x2="352.22" y2="462.2" stroke="#333" stroke-width="0.4" />
<line x1="334.5" y1="444.61" x2="335.6" y2="444.61" stroke="#333" stroke-width="0.4" />
<line x1="353.605" y1="461.2" x2="353.605" y2="462.2" stroke="#333" stroke-width="0.4" />
<line x1="334.5" y1="446.98" x2="335.6" y2="446.98" stroke="#333" stroke-width="0.4" />
<line x1="354.99" y1="461.2" x2="354.99" y2="462.2" stroke="#333" stroke-width="0.4" />
<line x1="334.0" y1="449.35" x2="335.6" y2="449.35" stroke="#333" stroke-width="0.4" />
<line x1="356.375" y1="461.2" x2="356.375" y2="462.8" stroke="#333" stroke-width="0.4" />
<line x1="334.5" y1="451.71999999999997" x2="335.6" y2="451.71999999999997" stroke="#333" stroke-width="0.4" />
<line x1="357.76000000000005" y1="461.2" x2="357.76000000000005" y2="462.2" stroke="#333" stroke-width="0.4" />
<line x1="334.5" y1="454.09" x2="335.6" y2="454.09" stroke="#333" stroke-width="0.4" />
<line x1="359.14500000000004" y1="461.2" x2="359.14500000000004" y2="462.2" stroke="#333" stroke-width="0.4" />
<line x1="334.5" y1="456.46" x2="335.6" y2="456.46" stroke="#333" stroke-width="0.4" />
<line x1="360.53000000000003" y1="461.2" x2="360.53000000000003" y2="462.2" stroke="#333" stroke-width="0.4" />
<line x1="334.5" y1="458.83" x2="335.6" y2="458.83" stroke="#333" stroke-width="0.4" />
<line x1="361.915" y1="461.2" x2="361.915" y2="462.2" stroke="#333" stroke-width="0.4" />
<line x1="334.0" y1="461.2" x2="335.6" y2="461.2" stroke="#333" stroke-width="0.4" />
<line x1="363.3" y1="461.2" x2="363.3" y2="462.8" stroke="#333" stroke-width="0.4" />
<text x="333.8" y="400.40000000000003" font-size="9.3"  textLength="33.19999999999999" lengthAdjust="spacingAndGlyphs" fill="#000" font-weight="bold"  stroke="#000" stroke-width="0.45">CXCR6</text>
<text x="337" y="409.8" font-size="9.3"  textLength="25.69999999999999" lengthAdjust="spacingAndGlyphs" fill="#000" font-weight="bold"  stroke="#000" stroke-width="0.45">(69%)</text>
<path d="M32.5 384.1h0.95v0.95h-0.95zM32.3 382.9h0.95v0.95h-0.95zM32.1 383.8h0.95v0.95h-0.95zM32.9 386.0h0.95v0.95h-0.95zM33.6 381.2h0.95v0.95h-0.95zM32.8 382.7h0.95v0.95h-0.95zM33.0 378.0h0.95v0.95h-0.95zM33.4 372.5h0.95v0.95h-0.95zM33.4 376.1h0.95v0.95h-0.95zM33.8 381.7h0.95v0.95h-0.95zM32.6 378.9h0.95v0.95h-0.95zM33.1 384.0h0.95v0.95h-0.95zM32.9 387.2h0.95v0.95h-0.95zM32.6 384.0h0.95v0.95h-0.95zM31.9 374.3h0.95v0.95h-0.95zM32.9 382.0h0.95v0.95h-0.95zM34.3 379.9h0.95v0.95h-0.95zM33.2 376.9h0.95v0.95h-0.95zM33.0 383.0h0.95v0.95h-0.95zM32.7 384.7h0.95v0.95h-0.95zM34.0 383.2h0.95v0.95h-0.95zM33.0 380.4h0.95v0.95h-0.95zM33.4 377.6h0.95v0.95h-0.95zM33.7 379.1h0.95v0.95h-0.95zM33.2 377.3h0.95v0.95h-0.95zM32.4 378.3h0.95v0.95h-0.95zM33.4 381.3h0.95v0.95h-0.95zM33.1 384.6h0.95v0.95h-0.95zM32.4 384.2h0.95v0.95h-0.95zM32.6 378.0h0.95v0.95h-0.95zM32.6 384.8h0.95v0.95h-0.95zM34.2 379.2h0.95v0.95h-0.95zM32.3 375.7h0.95v0.95h-0.95zM33.0 382.6h0.95v0.95h-0.95zM33.3 382.0h0.95v0.95h-0.95zM34.0 381.3h0.95v0.95h-0.95zM33.3 380.2h0.95v0.95h-0.95zM32.4 373.3h0.95v0.95h-0.95zM33.0 379.0h0.95v0.95h-0.95zM32.7 378.9h0.95v0.95h-0.95zM33.0 381.5h0.95v0.95h-0.95zM31.5 379.8h0.95v0.95h-0.95zM33.3 382.2h0.95v0.95h-0.95zM32.9 381.6h0.95v0.95h-0.95zM31.9 382.3h0.95v0.95h-0.95zM32.8 381.2h0.95v0.95h-0.95zM33.5 381.4h0.95v0.95h-0.95zM32.2 374.1h0.95v0.95h-0.95zM32.7 381.0h0.95v0.95h-0.95zM33.2 384.5h0.95v0.95h-0.95zM33.3 382.1h0.95v0.95h-0.95zM31.8 383.7h0.95v0.95h-0.95zM33.5 378.4h0.95v0.95h-0.95zM33.1 383.2h0.95v0.95h-0.95zM32.4 375.3h0.95v0.95h-0.95z" fill="#000" fill-opacity="1"/>
<path d="M33.4 375.4h0.7v0.7h-0.7zM32.8 378.5h0.7v0.7h-0.7zM32.7 381.9h0.7v0.7h-0.7zM33.3 379.4h0.7v0.7h-0.7zM33.8 377.8h0.7v0.7h-0.7zM31.9 378.0h0.7v0.7h-0.7zM31.8 379.2h0.7v0.7h-0.7zM32.0 377.9h0.7v0.7h-0.7zM34.1 381.4h0.7v0.7h-0.7zM32.3 371.0h0.7v0.7h-0.7zM32.6 383.1h0.7v0.7h-0.7zM33.5 370.4h0.7v0.7h-0.7zM33.8 379.5h0.7v0.7h-0.7zM33.7 384.9h0.7v0.7h-0.7zM32.3 380.9h0.7v0.7h-0.7z" fill="#000" fill-opacity="0.6"/>
<path d="M86.3 362.8h0.95v0.95h-0.95zM86.0 354.2h0.95v0.95h-0.95zM86.3 362.5h0.95v0.95h-0.95zM86.0 358.2h0.95v0.95h-0.95zM86.3 358.6h0.95v0.95h-0.95zM85.9 357.6h0.95v0.95h-0.95zM87.2 357.5h0.95v0.95h-0.95zM86.3 363.1h0.95v0.95h-0.95zM87.0 353.3h0.95v0.95h-0.95zM85.7 354.7h0.95v0.95h-0.95zM86.1 351.2h0.95v0.95h-0.95zM85.2 358.6h0.95v0.95h-0.95zM86.4 355.0h0.95v0.95h-0.95zM86.4 363.5h0.95v0.95h-0.95zM85.6 363.5h0.95v0.95h-0.95zM86.2 351.4h0.95v0.95h-0.95zM86.3 359.5h0.95v0.95h-0.95zM87.2 356.6h0.95v0.95h-0.95zM87.5 358.9h0.95v0.95h-0.95zM86.6 358.4h0.95v0.95h-0.95zM86.6 363.4h0.95v0.95h-0.95zM86.2 357.3h0.95v0.95h-0.95zM86.7 358.2h0.95v0.95h-0.95zM86.4 362.6h0.95v0.95h-0.95zM86.3 360.4h0.95v0.95h-0.95zM86.4 359.4h0.95v0.95h-0.95zM86.8 363.3h0.95v0.95h-0.95zM86.4 353.1h0.95v0.95h-0.95zM85.2 361.9h0.95v0.95h-0.95zM87.2 363.6h0.95v0.95h-0.95zM85.9 360.0h0.95v0.95h-0.95zM85.9 360.5h0.95v0.95h-0.95zM86.2 355.6h0.95v0.95h-0.95zM86.7 359.2h0.95v0.95h-0.95zM87.7 363.2h0.95v0.95h-0.95zM85.2 362.2h0.95v0.95h-0.95zM85.6 357.0h0.95v0.95h-0.95zM86.1 354.6h0.95v0.95h-0.95zM88.4 362.0h0.95v0.95h-0.95zM85.6 363.1h0.95v0.95h-0.95zM84.6 363.5h0.95v0.95h-0.95zM86.3 360.0h0.95v0.95h-0.95zM86.9 359.9h0.95v0.95h-0.95zM86.6 355.9h0.95v0.95h-0.95zM86.6 358.2h0.95v0.95h-0.95z" fill="#000" fill-opacity="1"/>
<path d="M86.5 371.0h0.7v0.7h-0.7zM86.4 368.5h0.7v0.7h-0.7zM85.0 366.5h0.7v0.7h-0.7zM86.8 370.5h0.7v0.7h-0.7zM86.1 369.8h0.7v0.7h-0.7zM86.8 366.3h0.7v0.7h-0.7zM83.9 367.1h0.7v0.7h-0.7zM85.6 382.2h0.7v0.7h-0.7zM85.4 368.5h0.7v0.7h-0.7zM86.5 378.7h0.7v0.7h-0.7zM85.8 382.7h0.7v0.7h-0.7zM85.7 373.8h0.7v0.7h-0.7zM85.3 355.1h0.7v0.7h-0.7zM85.5 367.5h0.7v0.7h-0.7zM84.8 376.4h0.7v0.7h-0.7zM87.3 378.6h0.7v0.7h-0.7zM86.5 368.1h0.7v0.7h-0.7zM85.6 382.9h0.7v0.7h-0.7zM87.3 367.9h0.7v0.7h-0.7zM86.4 372.5h0.7v0.7h-0.7zM86.6 366.8h0.7v0.7h-0.7zM86.8 369.4h0.7v0.7h-0.7zM86.3 367.2h0.7v0.7h-0.7zM86.9 370.0h0.7v0.7h-0.7zM86.5 372.1h0.7v0.7h-0.7zM86.7 376.1h0.7v0.7h-0.7zM88.1 366.4h0.7v0.7h-0.7zM86.7 368.4h0.7v0.7h-0.7zM86.2 358.9h0.7v0.7h-0.7zM87.0 353.6h0.7v0.7h-0.7z" fill="#000" fill-opacity="0.5"/>
<path d="M86.2 377.6h0.7v0.7h-0.7zM85.3 383.7h0.7v0.7h-0.7zM84.9 383.2h0.7v0.7h-0.7zM85.5 380.2h0.7v0.7h-0.7zM85.9 386.6h0.7v0.7h-0.7zM85.8 382.3h0.7v0.7h-0.7zM85.7 382.0h0.7v0.7h-0.7zM86.6 384.9h0.7v0.7h-0.7zM85.5 383.4h0.7v0.7h-0.7zM84.7 382.0h0.7v0.7h-0.7zM85.8 382.0h0.7v0.7h-0.7zM85.5 385.1h0.7v0.7h-0.7z" fill="#000" fill-opacity="0.5"/>
<path d="M139.5 355.6h0.95v0.95h-0.95zM136.7 354.2h0.95v0.95h-0.95zM138.2 351.9h0.95v0.95h-0.95zM138.9 355.4h0.95v0.95h-0.95zM137.1 358.3h0.95v0.95h-0.95zM139.3 353.2h0.95v0.95h-0.95zM137.9 349.5h0.95v0.95h-0.95zM140.2 351.2h0.95v0.95h-0.95zM138.5 352.5h0.95v0.95h-0.95zM138.6 360.6h0.95v0.95h-0.95zM140.4 350.2h0.95v0.95h-0.95zM138.0 358.0h0.95v0.95h-0.95zM139.0 350.6h0.95v0.95h-0.95zM138.3 356.4h0.95v0.95h-0.95zM138.6 353.4h0.95v0.95h-0.95zM142.2 355.0h0.95v0.95h-0.95zM138.0 355.2h0.95v0.95h-0.95zM137.9 351.5h0.95v0.95h-0.95zM138.4 350.0h0.95v0.95h-0.95zM139.1 353.6h0.95v0.95h-0.95zM138.7 356.3h0.95v0.95h-0.95zM139.9 353.2h0.95v0.95h-0.95zM140.0 357.7h0.95v0.95h-0.95zM138.4 356.4h0.95v0.95h-0.95zM137.8 350.0h0.95v0.95h-0.95zM138.8 356.6h0.95v0.95h-0.95zM140.9 353.9h0.95v0.95h-0.95zM140.0 349.6h0.95v0.95h-0.95zM139.2 357.5h0.95v0.95h-0.95zM138.3 354.2h0.95v0.95h-0.95zM139.2 359.4h0.95v0.95h-0.95zM137.9 351.0h0.95v0.95h-0.95zM139.6 356.5h0.95v0.95h-0.95zM139.3 352.3h0.95v0.95h-0.95zM139.0 360.5h0.95v0.95h-0.95zM138.7 356.8h0.95v0.95h-0.95zM140.1 351.1h0.95v0.95h-0.95zM138.5 356.0h0.95v0.95h-0.95zM138.8 354.4h0.95v0.95h-0.95zM138.3 353.2h0.95v0.95h-0.95zM138.7 359.1h0.95v0.95h-0.95zM139.1 354.3h0.95v0.95h-0.95zM140.0 354.9h0.95v0.95h-0.95zM138.8 355.9h0.95v0.95h-0.95zM137.4 352.9h0.95v0.95h-0.95zM139.1 353.3h0.95v0.95h-0.95zM138.7 353.9h0.95v0.95h-0.95zM138.0 357.0h0.95v0.95h-0.95zM138.3 356.2h0.95v0.95h-0.95zM137.9 361.4h0.95v0.95h-0.95zM139.5 347.7h0.95v0.95h-0.95zM137.4 349.3h0.95v0.95h-0.95zM138.6 352.5h0.95v0.95h-0.95zM140.3 358.9h0.95v0.95h-0.95zM137.4 351.9h0.95v0.95h-0.95zM137.0 351.2h0.95v0.95h-0.95zM139.0 355.2h0.95v0.95h-0.95zM139.1 358.3h0.95v0.95h-0.95zM137.9 351.4h0.95v0.95h-0.95zM139.1 356.5h0.95v0.95h-0.95zM138.7 354.8h0.95v0.95h-0.95zM140.3 352.0h0.95v0.95h-0.95zM139.0 350.7h0.95v0.95h-0.95zM139.7 348.8h0.95v0.95h-0.95zM139.0 360.9h0.95v0.95h-0.95zM138.9 352.5h0.95v0.95h-0.95zM139.1 354.3h0.95v0.95h-0.95zM138.5 352.0h0.95v0.95h-0.95zM138.9 354.1h0.95v0.95h-0.95zM138.1 354.5h0.95v0.95h-0.95z" fill="#000" fill-opacity="1"/>
<path d="M138.0 369.8h0.6v0.6h-0.6zM138.1 360.0h0.6v0.6h-0.6zM136.9 386.3h0.6v0.6h-0.6zM137.7 365.8h0.6v0.6h-0.6zM138.6 379.6h0.6v0.6h-0.6zM138.3 363.9h0.6v0.6h-0.6zM139.1 377.9h0.6v0.6h-0.6zM138.1 372.3h0.6v0.6h-0.6zM138.8 363.0h0.6v0.6h-0.6zM138.6 359.1h0.6v0.6h-0.6zM138.8 382.7h0.6v0.6h-0.6zM139.5 376.9h0.6v0.6h-0.6zM138.1 371.1h0.6v0.6h-0.6zM137.9 371.3h0.6v0.6h-0.6z" fill="#000" fill-opacity="0.4"/>
<path d="M189.2 373.4h0.95v0.95h-0.95zM190.4 380.4h0.95v0.95h-0.95zM189.6 379.2h0.95v0.95h-0.95zM190.8 380.2h0.95v0.95h-0.95zM190.9 383.2h0.95v0.95h-0.95zM189.6 386.7h0.95v0.95h-0.95zM191.0 378.7h0.95v0.95h-0.95zM190.4 378.1h0.95v0.95h-0.95zM190.2 384.9h0.95v0.95h-0.95zM190.0 378.9h0.95v0.95h-0.95zM190.7 378.4h0.95v0.95h-0.95zM190.3 385.3h0.95v0.95h-0.95zM190.7 379.3h0.95v0.95h-0.95zM190.0 385.0h0.95v0.95h-0.95zM191.5 379.8h0.95v0.95h-0.95zM190.2 379.1h0.95v0.95h-0.95zM189.5 378.4h0.95v0.95h-0.95zM190.0 385.2h0.95v0.95h-0.95zM191.1 387.5h0.95v0.95h-0.95zM189.8 377.5h0.95v0.95h-0.95zM190.8 376.6h0.95v0.95h-0.95zM189.8 385.2h0.95v0.95h-0.95zM191.0 385.0h0.95v0.95h-0.95zM189.7 384.3h0.95v0.95h-0.95zM190.6 379.2h0.95v0.95h-0.95zM190.8 386.8h0.95v0.95h-0.95zM190.7 380.7h0.95v0.95h-0.95zM188.7 378.6h0.95v0.95h-0.95zM189.7 377.8h0.95v0.95h-0.95zM190.8 384.1h0.95v0.95h-0.95zM190.3 381.4h0.95v0.95h-0.95zM190.2 378.8h0.95v0.95h-0.95zM190.0 387.4h0.95v0.95h-0.95zM189.7 384.3h0.95v0.95h-0.95zM190.9 381.5h0.95v0.95h-0.95zM190.9 380.8h0.95v0.95h-0.95zM190.1 380.9h0.95v0.95h-0.95zM191.1 381.0h0.95v0.95h-0.95zM188.5 381.7h0.95v0.95h-0.95zM190.2 381.8h0.95v0.95h-0.95z" fill="#000" fill-opacity="1"/>
<path d="M190.2 377.7h0.7v0.7h-0.7zM191.9 378.9h0.7v0.7h-0.7zM190.6 370.8h0.7v0.7h-0.7zM189.8 374.0h0.7v0.7h-0.7zM189.7 375.6h0.7v0.7h-0.7zM189.3 372.0h0.7v0.7h-0.7zM189.8 379.2h0.7v0.7h-0.7zM190.0 379.4h0.7v0.7h-0.7zM191.6 373.4h0.7v0.7h-0.7zM190.2 378.7h0.7v0.7h-0.7zM189.0 376.9h0.7v0.7h-0.7zM190.0 383.5h0.7v0.7h-0.7z" fill="#000" fill-opacity="0.5"/>
<path d="M242.7 383.4h0.95v0.95h-0.95zM243.4 377.5h0.95v0.95h-0.95zM242.2 385.0h0.95v0.95h-0.95zM242.6 386.7h0.95v0.95h-0.95zM242.5 378.8h0.95v0.95h-0.95zM242.7 386.0h0.95v0.95h-0.95zM241.9 380.1h0.95v0.95h-0.95zM243.3 382.5h0.95v0.95h-0.95zM242.8 383.7h0.95v0.95h-0.95zM242.3 384.8h0.95v0.95h-0.95zM243.0 380.5h0.95v0.95h-0.95zM242.8 380.7h0.95v0.95h-0.95zM243.1 376.1h0.95v0.95h-0.95zM242.8 379.3h0.95v0.95h-0.95zM242.3 385.9h0.95v0.95h-0.95zM243.2 380.8h0.95v0.95h-0.95zM243.1 379.9h0.95v0.95h-0.95zM243.1 382.8h0.95v0.95h-0.95zM242.6 381.2h0.95v0.95h-0.95zM243.2 383.2h0.95v0.95h-0.95zM242.7 383.1h0.95v0.95h-0.95zM243.7 384.4h0.95v0.95h-0.95zM243.1 382.4h0.95v0.95h-0.95zM244.2 383.2h0.95v0.95h-0.95zM243.0 381.6h0.95v0.95h-0.95zM244.3 380.3h0.95v0.95h-0.95zM244.5 382.4h0.95v0.95h-0.95zM243.5 382.0h0.95v0.95h-0.95zM243.6 384.7h0.95v0.95h-0.95zM242.7 380.2h0.95v0.95h-0.95zM242.0 379.2h0.95v0.95h-0.95zM243.4 382.7h0.95v0.95h-0.95zM243.0 381.7h0.95v0.95h-0.95zM242.8 384.3h0.95v0.95h-0.95zM242.9 381.7h0.95v0.95h-0.95zM244.0 382.1h0.95v0.95h-0.95zM243.0 381.0h0.95v0.95h-0.95zM242.6 380.6h0.95v0.95h-0.95zM243.4 377.9h0.95v0.95h-0.95zM242.6 380.4h0.95v0.95h-0.95zM241.1 384.1h0.95v0.95h-0.95zM242.0 381.7h0.95v0.95h-0.95z" fill="#000" fill-opacity="1"/>
<path d="M243.1 353.9h0.6v0.6h-0.6zM242.2 370.7h0.6v0.6h-0.6zM242.9 355.0h0.6v0.6h-0.6zM242.3 357.2h0.6v0.6h-0.6zM242.4 351.4h0.6v0.6h-0.6zM243.6 352.9h0.6v0.6h-0.6zM243.6 362.5h0.6v0.6h-0.6zM243.7 361.5h0.6v0.6h-0.6zM242.3 360.3h0.6v0.6h-0.6zM243.0 361.0h0.6v0.6h-0.6zM242.9 365.3h0.6v0.6h-0.6zM243.5 363.0h0.6v0.6h-0.6zM245.0 354.6h0.6v0.6h-0.6zM243.0 352.0h0.6v0.6h-0.6zM242.2 355.2h0.6v0.6h-0.6zM243.6 354.4h0.6v0.6h-0.6z" fill="#000" fill-opacity="0.4"/>
<path d="M244.4 374.0h0.6v0.6h-0.6zM243.3 378.5h0.6v0.6h-0.6zM243.4 370.4h0.6v0.6h-0.6zM243.0 378.0h0.6v0.6h-0.6zM243.6 369.8h0.6v0.6h-0.6zM243.7 374.1h0.6v0.6h-0.6zM243.6 370.8h0.6v0.6h-0.6zM242.1 366.9h0.6v0.6h-0.6z" fill="#000" fill-opacity="0.4"/>
<path d="M295.0 355.3h0.95v0.95h-0.95zM295.1 354.6h0.95v0.95h-0.95zM296.0 354.0h0.95v0.95h-0.95zM295.8 352.1h0.95v0.95h-0.95zM296.0 362.8h0.95v0.95h-0.95zM296.1 355.4h0.95v0.95h-0.95zM294.8 361.7h0.95v0.95h-0.95zM296.6 359.9h0.95v0.95h-0.95zM295.4 359.4h0.95v0.95h-0.95zM295.6 356.9h0.95v0.95h-0.95zM293.9 356.1h0.95v0.95h-0.95zM296.0 360.8h0.95v0.95h-0.95zM297.0 360.4h0.95v0.95h-0.95zM296.3 356.3h0.95v0.95h-0.95zM295.7 360.5h0.95v0.95h-0.95zM294.5 355.5h0.95v0.95h-0.95zM294.3 353.2h0.95v0.95h-0.95zM295.9 358.1h0.95v0.95h-0.95zM294.4 353.9h0.95v0.95h-0.95zM294.1 358.6h0.95v0.95h-0.95zM295.7 362.6h0.95v0.95h-0.95zM294.4 355.8h0.95v0.95h-0.95zM297.4 355.1h0.95v0.95h-0.95zM296.0 351.3h0.95v0.95h-0.95zM294.9 360.2h0.95v0.95h-0.95zM294.9 353.3h0.95v0.95h-0.95zM296.9 360.7h0.95v0.95h-0.95zM296.4 348.9h0.95v0.95h-0.95zM295.0 356.6h0.95v0.95h-0.95zM294.2 352.4h0.95v0.95h-0.95zM295.2 358.1h0.95v0.95h-0.95zM294.1 346.8h0.95v0.95h-0.95zM294.7 352.0h0.95v0.95h-0.95zM295.4 356.4h0.95v0.95h-0.95zM296.4 353.7h0.95v0.95h-0.95zM295.3 353.8h0.95v0.95h-0.95zM295.9 354.3h0.95v0.95h-0.95zM294.0 354.1h0.95v0.95h-0.95zM295.7 354.8h0.95v0.95h-0.95zM297.0 349.4h0.95v0.95h-0.95zM296.3 355.1h0.95v0.95h-0.95zM296.7 356.1h0.95v0.95h-0.95zM295.4 354.6h0.95v0.95h-0.95zM295.4 356.1h0.95v0.95h-0.95zM297.2 360.1h0.95v0.95h-0.95zM295.2 354.3h0.95v0.95h-0.95zM295.3 355.2h0.95v0.95h-0.95zM294.9 359.9h0.95v0.95h-0.95zM295.6 357.3h0.95v0.95h-0.95zM296.0 355.5h0.95v0.95h-0.95zM295.1 353.9h0.95v0.95h-0.95zM294.4 354.8h0.95v0.95h-0.95zM295.6 359.4h0.95v0.95h-0.95zM295.3 359.1h0.95v0.95h-0.95zM295.1 353.5h0.95v0.95h-0.95zM295.9 351.3h0.95v0.95h-0.95zM295.4 353.1h0.95v0.95h-0.95zM295.4 360.0h0.95v0.95h-0.95zM295.1 353.2h0.95v0.95h-0.95zM296.2 355.9h0.95v0.95h-0.95z" fill="#000" fill-opacity="1"/>
<path d="M293.4 370.4h0.6v0.6h-0.6zM295.3 385.4h0.6v0.6h-0.6zM295.1 359.1h0.6v0.6h-0.6zM295.0 377.9h0.6v0.6h-0.6zM295.4 362.4h0.6v0.6h-0.6zM294.8 368.5h0.6v0.6h-0.6zM296.3 378.0h0.6v0.6h-0.6zM294.7 383.5h0.6v0.6h-0.6zM296.4 373.0h0.6v0.6h-0.6zM295.9 367.9h0.6v0.6h-0.6zM294.5 379.0h0.6v0.6h-0.6zM295.9 381.2h0.6v0.6h-0.6zM296.2 376.2h0.6v0.6h-0.6zM297.2 359.8h0.6v0.6h-0.6zM295.5 383.1h0.6v0.6h-0.6zM295.3 373.8h0.6v0.6h-0.6zM296.2 382.7h0.6v0.6h-0.6zM296.7 384.2h0.6v0.6h-0.6zM296.1 371.2h0.6v0.6h-0.6zM295.8 374.4h0.6v0.6h-0.6zM297.0 381.5h0.6v0.6h-0.6zM294.0 359.2h0.6v0.6h-0.6z" fill="#000" fill-opacity="0.45"/>
<path d="M347.4 349.9h0.95v0.95h-0.95zM347.2 355.6h0.95v0.95h-0.95zM348.3 353.4h0.95v0.95h-0.95zM348.1 354.4h0.95v0.95h-0.95zM347.6 355.7h0.95v0.95h-0.95zM347.8 357.0h0.95v0.95h-0.95zM347.3 353.5h0.95v0.95h-0.95zM347.6 359.8h0.95v0.95h-0.95zM348.4 358.7h0.95v0.95h-0.95zM348.0 353.3h0.95v0.95h-0.95zM347.0 358.2h0.95v0.95h-0.95zM347.7 354.0h0.95v0.95h-0.95zM348.1 352.2h0.95v0.95h-0.95zM347.0 353.1h0.95v0.95h-0.95zM349.7 354.2h0.95v0.95h-0.95zM348.1 354.2h0.95v0.95h-0.95zM348.0 354.7h0.95v0.95h-0.95zM347.6 351.4h0.95v0.95h-0.95zM347.2 353.7h0.95v0.95h-0.95zM348.5 355.5h0.95v0.95h-0.95zM349.2 352.1h0.95v0.95h-0.95zM347.3 352.9h0.95v0.95h-0.95zM348.6 348.0h0.95v0.95h-0.95zM348.6 354.6h0.95v0.95h-0.95zM349.0 354.0h0.95v0.95h-0.95zM347.5 350.3h0.95v0.95h-0.95zM348.9 355.7h0.95v0.95h-0.95zM347.8 353.8h0.95v0.95h-0.95zM348.3 355.5h0.95v0.95h-0.95zM347.7 355.7h0.95v0.95h-0.95zM347.4 350.2h0.95v0.95h-0.95zM348.3 350.3h0.95v0.95h-0.95zM347.4 351.9h0.95v0.95h-0.95zM347.7 349.5h0.95v0.95h-0.95zM349.0 356.5h0.95v0.95h-0.95zM349.7 353.7h0.95v0.95h-0.95zM347.9 356.0h0.95v0.95h-0.95zM349.0 352.0h0.95v0.95h-0.95zM348.6 355.9h0.95v0.95h-0.95zM347.8 353.2h0.95v0.95h-0.95zM348.4 353.5h0.95v0.95h-0.95zM348.3 352.6h0.95v0.95h-0.95zM348.4 354.3h0.95v0.95h-0.95zM348.9 355.7h0.95v0.95h-0.95zM347.6 352.9h0.95v0.95h-0.95zM348.1 351.8h0.95v0.95h-0.95zM347.7 355.6h0.95v0.95h-0.95zM346.7 352.0h0.95v0.95h-0.95z" fill="#000" fill-opacity="1"/>
<path d="M348.7 359.2h0.7v0.7h-0.7zM349.1 363.8h0.7v0.7h-0.7zM348.3 380.7h0.7v0.7h-0.7zM347.4 376.0h0.7v0.7h-0.7zM348.0 375.4h0.7v0.7h-0.7zM349.1 364.3h0.7v0.7h-0.7zM347.5 368.1h0.7v0.7h-0.7zM348.9 377.9h0.7v0.7h-0.7zM349.1 373.8h0.7v0.7h-0.7zM347.7 378.5h0.7v0.7h-0.7zM348.0 369.0h0.7v0.7h-0.7zM348.6 374.5h0.7v0.7h-0.7zM348.1 382.2h0.7v0.7h-0.7zM348.8 378.3h0.7v0.7h-0.7zM349.8 375.5h0.7v0.7h-0.7zM349.6 362.5h0.7v0.7h-0.7zM348.5 369.3h0.7v0.7h-0.7zM347.7 373.9h0.7v0.7h-0.7zM347.6 378.7h0.7v0.7h-0.7zM349.4 363.3h0.7v0.7h-0.7zM349.1 379.8h0.7v0.7h-0.7zM349.2 367.6h0.7v0.7h-0.7zM348.4 383.4h0.7v0.7h-0.7zM348.8 373.9h0.7v0.7h-0.7zM349.0 372.7h0.7v0.7h-0.7zM347.1 375.5h0.7v0.7h-0.7zM348.3 374.6h0.7v0.7h-0.7zM348.0 371.0h0.7v0.7h-0.7zM348.3 362.9h0.7v0.7h-0.7zM347.5 377.1h0.7v0.7h-0.7zM349.3 375.6h0.7v0.7h-0.7zM346.2 370.0h0.7v0.7h-0.7zM350.0 369.0h0.7v0.7h-0.7zM348.9 373.3h0.7v0.7h-0.7z" fill="#000" fill-opacity="0.5"/>
<path d="M84.1 436.3h0.9v0.9h-0.9zM85.4 436.4h0.9v0.9h-0.9zM85.1 432.3h0.9v0.9h-0.9zM84.9 435.8h0.9v0.9h-0.9zM85.5 437.5h0.9v0.9h-0.9zM85.0 434.7h0.9v0.9h-0.9zM84.6 437.0h0.9v0.9h-0.9zM85.7 431.1h0.9v0.9h-0.9zM83.5 443.3h0.9v0.9h-0.9zM85.8 439.1h0.9v0.9h-0.9zM85.2 435.8h0.9v0.9h-0.9zM84.8 433.3h0.9v0.9h-0.9zM85.3 436.4h0.9v0.9h-0.9zM84.0 435.5h0.9v0.9h-0.9zM84.7 435.0h0.9v0.9h-0.9zM86.0 440.5h0.9v0.9h-0.9zM83.3 438.6h0.9v0.9h-0.9zM85.6 441.3h0.9v0.9h-0.9zM85.4 430.8h0.9v0.9h-0.9zM85.5 437.3h0.9v0.9h-0.9zM85.8 438.6h0.9v0.9h-0.9zM84.2 443.0h0.9v0.9h-0.9zM84.4 440.7h0.9v0.9h-0.9zM85.2 435.4h0.9v0.9h-0.9zM83.8 434.4h0.9v0.9h-0.9zM84.5 436.5h0.9v0.9h-0.9z" fill="#000" fill-opacity="0.9"/>
<path d="M84.9 457.9h0.9v0.9h-0.9zM85.2 455.7h0.9v0.9h-0.9zM84.4 448.0h0.9v0.9h-0.9zM85.5 454.8h0.9v0.9h-0.9zM85.4 448.0h0.9v0.9h-0.9zM84.5 458.6h0.9v0.9h-0.9zM84.6 448.3h0.9v0.9h-0.9zM85.8 450.5h0.9v0.9h-0.9zM84.7 454.1h0.9v0.9h-0.9zM84.9 456.3h0.9v0.9h-0.9zM84.9 446.2h0.9v0.9h-0.9zM86.3 456.0h0.9v0.9h-0.9zM85.1 449.5h0.9v0.9h-0.9zM84.3 447.3h0.9v0.9h-0.9zM84.3 454.2h0.9v0.9h-0.9zM85.6 448.5h0.9v0.9h-0.9zM84.7 451.9h0.9v0.9h-0.9zM85.0 452.6h0.9v0.9h-0.9zM85.3 452.0h0.9v0.9h-0.9zM85.3 445.3h0.9v0.9h-0.9zM85.4 440.5h0.9v0.9h-0.9zM85.1 448.7h0.9v0.9h-0.9zM85.2 449.1h0.9v0.9h-0.9zM85.1 441.5h0.9v0.9h-0.9zM84.7 446.2h0.9v0.9h-0.9zM85.2 450.9h0.9v0.9h-0.9zM84.8 447.5h0.9v0.9h-0.9zM84.6 449.3h0.9v0.9h-0.9zM85.2 453.2h0.9v0.9h-0.9zM84.9 444.9h0.9v0.9h-0.9zM84.5 453.2h0.9v0.9h-0.9zM84.4 448.2h0.9v0.9h-0.9zM83.8 454.0h0.9v0.9h-0.9zM85.0 446.8h0.9v0.9h-0.9zM84.9 452.6h0.9v0.9h-0.9zM84.9 450.8h0.9v0.9h-0.9zM85.0 444.2h0.9v0.9h-0.9zM84.1 454.4h0.9v0.9h-0.9zM84.7 455.2h0.9v0.9h-0.9zM85.6 447.6h0.9v0.9h-0.9z" fill="#000" fill-opacity="1"/>
<path d="M84.9 423.8h0.6v0.6h-0.6zM86.8 425.0h0.6v0.6h-0.6zM85.3 426.8h0.6v0.6h-0.6zM84.7 423.7h0.6v0.6h-0.6zM85.0 424.8h0.6v0.6h-0.6zM84.4 423.6h0.6v0.6h-0.6zM85.6 422.8h0.6v0.6h-0.6zM84.6 425.8h0.6v0.6h-0.6z" fill="#000" fill-opacity="0.35"/>
<path d="M136.7 454.2h0.95v0.95h-0.95zM138.0 455.2h0.95v0.95h-0.95zM138.8 454.6h0.95v0.95h-0.95zM136.4 456.0h0.95v0.95h-0.95zM137.6 457.3h0.95v0.95h-0.95zM136.4 454.5h0.95v0.95h-0.95zM138.3 455.6h0.95v0.95h-0.95zM138.3 452.7h0.95v0.95h-0.95zM137.8 454.9h0.95v0.95h-0.95zM138.6 451.9h0.95v0.95h-0.95zM138.4 455.6h0.95v0.95h-0.95zM137.5 452.9h0.95v0.95h-0.95zM136.7 450.3h0.95v0.95h-0.95zM137.7 451.9h0.95v0.95h-0.95zM138.3 456.3h0.95v0.95h-0.95zM137.8 458.5h0.95v0.95h-0.95zM137.4 457.8h0.95v0.95h-0.95zM136.3 453.5h0.95v0.95h-0.95zM138.2 454.5h0.95v0.95h-0.95zM138.7 455.2h0.95v0.95h-0.95zM136.9 459.3h0.95v0.95h-0.95zM137.6 454.3h0.95v0.95h-0.95zM137.4 452.6h0.95v0.95h-0.95zM137.2 457.4h0.95v0.95h-0.95zM137.0 454.5h0.95v0.95h-0.95zM136.9 455.1h0.95v0.95h-0.95zM137.9 456.6h0.95v0.95h-0.95zM137.2 452.7h0.95v0.95h-0.95zM137.7 457.7h0.95v0.95h-0.95zM137.6 453.3h0.95v0.95h-0.95zM137.3 458.1h0.95v0.95h-0.95zM136.8 454.5h0.95v0.95h-0.95zM136.3 454.3h0.95v0.95h-0.95zM138.0 458.2h0.95v0.95h-0.95zM137.9 458.2h0.95v0.95h-0.95zM137.0 459.9h0.95v0.95h-0.95zM138.8 449.9h0.95v0.95h-0.95zM136.7 457.3h0.95v0.95h-0.95zM138.0 459.1h0.95v0.95h-0.95zM137.6 451.9h0.95v0.95h-0.95z" fill="#000" fill-opacity="1"/>
<path d="M137.1 441.1h0.6v0.6h-0.6zM137.5 421.2h0.6v0.6h-0.6zM137.4 436.3h0.6v0.6h-0.6zM137.5 435.9h0.6v0.6h-0.6zM137.8 432.1h0.6v0.6h-0.6zM136.9 432.3h0.6v0.6h-0.6zM137.9 428.3h0.6v0.6h-0.6zM138.2 444.2h0.6v0.6h-0.6zM138.0 434.4h0.6v0.6h-0.6zM137.5 426.7h0.6v0.6h-0.6z" fill="#000" fill-opacity="0.3"/>
<path d="M191.0 434.4h0.9v0.9h-0.9zM189.6 441.1h0.9v0.9h-0.9zM190.6 433.8h0.9v0.9h-0.9zM190.2 436.6h0.9v0.9h-0.9zM190.5 429.8h0.9v0.9h-0.9zM189.4 431.2h0.9v0.9h-0.9zM190.1 433.4h0.9v0.9h-0.9zM190.3 441.4h0.9v0.9h-0.9zM190.3 432.8h0.9v0.9h-0.9zM190.0 436.7h0.9v0.9h-0.9zM188.9 439.2h0.9v0.9h-0.9zM190.2 438.0h0.9v0.9h-0.9zM190.8 436.4h0.9v0.9h-0.9zM190.8 437.2h0.9v0.9h-0.9zM189.4 435.7h0.9v0.9h-0.9zM190.0 438.0h0.9v0.9h-0.9zM191.1 431.1h0.9v0.9h-0.9zM190.0 433.4h0.9v0.9h-0.9zM190.1 438.2h0.9v0.9h-0.9zM191.0 430.5h0.9v0.9h-0.9zM190.1 439.7h0.9v0.9h-0.9zM189.5 437.8h0.9v0.9h-0.9zM190.3 440.0h0.9v0.9h-0.9zM190.3 428.5h0.9v0.9h-0.9zM189.4 435.8h0.9v0.9h-0.9zM189.8 434.2h0.9v0.9h-0.9zM190.7 432.0h0.9v0.9h-0.9zM190.1 438.5h0.9v0.9h-0.9zM188.8 436.0h0.9v0.9h-0.9zM189.8 433.4h0.9v0.9h-0.9zM191.3 433.4h0.9v0.9h-0.9zM190.4 432.8h0.9v0.9h-0.9zM189.4 436.0h0.9v0.9h-0.9zM190.7 435.0h0.9v0.9h-0.9zM190.4 435.0h0.9v0.9h-0.9zM190.7 436.1h0.9v0.9h-0.9zM190.1 437.7h0.9v0.9h-0.9zM190.3 435.8h0.9v0.9h-0.9zM189.8 436.0h0.9v0.9h-0.9zM189.8 439.5h0.9v0.9h-0.9zM190.0 438.1h0.9v0.9h-0.9zM189.7 437.1h0.9v0.9h-0.9zM189.0 433.5h0.9v0.9h-0.9zM190.7 436.2h0.9v0.9h-0.9zM188.7 434.0h0.9v0.9h-0.9zM189.9 433.2h0.9v0.9h-0.9zM189.0 431.2h0.9v0.9h-0.9zM191.0 434.0h0.9v0.9h-0.9z" fill="#000" fill-opacity="1"/>
<path d="M190.8 452.0h0.6v0.6h-0.6zM189.7 449.6h0.6v0.6h-0.6zM190.3 443.2h0.6v0.6h-0.6zM190.4 448.9h0.6v0.6h-0.6zM190.4 446.7h0.6v0.6h-0.6zM189.9 448.7h0.6v0.6h-0.6zM189.6 453.6h0.6v0.6h-0.6zM190.5 448.6h0.6v0.6h-0.6zM190.0 450.5h0.6v0.6h-0.6zM190.3 446.2h0.6v0.6h-0.6zM190.7 457.6h0.6v0.6h-0.6zM191.7 452.0h0.6v0.6h-0.6zM190.5 450.4h0.6v0.6h-0.6zM189.7 449.6h0.6v0.6h-0.6zM189.9 445.7h0.6v0.6h-0.6zM190.2 449.8h0.6v0.6h-0.6zM190.3 449.2h0.6v0.6h-0.6zM188.9 451.5h0.6v0.6h-0.6zM189.7 448.0h0.6v0.6h-0.6zM189.1 451.2h0.6v0.6h-0.6zM190.5 447.4h0.6v0.6h-0.6zM189.9 445.7h0.6v0.6h-0.6z" fill="#000" fill-opacity="0.45"/>
<path d="M243.6 423.1h0.95v0.95h-0.95zM241.4 422.9h0.95v0.95h-0.95zM242.4 423.6h0.95v0.95h-0.95zM242.3 424.7h0.95v0.95h-0.95zM243.4 427.5h0.95v0.95h-0.95zM241.9 423.8h0.95v0.95h-0.95zM242.2 426.0h0.95v0.95h-0.95zM243.7 425.9h0.95v0.95h-0.95zM242.2 424.7h0.95v0.95h-0.95zM241.6 424.1h0.95v0.95h-0.95zM242.5 423.0h0.95v0.95h-0.95zM242.5 426.3h0.95v0.95h-0.95zM242.1 424.8h0.95v0.95h-0.95zM242.3 420.9h0.95v0.95h-0.95zM243.0 422.1h0.95v0.95h-0.95zM241.0 424.8h0.95v0.95h-0.95zM242.5 425.1h0.95v0.95h-0.95zM242.7 426.3h0.95v0.95h-0.95zM242.6 426.1h0.95v0.95h-0.95zM242.8 422.1h0.95v0.95h-0.95zM242.5 425.1h0.95v0.95h-0.95zM242.7 424.3h0.95v0.95h-0.95zM242.3 427.0h0.95v0.95h-0.95zM242.8 422.8h0.95v0.95h-0.95zM243.4 424.9h0.95v0.95h-0.95zM242.5 424.2h0.95v0.95h-0.95zM240.4 419.9h0.95v0.95h-0.95zM241.9 426.3h0.95v0.95h-0.95zM242.8 422.0h0.95v0.95h-0.95zM243.1 426.9h0.95v0.95h-0.95zM241.4 423.0h0.95v0.95h-0.95zM241.2 422.4h0.95v0.95h-0.95zM240.8 422.6h0.95v0.95h-0.95zM242.5 424.5h0.95v0.95h-0.95zM243.0 425.8h0.95v0.95h-0.95zM242.0 420.6h0.95v0.95h-0.95zM242.5 424.3h0.95v0.95h-0.95zM241.5 426.0h0.95v0.95h-0.95zM241.9 425.1h0.95v0.95h-0.95zM242.8 426.9h0.95v0.95h-0.95zM240.9 421.7h0.95v0.95h-0.95zM242.0 426.0h0.95v0.95h-0.95zM243.6 423.7h0.95v0.95h-0.95zM242.3 427.0h0.95v0.95h-0.95zM242.1 424.5h0.95v0.95h-0.95zM243.1 425.5h0.95v0.95h-0.95zM242.2 425.5h0.95v0.95h-0.95zM242.3 423.0h0.95v0.95h-0.95zM241.5 424.9h0.95v0.95h-0.95zM243.8 424.5h0.95v0.95h-0.95zM242.3 425.3h0.95v0.95h-0.95zM241.8 424.2h0.95v0.95h-0.95zM242.8 424.5h0.95v0.95h-0.95zM243.1 424.7h0.95v0.95h-0.95zM242.1 425.3h0.95v0.95h-0.95zM243.1 427.2h0.95v0.95h-0.95zM241.4 423.2h0.95v0.95h-0.95zM244.2 424.5h0.95v0.95h-0.95zM243.7 424.9h0.95v0.95h-0.95zM241.9 422.9h0.95v0.95h-0.95zM241.9 426.1h0.95v0.95h-0.95zM241.1 422.7h0.95v0.95h-0.95zM242.7 424.6h0.95v0.95h-0.95zM241.9 423.3h0.95v0.95h-0.95zM241.7 423.5h0.95v0.95h-0.95zM243.9 425.0h0.95v0.95h-0.95zM242.7 425.7h0.95v0.95h-0.95zM242.3 420.5h0.95v0.95h-0.95zM243.5 421.2h0.95v0.95h-0.95zM242.2 425.4h0.95v0.95h-0.95zM240.9 425.1h0.95v0.95h-0.95zM241.7 422.4h0.95v0.95h-0.95zM242.2 423.2h0.95v0.95h-0.95zM241.6 423.6h0.95v0.95h-0.95zM242.9 423.3h0.95v0.95h-0.95z" fill="#000" fill-opacity="1"/>
<path d="M241.8 431.4h0.6v0.6h-0.6zM242.3 426.2h0.6v0.6h-0.6zM242.6 430.9h0.6v0.6h-0.6zM242.8 432.8h0.6v0.6h-0.6zM242.5 429.6h0.6v0.6h-0.6zM243.1 435.2h0.6v0.6h-0.6zM242.9 434.8h0.6v0.6h-0.6zM243.7 431.5h0.6v0.6h-0.6zM242.1 436.4h0.6v0.6h-0.6zM242.2 431.0h0.6v0.6h-0.6z" fill="#000" fill-opacity="0.4"/>
<path d="M243.0 455.2h0.6v0.6h-0.6zM243.3 443.6h0.6v0.6h-0.6zM241.9 447.5h0.6v0.6h-0.6zM241.8 455.4h0.6v0.6h-0.6zM243.0 444.0h0.6v0.6h-0.6zM242.8 456.6h0.6v0.6h-0.6zM243.2 454.4h0.6v0.6h-0.6zM241.9 452.9h0.6v0.6h-0.6z" fill="#000" fill-opacity="0.35"/>
<path d="M294.6 454.4h0.9v0.9h-0.9zM295.3 457.2h0.9v0.9h-0.9zM295.1 452.5h0.9v0.9h-0.9zM295.9 453.7h0.9v0.9h-0.9zM295.0 458.5h0.9v0.9h-0.9zM295.0 454.6h0.9v0.9h-0.9zM295.1 451.8h0.9v0.9h-0.9zM295.0 454.6h0.9v0.9h-0.9zM294.9 454.1h0.9v0.9h-0.9zM294.9 459.3h0.9v0.9h-0.9zM294.7 452.7h0.9v0.9h-0.9zM295.0 458.0h0.9v0.9h-0.9zM294.9 457.2h0.9v0.9h-0.9zM295.0 458.7h0.9v0.9h-0.9zM295.0 449.1h0.9v0.9h-0.9zM294.1 459.8h0.9v0.9h-0.9zM294.5 460.0h0.9v0.9h-0.9zM295.3 450.1h0.9v0.9h-0.9zM295.6 452.7h0.9v0.9h-0.9zM295.3 453.3h0.9v0.9h-0.9zM294.4 454.8h0.9v0.9h-0.9zM294.8 454.8h0.9v0.9h-0.9zM295.0 459.5h0.9v0.9h-0.9zM294.5 458.7h0.9v0.9h-0.9zM294.9 451.0h0.9v0.9h-0.9zM295.4 457.6h0.9v0.9h-0.9zM295.4 453.7h0.9v0.9h-0.9zM295.7 457.9h0.9v0.9h-0.9zM294.8 456.6h0.9v0.9h-0.9zM293.9 454.4h0.9v0.9h-0.9zM294.7 454.2h0.9v0.9h-0.9zM295.5 455.2h0.9v0.9h-0.9zM296.0 449.1h0.9v0.9h-0.9zM295.3 453.7h0.9v0.9h-0.9z" fill="#000" fill-opacity="0.9"/>
<path d="M295.2 427.1h0.6v0.6h-0.6zM294.8 429.2h0.6v0.6h-0.6zM296.1 431.7h0.6v0.6h-0.6z" fill="#000" fill-opacity="0.3"/>
<path d="M348.5 430.5h0.95v0.95h-0.95zM348.2 433.8h0.95v0.95h-0.95zM347.3 427.1h0.95v0.95h-0.95zM347.8 428.2h0.95v0.95h-0.95zM347.9 433.8h0.95v0.95h-0.95zM346.7 433.4h0.95v0.95h-0.95zM347.6 429.0h0.95v0.95h-0.95zM349.2 425.5h0.95v0.95h-0.95zM346.7 430.3h0.95v0.95h-0.95zM347.5 427.8h0.95v0.95h-0.95zM347.6 425.7h0.95v0.95h-0.95zM347.6 428.7h0.95v0.95h-0.95zM347.3 430.0h0.95v0.95h-0.95zM347.7 428.7h0.95v0.95h-0.95zM348.1 429.4h0.95v0.95h-0.95zM347.8 427.3h0.95v0.95h-0.95zM347.2 424.5h0.95v0.95h-0.95zM347.1 427.4h0.95v0.95h-0.95zM347.6 427.6h0.95v0.95h-0.95zM347.5 434.6h0.95v0.95h-0.95zM347.7 431.1h0.95v0.95h-0.95zM348.1 431.6h0.95v0.95h-0.95zM347.9 428.3h0.95v0.95h-0.95zM346.3 428.5h0.95v0.95h-0.95zM348.2 430.7h0.95v0.95h-0.95zM347.4 432.4h0.95v0.95h-0.95zM348.9 426.7h0.95v0.95h-0.95zM347.4 430.6h0.95v0.95h-0.95zM346.2 428.4h0.95v0.95h-0.95zM347.6 431.2h0.95v0.95h-0.95zM346.5 433.3h0.95v0.95h-0.95zM347.5 430.8h0.95v0.95h-0.95zM347.0 431.0h0.95v0.95h-0.95zM347.8 433.8h0.95v0.95h-0.95zM347.8 432.2h0.95v0.95h-0.95zM346.8 433.5h0.95v0.95h-0.95zM348.3 428.5h0.95v0.95h-0.95zM347.1 430.7h0.95v0.95h-0.95zM347.4 427.8h0.95v0.95h-0.95zM348.1 429.5h0.95v0.95h-0.95zM347.1 427.9h0.95v0.95h-0.95zM348.0 432.0h0.95v0.95h-0.95zM349.0 427.4h0.95v0.95h-0.95zM347.6 430.8h0.95v0.95h-0.95zM347.1 423.9h0.95v0.95h-0.95zM348.1 431.4h0.95v0.95h-0.95zM347.0 435.6h0.95v0.95h-0.95zM348.0 428.3h0.95v0.95h-0.95z" fill="#000" fill-opacity="1"/>
<path d="M348.4 447.1h0.6v0.6h-0.6zM347.0 460.4h0.6v0.6h-0.6zM347.1 444.0h0.6v0.6h-0.6zM349.0 443.3h0.6v0.6h-0.6zM347.7 453.6h0.6v0.6h-0.6zM347.7 451.6h0.6v0.6h-0.6zM347.5 456.4h0.6v0.6h-0.6zM347.8 448.8h0.6v0.6h-0.6zM348.4 439.8h0.6v0.6h-0.6zM348.8 444.1h0.6v0.6h-0.6zM347.3 457.0h0.6v0.6h-0.6zM347.7 440.5h0.6v0.6h-0.6zM347.5 444.5h0.6v0.6h-0.6zM348.0 449.5h0.6v0.6h-0.6zM347.2 450.9h0.6v0.6h-0.6zM348.7 460.4h0.6v0.6h-0.6zM348.5 445.3h0.6v0.6h-0.6zM348.2 449.8h0.6v0.6h-0.6zM347.2 440.6h0.6v0.6h-0.6zM346.9 452.5h0.6v0.6h-0.6zM348.0 453.4h0.6v0.6h-0.6zM348.0 449.2h0.6v0.6h-0.6zM349.5 448.6h0.6v0.6h-0.6zM348.2 450.0h0.6v0.6h-0.6z" fill="#000" fill-opacity="0.45"/>
</g>
</svg>
</body></html>
